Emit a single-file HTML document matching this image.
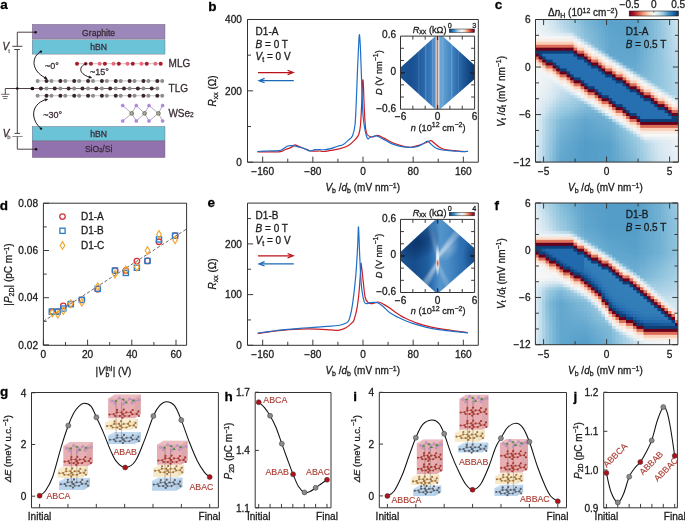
<!DOCTYPE html>
<html><head><meta charset="utf-8"><style>
html,body{margin:0;padding:0;background:#fff;width:685px;height:521px;overflow:hidden}
svg{display:block;will-change:transform}
text{font-family:"Liberation Sans",sans-serif;stroke-width:0.28px}
</style></head><body>
<svg width="685" height="521" viewBox="0 0 685 521">
<rect width="685" height="521" fill="#fff"/>
<rect x="32.2" y="24.3" width="132.8" height="14.599999999999998" fill="#9b87b9" stroke="#6d5f73" stroke-width="0.4"/>
<rect x="32.2" y="39.8" width="132.8" height="14.300000000000004" fill="#6bc3d8" stroke="#6d5f73" stroke-width="0.4"/>
<rect x="32.2" y="126.4" width="132.8" height="14.5" fill="#6bc3d8" stroke="#6d5f73" stroke-width="0.4"/>
<rect x="32.2" y="141.0" width="132.8" height="16.599999999999994" fill="#9272ae" stroke="#6d5f73" stroke-width="0.4"/>
<text x="98.6" y="35.7" font-size="8.6" fill="#3a2c36" stroke="#3a2c36" text-anchor="middle">Graphite</text>
<text x="98.6" y="50.2" font-size="8.6" fill="#3a2c36" stroke="#3a2c36" text-anchor="middle">hBN</text>
<text x="98.6" y="136.8" font-size="8.6" fill="#3a2c36" stroke="#3a2c36" text-anchor="middle">hBN</text>
<text x="98.6" y="152.1" font-size="8.6" fill="#3a2c36" stroke="#3a2c36" text-anchor="middle">SiO<tspan font-size="5.5">2</tspan>/Si</text>
<polyline points="35.6,32.2 17.3,32.2 17.3,46.3" fill="none" stroke="#3d2d2d" stroke-width="0.9"/>
<line x1="12.3" y1="46.3" x2="22.4" y2="46.3" stroke="#3d2d2d" stroke-width="0.9"/>
<line x1="14.2" y1="49.5" x2="19.9" y2="49.5" stroke="#3d2d2d" stroke-width="0.9"/>
<line x1="17.3" y1="49.5" x2="17.3" y2="133.4" stroke="#3d2d2d" stroke-width="0.9"/>
<line x1="14.6" y1="133.4" x2="20.1" y2="133.4" stroke="#3d2d2d" stroke-width="0.9"/>
<line x1="12.3" y1="136.5" x2="22.7" y2="136.5" stroke="#8a8080" stroke-width="0.9"/>
<polyline points="17.3,136.5 17.3,149.2 36.1,149.2" fill="none" stroke="#3d2d2d" stroke-width="0.9"/>
<circle cx="35.6" cy="32.2" r="1.25" fill="#1a1010"/>
<circle cx="36.1" cy="149.2" r="1.25" fill="#1a1010"/>
<polyline points="32.4,88.5 5.3,88.5 5.3,94.3" fill="none" stroke="#3d2d2d" stroke-width="0.9"/>
<line x1="1.1" y1="94.3" x2="9.6" y2="94.3" stroke="#3d2d2d" stroke-width="0.7"/>
<line x1="2.3" y1="96.5" x2="7.9" y2="96.5" stroke="#3d2d2d" stroke-width="0.7"/>
<line x1="3.2" y1="98.6" x2="7.3" y2="98.6" stroke="#3d2d2d" stroke-width="0.7"/>
<circle cx="17.3" cy="88.5" r="1.3" fill="#1a1010"/>
<text x="2.6" y="50.3" font-size="10" font-style="italic" fill="#3a2c36" stroke="#3a2c36">V</text>
<text x="8.2" y="52.6" font-size="6" fill="#7a7070" stroke="#7a7070">t</text>
<text x="2.8" y="136.7" font-size="10" font-style="italic" fill="#3a2c36" stroke="#3a2c36">V</text>
<text x="7.2" y="139.3" font-size="6" fill="#7a7070" stroke="#7a7070">b</text>
<line x1="77" y1="63.7" x2="160.7" y2="63.7" stroke="#b8a8a8" stroke-width="0.7"/>
<circle cx="77.00" cy="63.7" r="2.0" fill="#a81c2e"/>
<circle cx="90.95" cy="63.7" r="2.0" fill="#a81c2e"/>
<circle cx="104.90" cy="63.7" r="2.0" fill="#a81c2e"/>
<circle cx="118.85" cy="63.7" r="2.0" fill="#a81c2e"/>
<circle cx="132.80" cy="63.7" r="2.0" fill="#a81c2e"/>
<circle cx="146.75" cy="63.7" r="2.0" fill="#a81c2e"/>
<circle cx="160.70" cy="63.7" r="2.0" fill="#a81c2e"/>
<circle cx="85.70" cy="63.7" r="2.0" fill="#e86c7c"/>
<circle cx="99.64" cy="63.7" r="2.0" fill="#e86c7c"/>
<circle cx="113.58" cy="63.7" r="2.0" fill="#e86c7c"/>
<circle cx="127.52" cy="63.7" r="2.0" fill="#e86c7c"/>
<circle cx="141.46" cy="63.7" r="2.0" fill="#e86c7c"/>
<circle cx="155.40" cy="63.7" r="2.0" fill="#e86c7c"/>
<line x1="37.6" y1="80.9" x2="162.3" y2="80.9" stroke="#b0b0b0" stroke-width="0.7"/>
<circle cx="37.60" cy="80.9" r="2.0" fill="#8e8e8e"/>
<circle cx="51.45" cy="80.9" r="2.0" fill="#8e8e8e"/>
<circle cx="65.30" cy="80.9" r="2.0" fill="#8e8e8e"/>
<circle cx="79.15" cy="80.9" r="2.0" fill="#8e8e8e"/>
<circle cx="93.00" cy="80.9" r="2.0" fill="#8e8e8e"/>
<circle cx="106.85" cy="80.9" r="2.0" fill="#8e8e8e"/>
<circle cx="120.70" cy="80.9" r="2.0" fill="#8e8e8e"/>
<circle cx="134.55" cy="80.9" r="2.0" fill="#8e8e8e"/>
<circle cx="148.40" cy="80.9" r="2.0" fill="#8e8e8e"/>
<circle cx="162.25" cy="80.9" r="2.0" fill="#8e8e8e"/>
<circle cx="46.50" cy="80.9" r="2.0" fill="#3c2630"/>
<circle cx="60.35" cy="80.9" r="2.0" fill="#3c2630"/>
<circle cx="74.20" cy="80.9" r="2.0" fill="#3c2630"/>
<circle cx="88.05" cy="80.9" r="2.0" fill="#3c2630"/>
<circle cx="101.90" cy="80.9" r="2.0" fill="#3c2630"/>
<circle cx="115.75" cy="80.9" r="2.0" fill="#3c2630"/>
<circle cx="129.60" cy="80.9" r="2.0" fill="#3c2630"/>
<circle cx="143.45" cy="80.9" r="2.0" fill="#3c2630"/>
<circle cx="157.30" cy="80.9" r="2.0" fill="#3c2630"/>
<line x1="37.6" y1="95.7" x2="162.3" y2="95.7" stroke="#b0b0b0" stroke-width="0.7"/>
<circle cx="37.60" cy="95.7" r="2.0" fill="#8e8e8e"/>
<circle cx="51.45" cy="95.7" r="2.0" fill="#8e8e8e"/>
<circle cx="65.30" cy="95.7" r="2.0" fill="#8e8e8e"/>
<circle cx="79.15" cy="95.7" r="2.0" fill="#8e8e8e"/>
<circle cx="93.00" cy="95.7" r="2.0" fill="#8e8e8e"/>
<circle cx="106.85" cy="95.7" r="2.0" fill="#8e8e8e"/>
<circle cx="120.70" cy="95.7" r="2.0" fill="#8e8e8e"/>
<circle cx="134.55" cy="95.7" r="2.0" fill="#8e8e8e"/>
<circle cx="148.40" cy="95.7" r="2.0" fill="#8e8e8e"/>
<circle cx="162.25" cy="95.7" r="2.0" fill="#8e8e8e"/>
<circle cx="46.50" cy="95.7" r="2.0" fill="#3c2630"/>
<circle cx="60.35" cy="95.7" r="2.0" fill="#3c2630"/>
<circle cx="74.20" cy="95.7" r="2.0" fill="#3c2630"/>
<circle cx="88.05" cy="95.7" r="2.0" fill="#3c2630"/>
<circle cx="101.90" cy="95.7" r="2.0" fill="#3c2630"/>
<circle cx="115.75" cy="95.7" r="2.0" fill="#3c2630"/>
<circle cx="129.60" cy="95.7" r="2.0" fill="#3c2630"/>
<circle cx="143.45" cy="95.7" r="2.0" fill="#3c2630"/>
<circle cx="157.30" cy="95.7" r="2.0" fill="#3c2630"/>
<line x1="32.4" y1="88.5" x2="157.3" y2="88.5" stroke="#4a3a40" stroke-width="0.75"/>
<circle cx="32.4" cy="88.5" r="1.85" fill="#1a1010"/>
<circle cx="46.50" cy="88.5" r="2.0" fill="#8e8e8e"/>
<circle cx="40.90" cy="88.5" r="2.0" fill="#3c2630"/>
<circle cx="60.35" cy="88.5" r="2.0" fill="#8e8e8e"/>
<circle cx="54.75" cy="88.5" r="2.0" fill="#3c2630"/>
<circle cx="74.20" cy="88.5" r="2.0" fill="#8e8e8e"/>
<circle cx="68.60" cy="88.5" r="2.0" fill="#3c2630"/>
<circle cx="88.05" cy="88.5" r="2.0" fill="#8e8e8e"/>
<circle cx="82.45" cy="88.5" r="2.0" fill="#3c2630"/>
<circle cx="101.90" cy="88.5" r="2.0" fill="#8e8e8e"/>
<circle cx="96.30" cy="88.5" r="2.0" fill="#3c2630"/>
<circle cx="115.75" cy="88.5" r="2.0" fill="#8e8e8e"/>
<circle cx="110.15" cy="88.5" r="2.0" fill="#3c2630"/>
<circle cx="129.60" cy="88.5" r="2.0" fill="#8e8e8e"/>
<circle cx="124.00" cy="88.5" r="2.0" fill="#3c2630"/>
<circle cx="143.45" cy="88.5" r="2.0" fill="#8e8e8e"/>
<circle cx="137.85" cy="88.5" r="2.0" fill="#3c2630"/>
<circle cx="157.30" cy="88.5" r="2.0" fill="#8e8e8e"/>
<circle cx="151.70" cy="88.5" r="2.0" fill="#3c2630"/>
<text x="168.6" y="67.3" font-size="10" fill="#3a2c36" stroke="#3a2c36">MLG</text>
<text x="168.6" y="92.0" font-size="10" fill="#3a2c36" stroke="#3a2c36">TLG</text>
<text x="168.4" y="117.0" font-size="10" fill="#3a2c36" stroke="#3a2c36">WSe<tspan font-size="6.5">2</tspan></text>
<line x1="122.7" y1="105.5" x2="127.19999999999999" y2="109.45" stroke="#9b6fd0" stroke-width="0.7"/>
<line x1="127.19999999999999" y1="109.45" x2="131.7" y2="113.4" stroke="#8a8a80" stroke-width="0.7"/>
<line x1="122.7" y1="121.0" x2="127.19999999999999" y2="117.2" stroke="#9b6fd0" stroke-width="0.7"/>
<line x1="127.19999999999999" y1="117.2" x2="131.7" y2="113.4" stroke="#8a8a80" stroke-width="0.7"/>
<line x1="136.3" y1="105.5" x2="134.0" y2="109.45" stroke="#9b6fd0" stroke-width="0.7"/>
<line x1="134.0" y1="109.45" x2="131.7" y2="113.4" stroke="#8a8a80" stroke-width="0.7"/>
<line x1="136.3" y1="121.0" x2="134.0" y2="117.2" stroke="#9b6fd0" stroke-width="0.7"/>
<line x1="134.0" y1="117.2" x2="131.7" y2="113.4" stroke="#8a8a80" stroke-width="0.7"/>
<line x1="136.3" y1="105.5" x2="140.45" y2="109.45" stroke="#9b6fd0" stroke-width="0.7"/>
<line x1="140.45" y1="109.45" x2="144.6" y2="113.4" stroke="#8a8a80" stroke-width="0.7"/>
<line x1="136.3" y1="121.0" x2="140.45" y2="117.2" stroke="#9b6fd0" stroke-width="0.7"/>
<line x1="140.45" y1="117.2" x2="144.6" y2="113.4" stroke="#8a8a80" stroke-width="0.7"/>
<line x1="149.0" y1="105.5" x2="146.8" y2="109.45" stroke="#9b6fd0" stroke-width="0.7"/>
<line x1="146.8" y1="109.45" x2="144.6" y2="113.4" stroke="#8a8a80" stroke-width="0.7"/>
<line x1="149.0" y1="121.0" x2="146.8" y2="117.2" stroke="#9b6fd0" stroke-width="0.7"/>
<line x1="146.8" y1="117.2" x2="144.6" y2="113.4" stroke="#8a8a80" stroke-width="0.7"/>
<line x1="149.0" y1="105.5" x2="153.7" y2="109.45" stroke="#9b6fd0" stroke-width="0.7"/>
<line x1="153.7" y1="109.45" x2="158.4" y2="113.4" stroke="#8a8a80" stroke-width="0.7"/>
<line x1="149.0" y1="121.0" x2="153.7" y2="117.2" stroke="#9b6fd0" stroke-width="0.7"/>
<line x1="153.7" y1="117.2" x2="158.4" y2="113.4" stroke="#8a8a80" stroke-width="0.7"/>
<line x1="162.6" y1="105.5" x2="160.5" y2="109.45" stroke="#9b6fd0" stroke-width="0.7"/>
<line x1="160.5" y1="109.45" x2="158.4" y2="113.4" stroke="#8a8a80" stroke-width="0.7"/>
<line x1="162.6" y1="121.0" x2="160.5" y2="117.2" stroke="#9b6fd0" stroke-width="0.7"/>
<line x1="160.5" y1="117.2" x2="158.4" y2="113.4" stroke="#8a8a80" stroke-width="0.7"/>
<circle cx="122.7" cy="105.5" r="1.5" fill="#b389e6" stroke="#8a5cc0" stroke-width="0.4"/>
<circle cx="122.7" cy="121.0" r="1.5" fill="#b389e6" stroke="#8a5cc0" stroke-width="0.4"/>
<circle cx="136.3" cy="105.5" r="1.5" fill="#b389e6" stroke="#8a5cc0" stroke-width="0.4"/>
<circle cx="136.3" cy="121.0" r="1.5" fill="#b389e6" stroke="#8a5cc0" stroke-width="0.4"/>
<circle cx="149.0" cy="105.5" r="1.5" fill="#b389e6" stroke="#8a5cc0" stroke-width="0.4"/>
<circle cx="149.0" cy="121.0" r="1.5" fill="#b389e6" stroke="#8a5cc0" stroke-width="0.4"/>
<circle cx="162.6" cy="105.5" r="1.5" fill="#b389e6" stroke="#8a5cc0" stroke-width="0.4"/>
<circle cx="162.6" cy="121.0" r="1.5" fill="#b389e6" stroke="#8a5cc0" stroke-width="0.4"/>
<circle cx="131.7" cy="113.4" r="1.9" fill="#a8a89a" stroke="#4a4a40" stroke-width="0.6"/>
<circle cx="144.6" cy="113.4" r="1.9" fill="#a8a89a" stroke="#4a4a40" stroke-width="0.6"/>
<circle cx="158.4" cy="113.4" r="1.9" fill="#a8a89a" stroke="#4a4a40" stroke-width="0.6"/>
<circle cx="40.9" cy="51.6" r="1.2" fill="#1a1010"/>
<path d="M40.9,51.6 C32,56 30,70 45.5,78" fill="none" stroke="#1e1418" stroke-width="1.0"/><polygon points="47.6,79.2 43.87,78.76 45.56,76.04" fill="#1e1418"/>
<circle cx="85.7" cy="63.7" r="1.2" fill="#1a1010"/>
<path d="M85.7,63.7 C80,66 77,73 89.5,77.2" fill="none" stroke="#1e1418" stroke-width="1.0"/><polygon points="92.2,78.0 88.47,78.47 89.46,75.43" fill="#1e1418"/>
<circle cx="41.0" cy="128.6" r="1.2" fill="#1a1010"/>
<path d="M41,128.6 C31,120 30,105 45.5,99.6" fill="none" stroke="#1e1418" stroke-width="1.0"/><polygon points="48.2,98.9 45.55,101.57 44.46,98.56" fill="#1e1418"/>
<text x="45" y="68.9" font-size="9" fill="#3a2c36" stroke="#3a2c36">~0°</text>
<text x="90" y="75.1" font-size="9" fill="#3a2c36" stroke="#3a2c36">~15°</text>
<text x="43.2" y="118.3" font-size="9" fill="#3a2c36" stroke="#3a2c36">~30°</text>
<line x1="262.68" y1="162.2" x2="262.68" y2="156.6" stroke="#333333" stroke-width="0.95" />
<text x="262.68" y="175.2" font-size="10.1" text-anchor="middle" fill="#1a1a1a" stroke="#1a1a1a" >−160</text>
<line x1="312.84" y1="162.2" x2="312.84" y2="156.6" stroke="#333333" stroke-width="0.95" />
<text x="312.84" y="175.2" font-size="10.1" text-anchor="middle" fill="#1a1a1a" stroke="#1a1a1a" >−80</text>
<line x1="363" y1="162.2" x2="363" y2="156.6" stroke="#333333" stroke-width="0.95" />
<text x="363" y="175.2" font-size="10.1" text-anchor="middle" fill="#1a1a1a" stroke="#1a1a1a" >0</text>
<line x1="413.16" y1="162.2" x2="413.16" y2="156.6" stroke="#333333" stroke-width="0.95" />
<text x="413.16" y="175.2" font-size="10.1" text-anchor="middle" fill="#1a1a1a" stroke="#1a1a1a" >80</text>
<line x1="463.32" y1="162.2" x2="463.32" y2="156.6" stroke="#333333" stroke-width="0.95" />
<text x="463.32" y="175.2" font-size="10.1" text-anchor="middle" fill="#1a1a1a" stroke="#1a1a1a" >160</text>
<line x1="287.76" y1="162.2" x2="287.76" y2="158.7" stroke="#333333" stroke-width="0.95" />
<line x1="337.92" y1="162.2" x2="337.92" y2="158.7" stroke="#333333" stroke-width="0.95" />
<line x1="388.08" y1="162.2" x2="388.08" y2="158.7" stroke="#333333" stroke-width="0.95" />
<line x1="438.24" y1="162.2" x2="438.24" y2="158.7" stroke="#333333" stroke-width="0.95" />
<line x1="247.5" y1="162.2" x2="253.1" y2="162.2" stroke="#333333" stroke-width="0.95" />
<text x="241.9" y="165.9" font-size="10.1" text-anchor="end" fill="#1a1a1a" stroke="#1a1a1a" >0</text>
<line x1="247.5" y1="90.84" x2="253.1" y2="90.84" stroke="#333333" stroke-width="0.95" />
<text x="241.9" y="94.54" font-size="10.1" text-anchor="end" fill="#1a1a1a" stroke="#1a1a1a" >200</text>
<line x1="247.5" y1="19.48" x2="253.1" y2="19.48" stroke="#333333" stroke-width="0.95" />
<text x="241.9" y="23.18" font-size="10.1" text-anchor="end" fill="#1a1a1a" stroke="#1a1a1a" >400</text>
<line x1="247.5" y1="126.52" x2="251" y2="126.52" stroke="#333333" stroke-width="0.95" />
<line x1="247.5" y1="55.16" x2="251" y2="55.16" stroke="#333333" stroke-width="0.95" />
<line x1="247.5" y1="19.5" x2="247.5" y2="162.2" stroke="#333333" stroke-width="1.0" /><line x1="247.5" y1="162.2" x2="478.3" y2="162.2" stroke="#333333" stroke-width="1.0" /><line x1="478.3" y1="19.5" x2="478.3" y2="162.2" stroke="#333333" stroke-width="1.0" /><line x1="247.5" y1="19.5" x2="478.3" y2="19.5" stroke="#333333" stroke-width="1.0" />
<path d="M257.4,151.8 C260.98,151.8 274.3,152.15 278.9,151.8 C283.5,151.45 282.95,150.43 285,149.7 C287.05,148.97 289.58,148.22 291.2,147.4 C292.82,146.58 293.4,144.93 294.7,144.8 C296,144.67 297.12,145.87 299,146.6 C300.88,147.33 304.1,148.47 306,149.2 C307.9,149.93 308.07,150.7 310.4,151 C312.73,151.3 317.8,150.92 320,151 C322.2,151.08 321.83,151.6 323.6,151.5 C325.37,151.4 327.98,150.83 330.6,150.4 C333.22,149.97 336.38,149.68 339.3,148.9 C342.22,148.12 345.47,147.25 348.1,145.7 C350.73,144.15 353.33,141.47 355.1,139.6 C356.88,137.73 357.85,136.93 358.75,134.5 C359.65,132.07 360,130.33 360.5,125 C361,119.67 361.42,109.57 361.75,102.5 C362.08,95.43 362.25,85.92 362.5,82.6 C362.75,79.28 362.96,78.45 363.25,82.6 C363.54,86.75 363.88,100.02 364.25,107.5 C364.62,114.98 364.96,122.92 365.5,127.5 C366.04,132.08 366.33,133.42 367.5,135 C368.67,136.58 370.83,136.93 372.5,137 C374.17,137.07 375.5,135.17 377.5,135.4 C379.5,135.63 381.87,137.13 384.5,138.4 C387.13,139.67 390.08,141.67 393.3,143 C396.52,144.33 400.88,145.68 403.8,146.4 C406.72,147.12 408.17,147.53 410.8,147.3 C413.43,147.07 416.97,145.82 419.6,145 C422.23,144.18 424.7,143.12 426.6,142.4 C428.5,141.68 429.68,140.55 431,140.7 C432.32,140.85 433.2,142.28 434.5,143.3 C435.8,144.32 437.2,145.78 438.8,146.8 C440.4,147.82 441.47,148.77 444.1,149.4 C446.73,150.03 451.1,150.22 454.6,150.6 C458.1,150.98 463.35,151.52 465.1,151.7" fill="none" stroke="#cc1d24" stroke-width="1.2"/>
<path d="M257.4,151.5 C259.08,151.42 263.92,151.15 267.5,151 C271.08,150.85 276.27,150.95 278.9,150.6 C281.53,150.25 281.83,149.67 283.3,148.9 C284.77,148.13 286.25,146.53 287.7,146 C289.15,145.47 290.7,145.67 292,145.7 C293.3,145.73 293.73,145.82 295.5,146.2 C297.27,146.58 300.12,147.2 302.6,148 C305.08,148.8 308.37,150.73 310.4,151 C312.43,151.27 313.18,149.82 314.8,149.6 C316.42,149.38 318.35,149.68 320.1,149.7 C321.85,149.72 323.55,149.87 325.3,149.7 C327.05,149.53 328.55,149.28 330.6,148.7 C332.65,148.12 335.55,146.85 337.6,146.2 C339.65,145.55 341.15,145.77 342.9,144.8 C344.65,143.83 346.5,141.92 348.1,140.4 C349.7,138.88 351.35,138.27 352.5,135.7 C353.65,133.13 354.38,130.53 355,125 C355.62,119.47 355.83,111.67 356.25,102.5 C356.67,93.33 357.08,80 357.5,70 C357.92,60 358.42,48.33 358.75,42.5 C359.08,36.67 359.21,33.75 359.5,35 C359.79,36.25 360.12,41.67 360.5,50 C360.88,58.33 361.33,74.17 361.75,85 C362.17,95.83 362.46,107.5 363,115 C363.54,122.5 364.25,126.08 365,130 C365.75,133.92 366.67,137.25 367.5,138.5 C368.33,139.75 368.48,137.93 370,137.5 C371.52,137.07 374.47,135.67 376.6,135.9 C378.73,136.13 380.32,137.62 382.8,138.9 C385.28,140.18 388.58,142.37 391.5,143.6 C394.42,144.83 397.08,145.68 400.3,146.3 C403.52,146.92 407.88,147.3 410.8,147.3 C413.72,147.3 415.75,146.88 417.8,146.3 C419.85,145.72 421.5,144.65 423.1,143.8 C424.7,142.95 426.23,141.28 427.4,141.2 C428.57,141.12 428.78,142.22 430.1,143.3 C431.42,144.38 433.27,146.58 435.3,147.7 C437.33,148.82 439.37,149.48 442.3,150 C445.23,150.52 449.68,150.52 452.9,150.8 C456.12,151.08 459.07,151.62 461.6,151.7 C464.13,151.78 467.02,151.37 468.1,151.3" fill="none" stroke="#1f6fc8" stroke-width="1.2"/>
<text x="325.4" y="191.2" font-size="10" fill="#1a1a1a" stroke="#1a1a1a"><tspan font-style="italic">V</tspan><tspan font-size="7" dy="1.6">b</tspan><tspan dy="-1.6"> /</tspan><tspan font-style="italic">d</tspan><tspan font-size="7" dy="1.6">b</tspan><tspan dy="-1.6"> (mV nm</tspan><tspan font-size="7" dy="-3.5">−1</tspan><tspan dy="3.5">)</tspan></text>
<text transform="translate(216.2,90.9) rotate(-90)" font-size="10" text-anchor="middle" fill="#1a1a1a" stroke="#1a1a1a"><tspan font-style="italic">R</tspan><tspan font-size="7" dy="1.6">xx</tspan><tspan dy="-1.6"> (Ω)</tspan></text>
<text x="255.6" y="35" font-size="10" text-anchor="start" fill="#1a1a1a" stroke="#1a1a1a" >D1-A</text>
<text x="255.6" y="47.6" font-size="10" fill="#1a1a1a" stroke="#1a1a1a"><tspan font-style="italic">B</tspan> = 0 T</text>
<text x="255.6" y="60.2" font-size="10" fill="#1a1a1a" stroke="#1a1a1a"><tspan font-style="italic">V</tspan><tspan font-size="7" dy="1.6">t</tspan><tspan dy="-1.6"> = 0 V</tspan></text>
<line x1="258" y1="72.55" x2="291.5" y2="72.55" stroke="#bb1118" stroke-width="1.3" />
<polyline points="287.6,70.25 293.1,72.55 287.6,74.65" fill="none" stroke="#bb1118" stroke-width="1.3"/>
<line x1="260.5" y1="80.65" x2="293.8" y2="80.65" stroke="#1a68b8" stroke-width="1.3" />
<polyline points="264.6,78.35 259.1,80.65 264.6,82.75" fill="none" stroke="#1a68b8" stroke-width="1.3"/>
<defs><clipPath id="dmb"><polygon points="400.5,67.6 435.6,36.1 442.5,36.1 474.6,65.3 474.6,79 440,109.2 435.4,109.2 400.5,77.5"/></clipPath>
<linearGradient id="gb1" gradientUnits="userSpaceOnUse" x1="400.5" x2="474.6" y1="0" y2="0">
<stop offset="0.0000" stop-color="#1b5494"/>
<stop offset="0.1282" stop-color="#184f90"/>
<stop offset="0.2362" stop-color="#1f5a9c"/>
<stop offset="0.3441" stop-color="#2c6cb0"/>
<stop offset="0.4116" stop-color="#3a7bbd"/>
<stop offset="0.4656" stop-color="#5292ca"/>
<stop offset="0.4818" stop-color="#d8e6f0"/>
<stop offset="0.4926" stop-color="#e86a48"/>
<stop offset="0.5047" stop-color="#e86a48"/>
<stop offset="0.5142" stop-color="#d8e6f0"/>
<stop offset="0.5331" stop-color="#68a6d4"/>
<stop offset="0.6140" stop-color="#5596cc"/>
<stop offset="0.6950" stop-color="#3f82c0"/>
<stop offset="0.8030" stop-color="#2765a8"/>
<stop offset="0.8974" stop-color="#174d8c"/>
<stop offset="1.0000" stop-color="#0a3468"/>
</linearGradient></defs>
<g clip-path="url(#dmb)">
<rect x="400.5" y="36.1" width="74.1" height="73.1" fill="url(#gb1)"/>
<rect x="418.2" y="36.1" width="1.2" height="73.1" fill="#ffffff" opacity="0.12"/>
<rect x="425" y="36.1" width="1.4" height="73.1" fill="#ffffff" opacity="0.18"/>
<rect x="432" y="36.1" width="1.3" height="73.1" fill="#ffffff" opacity="0.16"/>
<rect x="442.3" y="36.1" width="1.2" height="73.1" fill="#ffffff" opacity="0.15"/>
<rect x="451" y="36.1" width="1.5" height="73.1" fill="#ffffff" opacity="0.18"/>
<rect x="458" y="36.1" width="1.0" height="73.1" fill="#ffffff" opacity="0.1"/>
</g>
<line x1="400.5" y1="72.65" x2="404.5" y2="72.65" stroke="#000" stroke-width="1.3" />
<line x1="474.6" y1="72.65" x2="470.6" y2="72.65" stroke="#000" stroke-width="1.3" />
<line x1="437.55" y1="36.1" x2="437.55" y2="40.1" stroke="#000" stroke-width="1.1" />
<line x1="437.55" y1="109.2" x2="437.55" y2="105.2" stroke="#000" stroke-width="1.1" />
<line x1="412.85" y1="109.2" x2="412.85" y2="105.7" stroke="#333333" stroke-width="0.95" /><line x1="412.85" y1="36.1" x2="412.85" y2="39.6" stroke="#333333" stroke-width="0.95" /><line x1="425.2" y1="109.2" x2="425.2" y2="105.7" stroke="#333333" stroke-width="0.95" /><line x1="425.2" y1="36.1" x2="425.2" y2="39.6" stroke="#333333" stroke-width="0.95" /><line x1="437.55" y1="109.2" x2="437.55" y2="105.7" stroke="#333333" stroke-width="0.95" /><line x1="437.55" y1="36.1" x2="437.55" y2="39.6" stroke="#333333" stroke-width="0.95" /><line x1="449.9" y1="109.2" x2="449.9" y2="105.7" stroke="#333333" stroke-width="0.95" /><line x1="449.9" y1="36.1" x2="449.9" y2="39.6" stroke="#333333" stroke-width="0.95" /><line x1="462.25" y1="109.2" x2="462.25" y2="105.7" stroke="#333333" stroke-width="0.95" /><line x1="462.25" y1="36.1" x2="462.25" y2="39.6" stroke="#333333" stroke-width="0.95" /><line x1="400.5" y1="48.28" x2="404" y2="48.28" stroke="#333333" stroke-width="0.95" /><line x1="474.6" y1="48.28" x2="471.1" y2="48.28" stroke="#333333" stroke-width="0.95" /><line x1="400.5" y1="60.47" x2="404" y2="60.47" stroke="#333333" stroke-width="0.95" /><line x1="474.6" y1="60.47" x2="471.1" y2="60.47" stroke="#333333" stroke-width="0.95" /><line x1="400.5" y1="72.65" x2="404" y2="72.65" stroke="#333333" stroke-width="0.95" /><line x1="474.6" y1="72.65" x2="471.1" y2="72.65" stroke="#333333" stroke-width="0.95" /><line x1="400.5" y1="84.83" x2="404" y2="84.83" stroke="#333333" stroke-width="0.95" /><line x1="474.6" y1="84.83" x2="471.1" y2="84.83" stroke="#333333" stroke-width="0.95" /><line x1="400.5" y1="97.02" x2="404" y2="97.02" stroke="#333333" stroke-width="0.95" /><line x1="474.6" y1="97.02" x2="471.1" y2="97.02" stroke="#333333" stroke-width="0.95" /><line x1="400.5" y1="36.1" x2="400.5" y2="109.2" stroke="#333333" stroke-width="1.0" /><line x1="400.5" y1="109.2" x2="474.6" y2="109.2" stroke="#333333" stroke-width="1.0" /><line x1="474.6" y1="36.1" x2="474.6" y2="109.2" stroke="#333333" stroke-width="1.0" /><line x1="400.5" y1="36.1" x2="474.6" y2="36.1" stroke="#333333" stroke-width="1.0" /><text x="400.5" y="120.4" font-size="10.1" text-anchor="middle" fill="#1a1a1a" stroke="#1a1a1a" >−6</text><text x="437.55" y="120.4" font-size="10.1" text-anchor="middle" fill="#1a1a1a" stroke="#1a1a1a" >0</text><text x="474.6" y="120.4" font-size="10.1" text-anchor="middle" fill="#1a1a1a" stroke="#1a1a1a" >6</text><text x="396.1" y="38.4" font-size="10.1" text-anchor="end" fill="#1a1a1a" stroke="#1a1a1a" >0.6</text><text x="396.1" y="74.95" font-size="10.1" text-anchor="end" fill="#1a1a1a" stroke="#1a1a1a" >0</text><text x="396.1" y="111.5" font-size="10.1" text-anchor="end" fill="#1a1a1a" stroke="#1a1a1a" >−0.6</text><text x="410.85" y="130.7" font-size="9.2" fill="#1a1a1a" stroke="#1a1a1a"><tspan font-style="italic">n</tspan> (10<tspan font-size="7" dy="-3.5">12</tspan><tspan dy="3.5"> cm</tspan><tspan font-size="7" dy="-3.5">−2</tspan><tspan dy="3.5">)</tspan></text><text transform="translate(381.5,72.65) rotate(-90)" font-size="9.2" text-anchor="middle" fill="#1a1a1a" stroke="#1a1a1a"><tspan font-style="italic">D</tspan> (V nm<tspan font-size="7" dy="-3.5">−1</tspan><tspan dy="3.5">)</tspan></text><defs><linearGradient id="icb36" x1="0" x2="1" y1="0" y2="0"><stop offset="0.0" stop-color="#053061"/><stop offset="0.1" stop-color="#2166ac"/><stop offset="0.2" stop-color="#4393c3"/><stop offset="0.3" stop-color="#92c5de"/><stop offset="0.4" stop-color="#d1e5f0"/><stop offset="0.5" stop-color="#f7f7f7"/><stop offset="0.6" stop-color="#fddbc7"/><stop offset="0.7" stop-color="#f4a582"/><stop offset="0.8" stop-color="#d6604d"/><stop offset="0.9" stop-color="#b2182b"/><stop offset="1.0" stop-color="#67001f"/></linearGradient></defs><rect x="449.3" y="29" width="25.2" height="3.5" fill="url(#icb36)" stroke="#222" stroke-width="0.5"/><text x="449.7" y="27.9" font-size="7.2" text-anchor="middle" fill="#1a1a1a" stroke="#1a1a1a" >0</text><text x="474.2" y="27.9" font-size="7.2" text-anchor="middle" fill="#1a1a1a" stroke="#1a1a1a" >3</text><text x="412.7" y="32.5" font-size="9.2" fill="#1a1a1a" stroke="#1a1a1a"><tspan font-style="italic">R</tspan><tspan font-size="7" dy="1.6">xx</tspan><tspan dy="-1.6"> (kΩ)</tspan></text>
<line x1="262.68" y1="345.3" x2="262.68" y2="339.7" stroke="#333333" stroke-width="0.95" />
<text x="262.68" y="358.3" font-size="10.1" text-anchor="middle" fill="#1a1a1a" stroke="#1a1a1a" >−160</text>
<line x1="312.84" y1="345.3" x2="312.84" y2="339.7" stroke="#333333" stroke-width="0.95" />
<text x="312.84" y="358.3" font-size="10.1" text-anchor="middle" fill="#1a1a1a" stroke="#1a1a1a" >−80</text>
<line x1="363" y1="345.3" x2="363" y2="339.7" stroke="#333333" stroke-width="0.95" />
<text x="363" y="358.3" font-size="10.1" text-anchor="middle" fill="#1a1a1a" stroke="#1a1a1a" >0</text>
<line x1="413.16" y1="345.3" x2="413.16" y2="339.7" stroke="#333333" stroke-width="0.95" />
<text x="413.16" y="358.3" font-size="10.1" text-anchor="middle" fill="#1a1a1a" stroke="#1a1a1a" >80</text>
<line x1="463.32" y1="345.3" x2="463.32" y2="339.7" stroke="#333333" stroke-width="0.95" />
<text x="463.32" y="358.3" font-size="10.1" text-anchor="middle" fill="#1a1a1a" stroke="#1a1a1a" >160</text>
<line x1="287.76" y1="345.3" x2="287.76" y2="341.8" stroke="#333333" stroke-width="0.95" />
<line x1="337.92" y1="345.3" x2="337.92" y2="341.8" stroke="#333333" stroke-width="0.95" />
<line x1="388.08" y1="345.3" x2="388.08" y2="341.8" stroke="#333333" stroke-width="0.95" />
<line x1="438.24" y1="345.3" x2="438.24" y2="341.8" stroke="#333333" stroke-width="0.95" />
<line x1="247.5" y1="345.3" x2="253.1" y2="345.3" stroke="#333333" stroke-width="0.95" />
<text x="241.9" y="349" font-size="10.1" text-anchor="end" fill="#1a1a1a" stroke="#1a1a1a" >0</text>
<line x1="247.5" y1="294.6" x2="253.1" y2="294.6" stroke="#333333" stroke-width="0.95" />
<text x="241.9" y="298.3" font-size="10.1" text-anchor="end" fill="#1a1a1a" stroke="#1a1a1a" >100</text>
<line x1="247.5" y1="243.9" x2="253.1" y2="243.9" stroke="#333333" stroke-width="0.95" />
<text x="241.9" y="247.6" font-size="10.1" text-anchor="end" fill="#1a1a1a" stroke="#1a1a1a" >200</text>
<line x1="247.5" y1="319.95" x2="251" y2="319.95" stroke="#333333" stroke-width="0.95" />
<line x1="247.5" y1="269.25" x2="251" y2="269.25" stroke="#333333" stroke-width="0.95" />
<line x1="247.5" y1="218.55" x2="251" y2="218.55" stroke="#333333" stroke-width="0.95" />
<line x1="247.5" y1="203.1" x2="247.5" y2="345.3" stroke="#333333" stroke-width="1.0" /><line x1="247.5" y1="345.3" x2="478.3" y2="345.3" stroke="#333333" stroke-width="1.0" /><line x1="478.3" y1="203.1" x2="478.3" y2="345.3" stroke="#333333" stroke-width="1.0" /><line x1="247.5" y1="203.1" x2="478.3" y2="203.1" stroke="#333333" stroke-width="1.0" />
<path d="M257.7,333.5 C261.22,333.02 271.77,331.33 278.8,330.6 C285.83,329.87 293.5,329.35 299.9,329.1 C306.3,328.85 312.08,328.97 317.2,329.1 C322.32,329.23 327.08,329.7 330.6,329.9 C334.12,330.1 335.73,330.65 338.3,330.3 C340.87,329.95 343.75,329.02 346,327.8 C348.25,326.58 350.45,324.35 351.8,323 C353.15,321.65 353.22,322.27 354.1,319.7 C354.98,317.13 356.27,312.3 357.1,307.6 C357.93,302.9 358.53,297.43 359.1,291.5 C359.67,285.57 360.17,276.7 360.5,272 C360.83,267.3 360.65,261.73 361.1,263.3 C361.55,264.87 362.52,275.7 363.2,281.4 C363.88,287.1 364.37,293.97 365.2,297.5 C366.03,301.03 367.03,301.58 368.2,302.6 C369.37,303.62 370.52,303.7 372.2,303.6 C373.88,303.5 376.28,301.83 378.3,302 C380.32,302.17 382.35,303.57 384.3,304.6 C386.25,305.63 388.22,306.97 390,308.2 C391.78,309.43 393.33,310.82 395,312 C396.67,313.18 398.25,314.25 400,315.3 C401.75,316.35 402.53,316.95 405.5,318.3 C408.47,319.65 413.7,321.98 417.8,323.4 C421.9,324.82 425.72,325.8 430.1,326.8 C434.48,327.8 439.43,328.65 444.1,329.4 C448.77,330.15 454.17,330.77 458.1,331.3 C462.03,331.83 466.1,332.38 467.7,332.6" fill="none" stroke="#cc1d24" stroke-width="1.2"/>
<path d="M257.7,333 C259.62,332.77 264.72,332.15 269.2,331.6 C273.68,331.05 279.48,330.25 284.6,329.7 C289.72,329.15 295.1,328.68 299.9,328.3 C304.7,327.92 308.92,327.72 313.4,327.4 C317.88,327.08 322.65,326.72 326.8,326.4 C330.95,326.08 335.1,326.07 338.3,325.5 C341.5,324.93 344.2,323.97 346,323 C347.8,322.03 348.05,322.6 349.1,319.7 C350.15,316.8 351.18,312.98 352.3,305.6 C353.42,298.22 354.9,285.5 355.8,275.4 C356.7,265.3 357.25,253.05 357.7,245 C358.15,236.95 358.17,225.38 358.5,227.1 C358.83,228.82 359.22,245.57 359.7,255.3 C360.18,265.03 360.65,277.78 361.4,285.5 C362.15,293.22 363.23,298.58 364.2,301.6 C365.17,304.62 366.2,303.43 367.2,303.6 C368.2,303.77 368.53,302.77 370.2,302.6 C371.87,302.43 375.15,302.03 377.2,302.6 C379.25,303.17 380.37,304.3 382.5,306 C384.63,307.7 387.42,310.92 390,312.8 C392.58,314.68 395.5,316.02 398,317.3 C400.5,318.58 402.57,319.48 405,320.5 C407.43,321.52 409,322.27 412.6,323.4 C416.2,324.53 422.23,326.27 426.6,327.3 C430.97,328.33 434.42,328.93 438.8,329.6 C443.18,330.27 448.08,330.75 452.9,331.3 C457.72,331.85 465.23,332.63 467.7,332.9" fill="none" stroke="#1f6fc8" stroke-width="1.2"/>
<text x="325.4" y="374.3" font-size="10" fill="#1a1a1a" stroke="#1a1a1a"><tspan font-style="italic">V</tspan><tspan font-size="7" dy="1.6">b</tspan><tspan dy="-1.6"> /</tspan><tspan font-style="italic">d</tspan><tspan font-size="7" dy="1.6">b</tspan><tspan dy="-1.6"> (mV nm</tspan><tspan font-size="7" dy="-3.5">−1</tspan><tspan dy="3.5">)</tspan></text>
<text transform="translate(216.2,274) rotate(-90)" font-size="10" text-anchor="middle" fill="#1a1a1a" stroke="#1a1a1a"><tspan font-style="italic">R</tspan><tspan font-size="7" dy="1.6">xx</tspan><tspan dy="-1.6"> (Ω)</tspan></text>
<text x="255.6" y="219" font-size="10" text-anchor="start" fill="#1a1a1a" stroke="#1a1a1a" >D1-B</text>
<text x="255.6" y="231.6" font-size="10" fill="#1a1a1a" stroke="#1a1a1a"><tspan font-style="italic">B</tspan> = 0 T</text>
<text x="255.6" y="244.2" font-size="10" fill="#1a1a1a" stroke="#1a1a1a"><tspan font-style="italic">V</tspan><tspan font-size="7" dy="1.6">t</tspan><tspan dy="-1.6"> = 0 V</tspan></text>
<line x1="258" y1="255.8" x2="291.5" y2="255.8" stroke="#bb1118" stroke-width="1.3" />
<polyline points="287.6,253.5 293.1,255.8 287.6,257.9" fill="none" stroke="#bb1118" stroke-width="1.3"/>
<line x1="260.5" y1="263.9" x2="293.8" y2="263.9" stroke="#1a68b8" stroke-width="1.3" />
<polyline points="264.6,261.6 259.1,263.9 264.6,266" fill="none" stroke="#1a68b8" stroke-width="1.3"/>
<defs><clipPath id="dme"><polygon points="400.5,252.1 435.6,219.4 441.8,219.4 474.6,248.3 474.6,261.3 439.2,292.5 435.6,292.5 400.5,260.5"/></clipPath>
<linearGradient id="ge1" gradientUnits="userSpaceOnUse" x1="400.5" x2="474.6" y1="0" y2="0">
<stop offset="0.0000" stop-color="#1a5392"/>
<stop offset="0.1957" stop-color="#174d8c"/>
<stop offset="0.3711" stop-color="#1f5e9f"/>
<stop offset="0.4656" stop-color="#3b7dbd"/>
<stop offset="0.5331" stop-color="#5495cb"/>
<stop offset="0.6410" stop-color="#4a8cc6"/>
<stop offset="0.8030" stop-color="#3174b6"/>
<stop offset="1.0000" stop-color="#1b5898"/>
</linearGradient>
<radialGradient id="gedk"><stop offset="0" stop-color="#082c60" stop-opacity="0.75"/><stop offset="1" stop-color="#082c60" stop-opacity="0"/></radialGradient>
<radialGradient id="gelt"><stop offset="0" stop-color="#ffffff" stop-opacity="0.55"/><stop offset="1" stop-color="#ffffff" stop-opacity="0"/></radialGradient>
<radialGradient id="ge2"><stop offset="0" stop-color="#ffffff" stop-opacity="1"/><stop offset="0.45" stop-color="#f0f4f8" stop-opacity="0.85"/><stop offset="1" stop-color="#ffffff" stop-opacity="0"/></radialGradient>
<radialGradient id="ge3"><stop offset="0" stop-color="#d8402e"/><stop offset="0.55" stop-color="#ee8a6a" stop-opacity="0.9"/><stop offset="1" stop-color="#fbd0c0" stop-opacity="0"/></radialGradient></defs>
<g clip-path="url(#dme)">
<rect x="400.5" y="219.4" width="74.1" height="73.1" fill="url(#ge1)"/>
<ellipse cx="418" cy="243" rx="24" ry="17" transform="rotate(-30 418 243)" fill="url(#gedk)"/>
<ellipse cx="472" cy="256" rx="9" ry="16" fill="url(#gedk)" opacity="0.55"/>
<filter id="fblur" x="-20%" y="-20%" width="140%" height="140%"><feGaussianBlur stdDeviation="1.3"/></filter><g filter="url(#fblur)">
<linearGradient id="w1" gradientUnits="userSpaceOnUse" x1="437.6" y1="257" x2="463" y2="226"><stop offset="0" stop-color="#ffffff" stop-opacity="0.6"/><stop offset="1" stop-color="#ffffff" stop-opacity="0.15"/></linearGradient><polygon points="438.76,257.95 466.09,228.54 459.91,223.46 436.44,256.05" fill="url(#w1)"/>
<linearGradient id="w2" gradientUnits="userSpaceOnUse" x1="437.6" y1="263" x2="419" y2="294"><stop offset="0" stop-color="#ffffff" stop-opacity="0.55"/><stop offset="1" stop-color="#ffffff" stop-opacity="0.18"/></linearGradient><polygon points="436.31,262.23 415.14,291.68 422.86,296.32 438.89,263.77" fill="url(#w2)"/>
<linearGradient id="w3" gradientUnits="userSpaceOnUse" x1="437.6" y1="256" x2="429" y2="220"><stop offset="0" stop-color="#ffffff" stop-opacity="0.3"/><stop offset="1" stop-color="#ffffff" stop-opacity="0.05"/></linearGradient><polygon points="438.82,255.71 431.92,219.3 426.08,220.7 436.38,256.29" fill="url(#w3)"/>
<linearGradient id="w4" gradientUnits="userSpaceOnUse" x1="437.6" y1="264" x2="452" y2="294"><stop offset="0" stop-color="#ffffff" stop-opacity="0.3"/><stop offset="1" stop-color="#ffffff" stop-opacity="0.08"/></linearGradient><polygon points="436.47,264.54 448.84,295.51 455.16,292.49 438.73,263.46" fill="url(#w4)"/>
</g>
<ellipse cx="449" cy="250" rx="8" ry="14" transform="rotate(40 449 250)" fill="url(#gelt)" opacity="0.5"/>
<ellipse cx="437.6" cy="260.5" rx="2.3" ry="17" fill="url(#ge2)"/>
<ellipse cx="437.6" cy="263.3" rx="1.5" ry="5" fill="url(#ge3)"/>
</g>
<line x1="400.5" y1="255.95" x2="404.5" y2="255.95" stroke="#000" stroke-width="1.3" />
<line x1="474.6" y1="255.95" x2="470.6" y2="255.95" stroke="#000" stroke-width="1.3" />
<line x1="437.55" y1="219.4" x2="437.55" y2="223.4" stroke="#000" stroke-width="1.2" />
<line x1="437.55" y1="292.5" x2="437.55" y2="288.5" stroke="#000" stroke-width="1.2" />
<line x1="412.85" y1="292.5" x2="412.85" y2="289" stroke="#333333" stroke-width="0.95" /><line x1="412.85" y1="219.4" x2="412.85" y2="222.9" stroke="#333333" stroke-width="0.95" /><line x1="425.2" y1="292.5" x2="425.2" y2="289" stroke="#333333" stroke-width="0.95" /><line x1="425.2" y1="219.4" x2="425.2" y2="222.9" stroke="#333333" stroke-width="0.95" /><line x1="437.55" y1="292.5" x2="437.55" y2="289" stroke="#333333" stroke-width="0.95" /><line x1="437.55" y1="219.4" x2="437.55" y2="222.9" stroke="#333333" stroke-width="0.95" /><line x1="449.9" y1="292.5" x2="449.9" y2="289" stroke="#333333" stroke-width="0.95" /><line x1="449.9" y1="219.4" x2="449.9" y2="222.9" stroke="#333333" stroke-width="0.95" /><line x1="462.25" y1="292.5" x2="462.25" y2="289" stroke="#333333" stroke-width="0.95" /><line x1="462.25" y1="219.4" x2="462.25" y2="222.9" stroke="#333333" stroke-width="0.95" /><line x1="400.5" y1="231.58" x2="404" y2="231.58" stroke="#333333" stroke-width="0.95" /><line x1="474.6" y1="231.58" x2="471.1" y2="231.58" stroke="#333333" stroke-width="0.95" /><line x1="400.5" y1="243.77" x2="404" y2="243.77" stroke="#333333" stroke-width="0.95" /><line x1="474.6" y1="243.77" x2="471.1" y2="243.77" stroke="#333333" stroke-width="0.95" /><line x1="400.5" y1="255.95" x2="404" y2="255.95" stroke="#333333" stroke-width="0.95" /><line x1="474.6" y1="255.95" x2="471.1" y2="255.95" stroke="#333333" stroke-width="0.95" /><line x1="400.5" y1="268.13" x2="404" y2="268.13" stroke="#333333" stroke-width="0.95" /><line x1="474.6" y1="268.13" x2="471.1" y2="268.13" stroke="#333333" stroke-width="0.95" /><line x1="400.5" y1="280.32" x2="404" y2="280.32" stroke="#333333" stroke-width="0.95" /><line x1="474.6" y1="280.32" x2="471.1" y2="280.32" stroke="#333333" stroke-width="0.95" /><line x1="400.5" y1="219.4" x2="400.5" y2="292.5" stroke="#333333" stroke-width="1.0" /><line x1="400.5" y1="292.5" x2="474.6" y2="292.5" stroke="#333333" stroke-width="1.0" /><line x1="474.6" y1="219.4" x2="474.6" y2="292.5" stroke="#333333" stroke-width="1.0" /><line x1="400.5" y1="219.4" x2="474.6" y2="219.4" stroke="#333333" stroke-width="1.0" /><text x="400.5" y="303.7" font-size="10.1" text-anchor="middle" fill="#1a1a1a" stroke="#1a1a1a" >−6</text><text x="437.55" y="303.7" font-size="10.1" text-anchor="middle" fill="#1a1a1a" stroke="#1a1a1a" >0</text><text x="474.6" y="303.7" font-size="10.1" text-anchor="middle" fill="#1a1a1a" stroke="#1a1a1a" >6</text><text x="396.1" y="221.7" font-size="10.1" text-anchor="end" fill="#1a1a1a" stroke="#1a1a1a" >0.6</text><text x="396.1" y="258.25" font-size="10.1" text-anchor="end" fill="#1a1a1a" stroke="#1a1a1a" >0</text><text x="396.1" y="294.8" font-size="10.1" text-anchor="end" fill="#1a1a1a" stroke="#1a1a1a" >−0.6</text><text x="410.85" y="314" font-size="9.2" fill="#1a1a1a" stroke="#1a1a1a"><tspan font-style="italic">n</tspan> (10<tspan font-size="7" dy="-3.5">12</tspan><tspan dy="3.5"> cm</tspan><tspan font-size="7" dy="-3.5">−2</tspan><tspan dy="3.5">)</tspan></text><text transform="translate(381.5,255.95) rotate(-90)" font-size="9.2" text-anchor="middle" fill="#1a1a1a" stroke="#1a1a1a"><tspan font-style="italic">D</tspan> (V nm<tspan font-size="7" dy="-3.5">−1</tspan><tspan dy="3.5">)</tspan></text><defs><linearGradient id="icb219" x1="0" x2="1" y1="0" y2="0"><stop offset="0.0" stop-color="#053061"/><stop offset="0.1" stop-color="#2166ac"/><stop offset="0.2" stop-color="#4393c3"/><stop offset="0.3" stop-color="#92c5de"/><stop offset="0.4" stop-color="#d1e5f0"/><stop offset="0.5" stop-color="#f7f7f7"/><stop offset="0.6" stop-color="#fddbc7"/><stop offset="0.7" stop-color="#f4a582"/><stop offset="0.8" stop-color="#d6604d"/><stop offset="0.9" stop-color="#b2182b"/><stop offset="1.0" stop-color="#67001f"/></linearGradient></defs><rect x="449.3" y="212.3" width="25.2" height="3.5" fill="url(#icb219)" stroke="#222" stroke-width="0.5"/><text x="449.7" y="211.2" font-size="7.2" text-anchor="middle" fill="#1a1a1a" stroke="#1a1a1a" >0</text><text x="474.2" y="211.2" font-size="7.2" text-anchor="middle" fill="#1a1a1a" stroke="#1a1a1a" >4</text><text x="412.7" y="215.8" font-size="9.2" fill="#1a1a1a" stroke="#1a1a1a"><tspan font-style="italic">R</tspan><tspan font-size="7" dy="1.6">xx</tspan><tspan dy="-1.6"> (kΩ)</tspan></text>
<defs><clipPath id="hc19"><rect x="535.5" y="19.5" width="142.9" height="142.6"/></clipPath><filter id="hb19" x="-5%" y="-5%" width="110%" height="110%"><feGaussianBlur stdDeviation="0.45"/></filter></defs>
<g clip-path="url(#hc19)"><g filter="url(#hb19)">
<rect x="535.1" y="18" width="4.5" height="3.97" fill="#ecf2f5"/><rect x="538.6" y="18" width="4.5" height="3.97" fill="#e6eff4"/><rect x="542.1" y="18" width="4.5" height="3.97" fill="#e0ecf3"/><rect x="545.6" y="18" width="4.5" height="3.97" fill="#dae9f2"/><rect x="549.1" y="18" width="4.5" height="3.97" fill="#d3e6f0"/><rect x="552.6" y="18" width="4.5" height="3.97" fill="#cae1ee"/><rect x="556.1" y="18" width="4.5" height="3.97" fill="#bfdceb"/><rect x="559.6" y="18" width="4.5" height="3.97" fill="#b5d7e8"/><rect x="563.1" y="18" width="4.5" height="3.97" fill="#add3e6"/><rect x="566.6" y="18" width="4.5" height="3.97" fill="#a5cfe3"/><rect x="570.1" y="18" width="4.5" height="3.97" fill="#9dcbe1"/><rect x="573.6" y="18" width="4.5" height="3.97" fill="#95c7df"/><rect x="577.1" y="18" width="4.5" height="3.97" fill="#8cc1dc"/><rect x="580.6" y="18" width="4.5" height="3.97" fill="#82bbd8"/><rect x="584.1" y="18" width="4.5" height="3.97" fill="#79b5d6"/><rect x="587.6" y="18" width="4.5" height="3.97" fill="#75b3d4"/><rect x="591.1" y="18" width="4.5" height="3.97" fill="#70b0d3"/><rect x="594.6" y="18" width="4.5" height="3.97" fill="#6cadd1"/><rect x="598.1" y="18" width="4.5" height="3.97" fill="#68aacf"/><rect x="601.6" y="18" width="4.5" height="3.97" fill="#63a7ce"/><rect x="605.1" y="18" width="4.5" height="3.97" fill="#5fa5cc"/><rect x="608.6" y="18" width="29" height="3.97" fill="#5ba2cb"/><rect x="636.6" y="18" width="4.5" height="3.97" fill="#62a7ce"/><rect x="640.1" y="18" width="4.5" height="3.97" fill="#6aacd0"/><rect x="643.6" y="18" width="4.5" height="3.97" fill="#72b0d3"/><rect x="647.1" y="18" width="4.5" height="3.97" fill="#79b5d6"/><rect x="650.6" y="18" width="4.5" height="3.97" fill="#81bad8"/><rect x="654.1" y="18" width="4.5" height="3.97" fill="#89bfdb"/><rect x="657.6" y="18" width="4.5" height="3.97" fill="#91c4de"/><rect x="661.1" y="18" width="4.5" height="3.97" fill="#9ccae1"/><rect x="664.6" y="18" width="4.5" height="3.97" fill="#a8d0e4"/><rect x="668.1" y="18" width="4.5" height="3.97" fill="#b4d7e8"/><rect x="671.6" y="18" width="4.5" height="3.97" fill="#c1ddeb"/><rect x="675.1" y="18" width="3.5" height="3.97" fill="#cde3ef"/><rect x="535.1" y="20.97" width="4.5" height="3.97" fill="#edf2f5"/><rect x="538.6" y="20.97" width="4.5" height="3.97" fill="#e7f0f4"/><rect x="542.1" y="20.97" width="4.5" height="3.97" fill="#e1edf3"/><rect x="545.6" y="20.97" width="4.5" height="3.97" fill="#dceaf2"/><rect x="549.1" y="20.97" width="4.5" height="3.97" fill="#d5e7f1"/><rect x="552.6" y="20.97" width="4.5" height="3.97" fill="#cde3ef"/><rect x="556.1" y="20.97" width="4.5" height="3.97" fill="#c2ddec"/><rect x="559.6" y="20.97" width="4.5" height="3.97" fill="#b8d8e9"/><rect x="563.1" y="20.97" width="4.5" height="3.97" fill="#b0d4e7"/><rect x="566.6" y="20.97" width="4.5" height="3.97" fill="#a8d0e4"/><rect x="570.1" y="20.97" width="4.5" height="3.97" fill="#a0cce2"/><rect x="573.6" y="20.97" width="4.5" height="3.97" fill="#98c8e0"/><rect x="577.1" y="20.97" width="4.5" height="3.97" fill="#8fc3dd"/><rect x="580.6" y="20.97" width="4.5" height="3.97" fill="#84bcd9"/><rect x="584.1" y="20.97" width="4.5" height="3.97" fill="#7cb7d6"/><rect x="587.6" y="20.97" width="4.5" height="3.97" fill="#77b4d5"/><rect x="591.1" y="20.97" width="4.5" height="3.97" fill="#72b1d3"/><rect x="594.6" y="20.97" width="4.5" height="3.97" fill="#6eaed2"/><rect x="598.1" y="20.97" width="4.5" height="3.97" fill="#69abd0"/><rect x="601.6" y="20.97" width="4.5" height="3.97" fill="#64a8ce"/><rect x="605.1" y="20.97" width="4.5" height="3.97" fill="#60a5cd"/><rect x="608.6" y="20.97" width="29" height="3.97" fill="#5ba2cb"/><rect x="636.6" y="20.97" width="4.5" height="3.97" fill="#62a7ce"/><rect x="640.1" y="20.97" width="4.5" height="3.97" fill="#6aacd0"/><rect x="643.6" y="20.97" width="4.5" height="3.97" fill="#72b0d3"/><rect x="647.1" y="20.97" width="4.5" height="3.97" fill="#79b5d6"/><rect x="650.6" y="20.97" width="4.5" height="3.97" fill="#81bad8"/><rect x="654.1" y="20.97" width="4.5" height="3.97" fill="#89bfdb"/><rect x="657.6" y="20.97" width="4.5" height="3.97" fill="#91c4de"/><rect x="661.1" y="20.97" width="4.5" height="3.97" fill="#9ccae1"/><rect x="664.6" y="20.97" width="4.5" height="3.97" fill="#a8d0e4"/><rect x="668.1" y="20.97" width="4.5" height="3.97" fill="#b4d6e8"/><rect x="671.6" y="20.97" width="4.5" height="3.97" fill="#c0dceb"/><rect x="675.1" y="20.97" width="3.5" height="3.97" fill="#cce2ef"/><rect x="535.1" y="23.94" width="4.5" height="3.97" fill="#eef3f5"/><rect x="538.6" y="23.94" width="4.5" height="3.97" fill="#e9f0f4"/><rect x="542.1" y="23.94" width="4.5" height="3.97" fill="#e3eef3"/><rect x="545.6" y="23.94" width="4.5" height="3.97" fill="#deebf2"/><rect x="549.1" y="23.94" width="4.5" height="3.97" fill="#d8e8f1"/><rect x="552.6" y="23.94" width="4.5" height="3.97" fill="#d1e5f0"/><rect x="556.1" y="23.94" width="4.5" height="3.97" fill="#c7e0ed"/><rect x="559.6" y="23.94" width="4.5" height="3.97" fill="#bddbea"/><rect x="563.1" y="23.94" width="4.5" height="3.97" fill="#b4d6e8"/><rect x="566.6" y="23.94" width="4.5" height="3.97" fill="#acd2e5"/><rect x="570.1" y="23.94" width="4.5" height="3.97" fill="#a3cee3"/><rect x="573.6" y="23.94" width="4.5" height="3.97" fill="#9bc9e0"/><rect x="577.1" y="23.94" width="4.5" height="3.97" fill="#92c5de"/><rect x="580.6" y="23.94" width="4.5" height="3.97" fill="#88beda"/><rect x="584.1" y="23.94" width="4.5" height="3.97" fill="#7eb9d7"/><rect x="587.6" y="23.94" width="4.5" height="3.97" fill="#79b5d6"/><rect x="591.1" y="23.94" width="4.5" height="3.97" fill="#74b2d4"/><rect x="594.6" y="23.94" width="4.5" height="3.97" fill="#70afd2"/><rect x="598.1" y="23.94" width="4.5" height="3.97" fill="#6bacd1"/><rect x="601.6" y="23.94" width="4.5" height="3.97" fill="#66a9cf"/><rect x="605.1" y="23.94" width="4.5" height="3.97" fill="#61a6cd"/><rect x="608.6" y="23.94" width="11.5" height="3.97" fill="#5ca3cc"/><rect x="619.1" y="23.94" width="4.5" height="3.97" fill="#5ca3cb"/><rect x="622.6" y="23.94" width="15" height="3.97" fill="#5ba2cb"/><rect x="636.6" y="23.94" width="4.5" height="3.97" fill="#62a7ce"/><rect x="640.1" y="23.94" width="4.5" height="3.97" fill="#6aacd0"/><rect x="643.6" y="23.94" width="4.5" height="3.97" fill="#72b0d3"/><rect x="647.1" y="23.94" width="4.5" height="3.97" fill="#79b5d6"/><rect x="650.6" y="23.94" width="4.5" height="3.97" fill="#81bad8"/><rect x="654.1" y="23.94" width="4.5" height="3.97" fill="#89bfdb"/><rect x="657.6" y="23.94" width="4.5" height="3.97" fill="#91c4de"/><rect x="661.1" y="23.94" width="4.5" height="3.97" fill="#9ccae1"/><rect x="664.6" y="23.94" width="4.5" height="3.97" fill="#a7d0e4"/><rect x="668.1" y="23.94" width="4.5" height="3.97" fill="#b3d6e7"/><rect x="671.6" y="23.94" width="4.5" height="3.97" fill="#bfdceb"/><rect x="675.1" y="23.94" width="3.5" height="3.97" fill="#cae2ee"/><rect x="535.1" y="26.91" width="4.5" height="3.97" fill="#eff3f6"/><rect x="538.6" y="26.91" width="4.5" height="3.97" fill="#eaf1f5"/><rect x="542.1" y="26.91" width="4.5" height="3.97" fill="#e5eef4"/><rect x="545.6" y="26.91" width="4.5" height="3.97" fill="#e0ecf3"/><rect x="549.1" y="26.91" width="4.5" height="3.97" fill="#dae9f2"/><rect x="552.6" y="26.91" width="4.5" height="3.97" fill="#d4e6f0"/><rect x="556.1" y="26.91" width="4.5" height="3.97" fill="#cbe2ee"/><rect x="559.6" y="26.91" width="4.5" height="3.97" fill="#c1ddeb"/><rect x="563.1" y="26.91" width="4.5" height="3.97" fill="#b8d8e9"/><rect x="566.6" y="26.91" width="4.5" height="3.97" fill="#afd4e6"/><rect x="570.1" y="26.91" width="4.5" height="3.97" fill="#a7cfe4"/><rect x="573.6" y="26.91" width="4.5" height="3.97" fill="#9ecbe1"/><rect x="577.1" y="26.91" width="4.5" height="3.97" fill="#95c7df"/><rect x="580.6" y="26.91" width="4.5" height="3.97" fill="#8bc0db"/><rect x="584.1" y="26.91" width="4.5" height="3.97" fill="#81bad8"/><rect x="587.6" y="26.91" width="4.5" height="3.97" fill="#7cb7d6"/><rect x="591.1" y="26.91" width="4.5" height="3.97" fill="#77b4d5"/><rect x="594.6" y="26.91" width="4.5" height="3.97" fill="#72b0d3"/><rect x="598.1" y="26.91" width="4.5" height="3.97" fill="#6cadd1"/><rect x="601.6" y="26.91" width="4.5" height="3.97" fill="#67aacf"/><rect x="605.1" y="26.91" width="4.5" height="3.97" fill="#62a7ce"/><rect x="608.6" y="26.91" width="4.5" height="3.97" fill="#5da4cc"/><rect x="612.1" y="26.91" width="8" height="3.97" fill="#5da3cc"/><rect x="619.1" y="26.91" width="4.5" height="3.97" fill="#5ca3cc"/><rect x="622.6" y="26.91" width="4.5" height="3.97" fill="#5ca3cb"/><rect x="626.1" y="26.91" width="11.5" height="3.97" fill="#5ba2cb"/><rect x="636.6" y="26.91" width="4.5" height="3.97" fill="#62a7ce"/><rect x="640.1" y="26.91" width="4.5" height="3.97" fill="#6aacd0"/><rect x="643.6" y="26.91" width="4.5" height="3.97" fill="#72b0d3"/><rect x="647.1" y="26.91" width="4.5" height="3.97" fill="#79b5d6"/><rect x="650.6" y="26.91" width="4.5" height="3.97" fill="#81bad8"/><rect x="654.1" y="26.91" width="4.5" height="3.97" fill="#89bfdb"/><rect x="657.6" y="26.91" width="4.5" height="3.97" fill="#91c4de"/><rect x="661.1" y="26.91" width="4.5" height="3.97" fill="#9bcae1"/><rect x="664.6" y="26.91" width="4.5" height="3.97" fill="#a7d0e4"/><rect x="668.1" y="26.91" width="4.5" height="3.97" fill="#b2d5e7"/><rect x="671.6" y="26.91" width="4.5" height="3.97" fill="#bedbea"/><rect x="675.1" y="26.91" width="3.5" height="3.97" fill="#c9e1ee"/><rect x="535.1" y="29.88" width="4.5" height="3.97" fill="#f0f4f6"/><rect x="538.6" y="29.88" width="4.5" height="3.97" fill="#ecf2f5"/><rect x="542.1" y="29.88" width="4.5" height="3.97" fill="#e7f0f4"/><rect x="545.6" y="29.88" width="4.5" height="3.97" fill="#e3eef3"/><rect x="549.1" y="29.88" width="4.5" height="3.97" fill="#deebf2"/><rect x="552.6" y="29.88" width="4.5" height="3.97" fill="#d8e8f1"/><rect x="556.1" y="29.88" width="4.5" height="3.97" fill="#d2e6f0"/><rect x="559.6" y="29.88" width="4.5" height="3.97" fill="#cae1ee"/><rect x="563.1" y="29.88" width="4.5" height="3.97" fill="#c1ddec"/><rect x="566.6" y="29.88" width="4.5" height="3.97" fill="#b9d9e9"/><rect x="570.1" y="29.88" width="4.5" height="3.97" fill="#add3e6"/><rect x="573.6" y="29.88" width="4.5" height="3.97" fill="#a1cde2"/><rect x="577.1" y="29.88" width="4.5" height="3.97" fill="#98c8e0"/><rect x="580.6" y="29.88" width="4.5" height="3.97" fill="#8ec2dd"/><rect x="584.1" y="29.88" width="4.5" height="3.97" fill="#84bcd9"/><rect x="587.6" y="29.88" width="4.5" height="3.97" fill="#7eb9d7"/><rect x="591.1" y="29.88" width="4.5" height="3.97" fill="#79b5d5"/><rect x="594.6" y="29.88" width="4.5" height="3.97" fill="#73b2d4"/><rect x="598.1" y="29.88" width="4.5" height="3.97" fill="#6eaed2"/><rect x="601.6" y="29.88" width="4.5" height="3.97" fill="#69abd0"/><rect x="605.1" y="29.88" width="4.5" height="3.97" fill="#63a7ce"/><rect x="608.6" y="29.88" width="8" height="3.97" fill="#5ea4cc"/><rect x="615.6" y="29.88" width="4.5" height="3.97" fill="#5da4cc"/><rect x="619.1" y="29.88" width="4.5" height="3.97" fill="#5da3cc"/><rect x="622.6" y="29.88" width="4.5" height="3.97" fill="#5ca3cc"/><rect x="626.1" y="29.88" width="4.5" height="3.97" fill="#5ca3cb"/><rect x="629.6" y="29.88" width="8" height="3.97" fill="#5ba2cb"/><rect x="636.6" y="29.88" width="4.5" height="3.97" fill="#62a7ce"/><rect x="640.1" y="29.88" width="4.5" height="3.97" fill="#6aacd0"/><rect x="643.6" y="29.88" width="4.5" height="3.97" fill="#72b0d3"/><rect x="647.1" y="29.88" width="4.5" height="3.97" fill="#79b5d6"/><rect x="650.6" y="29.88" width="4.5" height="3.97" fill="#81bad8"/><rect x="654.1" y="29.88" width="4.5" height="3.97" fill="#89bfdb"/><rect x="657.6" y="29.88" width="4.5" height="3.97" fill="#91c4de"/><rect x="661.1" y="29.88" width="4.5" height="3.97" fill="#9bcae1"/><rect x="664.6" y="29.88" width="4.5" height="3.97" fill="#a6cfe4"/><rect x="668.1" y="29.88" width="4.5" height="3.97" fill="#b1d5e7"/><rect x="671.6" y="29.88" width="4.5" height="3.97" fill="#bcdbea"/><rect x="675.1" y="29.88" width="3.5" height="3.97" fill="#c8e0ed"/><rect x="535.1" y="32.85" width="4.5" height="3.97" fill="#f0f4f6"/><rect x="538.6" y="32.85" width="4.5" height="3.97" fill="#eef3f5"/><rect x="542.1" y="32.85" width="4.5" height="3.97" fill="#ecf2f5"/><rect x="545.6" y="32.85" width="4.5" height="3.97" fill="#eaf1f5"/><rect x="549.1" y="32.85" width="4.5" height="3.97" fill="#e7eff4"/><rect x="552.6" y="32.85" width="4.5" height="3.97" fill="#e4eef3"/><rect x="556.1" y="32.85" width="4.5" height="3.97" fill="#e1edf3"/><rect x="559.6" y="32.85" width="4.5" height="3.97" fill="#deebf2"/><rect x="563.1" y="32.85" width="4.5" height="3.97" fill="#dbeaf2"/><rect x="566.6" y="32.85" width="4.5" height="3.97" fill="#d8e8f1"/><rect x="570.1" y="32.85" width="4.5" height="3.97" fill="#d1e5f0"/><rect x="573.6" y="32.85" width="4.5" height="3.97" fill="#aed3e6"/><rect x="577.1" y="32.85" width="4.5" height="3.97" fill="#9bc9e0"/><rect x="580.6" y="32.85" width="4.5" height="3.97" fill="#91c4de"/><rect x="584.1" y="32.85" width="4.5" height="3.97" fill="#87beda"/><rect x="587.6" y="32.85" width="4.5" height="3.97" fill="#81bad8"/><rect x="591.1" y="32.85" width="4.5" height="3.97" fill="#7bb7d6"/><rect x="594.6" y="32.85" width="4.5" height="3.97" fill="#75b3d4"/><rect x="598.1" y="32.85" width="4.5" height="3.97" fill="#70afd2"/><rect x="601.6" y="32.85" width="4.5" height="3.97" fill="#6aacd0"/><rect x="605.1" y="32.85" width="4.5" height="3.97" fill="#64a8ce"/><rect x="608.6" y="32.85" width="4.5" height="3.97" fill="#5fa5cd"/><rect x="612.1" y="32.85" width="4.5" height="3.97" fill="#5fa4cc"/><rect x="615.6" y="32.85" width="4.5" height="3.97" fill="#5ea4cc"/><rect x="619.1" y="32.85" width="4.5" height="3.97" fill="#5da4cc"/><rect x="622.6" y="32.85" width="4.5" height="3.97" fill="#5da3cc"/><rect x="626.1" y="32.85" width="4.5" height="3.97" fill="#5ca3cc"/><rect x="629.6" y="32.85" width="8" height="3.97" fill="#5ba2cb"/><rect x="636.6" y="32.85" width="4.5" height="3.97" fill="#62a7ce"/><rect x="640.1" y="32.85" width="4.5" height="3.97" fill="#6aacd0"/><rect x="643.6" y="32.85" width="4.5" height="3.97" fill="#72b0d3"/><rect x="647.1" y="32.85" width="4.5" height="3.97" fill="#79b5d6"/><rect x="650.6" y="32.85" width="4.5" height="3.97" fill="#81bad8"/><rect x="654.1" y="32.85" width="4.5" height="3.97" fill="#89bfdb"/><rect x="657.6" y="32.85" width="4.5" height="3.97" fill="#91c4de"/><rect x="661.1" y="32.85" width="4.5" height="3.97" fill="#9bc9e1"/><rect x="664.6" y="32.85" width="4.5" height="3.97" fill="#a6cfe4"/><rect x="668.1" y="32.85" width="4.5" height="3.97" fill="#b1d5e7"/><rect x="671.6" y="32.85" width="4.5" height="3.97" fill="#bbdaea"/><rect x="675.1" y="32.85" width="3.5" height="3.97" fill="#c6e0ed"/><rect x="535.1" y="35.82" width="4.5" height="3.97" fill="#f4f6f7"/><rect x="538.6" y="35.82" width="4.5" height="3.97" fill="#f4f6f6"/><rect x="542.1" y="35.82" width="8" height="3.97" fill="#f4f5f6"/><rect x="549.1" y="35.82" width="8" height="3.97" fill="#f3f5f6"/><rect x="556.1" y="35.82" width="8" height="3.97" fill="#f2f5f6"/><rect x="563.1" y="35.82" width="8" height="3.97" fill="#f1f4f6"/><rect x="570.1" y="35.82" width="4.5" height="3.97" fill="#edf2f5"/><rect x="573.6" y="35.82" width="4.5" height="3.97" fill="#d7e8f1"/><rect x="577.1" y="35.82" width="4.5" height="3.97" fill="#b1d5e7"/><rect x="580.6" y="35.82" width="4.5" height="3.97" fill="#94c6df"/><rect x="584.1" y="35.82" width="4.5" height="3.97" fill="#89bfdb"/><rect x="587.6" y="35.82" width="4.5" height="3.97" fill="#83bcd9"/><rect x="591.1" y="35.82" width="4.5" height="3.97" fill="#7db8d7"/><rect x="594.6" y="35.82" width="4.5" height="3.97" fill="#77b4d5"/><rect x="598.1" y="35.82" width="4.5" height="3.97" fill="#71b0d3"/><rect x="601.6" y="35.82" width="4.5" height="3.97" fill="#6badd1"/><rect x="605.1" y="35.82" width="4.5" height="3.97" fill="#66a9cf"/><rect x="608.6" y="35.82" width="4.5" height="3.97" fill="#60a5cd"/><rect x="612.1" y="35.82" width="4.5" height="3.97" fill="#5fa5cd"/><rect x="615.6" y="35.82" width="4.5" height="3.97" fill="#5fa4cc"/><rect x="619.1" y="35.82" width="4.5" height="3.97" fill="#5ea4cc"/><rect x="622.6" y="35.82" width="4.5" height="3.97" fill="#5da3cc"/><rect x="626.1" y="35.82" width="4.5" height="3.97" fill="#5ca3cc"/><rect x="629.6" y="35.82" width="4.5" height="3.97" fill="#5ba3cb"/><rect x="633.1" y="35.82" width="4.5" height="3.97" fill="#5ba2cb"/><rect x="636.6" y="35.82" width="4.5" height="3.97" fill="#62a7ce"/><rect x="640.1" y="35.82" width="4.5" height="3.97" fill="#6aacd0"/><rect x="643.6" y="35.82" width="4.5" height="3.97" fill="#72b0d3"/><rect x="647.1" y="35.82" width="4.5" height="3.97" fill="#79b5d6"/><rect x="650.6" y="35.82" width="4.5" height="3.97" fill="#81bad8"/><rect x="654.1" y="35.82" width="4.5" height="3.97" fill="#89bfdb"/><rect x="657.6" y="35.82" width="4.5" height="3.97" fill="#91c4de"/><rect x="661.1" y="35.82" width="4.5" height="3.97" fill="#9bc9e0"/><rect x="664.6" y="35.82" width="4.5" height="3.97" fill="#a5cfe3"/><rect x="668.1" y="35.82" width="4.5" height="3.97" fill="#b0d4e6"/><rect x="671.6" y="35.82" width="4.5" height="3.97" fill="#bad9ea"/><rect x="675.1" y="35.82" width="3.5" height="3.97" fill="#c5dfed"/><rect x="535.1" y="38.79" width="39.5" height="3.97" fill="#f9ece4"/><rect x="573.6" y="38.79" width="4.5" height="3.97" fill="#f2f5f6"/><rect x="577.1" y="38.79" width="4.5" height="3.97" fill="#ddebf2"/><rect x="580.6" y="38.79" width="4.5" height="3.97" fill="#b8d8e9"/><rect x="584.1" y="38.79" width="4.5" height="3.97" fill="#92c5de"/><rect x="587.6" y="38.79" width="4.5" height="3.97" fill="#86bdda"/><rect x="591.1" y="38.79" width="4.5" height="3.97" fill="#80b9d8"/><rect x="594.6" y="38.79" width="4.5" height="3.97" fill="#79b5d6"/><rect x="598.1" y="38.79" width="4.5" height="3.97" fill="#73b1d3"/><rect x="601.6" y="38.79" width="4.5" height="3.97" fill="#6daed1"/><rect x="605.1" y="38.79" width="4.5" height="3.97" fill="#67aacf"/><rect x="608.6" y="38.79" width="4.5" height="3.97" fill="#61a6cd"/><rect x="612.1" y="38.79" width="4.5" height="3.97" fill="#60a5cd"/><rect x="615.6" y="38.79" width="4.5" height="3.97" fill="#5fa5cd"/><rect x="619.1" y="38.79" width="4.5" height="3.97" fill="#5ea4cc"/><rect x="622.6" y="38.79" width="4.5" height="3.97" fill="#5da4cc"/><rect x="626.1" y="38.79" width="4.5" height="3.97" fill="#5da3cc"/><rect x="629.6" y="38.79" width="4.5" height="3.97" fill="#5ca3cb"/><rect x="633.1" y="38.79" width="4.5" height="3.97" fill="#5ba2cb"/><rect x="636.6" y="38.79" width="4.5" height="3.97" fill="#62a7ce"/><rect x="640.1" y="38.79" width="4.5" height="3.97" fill="#6aacd0"/><rect x="643.6" y="38.79" width="4.5" height="3.97" fill="#72b0d3"/><rect x="647.1" y="38.79" width="4.5" height="3.97" fill="#79b5d6"/><rect x="650.6" y="38.79" width="4.5" height="3.97" fill="#81bad8"/><rect x="654.1" y="38.79" width="4.5" height="3.97" fill="#89bfdb"/><rect x="657.6" y="38.79" width="4.5" height="3.97" fill="#91c4de"/><rect x="661.1" y="38.79" width="4.5" height="3.97" fill="#9ac9e0"/><rect x="664.6" y="38.79" width="4.5" height="3.97" fill="#a5cee3"/><rect x="668.1" y="38.79" width="4.5" height="3.97" fill="#afd4e6"/><rect x="671.6" y="38.79" width="4.5" height="3.97" fill="#b9d9e9"/><rect x="675.1" y="38.79" width="3.5" height="3.97" fill="#c3deec"/><rect x="535.1" y="41.76" width="39.5" height="3.97" fill="#fbd0b9"/><rect x="573.6" y="41.76" width="4.5" height="3.97" fill="#f9ece4"/><rect x="577.1" y="41.76" width="4.5" height="3.97" fill="#f6f7f7"/><rect x="580.6" y="41.76" width="4.5" height="3.97" fill="#e5eef4"/><rect x="584.1" y="41.76" width="4.5" height="3.97" fill="#c2deec"/><rect x="587.6" y="41.76" width="4.5" height="3.97" fill="#98c8e0"/><rect x="591.1" y="41.76" width="4.5" height="3.97" fill="#82bbd8"/><rect x="594.6" y="41.76" width="4.5" height="3.97" fill="#7bb7d6"/><rect x="598.1" y="41.76" width="4.5" height="3.97" fill="#75b3d4"/><rect x="601.6" y="41.76" width="4.5" height="3.97" fill="#6eaed2"/><rect x="605.1" y="41.76" width="4.5" height="3.97" fill="#68aad0"/><rect x="608.6" y="41.76" width="4.5" height="3.97" fill="#62a7ce"/><rect x="612.1" y="41.76" width="4.5" height="3.97" fill="#61a6cd"/><rect x="615.6" y="41.76" width="4.5" height="3.97" fill="#60a5cd"/><rect x="619.1" y="41.76" width="4.5" height="3.97" fill="#5fa5cd"/><rect x="622.6" y="41.76" width="4.5" height="3.97" fill="#5ea4cc"/><rect x="626.1" y="41.76" width="4.5" height="3.97" fill="#5da3cc"/><rect x="629.6" y="41.76" width="4.5" height="3.97" fill="#5ca3cb"/><rect x="633.1" y="41.76" width="4.5" height="3.97" fill="#5ba2cb"/><rect x="636.6" y="41.76" width="4.5" height="3.97" fill="#62a7ce"/><rect x="640.1" y="41.76" width="4.5" height="3.97" fill="#6aacd0"/><rect x="643.6" y="41.76" width="4.5" height="3.97" fill="#72b0d3"/><rect x="647.1" y="41.76" width="4.5" height="3.97" fill="#79b5d6"/><rect x="650.6" y="41.76" width="4.5" height="3.97" fill="#81bad8"/><rect x="654.1" y="41.76" width="4.5" height="3.97" fill="#89bfdb"/><rect x="657.6" y="41.76" width="4.5" height="3.97" fill="#91c4de"/><rect x="661.1" y="41.76" width="4.5" height="3.97" fill="#9ac9e0"/><rect x="664.6" y="41.76" width="4.5" height="3.97" fill="#a4cee3"/><rect x="668.1" y="41.76" width="4.5" height="3.97" fill="#aed3e6"/><rect x="671.6" y="41.76" width="4.5" height="3.97" fill="#b8d8e9"/><rect x="675.1" y="41.76" width="3.5" height="3.97" fill="#c2ddec"/><rect x="535.1" y="44.73" width="39.5" height="3.97" fill="#dc6e58"/><rect x="573.6" y="44.73" width="4.5" height="3.97" fill="#fbd0b9"/><rect x="577.1" y="44.73" width="8" height="3.97" fill="#f9ece4"/><rect x="584.1" y="44.73" width="4.5" height="3.97" fill="#ecf2f5"/><rect x="587.6" y="44.73" width="4.5" height="3.97" fill="#d1e5f0"/><rect x="591.1" y="44.73" width="4.5" height="3.97" fill="#a1cde2"/><rect x="594.6" y="44.73" width="4.5" height="3.97" fill="#7eb8d7"/><rect x="598.1" y="44.73" width="4.5" height="3.97" fill="#76b3d4"/><rect x="601.6" y="44.73" width="4.5" height="3.97" fill="#6fafd2"/><rect x="605.1" y="44.73" width="4.5" height="3.97" fill="#69abd0"/><rect x="608.6" y="44.73" width="4.5" height="3.97" fill="#63a7ce"/><rect x="612.1" y="44.73" width="4.5" height="3.97" fill="#62a6cd"/><rect x="615.6" y="44.73" width="4.5" height="3.97" fill="#61a6cd"/><rect x="619.1" y="44.73" width="4.5" height="3.97" fill="#60a5cd"/><rect x="622.6" y="44.73" width="4.5" height="3.97" fill="#5fa4cc"/><rect x="626.1" y="44.73" width="4.5" height="3.97" fill="#5ea4cc"/><rect x="629.6" y="44.73" width="4.5" height="3.97" fill="#5da3cc"/><rect x="633.1" y="44.73" width="4.5" height="3.97" fill="#5ca3cb"/><rect x="636.6" y="44.73" width="4.5" height="3.97" fill="#63a7ce"/><rect x="640.1" y="44.73" width="4.5" height="3.97" fill="#6aacd0"/><rect x="643.6" y="44.73" width="4.5" height="3.97" fill="#72b1d3"/><rect x="647.1" y="44.73" width="4.5" height="3.97" fill="#7ab6d6"/><rect x="650.6" y="44.73" width="4.5" height="3.97" fill="#81bad8"/><rect x="654.1" y="44.73" width="4.5" height="3.97" fill="#89bfdb"/><rect x="657.6" y="44.73" width="4.5" height="3.97" fill="#91c4de"/><rect x="661.1" y="44.73" width="4.5" height="3.97" fill="#9ac9e0"/><rect x="664.6" y="44.73" width="4.5" height="3.97" fill="#a4cee3"/><rect x="668.1" y="44.73" width="4.5" height="3.97" fill="#add3e6"/><rect x="671.6" y="44.73" width="4.5" height="3.97" fill="#b7d8e9"/><rect x="675.1" y="44.73" width="3.5" height="3.97" fill="#c1ddeb"/><rect x="535.1" y="47.7" width="39.5" height="3.97" fill="#67001f"/><rect x="573.6" y="47.7" width="4.5" height="3.97" fill="#dc6e58"/><rect x="577.1" y="47.7" width="8" height="3.97" fill="#fbd0b9"/><rect x="584.1" y="47.7" width="4.5" height="3.97" fill="#f9ece4"/><rect x="587.6" y="47.7" width="4.5" height="3.97" fill="#f2f5f6"/><rect x="591.1" y="47.7" width="4.5" height="3.97" fill="#dae9f2"/><rect x="594.6" y="47.7" width="4.5" height="3.97" fill="#add3e6"/><rect x="598.1" y="47.7" width="4.5" height="3.97" fill="#80b9d8"/><rect x="601.6" y="47.7" width="4.5" height="3.97" fill="#70afd2"/><rect x="605.1" y="47.7" width="4.5" height="3.97" fill="#69abd0"/><rect x="608.6" y="47.7" width="4.5" height="3.97" fill="#63a7ce"/><rect x="612.1" y="47.7" width="4.5" height="3.97" fill="#62a6ce"/><rect x="615.6" y="47.7" width="4.5" height="3.97" fill="#61a6cd"/><rect x="619.1" y="47.7" width="4.5" height="3.97" fill="#60a6cd"/><rect x="622.6" y="47.7" width="4.5" height="3.97" fill="#60a5cd"/><rect x="626.1" y="47.7" width="4.5" height="3.97" fill="#5fa5cd"/><rect x="629.6" y="47.7" width="4.5" height="3.97" fill="#5ea4cc"/><rect x="633.1" y="47.7" width="4.5" height="3.97" fill="#5da4cc"/><rect x="636.6" y="47.7" width="4.5" height="3.97" fill="#64a8ce"/><rect x="640.1" y="47.7" width="4.5" height="3.97" fill="#6cadd1"/><rect x="643.6" y="47.7" width="4.5" height="3.97" fill="#73b1d3"/><rect x="647.1" y="47.7" width="4.5" height="3.97" fill="#7bb6d6"/><rect x="650.6" y="47.7" width="4.5" height="3.97" fill="#82bbd8"/><rect x="654.1" y="47.7" width="4.5" height="3.97" fill="#89bfdb"/><rect x="657.6" y="47.7" width="4.5" height="3.97" fill="#91c4de"/><rect x="661.1" y="47.7" width="4.5" height="3.97" fill="#9ac9e0"/><rect x="664.6" y="47.7" width="4.5" height="3.97" fill="#a3cee3"/><rect x="668.1" y="47.7" width="4.5" height="3.97" fill="#acd2e6"/><rect x="671.6" y="47.7" width="4.5" height="3.97" fill="#b6d7e8"/><rect x="675.1" y="47.7" width="3.5" height="3.97" fill="#bfdceb"/><rect x="535.1" y="50.67" width="39.5" height="3.97" fill="#0d4078"/><rect x="573.6" y="50.67" width="4.5" height="3.97" fill="#67001f"/><rect x="577.1" y="50.67" width="8" height="3.97" fill="#dc6e58"/><rect x="584.1" y="50.67" width="4.5" height="3.97" fill="#fbd0b9"/><rect x="587.6" y="50.67" width="4.5" height="3.97" fill="#f9ece4"/><rect x="591.1" y="50.67" width="4.5" height="3.97" fill="#f6f7f7"/><rect x="594.6" y="50.67" width="4.5" height="3.97" fill="#e4eef3"/><rect x="598.1" y="50.67" width="4.5" height="3.97" fill="#bbdaea"/><rect x="601.6" y="50.67" width="4.5" height="3.97" fill="#87beda"/><rect x="605.1" y="50.67" width="4.5" height="3.97" fill="#69abd0"/><rect x="608.6" y="50.67" width="4.5" height="3.97" fill="#63a7ce"/><rect x="612.1" y="50.67" width="4.5" height="3.97" fill="#62a7ce"/><rect x="615.6" y="50.67" width="4.5" height="3.97" fill="#62a6cd"/><rect x="619.1" y="50.67" width="8" height="3.97" fill="#61a6cd"/><rect x="626.1" y="50.67" width="8" height="3.97" fill="#60a5cd"/><rect x="633.1" y="50.67" width="4.5" height="3.97" fill="#5fa5cd"/><rect x="636.6" y="50.67" width="4.5" height="3.97" fill="#66a9cf"/><rect x="640.1" y="50.67" width="4.5" height="3.97" fill="#6daed1"/><rect x="643.6" y="50.67" width="4.5" height="3.97" fill="#74b2d4"/><rect x="647.1" y="50.67" width="4.5" height="3.97" fill="#7bb7d6"/><rect x="650.6" y="50.67" width="4.5" height="3.97" fill="#82bbd9"/><rect x="654.1" y="50.67" width="4.5" height="3.97" fill="#8ac0db"/><rect x="657.6" y="50.67" width="4.5" height="3.97" fill="#91c4de"/><rect x="661.1" y="50.67" width="4.5" height="3.97" fill="#99c9e0"/><rect x="664.6" y="50.67" width="4.5" height="3.97" fill="#a3cde3"/><rect x="668.1" y="50.67" width="4.5" height="3.97" fill="#acd2e5"/><rect x="671.6" y="50.67" width="4.5" height="3.97" fill="#b5d7e8"/><rect x="675.1" y="50.67" width="3.5" height="3.97" fill="#bedbeb"/><rect x="535.1" y="53.64" width="4.5" height="3.97" fill="#67001f"/><rect x="538.6" y="53.64" width="4.5" height="3.97" fill="#0d4078"/><rect x="542.1" y="53.64" width="32.5" height="3.97" fill="#286fb1"/><rect x="573.6" y="53.64" width="4.5" height="3.97" fill="#0d4078"/><rect x="577.1" y="53.64" width="8" height="3.97" fill="#67001f"/><rect x="584.1" y="53.64" width="4.5" height="3.97" fill="#dc6e58"/><rect x="587.6" y="53.64" width="4.5" height="3.97" fill="#fbd0b9"/><rect x="591.1" y="53.64" width="8" height="3.97" fill="#f9ece4"/><rect x="598.1" y="53.64" width="4.5" height="3.97" fill="#ecf2f5"/><rect x="601.6" y="53.64" width="4.5" height="3.97" fill="#cbe2ee"/><rect x="605.1" y="53.64" width="4.5" height="3.97" fill="#94c6de"/><rect x="608.6" y="53.64" width="4.5" height="3.97" fill="#65a8cf"/><rect x="612.1" y="53.64" width="11.5" height="3.97" fill="#62a7ce"/><rect x="622.6" y="53.64" width="4.5" height="3.97" fill="#62a6ce"/><rect x="626.1" y="53.64" width="4.5" height="3.97" fill="#62a6cd"/><rect x="629.6" y="53.64" width="8" height="3.97" fill="#61a6cd"/><rect x="636.6" y="53.64" width="4.5" height="3.97" fill="#68aad0"/><rect x="640.1" y="53.64" width="4.5" height="3.97" fill="#6eafd2"/><rect x="643.6" y="53.64" width="4.5" height="3.97" fill="#75b3d4"/><rect x="647.1" y="53.64" width="4.5" height="3.97" fill="#7cb7d7"/><rect x="650.6" y="53.64" width="4.5" height="3.97" fill="#83bcd9"/><rect x="654.1" y="53.64" width="4.5" height="3.97" fill="#8ac0db"/><rect x="657.6" y="53.64" width="4.5" height="3.97" fill="#91c4de"/><rect x="661.1" y="53.64" width="4.5" height="3.97" fill="#99c9e0"/><rect x="664.6" y="53.64" width="4.5" height="3.97" fill="#a2cde3"/><rect x="668.1" y="53.64" width="4.5" height="3.97" fill="#abd2e5"/><rect x="671.6" y="53.64" width="4.5" height="3.97" fill="#b4d6e8"/><rect x="675.1" y="53.64" width="3.5" height="3.97" fill="#bcdbea"/><rect x="535.1" y="56.61" width="4.5" height="3.97" fill="#dc6e58"/><rect x="538.6" y="56.61" width="4.5" height="3.97" fill="#67001f"/><rect x="542.1" y="56.61" width="4.5" height="3.97" fill="#0d4078"/><rect x="545.6" y="56.61" width="32.5" height="3.97" fill="#286fb1"/><rect x="577.1" y="56.61" width="8" height="3.97" fill="#0d4078"/><rect x="584.1" y="56.61" width="4.5" height="3.97" fill="#67001f"/><rect x="587.6" y="56.61" width="4.5" height="3.97" fill="#dc6e58"/><rect x="591.1" y="56.61" width="8" height="3.97" fill="#fbd0b9"/><rect x="598.1" y="56.61" width="4.5" height="3.97" fill="#f9ece4"/><rect x="601.6" y="56.61" width="4.5" height="3.97" fill="#f3f5f6"/><rect x="605.1" y="56.61" width="4.5" height="3.97" fill="#d8e8f1"/><rect x="608.6" y="56.61" width="4.5" height="3.97" fill="#a2cde2"/><rect x="612.1" y="56.61" width="4.5" height="3.97" fill="#6fafd2"/><rect x="615.6" y="56.61" width="22" height="3.97" fill="#63a7ce"/><rect x="636.6" y="56.61" width="4.5" height="3.97" fill="#69abd0"/><rect x="640.1" y="56.61" width="4.5" height="3.97" fill="#70afd2"/><rect x="643.6" y="56.61" width="4.5" height="3.97" fill="#76b4d5"/><rect x="647.1" y="56.61" width="4.5" height="3.97" fill="#7db8d7"/><rect x="650.6" y="56.61" width="4.5" height="3.97" fill="#84bcd9"/><rect x="654.1" y="56.61" width="4.5" height="3.97" fill="#8ac0db"/><rect x="657.6" y="56.61" width="4.5" height="3.97" fill="#91c4de"/><rect x="661.1" y="56.61" width="4.5" height="3.97" fill="#99c9e0"/><rect x="664.6" y="56.61" width="4.5" height="3.97" fill="#a1cde2"/><rect x="668.1" y="56.61" width="4.5" height="3.97" fill="#aad1e5"/><rect x="671.6" y="56.61" width="4.5" height="3.97" fill="#b2d6e7"/><rect x="675.1" y="56.61" width="3.5" height="3.97" fill="#bbdaea"/><rect x="535.1" y="59.58" width="4.5" height="3.97" fill="#fbd0b9"/><rect x="538.6" y="59.58" width="4.5" height="3.97" fill="#dc6e58"/><rect x="542.1" y="59.58" width="4.5" height="3.97" fill="#67001f"/><rect x="545.6" y="59.58" width="8" height="3.97" fill="#0d4078"/><rect x="552.6" y="59.58" width="32.5" height="3.97" fill="#286fb1"/><rect x="584.1" y="59.58" width="4.5" height="3.97" fill="#0d4078"/><rect x="587.6" y="59.58" width="4.5" height="3.97" fill="#67001f"/><rect x="591.1" y="59.58" width="8" height="3.97" fill="#dc6e58"/><rect x="598.1" y="59.58" width="4.5" height="3.97" fill="#fbd0b9"/><rect x="601.6" y="59.58" width="4.5" height="3.97" fill="#f9ece4"/><rect x="605.1" y="59.58" width="4.5" height="3.97" fill="#f7f7f7"/><rect x="608.6" y="59.58" width="4.5" height="3.97" fill="#e3edf3"/><rect x="612.1" y="59.58" width="4.5" height="3.97" fill="#b5d7e8"/><rect x="615.6" y="59.58" width="4.5" height="3.97" fill="#7fb9d7"/><rect x="619.1" y="59.58" width="11.5" height="3.97" fill="#64a8ce"/><rect x="629.6" y="59.58" width="4.5" height="3.97" fill="#65a8ce"/><rect x="633.1" y="59.58" width="4.5" height="3.97" fill="#65a8cf"/><rect x="636.6" y="59.58" width="4.5" height="3.97" fill="#6bacd1"/><rect x="640.1" y="59.58" width="4.5" height="3.97" fill="#71b0d3"/><rect x="643.6" y="59.58" width="4.5" height="3.97" fill="#78b4d5"/><rect x="647.1" y="59.58" width="4.5" height="3.97" fill="#7eb8d7"/><rect x="650.6" y="59.58" width="4.5" height="3.97" fill="#84bcd9"/><rect x="654.1" y="59.58" width="4.5" height="3.97" fill="#8bc0db"/><rect x="657.6" y="59.58" width="4.5" height="3.97" fill="#91c4de"/><rect x="661.1" y="59.58" width="4.5" height="3.97" fill="#99c8e0"/><rect x="664.6" y="59.58" width="4.5" height="3.97" fill="#a1cde2"/><rect x="668.1" y="59.58" width="4.5" height="3.97" fill="#a9d1e5"/><rect x="671.6" y="59.58" width="4.5" height="3.97" fill="#b1d5e7"/><rect x="675.1" y="59.58" width="3.5" height="3.97" fill="#bad9e9"/><rect x="535.1" y="62.55" width="4.5" height="3.97" fill="#f9ece4"/><rect x="538.6" y="62.55" width="4.5" height="3.97" fill="#fbd0b9"/><rect x="542.1" y="62.55" width="4.5" height="3.97" fill="#dc6e58"/><rect x="545.6" y="62.55" width="8" height="3.97" fill="#67001f"/><rect x="552.6" y="62.55" width="4.5" height="3.97" fill="#0d4078"/><rect x="556.1" y="62.55" width="32.5" height="3.97" fill="#286fb1"/><rect x="587.6" y="62.55" width="4.5" height="3.97" fill="#0d4078"/><rect x="591.1" y="62.55" width="8" height="3.97" fill="#67001f"/><rect x="598.1" y="62.55" width="4.5" height="3.97" fill="#dc6e58"/><rect x="601.6" y="62.55" width="4.5" height="3.97" fill="#fbd0b9"/><rect x="605.1" y="62.55" width="8" height="3.97" fill="#f9ece4"/><rect x="612.1" y="62.55" width="4.5" height="3.97" fill="#edf2f5"/><rect x="615.6" y="62.55" width="4.5" height="3.97" fill="#cbe2ee"/><rect x="619.1" y="62.55" width="4.5" height="3.97" fill="#94c6de"/><rect x="622.6" y="62.55" width="4.5" height="3.97" fill="#68abd0"/><rect x="626.1" y="62.55" width="8" height="3.97" fill="#66a9cf"/><rect x="633.1" y="62.55" width="4.5" height="3.97" fill="#67aacf"/><rect x="636.6" y="62.55" width="4.5" height="3.97" fill="#6dadd1"/><rect x="640.1" y="62.55" width="4.5" height="3.97" fill="#73b1d3"/><rect x="643.6" y="62.55" width="4.5" height="3.97" fill="#79b5d5"/><rect x="647.1" y="62.55" width="4.5" height="3.97" fill="#7fb9d7"/><rect x="650.6" y="62.55" width="4.5" height="3.97" fill="#85bdd9"/><rect x="654.1" y="62.55" width="4.5" height="3.97" fill="#8bc0dc"/><rect x="657.6" y="62.55" width="4.5" height="3.97" fill="#91c4de"/><rect x="661.1" y="62.55" width="4.5" height="3.97" fill="#98c8e0"/><rect x="664.6" y="62.55" width="4.5" height="3.97" fill="#a0cce2"/><rect x="668.1" y="62.55" width="4.5" height="3.97" fill="#a8d0e4"/><rect x="671.6" y="62.55" width="4.5" height="3.97" fill="#b0d4e7"/><rect x="675.1" y="62.55" width="3.5" height="3.97" fill="#b8d8e9"/><rect x="535.1" y="65.52" width="4.5" height="3.97" fill="#f6f7f7"/><rect x="538.6" y="65.52" width="4.5" height="3.97" fill="#f9ece4"/><rect x="542.1" y="65.52" width="4.5" height="3.97" fill="#fbd0b9"/><rect x="545.6" y="65.52" width="8" height="3.97" fill="#dc6e58"/><rect x="552.6" y="65.52" width="4.5" height="3.97" fill="#67001f"/><rect x="556.1" y="65.52" width="4.5" height="3.97" fill="#0d4078"/><rect x="559.6" y="65.52" width="32.5" height="3.97" fill="#286fb1"/><rect x="591.1" y="65.52" width="8" height="3.97" fill="#0d4078"/><rect x="598.1" y="65.52" width="4.5" height="3.97" fill="#67001f"/><rect x="601.6" y="65.52" width="4.5" height="3.97" fill="#dc6e58"/><rect x="605.1" y="65.52" width="8" height="3.97" fill="#fbd0b9"/><rect x="612.1" y="65.52" width="4.5" height="3.97" fill="#f9ece4"/><rect x="615.6" y="65.52" width="4.5" height="3.97" fill="#f4f5f6"/><rect x="619.1" y="65.52" width="4.5" height="3.97" fill="#dae9f2"/><rect x="622.6" y="65.52" width="4.5" height="3.97" fill="#a7cfe4"/><rect x="626.1" y="65.52" width="4.5" height="3.97" fill="#75b3d4"/><rect x="629.6" y="65.52" width="4.5" height="3.97" fill="#68aad0"/><rect x="633.1" y="65.52" width="4.5" height="3.97" fill="#69abd0"/><rect x="636.6" y="65.52" width="4.5" height="3.97" fill="#6eaed2"/><rect x="640.1" y="65.52" width="4.5" height="3.97" fill="#74b2d4"/><rect x="643.6" y="65.52" width="4.5" height="3.97" fill="#7ab6d6"/><rect x="647.1" y="65.52" width="4.5" height="3.97" fill="#80b9d8"/><rect x="650.6" y="65.52" width="4.5" height="3.97" fill="#85bdda"/><rect x="654.1" y="65.52" width="4.5" height="3.97" fill="#8bc1dc"/><rect x="657.6" y="65.52" width="4.5" height="3.97" fill="#91c4de"/><rect x="661.1" y="65.52" width="4.5" height="3.97" fill="#98c8e0"/><rect x="664.6" y="65.52" width="4.5" height="3.97" fill="#a0cce2"/><rect x="668.1" y="65.52" width="4.5" height="3.97" fill="#a8d0e4"/><rect x="671.6" y="65.52" width="4.5" height="3.97" fill="#afd4e6"/><rect x="675.1" y="65.52" width="3.5" height="3.97" fill="#b7d8e9"/><rect x="535.1" y="68.49" width="4.5" height="3.97" fill="#f3f5f6"/><rect x="538.6" y="68.49" width="4.5" height="3.97" fill="#f5f6f7"/><rect x="542.1" y="68.49" width="4.5" height="3.97" fill="#f9ece4"/><rect x="545.6" y="68.49" width="8" height="3.97" fill="#fbd0b9"/><rect x="552.6" y="68.49" width="4.5" height="3.97" fill="#dc6e58"/><rect x="556.1" y="68.49" width="4.5" height="3.97" fill="#67001f"/><rect x="559.6" y="68.49" width="8" height="3.97" fill="#0d4078"/><rect x="566.6" y="68.49" width="32.5" height="3.97" fill="#286fb1"/><rect x="598.1" y="68.49" width="4.5" height="3.97" fill="#0d4078"/><rect x="601.6" y="68.49" width="4.5" height="3.97" fill="#67001f"/><rect x="605.1" y="68.49" width="8" height="3.97" fill="#dc6e58"/><rect x="612.1" y="68.49" width="4.5" height="3.97" fill="#fbd0b9"/><rect x="615.6" y="68.49" width="4.5" height="3.97" fill="#f9ece4"/><rect x="619.1" y="68.49" width="4.5" height="3.97" fill="#f9ece5"/><rect x="622.6" y="68.49" width="4.5" height="3.97" fill="#e5eef4"/><rect x="626.1" y="68.49" width="4.5" height="3.97" fill="#bbdaea"/><rect x="629.6" y="68.49" width="4.5" height="3.97" fill="#87beda"/><rect x="633.1" y="68.49" width="4.5" height="3.97" fill="#6aacd0"/><rect x="636.6" y="68.49" width="4.5" height="3.97" fill="#70afd2"/><rect x="640.1" y="68.49" width="4.5" height="3.97" fill="#75b3d4"/><rect x="643.6" y="68.49" width="4.5" height="3.97" fill="#7bb6d6"/><rect x="647.1" y="68.49" width="4.5" height="3.97" fill="#80bad8"/><rect x="650.6" y="68.49" width="4.5" height="3.97" fill="#86bdda"/><rect x="654.1" y="68.49" width="4.5" height="3.97" fill="#8bc1dc"/><rect x="657.6" y="68.49" width="4.5" height="3.97" fill="#91c4de"/><rect x="661.1" y="68.49" width="4.5" height="3.97" fill="#98c8e0"/><rect x="664.6" y="68.49" width="4.5" height="3.97" fill="#9fcce2"/><rect x="668.1" y="68.49" width="4.5" height="3.97" fill="#a7d0e4"/><rect x="671.6" y="68.49" width="4.5" height="3.97" fill="#aed3e6"/><rect x="675.1" y="68.49" width="3.5" height="3.97" fill="#b5d7e8"/><rect x="535.1" y="71.46" width="4.5" height="3.97" fill="#f4f6f6"/><rect x="538.6" y="71.46" width="4.5" height="3.97" fill="#f1f4f6"/><rect x="542.1" y="71.46" width="4.5" height="3.97" fill="#f3f5f6"/><rect x="545.6" y="71.46" width="8" height="3.97" fill="#f9ece4"/><rect x="552.6" y="71.46" width="4.5" height="3.97" fill="#fbd0b9"/><rect x="556.1" y="71.46" width="4.5" height="3.97" fill="#dc6e58"/><rect x="559.6" y="71.46" width="8" height="3.97" fill="#67001f"/><rect x="566.6" y="71.46" width="4.5" height="3.97" fill="#0d4078"/><rect x="570.1" y="71.46" width="32.5" height="3.97" fill="#286fb1"/><rect x="601.6" y="71.46" width="4.5" height="3.97" fill="#0d4078"/><rect x="605.1" y="71.46" width="8" height="3.97" fill="#67001f"/><rect x="612.1" y="71.46" width="4.5" height="3.97" fill="#dc6e58"/><rect x="615.6" y="71.46" width="8" height="3.97" fill="#fbd0b9"/><rect x="622.6" y="71.46" width="4.5" height="3.97" fill="#f9ece4"/><rect x="626.1" y="71.46" width="4.5" height="3.97" fill="#eef3f5"/><rect x="629.6" y="71.46" width="4.5" height="3.97" fill="#d1e5f0"/><rect x="633.1" y="71.46" width="4.5" height="3.97" fill="#9ccae1"/><rect x="636.6" y="71.46" width="8" height="3.97" fill="#77b4d5"/><rect x="643.6" y="71.46" width="4.5" height="3.97" fill="#7cb7d7"/><rect x="647.1" y="71.46" width="4.5" height="3.97" fill="#82bbd8"/><rect x="650.6" y="71.46" width="4.5" height="3.97" fill="#87beda"/><rect x="654.1" y="71.46" width="4.5" height="3.97" fill="#8cc1dc"/><rect x="657.6" y="71.46" width="4.5" height="3.97" fill="#91c4de"/><rect x="661.1" y="71.46" width="4.5" height="3.97" fill="#98c8e0"/><rect x="664.6" y="71.46" width="4.5" height="3.97" fill="#9fcce2"/><rect x="668.1" y="71.46" width="4.5" height="3.97" fill="#a6cfe4"/><rect x="671.6" y="71.46" width="4.5" height="3.97" fill="#add3e6"/><rect x="675.1" y="71.46" width="3.5" height="3.97" fill="#b5d7e8"/><rect x="535.1" y="74.43" width="4.5" height="3.97" fill="#f4f6f6"/><rect x="538.6" y="74.43" width="4.5" height="3.97" fill="#f1f4f6"/><rect x="542.1" y="74.43" width="4.5" height="3.97" fill="#eff3f6"/><rect x="545.6" y="74.43" width="4.5" height="3.97" fill="#f0f4f6"/><rect x="549.1" y="74.43" width="4.5" height="3.97" fill="#f6f6f7"/><rect x="552.6" y="74.43" width="4.5" height="3.97" fill="#f9ece4"/><rect x="556.1" y="74.43" width="4.5" height="3.97" fill="#fbd0b9"/><rect x="559.6" y="74.43" width="8" height="3.97" fill="#dc6e58"/><rect x="566.6" y="74.43" width="4.5" height="3.97" fill="#67001f"/><rect x="570.1" y="74.43" width="4.5" height="3.97" fill="#0d4078"/><rect x="573.6" y="74.43" width="32.5" height="3.97" fill="#286fb1"/><rect x="605.1" y="74.43" width="8" height="3.97" fill="#0d4078"/><rect x="612.1" y="74.43" width="4.5" height="3.97" fill="#67001f"/><rect x="615.6" y="74.43" width="8" height="3.97" fill="#dc6e58"/><rect x="622.6" y="74.43" width="4.5" height="3.97" fill="#fbd0b9"/><rect x="626.1" y="74.43" width="4.5" height="3.97" fill="#f9ece4"/><rect x="629.6" y="74.43" width="4.5" height="3.97" fill="#f5f6f7"/><rect x="633.1" y="74.43" width="4.5" height="3.97" fill="#ddebf2"/><rect x="636.6" y="74.43" width="4.5" height="3.97" fill="#b1d5e7"/><rect x="640.1" y="74.43" width="4.5" height="3.97" fill="#88bfdb"/><rect x="643.6" y="74.43" width="4.5" height="3.97" fill="#7eb8d7"/><rect x="647.1" y="74.43" width="4.5" height="3.97" fill="#83bbd9"/><rect x="650.6" y="74.43" width="4.5" height="3.97" fill="#88beda"/><rect x="654.1" y="74.43" width="4.5" height="3.97" fill="#8cc1dc"/><rect x="657.6" y="74.43" width="4.5" height="3.97" fill="#91c4de"/><rect x="661.1" y="74.43" width="4.5" height="3.97" fill="#98c8e0"/><rect x="664.6" y="74.43" width="4.5" height="3.97" fill="#9fcce2"/><rect x="668.1" y="74.43" width="4.5" height="3.97" fill="#a6cfe4"/><rect x="671.6" y="74.43" width="4.5" height="3.97" fill="#add3e6"/><rect x="675.1" y="74.43" width="3.5" height="3.97" fill="#b4d6e8"/><rect x="535.1" y="77.4" width="4.5" height="3.97" fill="#f3f5f6"/><rect x="538.6" y="77.4" width="4.5" height="3.97" fill="#f0f4f6"/><rect x="542.1" y="77.4" width="4.5" height="3.97" fill="#edf2f5"/><rect x="545.6" y="77.4" width="4.5" height="3.97" fill="#ecf2f5"/><rect x="549.1" y="77.4" width="4.5" height="3.97" fill="#edf2f5"/><rect x="552.6" y="77.4" width="4.5" height="3.97" fill="#f3f5f6"/><rect x="556.1" y="77.4" width="4.5" height="3.97" fill="#f9ece4"/><rect x="559.6" y="77.4" width="8" height="3.97" fill="#fbd0b9"/><rect x="566.6" y="77.4" width="4.5" height="3.97" fill="#dc6e58"/><rect x="570.1" y="77.4" width="4.5" height="3.97" fill="#67001f"/><rect x="573.6" y="77.4" width="8" height="3.97" fill="#0d4078"/><rect x="580.6" y="77.4" width="32.5" height="3.97" fill="#286fb1"/><rect x="612.1" y="77.4" width="4.5" height="3.97" fill="#0d4078"/><rect x="615.6" y="77.4" width="8" height="3.97" fill="#67001f"/><rect x="622.6" y="77.4" width="4.5" height="3.97" fill="#dc6e58"/><rect x="626.1" y="77.4" width="4.5" height="3.97" fill="#fbd0b9"/><rect x="629.6" y="77.4" width="8" height="3.97" fill="#f9ece4"/><rect x="636.6" y="77.4" width="4.5" height="3.97" fill="#e8f0f4"/><rect x="640.1" y="77.4" width="4.5" height="3.97" fill="#c6dfed"/><rect x="643.6" y="77.4" width="4.5" height="3.97" fill="#9ac9e0"/><rect x="647.1" y="77.4" width="4.5" height="3.97" fill="#84bcd9"/><rect x="650.6" y="77.4" width="4.5" height="3.97" fill="#88bfdb"/><rect x="654.1" y="77.4" width="4.5" height="3.97" fill="#8dc2dc"/><rect x="657.6" y="77.4" width="4.5" height="3.97" fill="#91c4de"/><rect x="661.1" y="77.4" width="4.5" height="3.97" fill="#98c8e0"/><rect x="664.6" y="77.4" width="4.5" height="3.97" fill="#9fcbe2"/><rect x="668.1" y="77.4" width="4.5" height="3.97" fill="#a5cfe4"/><rect x="671.6" y="77.4" width="4.5" height="3.97" fill="#acd2e6"/><rect x="675.1" y="77.4" width="3.5" height="3.97" fill="#b3d6e8"/><rect x="535.1" y="80.37" width="4.5" height="3.97" fill="#f2f5f6"/><rect x="538.6" y="80.37" width="4.5" height="3.97" fill="#eff3f5"/><rect x="542.1" y="80.37" width="4.5" height="3.97" fill="#ecf2f5"/><rect x="545.6" y="80.37" width="4.5" height="3.97" fill="#e9f0f4"/><rect x="549.1" y="80.37" width="4.5" height="3.97" fill="#e5eff4"/><rect x="552.6" y="80.37" width="4.5" height="3.97" fill="#e7eff4"/><rect x="556.1" y="80.37" width="4.5" height="3.97" fill="#eff3f6"/><rect x="559.6" y="80.37" width="8" height="3.97" fill="#f9ece4"/><rect x="566.6" y="80.37" width="4.5" height="3.97" fill="#fbd0b9"/><rect x="570.1" y="80.37" width="4.5" height="3.97" fill="#dc6e58"/><rect x="573.6" y="80.37" width="8" height="3.97" fill="#67001f"/><rect x="580.6" y="80.37" width="4.5" height="3.97" fill="#0d4078"/><rect x="584.1" y="80.37" width="32.5" height="3.97" fill="#286fb1"/><rect x="615.6" y="80.37" width="8" height="3.97" fill="#0d4078"/><rect x="622.6" y="80.37" width="4.5" height="3.97" fill="#67001f"/><rect x="626.1" y="80.37" width="4.5" height="3.97" fill="#dc6e58"/><rect x="629.6" y="80.37" width="8" height="3.97" fill="#fbd0b9"/><rect x="636.6" y="80.37" width="4.5" height="3.97" fill="#f9ece4"/><rect x="640.1" y="80.37" width="4.5" height="3.97" fill="#f0f4f6"/><rect x="643.6" y="80.37" width="4.5" height="3.97" fill="#d6e7f1"/><rect x="647.1" y="80.37" width="4.5" height="3.97" fill="#acd2e5"/><rect x="650.6" y="80.37" width="4.5" height="3.97" fill="#8ec3dd"/><rect x="654.1" y="80.37" width="4.5" height="3.97" fill="#8dc2dc"/><rect x="657.6" y="80.37" width="4.5" height="3.97" fill="#91c5de"/><rect x="661.1" y="80.37" width="4.5" height="3.97" fill="#98c8e0"/><rect x="664.6" y="80.37" width="4.5" height="3.97" fill="#9ecbe2"/><rect x="668.1" y="80.37" width="4.5" height="3.97" fill="#a5cfe3"/><rect x="671.6" y="80.37" width="4.5" height="3.97" fill="#acd2e5"/><rect x="675.1" y="80.37" width="3.5" height="3.97" fill="#b3d6e7"/><rect x="535.1" y="83.34" width="4.5" height="3.97" fill="#f1f4f6"/><rect x="538.6" y="83.34" width="4.5" height="3.97" fill="#eef3f5"/><rect x="542.1" y="83.34" width="4.5" height="3.97" fill="#eaf1f5"/><rect x="545.6" y="83.34" width="4.5" height="3.97" fill="#e7eff4"/><rect x="549.1" y="83.34" width="4.5" height="3.97" fill="#e2edf3"/><rect x="552.6" y="83.34" width="4.5" height="3.97" fill="#ddebf2"/><rect x="556.1" y="83.34" width="4.5" height="3.97" fill="#e0ecf3"/><rect x="559.6" y="83.34" width="4.5" height="3.97" fill="#e9f1f4"/><rect x="563.1" y="83.34" width="4.5" height="3.97" fill="#f5f6f7"/><rect x="566.6" y="83.34" width="4.5" height="3.97" fill="#f9ece4"/><rect x="570.1" y="83.34" width="4.5" height="3.97" fill="#fbd0b9"/><rect x="573.6" y="83.34" width="8" height="3.97" fill="#dc6e58"/><rect x="580.6" y="83.34" width="4.5" height="3.97" fill="#67001f"/><rect x="584.1" y="83.34" width="4.5" height="3.97" fill="#0d4078"/><rect x="587.6" y="83.34" width="36" height="3.97" fill="#286fb1"/><rect x="622.6" y="83.34" width="4.5" height="3.97" fill="#0d4078"/><rect x="626.1" y="83.34" width="4.5" height="3.97" fill="#67001f"/><rect x="629.6" y="83.34" width="8" height="3.97" fill="#dc6e58"/><rect x="636.6" y="83.34" width="4.5" height="3.97" fill="#fbd0b9"/><rect x="640.1" y="83.34" width="4.5" height="3.97" fill="#f9ece4"/><rect x="643.6" y="83.34" width="4.5" height="3.97" fill="#f5f6f7"/><rect x="647.1" y="83.34" width="4.5" height="3.97" fill="#e1edf3"/><rect x="650.6" y="83.34" width="4.5" height="3.97" fill="#bedbeb"/><rect x="654.1" y="83.34" width="4.5" height="3.97" fill="#9ac9e0"/><rect x="657.6" y="83.34" width="4.5" height="3.97" fill="#91c5de"/><rect x="661.1" y="83.34" width="4.5" height="3.97" fill="#97c8e0"/><rect x="664.6" y="83.34" width="4.5" height="3.97" fill="#9ecbe1"/><rect x="668.1" y="83.34" width="4.5" height="3.97" fill="#a5cee3"/><rect x="671.6" y="83.34" width="4.5" height="3.97" fill="#abd2e5"/><rect x="675.1" y="83.34" width="3.5" height="3.97" fill="#b2d5e7"/><rect x="535.1" y="86.31" width="4.5" height="3.97" fill="#f0f4f6"/><rect x="538.6" y="86.31" width="4.5" height="3.97" fill="#ecf2f5"/><rect x="542.1" y="86.31" width="4.5" height="3.97" fill="#e9f0f4"/><rect x="545.6" y="86.31" width="4.5" height="3.97" fill="#e5eff4"/><rect x="549.1" y="86.31" width="4.5" height="3.97" fill="#e0ecf3"/><rect x="552.6" y="86.31" width="4.5" height="3.97" fill="#dae9f2"/><rect x="556.1" y="86.31" width="4.5" height="3.97" fill="#d4e6f1"/><rect x="559.6" y="86.31" width="4.5" height="3.97" fill="#d7e8f1"/><rect x="563.1" y="86.31" width="4.5" height="3.97" fill="#e2edf3"/><rect x="566.6" y="86.31" width="4.5" height="3.97" fill="#f1f4f6"/><rect x="570.1" y="86.31" width="4.5" height="3.97" fill="#f9ece4"/><rect x="573.6" y="86.31" width="8" height="3.97" fill="#fbd0b9"/><rect x="580.6" y="86.31" width="4.5" height="3.97" fill="#dc6e58"/><rect x="584.1" y="86.31" width="4.5" height="3.97" fill="#67001f"/><rect x="587.6" y="86.31" width="8" height="3.97" fill="#0d4078"/><rect x="594.6" y="86.31" width="32.5" height="3.97" fill="#286fb1"/><rect x="626.1" y="86.31" width="4.5" height="3.97" fill="#0d4078"/><rect x="629.6" y="86.31" width="8" height="3.97" fill="#67001f"/><rect x="636.6" y="86.31" width="4.5" height="3.97" fill="#dc6e58"/><rect x="640.1" y="86.31" width="4.5" height="3.97" fill="#fbd0b9"/><rect x="643.6" y="86.31" width="8" height="3.97" fill="#f9ece4"/><rect x="650.6" y="86.31" width="4.5" height="3.97" fill="#eaf1f5"/><rect x="654.1" y="86.31" width="4.5" height="3.97" fill="#cfe4f0"/><rect x="657.6" y="86.31" width="4.5" height="3.97" fill="#a8d0e4"/><rect x="661.1" y="86.31" width="4.5" height="3.97" fill="#98c8e0"/><rect x="664.6" y="86.31" width="4.5" height="3.97" fill="#9ecbe1"/><rect x="668.1" y="86.31" width="4.5" height="3.97" fill="#a4cee3"/><rect x="671.6" y="86.31" width="4.5" height="3.97" fill="#abd2e5"/><rect x="675.1" y="86.31" width="3.5" height="3.97" fill="#b1d5e7"/><rect x="535.1" y="89.28" width="4.5" height="3.97" fill="#eff3f5"/><rect x="538.6" y="89.28" width="4.5" height="3.97" fill="#ebf1f5"/><rect x="542.1" y="89.28" width="4.5" height="3.97" fill="#e7f0f4"/><rect x="545.6" y="89.28" width="4.5" height="3.97" fill="#e3eef3"/><rect x="549.1" y="89.28" width="4.5" height="3.97" fill="#deebf2"/><rect x="552.6" y="89.28" width="4.5" height="3.97" fill="#d7e8f1"/><rect x="556.1" y="89.28" width="4.5" height="3.97" fill="#d1e5f0"/><rect x="559.6" y="89.28" width="4.5" height="3.97" fill="#c8e1ee"/><rect x="563.1" y="89.28" width="4.5" height="3.97" fill="#cce3ef"/><rect x="566.6" y="89.28" width="4.5" height="3.97" fill="#dae9f2"/><rect x="570.1" y="89.28" width="4.5" height="3.97" fill="#ebf1f5"/><rect x="573.6" y="89.28" width="8" height="3.97" fill="#f9ece4"/><rect x="580.6" y="89.28" width="4.5" height="3.97" fill="#fbd0b9"/><rect x="584.1" y="89.28" width="4.5" height="3.97" fill="#dc6e58"/><rect x="587.6" y="89.28" width="8" height="3.97" fill="#67001f"/><rect x="594.6" y="89.28" width="4.5" height="3.97" fill="#0d4078"/><rect x="598.1" y="89.28" width="32.5" height="3.97" fill="#286fb1"/><rect x="629.6" y="89.28" width="8" height="3.97" fill="#0d4078"/><rect x="636.6" y="89.28" width="4.5" height="3.97" fill="#67001f"/><rect x="640.1" y="89.28" width="4.5" height="3.97" fill="#dc6e58"/><rect x="643.6" y="89.28" width="8" height="3.97" fill="#fbd0b9"/><rect x="650.6" y="89.28" width="4.5" height="3.97" fill="#f9ece4"/><rect x="654.1" y="89.28" width="4.5" height="3.97" fill="#f1f4f6"/><rect x="657.6" y="89.28" width="4.5" height="3.97" fill="#dae9f2"/><rect x="661.1" y="89.28" width="4.5" height="3.97" fill="#b9d9e9"/><rect x="664.6" y="89.28" width="4.5" height="3.97" fill="#a2cde3"/><rect x="668.1" y="89.28" width="4.5" height="3.97" fill="#a4cee3"/><rect x="671.6" y="89.28" width="4.5" height="3.97" fill="#aad1e5"/><rect x="675.1" y="89.28" width="3.5" height="3.97" fill="#b0d4e7"/><rect x="535.1" y="92.25" width="4.5" height="3.97" fill="#eef3f5"/><rect x="538.6" y="92.25" width="4.5" height="3.97" fill="#eaf1f5"/><rect x="542.1" y="92.25" width="4.5" height="3.97" fill="#e6eff4"/><rect x="545.6" y="92.25" width="4.5" height="3.97" fill="#e2edf3"/><rect x="549.1" y="92.25" width="4.5" height="3.97" fill="#dceaf2"/><rect x="552.6" y="92.25" width="4.5" height="3.97" fill="#d5e7f1"/><rect x="556.1" y="92.25" width="4.5" height="3.97" fill="#cde3ef"/><rect x="559.6" y="92.25" width="4.5" height="3.97" fill="#c4deec"/><rect x="563.1" y="92.25" width="4.5" height="3.97" fill="#bfdceb"/><rect x="566.6" y="92.25" width="4.5" height="3.97" fill="#bedbeb"/><rect x="570.1" y="92.25" width="4.5" height="3.97" fill="#d1e5f0"/><rect x="573.6" y="92.25" width="4.5" height="3.97" fill="#e4eef3"/><rect x="577.1" y="92.25" width="4.5" height="3.97" fill="#f5f6f7"/><rect x="580.6" y="92.25" width="4.5" height="3.97" fill="#f9ece4"/><rect x="584.1" y="92.25" width="4.5" height="3.97" fill="#fbd0b9"/><rect x="587.6" y="92.25" width="8" height="3.97" fill="#dc6e58"/><rect x="594.6" y="92.25" width="4.5" height="3.97" fill="#67001f"/><rect x="598.1" y="92.25" width="4.5" height="3.97" fill="#0d4078"/><rect x="601.6" y="92.25" width="36" height="3.97" fill="#286fb1"/><rect x="636.6" y="92.25" width="4.5" height="3.97" fill="#0d4078"/><rect x="640.1" y="92.25" width="4.5" height="3.97" fill="#67001f"/><rect x="643.6" y="92.25" width="8" height="3.97" fill="#dc6e58"/><rect x="650.6" y="92.25" width="4.5" height="3.97" fill="#fbd0b9"/><rect x="654.1" y="92.25" width="4.5" height="3.97" fill="#f9ece4"/><rect x="657.6" y="92.25" width="4.5" height="3.97" fill="#f6f7f7"/><rect x="661.1" y="92.25" width="4.5" height="3.97" fill="#e4eef4"/><rect x="664.6" y="92.25" width="4.5" height="3.97" fill="#cae2ee"/><rect x="668.1" y="92.25" width="4.5" height="3.97" fill="#afd3e6"/><rect x="671.6" y="92.25" width="4.5" height="3.97" fill="#aad1e5"/><rect x="675.1" y="92.25" width="3.5" height="3.97" fill="#b0d4e7"/><rect x="535.1" y="95.22" width="4.5" height="3.97" fill="#ecf2f5"/><rect x="538.6" y="95.22" width="4.5" height="3.97" fill="#e8f0f4"/><rect x="542.1" y="95.22" width="4.5" height="3.97" fill="#e3eef3"/><rect x="545.6" y="95.22" width="4.5" height="3.97" fill="#deebf2"/><rect x="549.1" y="95.22" width="4.5" height="3.97" fill="#d8e8f1"/><rect x="552.6" y="95.22" width="4.5" height="3.97" fill="#d2e5f0"/><rect x="556.1" y="95.22" width="4.5" height="3.97" fill="#c7e0ed"/><rect x="559.6" y="95.22" width="4.5" height="3.97" fill="#bedbeb"/><rect x="563.1" y="95.22" width="4.5" height="3.97" fill="#b9d9e9"/><rect x="566.6" y="95.22" width="4.5" height="3.97" fill="#b4d6e8"/><rect x="570.1" y="95.22" width="4.5" height="3.97" fill="#b0d4e7"/><rect x="573.6" y="95.22" width="4.5" height="3.97" fill="#c0ddeb"/><rect x="577.1" y="95.22" width="4.5" height="3.97" fill="#dae9f2"/><rect x="580.6" y="95.22" width="4.5" height="3.97" fill="#f0f4f6"/><rect x="584.1" y="95.22" width="4.5" height="3.97" fill="#f9ece4"/><rect x="587.6" y="95.22" width="8" height="3.97" fill="#fbd0b9"/><rect x="594.6" y="95.22" width="4.5" height="3.97" fill="#dc6e58"/><rect x="598.1" y="95.22" width="4.5" height="3.97" fill="#67001f"/><rect x="601.6" y="95.22" width="8" height="3.97" fill="#0d4078"/><rect x="608.6" y="95.22" width="32.5" height="3.97" fill="#286fb1"/><rect x="640.1" y="95.22" width="4.5" height="3.97" fill="#0d4078"/><rect x="643.6" y="95.22" width="8" height="3.97" fill="#67001f"/><rect x="650.6" y="95.22" width="4.5" height="3.97" fill="#dc6e58"/><rect x="654.1" y="95.22" width="4.5" height="3.97" fill="#fbd0b9"/><rect x="657.6" y="95.22" width="8" height="3.97" fill="#f9ece4"/><rect x="664.6" y="95.22" width="4.5" height="3.97" fill="#edf2f5"/><rect x="668.1" y="95.22" width="4.5" height="3.97" fill="#d8e8f1"/><rect x="671.6" y="95.22" width="4.5" height="3.97" fill="#c0ddeb"/><rect x="675.1" y="95.22" width="3.5" height="3.97" fill="#b4d6e8"/><rect x="535.1" y="98.19" width="4.5" height="3.97" fill="#eaf1f5"/><rect x="538.6" y="98.19" width="4.5" height="3.97" fill="#e5eef4"/><rect x="542.1" y="98.19" width="4.5" height="3.97" fill="#e0ecf3"/><rect x="545.6" y="98.19" width="4.5" height="3.97" fill="#dae9f2"/><rect x="549.1" y="98.19" width="4.5" height="3.97" fill="#d4e6f0"/><rect x="552.6" y="98.19" width="4.5" height="3.97" fill="#cae2ee"/><rect x="556.1" y="98.19" width="4.5" height="3.97" fill="#bfdceb"/><rect x="559.6" y="98.19" width="4.5" height="3.97" fill="#b7d8e8"/><rect x="563.1" y="98.19" width="4.5" height="3.97" fill="#b2d5e7"/><rect x="566.6" y="98.19" width="4.5" height="3.97" fill="#add3e6"/><rect x="570.1" y="98.19" width="4.5" height="3.97" fill="#a8d0e4"/><rect x="573.6" y="98.19" width="4.5" height="3.97" fill="#a3cee3"/><rect x="577.1" y="98.19" width="4.5" height="3.97" fill="#add3e6"/><rect x="580.6" y="98.19" width="4.5" height="3.97" fill="#cee3ef"/><rect x="584.1" y="98.19" width="4.5" height="3.97" fill="#e8f0f4"/><rect x="587.6" y="98.19" width="8" height="3.97" fill="#f9ece4"/><rect x="594.6" y="98.19" width="4.5" height="3.97" fill="#fbd0b9"/><rect x="598.1" y="98.19" width="4.5" height="3.97" fill="#dc6e58"/><rect x="601.6" y="98.19" width="8" height="3.97" fill="#67001f"/><rect x="608.6" y="98.19" width="4.5" height="3.97" fill="#0d4078"/><rect x="612.1" y="98.19" width="32.5" height="3.97" fill="#286fb1"/><rect x="643.6" y="98.19" width="8" height="3.97" fill="#0d4078"/><rect x="650.6" y="98.19" width="4.5" height="3.97" fill="#67001f"/><rect x="654.1" y="98.19" width="4.5" height="3.97" fill="#dc6e58"/><rect x="657.6" y="98.19" width="8" height="3.97" fill="#fbd0b9"/><rect x="664.6" y="98.19" width="4.5" height="3.97" fill="#f9ece4"/><rect x="668.1" y="98.19" width="4.5" height="3.97" fill="#f3f5f6"/><rect x="671.6" y="98.19" width="4.5" height="3.97" fill="#e3edf3"/><rect x="675.1" y="98.19" width="3.5" height="3.97" fill="#d2e6f0"/><rect x="535.1" y="101.16" width="4.5" height="3.97" fill="#e9f0f4"/><rect x="538.6" y="101.16" width="4.5" height="3.97" fill="#e2edf3"/><rect x="542.1" y="101.16" width="4.5" height="3.97" fill="#dceaf2"/><rect x="545.6" y="101.16" width="4.5" height="3.97" fill="#d6e7f1"/><rect x="549.1" y="101.16" width="4.5" height="3.97" fill="#cee3ef"/><rect x="552.6" y="101.16" width="4.5" height="3.97" fill="#c3deec"/><rect x="556.1" y="101.16" width="4.5" height="3.97" fill="#b8d8e9"/><rect x="559.6" y="101.16" width="4.5" height="3.97" fill="#afd4e6"/><rect x="563.1" y="101.16" width="4.5" height="3.97" fill="#abd1e5"/><rect x="566.6" y="101.16" width="4.5" height="3.97" fill="#a6cfe4"/><rect x="570.1" y="101.16" width="4.5" height="3.97" fill="#a1cde2"/><rect x="573.6" y="101.16" width="4.5" height="3.97" fill="#9ccae1"/><rect x="577.1" y="101.16" width="4.5" height="3.97" fill="#98c8e0"/><rect x="580.6" y="101.16" width="4.5" height="3.97" fill="#9bc9e0"/><rect x="584.1" y="101.16" width="4.5" height="3.97" fill="#bad9e9"/><rect x="587.6" y="101.16" width="4.5" height="3.97" fill="#dfebf3"/><rect x="591.1" y="101.16" width="4.5" height="3.97" fill="#f4f6f6"/><rect x="594.6" y="101.16" width="4.5" height="3.97" fill="#f9ece4"/><rect x="598.1" y="101.16" width="4.5" height="3.97" fill="#fbd0b9"/><rect x="601.6" y="101.16" width="8" height="3.97" fill="#dc6e58"/><rect x="608.6" y="101.16" width="4.5" height="3.97" fill="#67001f"/><rect x="612.1" y="101.16" width="4.5" height="3.97" fill="#0d4078"/><rect x="615.6" y="101.16" width="36" height="3.97" fill="#286fb1"/><rect x="650.6" y="101.16" width="4.5" height="3.97" fill="#0d4078"/><rect x="654.1" y="101.16" width="4.5" height="3.97" fill="#67001f"/><rect x="657.6" y="101.16" width="8" height="3.97" fill="#dc6e58"/><rect x="664.6" y="101.16" width="4.5" height="3.97" fill="#fbd0b9"/><rect x="668.1" y="101.16" width="4.5" height="3.97" fill="#f9ece4"/><rect x="671.6" y="101.16" width="4.5" height="3.97" fill="#f7f7f7"/><rect x="675.1" y="101.16" width="3.5" height="3.97" fill="#ebf1f5"/><rect x="535.1" y="104.13" width="4.5" height="3.97" fill="#e7eff4"/><rect x="538.6" y="104.13" width="4.5" height="3.97" fill="#e0ecf3"/><rect x="542.1" y="104.13" width="4.5" height="3.97" fill="#d9e9f1"/><rect x="545.6" y="104.13" width="4.5" height="3.97" fill="#d1e5f0"/><rect x="549.1" y="104.13" width="4.5" height="3.97" fill="#c6e0ed"/><rect x="552.6" y="104.13" width="4.5" height="3.97" fill="#bbdaea"/><rect x="556.1" y="104.13" width="4.5" height="3.97" fill="#b0d4e7"/><rect x="559.6" y="104.13" width="4.5" height="3.97" fill="#a8d0e4"/><rect x="563.1" y="104.13" width="4.5" height="3.97" fill="#a3cee3"/><rect x="566.6" y="104.13" width="4.5" height="3.97" fill="#9fcce2"/><rect x="570.1" y="104.13" width="4.5" height="3.97" fill="#9ac9e0"/><rect x="573.6" y="104.13" width="4.5" height="3.97" fill="#96c7df"/><rect x="577.1" y="104.13" width="4.5" height="3.97" fill="#91c4de"/><rect x="580.6" y="104.13" width="4.5" height="3.97" fill="#8bc1dc"/><rect x="584.1" y="104.13" width="4.5" height="3.97" fill="#89bfdb"/><rect x="587.6" y="104.13" width="4.5" height="3.97" fill="#a7d0e4"/><rect x="591.1" y="104.13" width="4.5" height="3.97" fill="#d4e6f0"/><rect x="594.6" y="104.13" width="4.5" height="3.97" fill="#eff3f5"/><rect x="598.1" y="104.13" width="4.5" height="3.97" fill="#f9ece4"/><rect x="601.6" y="104.13" width="8" height="3.97" fill="#fbd0b9"/><rect x="608.6" y="104.13" width="4.5" height="3.97" fill="#dc6e58"/><rect x="612.1" y="104.13" width="4.5" height="3.97" fill="#67001f"/><rect x="615.6" y="104.13" width="8" height="3.97" fill="#0d4078"/><rect x="622.6" y="104.13" width="32.5" height="3.97" fill="#286fb1"/><rect x="654.1" y="104.13" width="4.5" height="3.97" fill="#0d4078"/><rect x="657.6" y="104.13" width="8" height="3.97" fill="#67001f"/><rect x="664.6" y="104.13" width="4.5" height="3.97" fill="#dc6e58"/><rect x="668.1" y="104.13" width="4.5" height="3.97" fill="#fbd0b9"/><rect x="671.6" y="104.13" width="7" height="3.97" fill="#f9ece4"/><rect x="535.1" y="107.1" width="4.5" height="3.97" fill="#e5eef4"/><rect x="538.6" y="107.1" width="4.5" height="3.97" fill="#ddebf2"/><rect x="542.1" y="107.1" width="4.5" height="3.97" fill="#d5e7f1"/><rect x="545.6" y="107.1" width="4.5" height="3.97" fill="#cae2ee"/><rect x="549.1" y="107.1" width="4.5" height="3.97" fill="#bfdceb"/><rect x="552.6" y="107.1" width="4.5" height="3.97" fill="#b4d6e8"/><rect x="556.1" y="107.1" width="4.5" height="3.97" fill="#a9d1e5"/><rect x="559.6" y="107.1" width="4.5" height="3.97" fill="#a0cce2"/><rect x="563.1" y="107.1" width="4.5" height="3.97" fill="#9ccae1"/><rect x="566.6" y="107.1" width="4.5" height="3.97" fill="#98c8e0"/><rect x="570.1" y="107.1" width="4.5" height="3.97" fill="#93c6de"/><rect x="573.6" y="107.1" width="4.5" height="3.97" fill="#8ec3dd"/><rect x="577.1" y="107.1" width="4.5" height="3.97" fill="#89bfdb"/><rect x="580.6" y="107.1" width="4.5" height="3.97" fill="#84bcd9"/><rect x="584.1" y="107.1" width="4.5" height="3.97" fill="#7fb9d8"/><rect x="587.6" y="107.1" width="4.5" height="3.97" fill="#7eb9d7"/><rect x="591.1" y="107.1" width="4.5" height="3.97" fill="#95c7df"/><rect x="594.6" y="107.1" width="4.5" height="3.97" fill="#c2ddec"/><rect x="598.1" y="107.1" width="4.5" height="3.97" fill="#e6eff4"/><rect x="601.6" y="107.1" width="8" height="3.97" fill="#f9ece4"/><rect x="608.6" y="107.1" width="4.5" height="3.97" fill="#fbd0b9"/><rect x="612.1" y="107.1" width="4.5" height="3.97" fill="#dc6e58"/><rect x="615.6" y="107.1" width="8" height="3.97" fill="#67001f"/><rect x="622.6" y="107.1" width="4.5" height="3.97" fill="#0d4078"/><rect x="626.1" y="107.1" width="32.5" height="3.97" fill="#286fb1"/><rect x="657.6" y="107.1" width="8" height="3.97" fill="#0d4078"/><rect x="664.6" y="107.1" width="4.5" height="3.97" fill="#67001f"/><rect x="668.1" y="107.1" width="4.5" height="3.97" fill="#dc6e58"/><rect x="671.6" y="107.1" width="7" height="3.97" fill="#fbd0b9"/><rect x="535.1" y="110.07" width="4.5" height="3.97" fill="#e3eef3"/><rect x="538.6" y="110.07" width="4.5" height="3.97" fill="#dae9f2"/><rect x="542.1" y="110.07" width="4.5" height="3.97" fill="#d2e5f0"/><rect x="545.6" y="110.07" width="4.5" height="3.97" fill="#c3deec"/><rect x="549.1" y="110.07" width="4.5" height="3.97" fill="#b8d8e9"/><rect x="552.6" y="110.07" width="4.5" height="3.97" fill="#acd2e6"/><rect x="556.1" y="110.07" width="4.5" height="3.97" fill="#a1cde2"/><rect x="559.6" y="110.07" width="4.5" height="3.97" fill="#99c9e0"/><rect x="563.1" y="110.07" width="4.5" height="3.97" fill="#95c7df"/><rect x="566.6" y="110.07" width="4.5" height="3.97" fill="#91c4de"/><rect x="570.1" y="110.07" width="4.5" height="3.97" fill="#8bc1dc"/><rect x="573.6" y="110.07" width="4.5" height="3.97" fill="#86beda"/><rect x="577.1" y="110.07" width="4.5" height="3.97" fill="#81bad8"/><rect x="580.6" y="110.07" width="4.5" height="3.97" fill="#7cb7d6"/><rect x="584.1" y="110.07" width="4.5" height="3.97" fill="#78b5d5"/><rect x="587.6" y="110.07" width="8" height="3.97" fill="#78b4d5"/><rect x="594.6" y="110.07" width="4.5" height="3.97" fill="#84bcd9"/><rect x="598.1" y="110.07" width="4.5" height="3.97" fill="#afd4e6"/><rect x="601.6" y="110.07" width="4.5" height="3.97" fill="#dceaf2"/><rect x="605.1" y="110.07" width="4.5" height="3.97" fill="#f4f6f6"/><rect x="608.6" y="110.07" width="4.5" height="3.97" fill="#f9ece4"/><rect x="612.1" y="110.07" width="4.5" height="3.97" fill="#fbd0b9"/><rect x="615.6" y="110.07" width="8" height="3.97" fill="#dc6e58"/><rect x="622.6" y="110.07" width="4.5" height="3.97" fill="#67001f"/><rect x="626.1" y="110.07" width="4.5" height="3.97" fill="#0d4078"/><rect x="629.6" y="110.07" width="36" height="3.97" fill="#286fb1"/><rect x="664.6" y="110.07" width="4.5" height="3.97" fill="#0d4078"/><rect x="668.1" y="110.07" width="4.5" height="3.97" fill="#67001f"/><rect x="671.6" y="110.07" width="7" height="3.97" fill="#dc6e58"/><rect x="535.1" y="113.04" width="4.5" height="3.97" fill="#e1edf3"/><rect x="538.6" y="113.04" width="4.5" height="3.97" fill="#d8e8f1"/><rect x="542.1" y="113.04" width="4.5" height="3.97" fill="#cce2ef"/><rect x="545.6" y="113.04" width="4.5" height="3.97" fill="#bcdaea"/><rect x="549.1" y="113.04" width="4.5" height="3.97" fill="#b0d4e7"/><rect x="552.6" y="113.04" width="4.5" height="3.97" fill="#a5cfe3"/><rect x="556.1" y="113.04" width="4.5" height="3.97" fill="#9ac9e0"/><rect x="559.6" y="113.04" width="4.5" height="3.97" fill="#92c5de"/><rect x="563.1" y="113.04" width="4.5" height="3.97" fill="#8dc2dc"/><rect x="566.6" y="113.04" width="4.5" height="3.97" fill="#88bfdb"/><rect x="570.1" y="113.04" width="4.5" height="3.97" fill="#83bbd9"/><rect x="573.6" y="113.04" width="4.5" height="3.97" fill="#7eb8d7"/><rect x="577.1" y="113.04" width="4.5" height="3.97" fill="#79b5d5"/><rect x="580.6" y="113.04" width="4.5" height="3.97" fill="#74b2d4"/><rect x="584.1" y="113.04" width="8" height="3.97" fill="#71b0d3"/><rect x="591.1" y="113.04" width="4.5" height="3.97" fill="#72b1d3"/><rect x="594.6" y="113.04" width="4.5" height="3.97" fill="#73b1d3"/><rect x="598.1" y="113.04" width="4.5" height="3.97" fill="#77b4d5"/><rect x="601.6" y="113.04" width="4.5" height="3.97" fill="#9dcbe1"/><rect x="605.1" y="113.04" width="4.5" height="3.97" fill="#d1e5f0"/><rect x="608.6" y="113.04" width="4.5" height="3.97" fill="#eef3f5"/><rect x="612.1" y="113.04" width="4.5" height="3.97" fill="#f9ece4"/><rect x="615.6" y="113.04" width="8" height="3.97" fill="#fbd0b9"/><rect x="622.6" y="113.04" width="4.5" height="3.97" fill="#dc6e58"/><rect x="626.1" y="113.04" width="4.5" height="3.97" fill="#67001f"/><rect x="629.6" y="113.04" width="8" height="3.97" fill="#0d4078"/><rect x="636.6" y="113.04" width="32.5" height="3.97" fill="#286fb1"/><rect x="668.1" y="113.04" width="4.5" height="3.97" fill="#0d4078"/><rect x="671.6" y="113.04" width="7" height="3.97" fill="#67001f"/><rect x="535.1" y="116.01" width="4.5" height="3.97" fill="#e0ecf3"/><rect x="538.6" y="116.01" width="4.5" height="3.97" fill="#d5e7f1"/><rect x="542.1" y="116.01" width="4.5" height="3.97" fill="#c6e0ed"/><rect x="545.6" y="116.01" width="4.5" height="3.97" fill="#b5d7e8"/><rect x="549.1" y="116.01" width="4.5" height="3.97" fill="#a9d0e4"/><rect x="552.6" y="116.01" width="4.5" height="3.97" fill="#9ecbe1"/><rect x="556.1" y="116.01" width="4.5" height="3.97" fill="#92c5de"/><rect x="559.6" y="116.01" width="4.5" height="3.97" fill="#88bfdb"/><rect x="563.1" y="116.01" width="4.5" height="3.97" fill="#84bcd9"/><rect x="566.6" y="116.01" width="4.5" height="3.97" fill="#7fb9d8"/><rect x="570.1" y="116.01" width="4.5" height="3.97" fill="#7ab6d6"/><rect x="573.6" y="116.01" width="4.5" height="3.97" fill="#76b3d4"/><rect x="577.1" y="116.01" width="4.5" height="3.97" fill="#71b0d3"/><rect x="580.6" y="116.01" width="4.5" height="3.97" fill="#6cadd1"/><rect x="584.1" y="116.01" width="4.5" height="3.97" fill="#69abd0"/><rect x="587.6" y="116.01" width="4.5" height="3.97" fill="#6bacd1"/><rect x="591.1" y="116.01" width="4.5" height="3.97" fill="#6cadd1"/><rect x="594.6" y="116.01" width="4.5" height="3.97" fill="#6eaed2"/><rect x="598.1" y="116.01" width="4.5" height="3.97" fill="#6fafd2"/><rect x="601.6" y="116.01" width="4.5" height="3.97" fill="#71b0d3"/><rect x="605.1" y="116.01" width="4.5" height="3.97" fill="#8dc2dc"/><rect x="608.6" y="116.01" width="4.5" height="3.97" fill="#bfdceb"/><rect x="612.1" y="116.01" width="4.5" height="3.97" fill="#e6eff4"/><rect x="615.6" y="116.01" width="8" height="3.97" fill="#f9ece4"/><rect x="622.6" y="116.01" width="4.5" height="3.97" fill="#fbd0b9"/><rect x="626.1" y="116.01" width="4.5" height="3.97" fill="#dc6e58"/><rect x="629.6" y="116.01" width="8" height="3.97" fill="#67001f"/><rect x="636.6" y="116.01" width="4.5" height="3.97" fill="#0d4078"/><rect x="640.1" y="116.01" width="32.5" height="3.97" fill="#286fb1"/><rect x="671.6" y="116.01" width="7" height="3.97" fill="#0d4078"/><rect x="535.1" y="118.98" width="4.5" height="3.97" fill="#deebf2"/><rect x="538.6" y="118.98" width="4.5" height="3.97" fill="#d3e6f0"/><rect x="542.1" y="118.98" width="4.5" height="3.97" fill="#c1ddeb"/><rect x="545.6" y="118.98" width="4.5" height="3.97" fill="#aed3e6"/><rect x="549.1" y="118.98" width="4.5" height="3.97" fill="#a2cde3"/><rect x="552.6" y="118.98" width="4.5" height="3.97" fill="#97c7df"/><rect x="556.1" y="118.98" width="4.5" height="3.97" fill="#8ac0db"/><rect x="559.6" y="118.98" width="4.5" height="3.97" fill="#80bad8"/><rect x="563.1" y="118.98" width="4.5" height="3.97" fill="#7cb7d6"/><rect x="566.6" y="118.98" width="4.5" height="3.97" fill="#77b4d5"/><rect x="570.1" y="118.98" width="4.5" height="3.97" fill="#73b1d3"/><rect x="573.6" y="118.98" width="4.5" height="3.97" fill="#6eaed2"/><rect x="577.1" y="118.98" width="4.5" height="3.97" fill="#6aacd0"/><rect x="580.6" y="118.98" width="4.5" height="3.97" fill="#66a9cf"/><rect x="584.1" y="118.98" width="4.5" height="3.97" fill="#63a7ce"/><rect x="587.6" y="118.98" width="4.5" height="3.97" fill="#65a9cf"/><rect x="591.1" y="118.98" width="4.5" height="3.97" fill="#67aacf"/><rect x="594.6" y="118.98" width="4.5" height="3.97" fill="#69abd0"/><rect x="598.1" y="118.98" width="4.5" height="3.97" fill="#6cadd1"/><rect x="601.6" y="118.98" width="4.5" height="3.97" fill="#6eaed2"/><rect x="605.1" y="118.98" width="4.5" height="3.97" fill="#70afd2"/><rect x="608.6" y="118.98" width="4.5" height="3.97" fill="#7fb9d8"/><rect x="612.1" y="118.98" width="4.5" height="3.97" fill="#b1d5e7"/><rect x="615.6" y="118.98" width="4.5" height="3.97" fill="#deebf2"/><rect x="619.1" y="118.98" width="4.5" height="3.97" fill="#f4f6f7"/><rect x="622.6" y="118.98" width="4.5" height="3.97" fill="#f9ece4"/><rect x="626.1" y="118.98" width="4.5" height="3.97" fill="#fbd0b9"/><rect x="629.6" y="118.98" width="8" height="3.97" fill="#dc6e58"/><rect x="636.6" y="118.98" width="4.5" height="3.97" fill="#67001f"/><rect x="640.1" y="118.98" width="38.5" height="3.97" fill="#0d4078"/><rect x="535.1" y="121.95" width="4.5" height="3.97" fill="#ddebf2"/><rect x="538.6" y="121.95" width="4.5" height="3.97" fill="#d2e6f0"/><rect x="542.1" y="121.95" width="4.5" height="3.97" fill="#c0dceb"/><rect x="545.6" y="121.95" width="4.5" height="3.97" fill="#add3e6"/><rect x="549.1" y="121.95" width="4.5" height="3.97" fill="#a0cce2"/><rect x="552.6" y="121.95" width="4.5" height="3.97" fill="#95c7df"/><rect x="556.1" y="121.95" width="4.5" height="3.97" fill="#88beda"/><rect x="559.6" y="121.95" width="4.5" height="3.97" fill="#7db8d7"/><rect x="563.1" y="121.95" width="4.5" height="3.97" fill="#79b5d5"/><rect x="566.6" y="121.95" width="4.5" height="3.97" fill="#75b2d4"/><rect x="570.1" y="121.95" width="4.5" height="3.97" fill="#70b0d3"/><rect x="573.6" y="121.95" width="4.5" height="3.97" fill="#6cadd1"/><rect x="577.1" y="121.95" width="4.5" height="3.97" fill="#68aad0"/><rect x="580.6" y="121.95" width="4.5" height="3.97" fill="#64a8ce"/><rect x="584.1" y="121.95" width="4.5" height="3.97" fill="#61a6cd"/><rect x="587.6" y="121.95" width="4.5" height="3.97" fill="#63a7ce"/><rect x="591.1" y="121.95" width="4.5" height="3.97" fill="#65a9cf"/><rect x="594.6" y="121.95" width="4.5" height="3.97" fill="#67aacf"/><rect x="598.1" y="121.95" width="4.5" height="3.97" fill="#69abd0"/><rect x="601.6" y="121.95" width="4.5" height="3.97" fill="#6bacd1"/><rect x="605.1" y="121.95" width="4.5" height="3.97" fill="#6daed1"/><rect x="608.6" y="121.95" width="4.5" height="3.97" fill="#70afd2"/><rect x="612.1" y="121.95" width="4.5" height="3.97" fill="#7cb7d6"/><rect x="615.6" y="121.95" width="4.5" height="3.97" fill="#a5cfe3"/><rect x="619.1" y="121.95" width="4.5" height="3.97" fill="#d5e7f1"/><rect x="622.6" y="121.95" width="4.5" height="3.97" fill="#eff3f6"/><rect x="626.1" y="121.95" width="4.5" height="3.97" fill="#f9ece4"/><rect x="629.6" y="121.95" width="8" height="3.97" fill="#fbd0b9"/><rect x="636.6" y="121.95" width="4.5" height="3.97" fill="#dc6e58"/><rect x="640.1" y="121.95" width="38.5" height="3.97" fill="#67001f"/><rect x="535.1" y="124.92" width="4.5" height="3.97" fill="#ddebf2"/><rect x="538.6" y="124.92" width="4.5" height="3.97" fill="#d1e5f0"/><rect x="542.1" y="124.92" width="4.5" height="3.97" fill="#bfdceb"/><rect x="545.6" y="124.92" width="4.5" height="3.97" fill="#acd2e5"/><rect x="549.1" y="124.92" width="4.5" height="3.97" fill="#9fcbe2"/><rect x="552.6" y="124.92" width="4.5" height="3.97" fill="#93c6de"/><rect x="556.1" y="124.92" width="4.5" height="3.97" fill="#85bdda"/><rect x="559.6" y="124.92" width="4.5" height="3.97" fill="#7bb6d6"/><rect x="563.1" y="124.92" width="4.5" height="3.97" fill="#76b4d5"/><rect x="566.6" y="124.92" width="4.5" height="3.97" fill="#72b1d3"/><rect x="570.1" y="124.92" width="4.5" height="3.97" fill="#6eaed2"/><rect x="573.6" y="124.92" width="4.5" height="3.97" fill="#6aacd0"/><rect x="577.1" y="124.92" width="4.5" height="3.97" fill="#66a9cf"/><rect x="580.6" y="124.92" width="4.5" height="3.97" fill="#62a6cd"/><rect x="584.1" y="124.92" width="4.5" height="3.97" fill="#5fa5cd"/><rect x="587.6" y="124.92" width="4.5" height="3.97" fill="#61a6cd"/><rect x="591.1" y="124.92" width="4.5" height="3.97" fill="#63a7ce"/><rect x="594.6" y="124.92" width="4.5" height="3.97" fill="#65a8cf"/><rect x="598.1" y="124.92" width="4.5" height="3.97" fill="#67aacf"/><rect x="601.6" y="124.92" width="4.5" height="3.97" fill="#69abd0"/><rect x="605.1" y="124.92" width="4.5" height="3.97" fill="#6bacd1"/><rect x="608.6" y="124.92" width="4.5" height="3.97" fill="#6daed1"/><rect x="612.1" y="124.92" width="4.5" height="3.97" fill="#76b3d4"/><rect x="615.6" y="124.92" width="4.5" height="3.97" fill="#7eb9d7"/><rect x="619.1" y="124.92" width="4.5" height="3.97" fill="#9ccae1"/><rect x="622.6" y="124.92" width="4.5" height="3.97" fill="#c9e1ee"/><rect x="626.1" y="124.92" width="4.5" height="3.97" fill="#e8f0f4"/><rect x="629.6" y="124.92" width="8" height="3.97" fill="#f9ece4"/><rect x="636.6" y="124.92" width="4.5" height="3.97" fill="#fbd0b9"/><rect x="640.1" y="124.92" width="38.5" height="3.97" fill="#dc6e58"/><rect x="535.1" y="127.89" width="4.5" height="3.97" fill="#dceaf2"/><rect x="538.6" y="127.89" width="4.5" height="3.97" fill="#d1e5f0"/><rect x="542.1" y="127.89" width="4.5" height="3.97" fill="#bddbea"/><rect x="545.6" y="127.89" width="4.5" height="3.97" fill="#aad1e5"/><rect x="549.1" y="127.89" width="4.5" height="3.97" fill="#9dcbe1"/><rect x="552.6" y="127.89" width="4.5" height="3.97" fill="#91c4de"/><rect x="556.1" y="127.89" width="4.5" height="3.97" fill="#82bbd9"/><rect x="559.6" y="127.89" width="4.5" height="3.97" fill="#78b4d5"/><rect x="563.1" y="127.89" width="4.5" height="3.97" fill="#74b2d4"/><rect x="566.6" y="127.89" width="4.5" height="3.97" fill="#70afd2"/><rect x="570.1" y="127.89" width="4.5" height="3.97" fill="#6cadd1"/><rect x="573.6" y="127.89" width="4.5" height="3.97" fill="#68aad0"/><rect x="577.1" y="127.89" width="4.5" height="3.97" fill="#64a8ce"/><rect x="580.6" y="127.89" width="4.5" height="3.97" fill="#60a5cd"/><rect x="584.1" y="127.89" width="4.5" height="3.97" fill="#5da4cc"/><rect x="587.6" y="127.89" width="4.5" height="3.97" fill="#5fa5cd"/><rect x="591.1" y="127.89" width="4.5" height="3.97" fill="#61a6cd"/><rect x="594.6" y="127.89" width="4.5" height="3.97" fill="#63a7ce"/><rect x="598.1" y="127.89" width="4.5" height="3.97" fill="#64a8ce"/><rect x="601.6" y="127.89" width="4.5" height="3.97" fill="#66a9cf"/><rect x="605.1" y="127.89" width="4.5" height="3.97" fill="#68aad0"/><rect x="608.6" y="127.89" width="4.5" height="3.97" fill="#6aacd0"/><rect x="612.1" y="127.89" width="4.5" height="3.97" fill="#73b1d3"/><rect x="615.6" y="127.89" width="4.5" height="3.97" fill="#7bb7d6"/><rect x="619.1" y="127.89" width="4.5" height="3.97" fill="#84bcd9"/><rect x="622.6" y="127.89" width="4.5" height="3.97" fill="#96c7df"/><rect x="626.1" y="127.89" width="4.5" height="3.97" fill="#bedbea"/><rect x="629.6" y="127.89" width="4.5" height="3.97" fill="#e1edf3"/><rect x="633.1" y="127.89" width="4.5" height="3.97" fill="#f5f6f7"/><rect x="636.6" y="127.89" width="4.5" height="3.97" fill="#f9ece4"/><rect x="640.1" y="127.89" width="38.5" height="3.97" fill="#fbd0b9"/><rect x="535.1" y="130.86" width="4.5" height="3.97" fill="#dceaf2"/><rect x="538.6" y="130.86" width="4.5" height="3.97" fill="#d0e4f0"/><rect x="542.1" y="130.86" width="4.5" height="3.97" fill="#bcdaea"/><rect x="545.6" y="130.86" width="4.5" height="3.97" fill="#a9d0e4"/><rect x="549.1" y="130.86" width="4.5" height="3.97" fill="#9bcae1"/><rect x="552.6" y="130.86" width="4.5" height="3.97" fill="#8fc3dd"/><rect x="556.1" y="130.86" width="4.5" height="3.97" fill="#80b9d8"/><rect x="559.6" y="130.86" width="4.5" height="3.97" fill="#75b3d4"/><rect x="563.1" y="130.86" width="4.5" height="3.97" fill="#71b0d3"/><rect x="566.6" y="130.86" width="4.5" height="3.97" fill="#6daed1"/><rect x="570.1" y="130.86" width="4.5" height="3.97" fill="#69abd0"/><rect x="573.6" y="130.86" width="4.5" height="3.97" fill="#65a9cf"/><rect x="577.1" y="130.86" width="4.5" height="3.97" fill="#62a6cd"/><rect x="580.6" y="130.86" width="4.5" height="3.97" fill="#5ea4cc"/><rect x="584.1" y="130.86" width="4.5" height="3.97" fill="#5ba2cb"/><rect x="587.6" y="130.86" width="4.5" height="3.97" fill="#5da3cc"/><rect x="591.1" y="130.86" width="4.5" height="3.97" fill="#5fa4cc"/><rect x="594.6" y="130.86" width="4.5" height="3.97" fill="#60a5cd"/><rect x="598.1" y="130.86" width="4.5" height="3.97" fill="#62a7ce"/><rect x="601.6" y="130.86" width="4.5" height="3.97" fill="#64a8ce"/><rect x="605.1" y="130.86" width="4.5" height="3.97" fill="#65a9cf"/><rect x="608.6" y="130.86" width="4.5" height="3.97" fill="#68aacf"/><rect x="612.1" y="130.86" width="4.5" height="3.97" fill="#70afd2"/><rect x="615.6" y="130.86" width="4.5" height="3.97" fill="#78b5d5"/><rect x="619.1" y="130.86" width="4.5" height="3.97" fill="#80bad8"/><rect x="622.6" y="130.86" width="4.5" height="3.97" fill="#89bfdb"/><rect x="626.1" y="130.86" width="4.5" height="3.97" fill="#93c6de"/><rect x="629.6" y="130.86" width="4.5" height="3.97" fill="#b3d6e8"/><rect x="633.1" y="130.86" width="4.5" height="3.97" fill="#d9e9f2"/><rect x="636.6" y="130.86" width="4.5" height="3.97" fill="#f0f4f6"/><rect x="640.1" y="130.86" width="38.5" height="3.97" fill="#f9ece4"/><rect x="535.1" y="133.83" width="4.5" height="3.97" fill="#dbeaf2"/><rect x="538.6" y="133.83" width="4.5" height="3.97" fill="#cfe4ef"/><rect x="542.1" y="133.83" width="4.5" height="3.97" fill="#bbdaea"/><rect x="545.6" y="133.83" width="4.5" height="3.97" fill="#a7d0e4"/><rect x="549.1" y="133.83" width="4.5" height="3.97" fill="#9ac9e0"/><rect x="552.6" y="133.83" width="4.5" height="3.97" fill="#8cc1dc"/><rect x="556.1" y="133.83" width="4.5" height="3.97" fill="#7db8d7"/><rect x="559.6" y="133.83" width="4.5" height="3.97" fill="#72b1d3"/><rect x="563.1" y="133.83" width="4.5" height="3.97" fill="#6eafd2"/><rect x="566.6" y="133.83" width="4.5" height="3.97" fill="#6bacd1"/><rect x="570.1" y="133.83" width="4.5" height="3.97" fill="#67aacf"/><rect x="573.6" y="133.83" width="4.5" height="3.97" fill="#63a7ce"/><rect x="577.1" y="133.83" width="4.5" height="3.97" fill="#60a5cd"/><rect x="580.6" y="133.83" width="4.5" height="3.97" fill="#5ca3cb"/><rect x="584.1" y="133.83" width="4.5" height="3.97" fill="#59a1cb"/><rect x="587.6" y="133.83" width="4.5" height="3.97" fill="#5ba2cb"/><rect x="591.1" y="133.83" width="4.5" height="3.97" fill="#5ca3cc"/><rect x="594.6" y="133.83" width="4.5" height="3.97" fill="#5ea4cc"/><rect x="598.1" y="133.83" width="4.5" height="3.97" fill="#5fa5cd"/><rect x="601.6" y="133.83" width="4.5" height="3.97" fill="#61a6cd"/><rect x="605.1" y="133.83" width="4.5" height="3.97" fill="#63a7ce"/><rect x="608.6" y="133.83" width="4.5" height="3.97" fill="#65a8cf"/><rect x="612.1" y="133.83" width="4.5" height="3.97" fill="#6dadd1"/><rect x="615.6" y="133.83" width="4.5" height="3.97" fill="#75b3d4"/><rect x="619.1" y="133.83" width="4.5" height="3.97" fill="#7db8d7"/><rect x="622.6" y="133.83" width="4.5" height="3.97" fill="#85bdda"/><rect x="626.1" y="133.83" width="4.5" height="3.97" fill="#8ec2dc"/><rect x="629.6" y="133.83" width="4.5" height="3.97" fill="#95c7df"/><rect x="633.1" y="133.83" width="4.5" height="3.97" fill="#abd2e5"/><rect x="636.6" y="133.83" width="4.5" height="3.97" fill="#d3e6f0"/><rect x="640.1" y="133.83" width="4.5" height="3.97" fill="#ebf1f5"/><rect x="643.6" y="133.83" width="35" height="3.97" fill="#f6f7f7"/><rect x="535.1" y="136.8" width="4.5" height="3.97" fill="#dbeaf2"/><rect x="538.6" y="136.8" width="4.5" height="3.97" fill="#cde3ef"/><rect x="542.1" y="136.8" width="4.5" height="3.97" fill="#bad9e9"/><rect x="545.6" y="136.8" width="4.5" height="3.97" fill="#a6cfe4"/><rect x="549.1" y="136.8" width="4.5" height="3.97" fill="#98c8e0"/><rect x="552.6" y="136.8" width="4.5" height="3.97" fill="#8ac0db"/><rect x="556.1" y="136.8" width="4.5" height="3.97" fill="#7ab6d6"/><rect x="559.6" y="136.8" width="4.5" height="3.97" fill="#6fafd2"/><rect x="563.1" y="136.8" width="4.5" height="3.97" fill="#6cadd1"/><rect x="566.6" y="136.8" width="4.5" height="3.97" fill="#68abd0"/><rect x="570.1" y="136.8" width="4.5" height="3.97" fill="#65a8ce"/><rect x="573.6" y="136.8" width="4.5" height="3.97" fill="#61a6cd"/><rect x="577.1" y="136.8" width="4.5" height="3.97" fill="#5da4cc"/><rect x="580.6" y="136.8" width="4.5" height="3.97" fill="#5aa1cb"/><rect x="584.1" y="136.8" width="4.5" height="3.97" fill="#57a0ca"/><rect x="587.6" y="136.8" width="4.5" height="3.97" fill="#59a1ca"/><rect x="591.1" y="136.8" width="4.5" height="3.97" fill="#5aa2cb"/><rect x="594.6" y="136.8" width="4.5" height="3.97" fill="#5ca3cb"/><rect x="598.1" y="136.8" width="4.5" height="3.97" fill="#5da3cc"/><rect x="601.6" y="136.8" width="4.5" height="3.97" fill="#5ea4cc"/><rect x="605.1" y="136.8" width="4.5" height="3.97" fill="#60a5cd"/><rect x="608.6" y="136.8" width="4.5" height="3.97" fill="#62a7ce"/><rect x="612.1" y="136.8" width="4.5" height="3.97" fill="#6aacd0"/><rect x="615.6" y="136.8" width="4.5" height="3.97" fill="#72b1d3"/><rect x="619.1" y="136.8" width="4.5" height="3.97" fill="#7ab6d6"/><rect x="622.6" y="136.8" width="4.5" height="3.97" fill="#82bbd9"/><rect x="626.1" y="136.8" width="4.5" height="3.97" fill="#8ac0db"/><rect x="629.6" y="136.8" width="4.5" height="3.97" fill="#92c5de"/><rect x="633.1" y="136.8" width="4.5" height="3.97" fill="#98c8e0"/><rect x="636.6" y="136.8" width="4.5" height="3.97" fill="#a9d1e5"/><rect x="640.1" y="136.8" width="4.5" height="3.97" fill="#cce3ef"/><rect x="643.6" y="136.8" width="4.5" height="3.97" fill="#e1edf3"/><rect x="647.1" y="136.8" width="4.5" height="3.97" fill="#e3eef3"/><rect x="650.6" y="136.8" width="4.5" height="3.97" fill="#e5eff4"/><rect x="654.1" y="136.8" width="4.5" height="3.97" fill="#e7eff4"/><rect x="657.6" y="136.8" width="4.5" height="3.97" fill="#e9f0f4"/><rect x="661.1" y="136.8" width="4.5" height="3.97" fill="#eaf1f5"/><rect x="664.6" y="136.8" width="4.5" height="3.97" fill="#ebf1f5"/><rect x="668.1" y="136.8" width="4.5" height="3.97" fill="#ecf2f5"/><rect x="671.6" y="136.8" width="4.5" height="3.97" fill="#edf2f5"/><rect x="675.1" y="136.8" width="3.5" height="3.97" fill="#eef3f5"/><rect x="535.1" y="139.77" width="4.5" height="3.97" fill="#dae9f2"/><rect x="538.6" y="139.77" width="4.5" height="3.97" fill="#cce3ef"/><rect x="542.1" y="139.77" width="4.5" height="3.97" fill="#b8d8e9"/><rect x="545.6" y="139.77" width="4.5" height="3.97" fill="#a4cee3"/><rect x="549.1" y="139.77" width="4.5" height="3.97" fill="#96c7df"/><rect x="552.6" y="139.77" width="4.5" height="3.97" fill="#88beda"/><rect x="556.1" y="139.77" width="4.5" height="3.97" fill="#78b4d5"/><rect x="559.6" y="139.77" width="4.5" height="3.97" fill="#6dadd1"/><rect x="563.1" y="139.77" width="4.5" height="3.97" fill="#69abd0"/><rect x="566.6" y="139.77" width="4.5" height="3.97" fill="#66a9cf"/><rect x="570.1" y="139.77" width="4.5" height="3.97" fill="#62a7ce"/><rect x="573.6" y="139.77" width="4.5" height="3.97" fill="#5fa5cc"/><rect x="577.1" y="139.77" width="4.5" height="3.97" fill="#5ba2cb"/><rect x="580.6" y="139.77" width="4.5" height="3.97" fill="#58a0ca"/><rect x="584.1" y="139.77" width="4.5" height="3.97" fill="#559fc9"/><rect x="587.6" y="139.77" width="4.5" height="3.97" fill="#579fca"/><rect x="591.1" y="139.77" width="4.5" height="3.97" fill="#58a0ca"/><rect x="594.6" y="139.77" width="4.5" height="3.97" fill="#59a1cb"/><rect x="598.1" y="139.77" width="4.5" height="3.97" fill="#5ba2cb"/><rect x="601.6" y="139.77" width="4.5" height="3.97" fill="#5ca3cb"/><rect x="605.1" y="139.77" width="4.5" height="3.97" fill="#5da4cc"/><rect x="608.6" y="139.77" width="4.5" height="3.97" fill="#5fa5cd"/><rect x="612.1" y="139.77" width="4.5" height="3.97" fill="#67aacf"/><rect x="615.6" y="139.77" width="4.5" height="3.97" fill="#6fafd2"/><rect x="619.1" y="139.77" width="4.5" height="3.97" fill="#77b4d5"/><rect x="622.6" y="139.77" width="4.5" height="3.97" fill="#7fb9d7"/><rect x="626.1" y="139.77" width="4.5" height="3.97" fill="#87beda"/><rect x="629.6" y="139.77" width="4.5" height="3.97" fill="#8ec3dd"/><rect x="633.1" y="139.77" width="4.5" height="3.97" fill="#96c7df"/><rect x="636.6" y="139.77" width="4.5" height="3.97" fill="#9fcce2"/><rect x="640.1" y="139.77" width="4.5" height="3.97" fill="#abd2e5"/><rect x="643.6" y="139.77" width="4.5" height="3.97" fill="#c3deec"/><rect x="647.1" y="139.77" width="4.5" height="3.97" fill="#cbe2ee"/><rect x="650.6" y="139.77" width="4.5" height="3.97" fill="#d2e6f0"/><rect x="654.1" y="139.77" width="4.5" height="3.97" fill="#d7e8f1"/><rect x="657.6" y="139.77" width="4.5" height="3.97" fill="#dceaf2"/><rect x="661.1" y="139.77" width="4.5" height="3.97" fill="#dfecf3"/><rect x="664.6" y="139.77" width="4.5" height="3.97" fill="#e2edf3"/><rect x="668.1" y="139.77" width="4.5" height="3.97" fill="#e5eef4"/><rect x="671.6" y="139.77" width="4.5" height="3.97" fill="#e8f0f4"/><rect x="675.1" y="139.77" width="3.5" height="3.97" fill="#ebf1f5"/><rect x="535.1" y="142.74" width="4.5" height="3.97" fill="#dae9f2"/><rect x="538.6" y="142.74" width="4.5" height="3.97" fill="#cbe2ee"/><rect x="542.1" y="142.74" width="4.5" height="3.97" fill="#b7d8e9"/><rect x="545.6" y="142.74" width="4.5" height="3.97" fill="#a3cee3"/><rect x="549.1" y="142.74" width="4.5" height="3.97" fill="#95c6df"/><rect x="552.6" y="142.74" width="4.5" height="3.97" fill="#85bdda"/><rect x="556.1" y="142.74" width="4.5" height="3.97" fill="#75b3d4"/><rect x="559.6" y="142.74" width="4.5" height="3.97" fill="#6aacd0"/><rect x="563.1" y="142.74" width="4.5" height="3.97" fill="#67aacf"/><rect x="566.6" y="142.74" width="4.5" height="3.97" fill="#63a7ce"/><rect x="570.1" y="142.74" width="4.5" height="3.97" fill="#60a5cd"/><rect x="573.6" y="142.74" width="4.5" height="3.97" fill="#5da3cc"/><rect x="577.1" y="142.74" width="4.5" height="3.97" fill="#59a1cb"/><rect x="580.6" y="142.74" width="4.5" height="3.97" fill="#569fc9"/><rect x="584.1" y="142.74" width="4.5" height="3.97" fill="#549dc9"/><rect x="587.6" y="142.74" width="4.5" height="3.97" fill="#559ec9"/><rect x="591.1" y="142.74" width="4.5" height="3.97" fill="#569fc9"/><rect x="594.6" y="142.74" width="4.5" height="3.97" fill="#57a0ca"/><rect x="598.1" y="142.74" width="4.5" height="3.97" fill="#58a0ca"/><rect x="601.6" y="142.74" width="4.5" height="3.97" fill="#59a1cb"/><rect x="605.1" y="142.74" width="4.5" height="3.97" fill="#5aa2cb"/><rect x="608.6" y="142.74" width="4.5" height="3.97" fill="#5ca3cc"/><rect x="612.1" y="142.74" width="4.5" height="3.97" fill="#64a8ce"/><rect x="615.6" y="142.74" width="4.5" height="3.97" fill="#6cadd1"/><rect x="619.1" y="142.74" width="4.5" height="3.97" fill="#74b2d4"/><rect x="622.6" y="142.74" width="4.5" height="3.97" fill="#7bb7d6"/><rect x="626.1" y="142.74" width="4.5" height="3.97" fill="#83bcd9"/><rect x="629.6" y="142.74" width="4.5" height="3.97" fill="#8bc0dc"/><rect x="633.1" y="142.74" width="4.5" height="3.97" fill="#93c5de"/><rect x="636.6" y="142.74" width="4.5" height="3.97" fill="#9dcae1"/><rect x="640.1" y="142.74" width="4.5" height="3.97" fill="#a7d0e4"/><rect x="643.6" y="142.74" width="4.5" height="3.97" fill="#b2d5e7"/><rect x="647.1" y="142.74" width="4.5" height="3.97" fill="#bcdaea"/><rect x="650.6" y="142.74" width="4.5" height="3.97" fill="#c7e0ed"/><rect x="654.1" y="142.74" width="4.5" height="3.97" fill="#d1e5f0"/><rect x="657.6" y="142.74" width="4.5" height="3.97" fill="#d7e8f1"/><rect x="661.1" y="142.74" width="4.5" height="3.97" fill="#dceaf2"/><rect x="664.6" y="142.74" width="4.5" height="3.97" fill="#dfecf3"/><rect x="668.1" y="142.74" width="4.5" height="3.97" fill="#e3edf3"/><rect x="671.6" y="142.74" width="4.5" height="3.97" fill="#e7eff4"/><rect x="675.1" y="142.74" width="3.5" height="3.97" fill="#eaf1f5"/><rect x="535.1" y="145.71" width="4.5" height="3.97" fill="#d9e9f2"/><rect x="538.6" y="145.71" width="4.5" height="3.97" fill="#cae2ee"/><rect x="542.1" y="145.71" width="4.5" height="3.97" fill="#b6d7e8"/><rect x="545.6" y="145.71" width="4.5" height="3.97" fill="#a2cde2"/><rect x="549.1" y="145.71" width="4.5" height="3.97" fill="#93c6de"/><rect x="552.6" y="145.71" width="4.5" height="3.97" fill="#84bcd9"/><rect x="556.1" y="145.71" width="4.5" height="3.97" fill="#73b2d4"/><rect x="559.6" y="145.71" width="4.5" height="3.97" fill="#68abd0"/><rect x="563.1" y="145.71" width="4.5" height="3.97" fill="#65a9cf"/><rect x="566.6" y="145.71" width="4.5" height="3.97" fill="#62a7ce"/><rect x="570.1" y="145.71" width="4.5" height="3.97" fill="#5fa5cc"/><rect x="573.6" y="145.71" width="4.5" height="3.97" fill="#5ca3cb"/><rect x="577.1" y="145.71" width="4.5" height="3.97" fill="#58a1ca"/><rect x="580.6" y="145.71" width="4.5" height="3.97" fill="#559fc9"/><rect x="584.1" y="145.71" width="4.5" height="3.97" fill="#539dc8"/><rect x="587.6" y="145.71" width="4.5" height="3.97" fill="#549ec9"/><rect x="591.1" y="145.71" width="4.5" height="3.97" fill="#559fc9"/><rect x="594.6" y="145.71" width="4.5" height="3.97" fill="#569fca"/><rect x="598.1" y="145.71" width="4.5" height="3.97" fill="#57a0ca"/><rect x="601.6" y="145.71" width="4.5" height="3.97" fill="#59a1ca"/><rect x="605.1" y="145.71" width="4.5" height="3.97" fill="#5aa1cb"/><rect x="608.6" y="145.71" width="4.5" height="3.97" fill="#5ba2cb"/><rect x="612.1" y="145.71" width="4.5" height="3.97" fill="#63a7ce"/><rect x="615.6" y="145.71" width="4.5" height="3.97" fill="#6aacd0"/><rect x="619.1" y="145.71" width="4.5" height="3.97" fill="#72b1d3"/><rect x="622.6" y="145.71" width="4.5" height="3.97" fill="#79b5d6"/><rect x="626.1" y="145.71" width="4.5" height="3.97" fill="#81bad8"/><rect x="629.6" y="145.71" width="4.5" height="3.97" fill="#88bfdb"/><rect x="633.1" y="145.71" width="4.5" height="3.97" fill="#90c4dd"/><rect x="636.6" y="145.71" width="4.5" height="3.97" fill="#9bc9e0"/><rect x="640.1" y="145.71" width="4.5" height="3.97" fill="#a5cfe3"/><rect x="643.6" y="145.71" width="4.5" height="3.97" fill="#b0d4e6"/><rect x="647.1" y="145.71" width="4.5" height="3.97" fill="#bad9ea"/><rect x="650.6" y="145.71" width="4.5" height="3.97" fill="#c5dfed"/><rect x="654.1" y="145.71" width="4.5" height="3.97" fill="#cfe4f0"/><rect x="657.6" y="145.71" width="4.5" height="3.97" fill="#d6e8f1"/><rect x="661.1" y="145.71" width="4.5" height="3.97" fill="#dbeaf2"/><rect x="664.6" y="145.71" width="4.5" height="3.97" fill="#deebf2"/><rect x="668.1" y="145.71" width="4.5" height="3.97" fill="#e2edf3"/><rect x="671.6" y="145.71" width="4.5" height="3.97" fill="#e6eff4"/><rect x="675.1" y="145.71" width="3.5" height="3.97" fill="#eaf1f5"/><rect x="535.1" y="148.68" width="4.5" height="3.97" fill="#d9e9f1"/><rect x="538.6" y="148.68" width="4.5" height="3.97" fill="#c9e1ee"/><rect x="542.1" y="148.68" width="4.5" height="3.97" fill="#b5d7e8"/><rect x="545.6" y="148.68" width="4.5" height="3.97" fill="#a0cce2"/><rect x="549.1" y="148.68" width="4.5" height="3.97" fill="#92c5de"/><rect x="552.6" y="148.68" width="4.5" height="3.97" fill="#82bbd9"/><rect x="556.1" y="148.68" width="4.5" height="3.97" fill="#72b1d3"/><rect x="559.6" y="148.68" width="4.5" height="3.97" fill="#67aacf"/><rect x="563.1" y="148.68" width="4.5" height="3.97" fill="#64a8ce"/><rect x="566.6" y="148.68" width="4.5" height="3.97" fill="#61a6cd"/><rect x="570.1" y="148.68" width="4.5" height="3.97" fill="#5ea4cc"/><rect x="573.6" y="148.68" width="4.5" height="3.97" fill="#5ba2cb"/><rect x="577.1" y="148.68" width="4.5" height="3.97" fill="#58a0ca"/><rect x="580.6" y="148.68" width="4.5" height="3.97" fill="#559ec9"/><rect x="584.1" y="148.68" width="4.5" height="3.97" fill="#539dc8"/><rect x="587.6" y="148.68" width="4.5" height="3.97" fill="#549ec9"/><rect x="591.1" y="148.68" width="4.5" height="3.97" fill="#559fc9"/><rect x="594.6" y="148.68" width="4.5" height="3.97" fill="#569fca"/><rect x="598.1" y="148.68" width="4.5" height="3.97" fill="#57a0ca"/><rect x="601.6" y="148.68" width="4.5" height="3.97" fill="#59a1ca"/><rect x="605.1" y="148.68" width="4.5" height="3.97" fill="#5aa1cb"/><rect x="608.6" y="148.68" width="4.5" height="3.97" fill="#5ba2cb"/><rect x="612.1" y="148.68" width="4.5" height="3.97" fill="#62a7ce"/><rect x="615.6" y="148.68" width="4.5" height="3.97" fill="#6aabd0"/><rect x="619.1" y="148.68" width="4.5" height="3.97" fill="#71b0d3"/><rect x="622.6" y="148.68" width="4.5" height="3.97" fill="#78b4d5"/><rect x="626.1" y="148.68" width="4.5" height="3.97" fill="#7fb9d7"/><rect x="629.6" y="148.68" width="4.5" height="3.97" fill="#86bdda"/><rect x="633.1" y="148.68" width="4.5" height="3.97" fill="#8dc2dc"/><rect x="636.6" y="148.68" width="4.5" height="3.97" fill="#98c8e0"/><rect x="640.1" y="148.68" width="4.5" height="3.97" fill="#a3cee3"/><rect x="643.6" y="148.68" width="4.5" height="3.97" fill="#add3e6"/><rect x="647.1" y="148.68" width="4.5" height="3.97" fill="#b8d8e9"/><rect x="650.6" y="148.68" width="4.5" height="3.97" fill="#c3deec"/><rect x="654.1" y="148.68" width="4.5" height="3.97" fill="#cde3ef"/><rect x="657.6" y="148.68" width="4.5" height="3.97" fill="#d5e7f1"/><rect x="661.1" y="148.68" width="4.5" height="3.97" fill="#d9e9f2"/><rect x="664.6" y="148.68" width="4.5" height="3.97" fill="#ddebf2"/><rect x="668.1" y="148.68" width="4.5" height="3.97" fill="#e1edf3"/><rect x="671.6" y="148.68" width="4.5" height="3.97" fill="#e5eff4"/><rect x="675.1" y="148.68" width="3.5" height="3.97" fill="#e9f0f4"/><rect x="535.1" y="151.65" width="4.5" height="3.97" fill="#d8e8f1"/><rect x="538.6" y="151.65" width="4.5" height="3.97" fill="#c8e0ed"/><rect x="542.1" y="151.65" width="4.5" height="3.97" fill="#b4d6e8"/><rect x="545.6" y="151.65" width="4.5" height="3.97" fill="#9fcce2"/><rect x="549.1" y="151.65" width="4.5" height="3.97" fill="#91c4de"/><rect x="552.6" y="151.65" width="4.5" height="3.97" fill="#81bad8"/><rect x="556.1" y="151.65" width="4.5" height="3.97" fill="#71b0d3"/><rect x="559.6" y="151.65" width="4.5" height="3.97" fill="#66a9cf"/><rect x="563.1" y="151.65" width="4.5" height="3.97" fill="#63a7ce"/><rect x="566.6" y="151.65" width="4.5" height="3.97" fill="#60a5cd"/><rect x="570.1" y="151.65" width="4.5" height="3.97" fill="#5da4cc"/><rect x="573.6" y="151.65" width="4.5" height="3.97" fill="#5aa2cb"/><rect x="577.1" y="151.65" width="4.5" height="3.97" fill="#58a0ca"/><rect x="580.6" y="151.65" width="4.5" height="3.97" fill="#559ec9"/><rect x="584.1" y="151.65" width="4.5" height="3.97" fill="#539dc8"/><rect x="587.6" y="151.65" width="4.5" height="3.97" fill="#549ec9"/><rect x="591.1" y="151.65" width="4.5" height="3.97" fill="#559fc9"/><rect x="594.6" y="151.65" width="4.5" height="3.97" fill="#569fca"/><rect x="598.1" y="151.65" width="4.5" height="3.97" fill="#57a0ca"/><rect x="601.6" y="151.65" width="4.5" height="3.97" fill="#59a1ca"/><rect x="605.1" y="151.65" width="4.5" height="3.97" fill="#5aa1cb"/><rect x="608.6" y="151.65" width="4.5" height="3.97" fill="#5ba2cb"/><rect x="612.1" y="151.65" width="4.5" height="3.97" fill="#62a7ce"/><rect x="615.6" y="151.65" width="4.5" height="3.97" fill="#69abd0"/><rect x="619.1" y="151.65" width="4.5" height="3.97" fill="#6fafd2"/><rect x="622.6" y="151.65" width="4.5" height="3.97" fill="#76b3d4"/><rect x="626.1" y="151.65" width="4.5" height="3.97" fill="#7db8d7"/><rect x="629.6" y="151.65" width="4.5" height="3.97" fill="#83bcd9"/><rect x="633.1" y="151.65" width="4.5" height="3.97" fill="#8ac0db"/><rect x="636.6" y="151.65" width="4.5" height="3.97" fill="#96c7df"/><rect x="640.1" y="151.65" width="4.5" height="3.97" fill="#a1cce2"/><rect x="643.6" y="151.65" width="4.5" height="3.97" fill="#abd2e5"/><rect x="647.1" y="151.65" width="4.5" height="3.97" fill="#b6d7e8"/><rect x="650.6" y="151.65" width="4.5" height="3.97" fill="#c0ddeb"/><rect x="654.1" y="151.65" width="4.5" height="3.97" fill="#cbe2ee"/><rect x="657.6" y="151.65" width="4.5" height="3.97" fill="#d4e6f1"/><rect x="661.1" y="151.65" width="4.5" height="3.97" fill="#d8e8f1"/><rect x="664.6" y="151.65" width="4.5" height="3.97" fill="#dceaf2"/><rect x="668.1" y="151.65" width="4.5" height="3.97" fill="#e0ecf3"/><rect x="671.6" y="151.65" width="4.5" height="3.97" fill="#e4eef4"/><rect x="675.1" y="151.65" width="3.5" height="3.97" fill="#e8f0f4"/><rect x="535.1" y="154.62" width="4.5" height="3.97" fill="#d7e8f1"/><rect x="538.6" y="154.62" width="4.5" height="3.97" fill="#c7e0ed"/><rect x="542.1" y="154.62" width="4.5" height="3.97" fill="#b3d6e7"/><rect x="545.6" y="154.62" width="4.5" height="3.97" fill="#9ecbe2"/><rect x="549.1" y="154.62" width="4.5" height="3.97" fill="#90c3dd"/><rect x="552.6" y="154.62" width="4.5" height="3.97" fill="#7fb9d8"/><rect x="556.1" y="154.62" width="4.5" height="3.97" fill="#6fafd2"/><rect x="559.6" y="154.62" width="4.5" height="3.97" fill="#64a8ce"/><rect x="563.1" y="154.62" width="4.5" height="3.97" fill="#62a6ce"/><rect x="566.6" y="154.62" width="4.5" height="3.97" fill="#5fa5cd"/><rect x="570.1" y="154.62" width="4.5" height="3.97" fill="#5da3cc"/><rect x="573.6" y="154.62" width="4.5" height="3.97" fill="#5aa2cb"/><rect x="577.1" y="154.62" width="4.5" height="3.97" fill="#57a0ca"/><rect x="580.6" y="154.62" width="4.5" height="3.97" fill="#559ec9"/><rect x="584.1" y="154.62" width="4.5" height="3.97" fill="#539dc8"/><rect x="587.6" y="154.62" width="4.5" height="3.97" fill="#549ec9"/><rect x="591.1" y="154.62" width="4.5" height="3.97" fill="#559fc9"/><rect x="594.6" y="154.62" width="4.5" height="3.97" fill="#569fca"/><rect x="598.1" y="154.62" width="4.5" height="3.97" fill="#57a0ca"/><rect x="601.6" y="154.62" width="4.5" height="3.97" fill="#59a1ca"/><rect x="605.1" y="154.62" width="4.5" height="3.97" fill="#5aa1cb"/><rect x="608.6" y="154.62" width="4.5" height="3.97" fill="#5ba2cb"/><rect x="612.1" y="154.62" width="4.5" height="3.97" fill="#62a6cd"/><rect x="615.6" y="154.62" width="4.5" height="3.97" fill="#68aad0"/><rect x="619.1" y="154.62" width="4.5" height="3.97" fill="#6eaed2"/><rect x="622.6" y="154.62" width="4.5" height="3.97" fill="#75b2d4"/><rect x="626.1" y="154.62" width="4.5" height="3.97" fill="#7bb6d6"/><rect x="629.6" y="154.62" width="4.5" height="3.97" fill="#81bad8"/><rect x="633.1" y="154.62" width="4.5" height="3.97" fill="#87beda"/><rect x="636.6" y="154.62" width="4.5" height="3.97" fill="#94c6df"/><rect x="640.1" y="154.62" width="4.5" height="3.97" fill="#9ecbe2"/><rect x="643.6" y="154.62" width="4.5" height="3.97" fill="#a9d1e5"/><rect x="647.1" y="154.62" width="4.5" height="3.97" fill="#b4d6e8"/><rect x="650.6" y="154.62" width="4.5" height="3.97" fill="#bedbeb"/><rect x="654.1" y="154.62" width="4.5" height="3.97" fill="#c9e1ee"/><rect x="657.6" y="154.62" width="4.5" height="3.97" fill="#d2e6f0"/><rect x="661.1" y="154.62" width="4.5" height="3.97" fill="#d7e8f1"/><rect x="664.6" y="154.62" width="4.5" height="3.97" fill="#dbeaf2"/><rect x="668.1" y="154.62" width="4.5" height="3.97" fill="#dfecf3"/><rect x="671.6" y="154.62" width="4.5" height="3.97" fill="#e4eef3"/><rect x="675.1" y="154.62" width="3.5" height="3.97" fill="#e8f0f4"/><rect x="535.1" y="157.59" width="4.5" height="3.97" fill="#d7e8f1"/><rect x="538.6" y="157.59" width="4.5" height="3.97" fill="#c6dfed"/><rect x="542.1" y="157.59" width="4.5" height="3.97" fill="#b2d5e7"/><rect x="545.6" y="157.59" width="4.5" height="3.97" fill="#9dcbe1"/><rect x="549.1" y="157.59" width="4.5" height="3.97" fill="#8ec3dd"/><rect x="552.6" y="157.59" width="4.5" height="3.97" fill="#7eb8d7"/><rect x="556.1" y="157.59" width="4.5" height="3.97" fill="#6eaed2"/><rect x="559.6" y="157.59" width="4.5" height="3.97" fill="#63a7ce"/><rect x="563.1" y="157.59" width="4.5" height="3.97" fill="#61a6cd"/><rect x="566.6" y="157.59" width="4.5" height="3.97" fill="#5ea4cc"/><rect x="570.1" y="157.59" width="4.5" height="3.97" fill="#5ca3cb"/><rect x="573.6" y="157.59" width="4.5" height="3.97" fill="#59a1cb"/><rect x="577.1" y="157.59" width="4.5" height="3.97" fill="#57a0ca"/><rect x="580.6" y="157.59" width="4.5" height="3.97" fill="#559ec9"/><rect x="584.1" y="157.59" width="4.5" height="3.97" fill="#539dc8"/><rect x="587.6" y="157.59" width="4.5" height="3.97" fill="#549ec9"/><rect x="591.1" y="157.59" width="4.5" height="3.97" fill="#559fc9"/><rect x="594.6" y="157.59" width="4.5" height="3.97" fill="#569fca"/><rect x="598.1" y="157.59" width="4.5" height="3.97" fill="#57a0ca"/><rect x="601.6" y="157.59" width="4.5" height="3.97" fill="#59a1ca"/><rect x="605.1" y="157.59" width="4.5" height="3.97" fill="#5aa1cb"/><rect x="608.6" y="157.59" width="4.5" height="3.97" fill="#5ba2cb"/><rect x="612.1" y="157.59" width="4.5" height="3.97" fill="#61a6cd"/><rect x="615.6" y="157.59" width="4.5" height="3.97" fill="#67aacf"/><rect x="619.1" y="157.59" width="4.5" height="3.97" fill="#6daed1"/><rect x="622.6" y="157.59" width="4.5" height="3.97" fill="#73b1d3"/><rect x="626.1" y="157.59" width="4.5" height="3.97" fill="#79b5d5"/><rect x="629.6" y="157.59" width="4.5" height="3.97" fill="#7fb9d7"/><rect x="633.1" y="157.59" width="4.5" height="3.97" fill="#85bdd9"/><rect x="636.6" y="157.59" width="4.5" height="3.97" fill="#92c5de"/><rect x="640.1" y="157.59" width="4.5" height="3.97" fill="#9ccae1"/><rect x="643.6" y="157.59" width="4.5" height="3.97" fill="#a7d0e4"/><rect x="647.1" y="157.59" width="4.5" height="3.97" fill="#b1d5e7"/><rect x="650.6" y="157.59" width="4.5" height="3.97" fill="#bcdaea"/><rect x="654.1" y="157.59" width="4.5" height="3.97" fill="#c7e0ed"/><rect x="657.6" y="157.59" width="4.5" height="3.97" fill="#d1e5f0"/><rect x="661.1" y="157.59" width="4.5" height="3.97" fill="#d6e7f1"/><rect x="664.6" y="157.59" width="4.5" height="3.97" fill="#dae9f2"/><rect x="668.1" y="157.59" width="4.5" height="3.97" fill="#deebf2"/><rect x="671.6" y="157.59" width="4.5" height="3.97" fill="#e3edf3"/><rect x="675.1" y="157.59" width="3.5" height="3.97" fill="#e7eff4"/><rect x="535.1" y="160.56" width="4.5" height="2.97" fill="#d6e7f1"/><rect x="538.6" y="160.56" width="4.5" height="2.97" fill="#c5dfed"/><rect x="542.1" y="160.56" width="4.5" height="2.97" fill="#b0d4e7"/><rect x="545.6" y="160.56" width="4.5" height="2.97" fill="#9ccae1"/><rect x="549.1" y="160.56" width="4.5" height="2.97" fill="#8dc2dc"/><rect x="552.6" y="160.56" width="4.5" height="2.97" fill="#7db7d7"/><rect x="556.1" y="160.56" width="4.5" height="2.97" fill="#6dadd1"/><rect x="559.6" y="160.56" width="4.5" height="2.97" fill="#62a6ce"/><rect x="563.1" y="160.56" width="4.5" height="2.97" fill="#60a5cd"/><rect x="566.6" y="160.56" width="4.5" height="2.97" fill="#5da4cc"/><rect x="570.1" y="160.56" width="4.5" height="2.97" fill="#5ba2cb"/><rect x="573.6" y="160.56" width="4.5" height="2.97" fill="#59a1ca"/><rect x="577.1" y="160.56" width="4.5" height="2.97" fill="#579fca"/><rect x="580.6" y="160.56" width="4.5" height="2.97" fill="#549ec9"/><rect x="584.1" y="160.56" width="4.5" height="2.97" fill="#539dc8"/><rect x="587.6" y="160.56" width="4.5" height="2.97" fill="#549ec9"/><rect x="591.1" y="160.56" width="4.5" height="2.97" fill="#559fc9"/><rect x="594.6" y="160.56" width="4.5" height="2.97" fill="#569fca"/><rect x="598.1" y="160.56" width="4.5" height="2.97" fill="#57a0ca"/><rect x="601.6" y="160.56" width="4.5" height="2.97" fill="#59a1ca"/><rect x="605.1" y="160.56" width="4.5" height="2.97" fill="#5aa1cb"/><rect x="608.6" y="160.56" width="4.5" height="2.97" fill="#5ba2cb"/><rect x="612.1" y="160.56" width="4.5" height="2.97" fill="#61a6cd"/><rect x="615.6" y="160.56" width="4.5" height="2.97" fill="#66a9cf"/><rect x="619.1" y="160.56" width="4.5" height="2.97" fill="#6cadd1"/><rect x="622.6" y="160.56" width="4.5" height="2.97" fill="#71b0d3"/><rect x="626.1" y="160.56" width="4.5" height="2.97" fill="#77b4d5"/><rect x="629.6" y="160.56" width="4.5" height="2.97" fill="#7cb7d7"/><rect x="633.1" y="160.56" width="4.5" height="2.97" fill="#82bbd9"/><rect x="636.6" y="160.56" width="4.5" height="2.97" fill="#8fc3dd"/><rect x="640.1" y="160.56" width="4.5" height="2.97" fill="#9ac9e0"/><rect x="643.6" y="160.56" width="4.5" height="2.97" fill="#a5cee3"/><rect x="647.1" y="160.56" width="4.5" height="2.97" fill="#afd4e6"/><rect x="650.6" y="160.56" width="4.5" height="2.97" fill="#bad9e9"/><rect x="654.1" y="160.56" width="4.5" height="2.97" fill="#c4dfec"/><rect x="657.6" y="160.56" width="4.5" height="2.97" fill="#cfe4ef"/><rect x="661.1" y="160.56" width="4.5" height="2.97" fill="#d5e7f1"/><rect x="664.6" y="160.56" width="4.5" height="2.97" fill="#d9e9f1"/><rect x="668.1" y="160.56" width="4.5" height="2.97" fill="#ddebf2"/><rect x="671.6" y="160.56" width="4.5" height="2.97" fill="#e2edf3"/><rect x="675.1" y="160.56" width="3.5" height="2.97" fill="#e6eff4"/>
</g></g>
<line x1="543.6" y1="162.1" x2="543.6" y2="156.5" stroke="#333333" stroke-width="0.95" />
<line x1="543.6" y1="19.5" x2="543.6" y2="25.1" stroke="#333333" stroke-width="0.95" />
<text x="543.6" y="175.1" font-size="10.1" text-anchor="middle" fill="#1a1a1a" stroke="#1a1a1a" >−5</text>
<line x1="606.6" y1="162.1" x2="606.6" y2="156.5" stroke="#333333" stroke-width="0.95" />
<line x1="606.6" y1="19.5" x2="606.6" y2="25.1" stroke="#333333" stroke-width="0.95" />
<text x="606.6" y="175.1" font-size="10.1" text-anchor="middle" fill="#1a1a1a" stroke="#1a1a1a" >0</text>
<line x1="669.6" y1="162.1" x2="669.6" y2="156.5" stroke="#333333" stroke-width="0.95" />
<line x1="669.6" y1="19.5" x2="669.6" y2="25.1" stroke="#333333" stroke-width="0.95" />
<text x="669.6" y="175.1" font-size="10.1" text-anchor="middle" fill="#1a1a1a" stroke="#1a1a1a" >5</text>
<line x1="575.1" y1="162.1" x2="575.1" y2="158.6" stroke="#333333" stroke-width="0.95" />
<line x1="575.1" y1="19.5" x2="575.1" y2="23" stroke="#333333" stroke-width="0.95" />
<line x1="638.1" y1="162.1" x2="638.1" y2="158.6" stroke="#333333" stroke-width="0.95" />
<line x1="638.1" y1="19.5" x2="638.1" y2="23" stroke="#333333" stroke-width="0.95" />
<line x1="535.5" y1="162.1" x2="541.1" y2="162.1" stroke="#333333" stroke-width="0.95" />
<line x1="678.4" y1="162.1" x2="672.8" y2="162.1" stroke="#333333" stroke-width="0.95" />
<text x="530.7" y="165.8" font-size="10.1" text-anchor="end" fill="#1a1a1a" stroke="#1a1a1a" >−12</text>
<line x1="535.5" y1="146.26" x2="539" y2="146.26" stroke="#333333" stroke-width="0.95" />
<line x1="678.4" y1="146.26" x2="674.9" y2="146.26" stroke="#333333" stroke-width="0.95" />
<line x1="535.5" y1="130.41" x2="539" y2="130.41" stroke="#333333" stroke-width="0.95" />
<line x1="678.4" y1="130.41" x2="674.9" y2="130.41" stroke="#333333" stroke-width="0.95" />
<line x1="535.5" y1="114.57" x2="541.1" y2="114.57" stroke="#333333" stroke-width="0.95" />
<line x1="678.4" y1="114.57" x2="672.8" y2="114.57" stroke="#333333" stroke-width="0.95" />
<text x="530.7" y="118.27" font-size="10.1" text-anchor="end" fill="#1a1a1a" stroke="#1a1a1a" >−6</text>
<line x1="535.5" y1="98.72" x2="539" y2="98.72" stroke="#333333" stroke-width="0.95" />
<line x1="678.4" y1="98.72" x2="674.9" y2="98.72" stroke="#333333" stroke-width="0.95" />
<line x1="535.5" y1="82.88" x2="539" y2="82.88" stroke="#333333" stroke-width="0.95" />
<line x1="678.4" y1="82.88" x2="674.9" y2="82.88" stroke="#333333" stroke-width="0.95" />
<line x1="535.5" y1="67.03" x2="541.1" y2="67.03" stroke="#333333" stroke-width="0.95" />
<line x1="678.4" y1="67.03" x2="672.8" y2="67.03" stroke="#333333" stroke-width="0.95" />
<text x="530.7" y="70.73" font-size="10.1" text-anchor="end" fill="#1a1a1a" stroke="#1a1a1a" >0</text>
<line x1="535.5" y1="51.19" x2="539" y2="51.19" stroke="#333333" stroke-width="0.95" />
<line x1="678.4" y1="51.19" x2="674.9" y2="51.19" stroke="#333333" stroke-width="0.95" />
<line x1="535.5" y1="35.34" x2="539" y2="35.34" stroke="#333333" stroke-width="0.95" />
<line x1="678.4" y1="35.34" x2="674.9" y2="35.34" stroke="#333333" stroke-width="0.95" />
<line x1="535.5" y1="19.5" x2="541.1" y2="19.5" stroke="#333333" stroke-width="0.95" />
<line x1="678.4" y1="19.5" x2="672.8" y2="19.5" stroke="#333333" stroke-width="0.95" />
<text x="530.7" y="23.2" font-size="10.1" text-anchor="end" fill="#1a1a1a" stroke="#1a1a1a" >6</text>
<line x1="535.5" y1="19.5" x2="535.5" y2="162.1" stroke="#333333" stroke-width="1.0" /><line x1="535.5" y1="162.1" x2="678.4" y2="162.1" stroke="#333333" stroke-width="1.0" /><line x1="678.4" y1="19.5" x2="678.4" y2="162.1" stroke="#333333" stroke-width="1.0" /><line x1="535.5" y1="19.5" x2="678.4" y2="19.5" stroke="#333333" stroke-width="1.0" />
<text x="625.7" y="34.7" font-size="10" text-anchor="start" fill="#1a1a1a" stroke="#1a1a1a" >D1-A</text>
<text x="625.7" y="47.7" font-size="10" fill="#1a1a1a" stroke="#1a1a1a"><tspan font-style="italic">B</tspan> = 0.5 T</text>
<text x="568" y="191.4" font-size="10" fill="#1a1a1a" stroke="#1a1a1a"><tspan font-style="italic">V</tspan><tspan font-size="7" dy="1.6">b</tspan><tspan dy="-1.6"> /</tspan><tspan font-style="italic">d</tspan><tspan font-size="7" dy="1.6">b</tspan><tspan dy="-1.6"> (mV nm</tspan><tspan font-size="7" dy="-3.5">−1</tspan><tspan dy="3.5">)</tspan></text>
<text transform="translate(504.5,91.3) rotate(-90)" font-size="10" text-anchor="middle" fill="#1a1a1a" stroke="#1a1a1a"><tspan font-style="italic">V</tspan><tspan font-size="7" dy="1.6">t</tspan><tspan dy="-1.6"> /</tspan><tspan font-style="italic">d</tspan><tspan font-size="7" dy="1.6">t</tspan><tspan dy="-1.6"> (mV nm</tspan><tspan font-size="7" dy="-3.5">−1</tspan><tspan dy="3.5">)</tspan></text><defs><linearGradient id="cb62911" x1="0" x2="1" y1="0" y2="0"><stop offset="0.0" stop-color="#67001f"/><stop offset="0.1" stop-color="#b2182b"/><stop offset="0.2" stop-color="#d6604d"/><stop offset="0.3" stop-color="#f4a582"/><stop offset="0.4" stop-color="#fddbc7"/><stop offset="0.5" stop-color="#f7f7f7"/><stop offset="0.6" stop-color="#d1e5f0"/><stop offset="0.7" stop-color="#92c5de"/><stop offset="0.8" stop-color="#4393c3"/><stop offset="0.9" stop-color="#2166ac"/><stop offset="1.0" stop-color="#053061"/></linearGradient></defs><rect x="629.2" y="11" width="49.19999999999993" height="5" fill="url(#cb62911)" stroke="#222" stroke-width="0.6"/><line x1="653.8" y1="11" x2="653.8" y2="12.8" stroke="#222" stroke-width="0.6" /><text x="629.5" y="7.9" font-size="10.1" text-anchor="middle" fill="#1a1a1a" stroke="#1a1a1a" >−0.5</text><text x="653.8" y="7.9" font-size="10.1" text-anchor="middle" fill="#1a1a1a" stroke="#1a1a1a" >0</text><text x="678.2" y="7.9" font-size="10.1" text-anchor="middle" fill="#1a1a1a" stroke="#1a1a1a" >0.5</text><text x="548" y="16" font-size="10" fill="#1a1a1a" stroke="#1a1a1a">Δ<tspan font-style="italic">n</tspan><tspan font-size="7" dy="1.6">H</tspan><tspan dy="-1.6"> (10</tspan><tspan font-size="7" dy="-3.5">12</tspan><tspan dy="3.5"> cm</tspan><tspan font-size="7" dy="-3.5">−2</tspan><tspan dy="3.5">)</tspan></text>
<defs><clipPath id="hc203"><rect x="535.4" y="203.0" width="142.5" height="141.7"/></clipPath><filter id="hb203" x="-5%" y="-5%" width="110%" height="110%"><feGaussianBlur stdDeviation="0.45"/></filter></defs>
<g clip-path="url(#hc203)"><g filter="url(#hb203)">
<rect x="535" y="201.2" width="4.5" height="3.97" fill="#d5e7f1"/><rect x="538.5" y="201.2" width="4.5" height="3.97" fill="#c9e1ee"/><rect x="542" y="201.2" width="4.5" height="3.97" fill="#bcdaea"/><rect x="545.5" y="201.2" width="4.5" height="3.97" fill="#aed3e6"/><rect x="549" y="201.2" width="4.5" height="3.97" fill="#a3cde3"/><rect x="552.5" y="201.2" width="4.5" height="3.97" fill="#98c8e0"/><rect x="556" y="201.2" width="4.5" height="3.97" fill="#8bc1dc"/><rect x="559.5" y="201.2" width="4.5" height="3.97" fill="#80bad8"/><rect x="563" y="201.2" width="4.5" height="3.97" fill="#7bb6d6"/><rect x="566.5" y="201.2" width="4.5" height="3.97" fill="#75b3d4"/><rect x="570" y="201.2" width="4.5" height="3.97" fill="#70afd2"/><rect x="573.5" y="201.2" width="4.5" height="3.97" fill="#6aacd0"/><rect x="577" y="201.2" width="4.5" height="3.97" fill="#65a8ce"/><rect x="580.5" y="201.2" width="4.5" height="3.97" fill="#5fa5cd"/><rect x="584" y="201.2" width="4.5" height="3.97" fill="#5aa2cb"/><rect x="587.5" y="201.2" width="4.5" height="3.97" fill="#59a1cb"/><rect x="591" y="201.2" width="4.5" height="3.97" fill="#58a0ca"/><rect x="594.5" y="201.2" width="4.5" height="3.97" fill="#57a0ca"/><rect x="598" y="201.2" width="4.5" height="3.97" fill="#569fca"/><rect x="601.5" y="201.2" width="4.5" height="3.97" fill="#559ec9"/><rect x="605" y="201.2" width="4.5" height="3.97" fill="#549ec9"/><rect x="608.5" y="201.2" width="29" height="3.97" fill="#539dc8"/><rect x="636.5" y="201.2" width="4.5" height="3.97" fill="#57a0ca"/><rect x="640" y="201.2" width="4.5" height="3.97" fill="#5ba2cb"/><rect x="643.5" y="201.2" width="4.5" height="3.97" fill="#60a5cd"/><rect x="647" y="201.2" width="4.5" height="3.97" fill="#64a8ce"/><rect x="650.5" y="201.2" width="4.5" height="3.97" fill="#69abd0"/><rect x="654" y="201.2" width="4.5" height="3.97" fill="#6daed1"/><rect x="657.5" y="201.2" width="4.5" height="3.97" fill="#71b0d3"/><rect x="661" y="201.2" width="4.5" height="3.97" fill="#7ab6d6"/><rect x="664.5" y="201.2" width="4.5" height="3.97" fill="#83bbd9"/><rect x="668" y="201.2" width="4.5" height="3.97" fill="#8cc1dc"/><rect x="671.5" y="201.2" width="4.5" height="3.97" fill="#95c6df"/><rect x="675" y="201.2" width="3.5" height="3.97" fill="#9ccae1"/><rect x="535" y="204.17" width="4.5" height="3.97" fill="#d7e8f1"/><rect x="538.5" y="204.17" width="4.5" height="3.97" fill="#cde3ef"/><rect x="542" y="204.17" width="4.5" height="3.97" fill="#bfdceb"/><rect x="545.5" y="204.17" width="4.5" height="3.97" fill="#b1d5e7"/><rect x="549" y="204.17" width="4.5" height="3.97" fill="#a6cfe4"/><rect x="552.5" y="204.17" width="4.5" height="3.97" fill="#9bc9e0"/><rect x="556" y="204.17" width="4.5" height="3.97" fill="#8fc3dd"/><rect x="559.5" y="204.17" width="4.5" height="3.97" fill="#83bcd9"/><rect x="563" y="204.17" width="4.5" height="3.97" fill="#7eb8d7"/><rect x="566.5" y="204.17" width="4.5" height="3.97" fill="#78b4d5"/><rect x="570" y="204.17" width="4.5" height="3.97" fill="#72b1d3"/><rect x="573.5" y="204.17" width="4.5" height="3.97" fill="#6cadd1"/><rect x="577" y="204.17" width="4.5" height="3.97" fill="#66a9cf"/><rect x="580.5" y="204.17" width="4.5" height="3.97" fill="#60a5cd"/><rect x="584" y="204.17" width="4.5" height="3.97" fill="#5ba2cb"/><rect x="587.5" y="204.17" width="4.5" height="3.97" fill="#5aa2cb"/><rect x="591" y="204.17" width="4.5" height="3.97" fill="#59a1ca"/><rect x="594.5" y="204.17" width="4.5" height="3.97" fill="#58a0ca"/><rect x="598" y="204.17" width="4.5" height="3.97" fill="#569fca"/><rect x="601.5" y="204.17" width="4.5" height="3.97" fill="#559ec9"/><rect x="605" y="204.17" width="4.5" height="3.97" fill="#549ec9"/><rect x="608.5" y="204.17" width="29" height="3.97" fill="#539dc8"/><rect x="636.5" y="204.17" width="4.5" height="3.97" fill="#57a0ca"/><rect x="640" y="204.17" width="4.5" height="3.97" fill="#5ba2cb"/><rect x="643.5" y="204.17" width="4.5" height="3.97" fill="#60a5cd"/><rect x="647" y="204.17" width="4.5" height="3.97" fill="#64a8ce"/><rect x="650.5" y="204.17" width="4.5" height="3.97" fill="#69abd0"/><rect x="654" y="204.17" width="4.5" height="3.97" fill="#6daed1"/><rect x="657.5" y="204.17" width="4.5" height="3.97" fill="#71b0d3"/><rect x="661" y="204.17" width="4.5" height="3.97" fill="#79b5d6"/><rect x="664.5" y="204.17" width="4.5" height="3.97" fill="#82bbd9"/><rect x="668" y="204.17" width="4.5" height="3.97" fill="#8bc1dc"/><rect x="671.5" y="204.17" width="4.5" height="3.97" fill="#94c6de"/><rect x="675" y="204.17" width="3.5" height="3.97" fill="#9bc9e0"/><rect x="535" y="207.14" width="4.5" height="3.97" fill="#d9e9f1"/><rect x="538.5" y="207.14" width="4.5" height="3.97" fill="#d0e5f0"/><rect x="542" y="207.14" width="4.5" height="3.97" fill="#c3deec"/><rect x="545.5" y="207.14" width="4.5" height="3.97" fill="#b5d7e8"/><rect x="549" y="207.14" width="4.5" height="3.97" fill="#a9d1e5"/><rect x="552.5" y="207.14" width="4.5" height="3.97" fill="#9ecbe1"/><rect x="556" y="207.14" width="4.5" height="3.97" fill="#92c5de"/><rect x="559.5" y="207.14" width="4.5" height="3.97" fill="#87beda"/><rect x="563" y="207.14" width="4.5" height="3.97" fill="#81bad8"/><rect x="566.5" y="207.14" width="4.5" height="3.97" fill="#7bb6d6"/><rect x="570" y="207.14" width="4.5" height="3.97" fill="#74b2d4"/><rect x="573.5" y="207.14" width="4.5" height="3.97" fill="#6eaed2"/><rect x="577" y="207.14" width="4.5" height="3.97" fill="#68aad0"/><rect x="580.5" y="207.14" width="4.5" height="3.97" fill="#61a6cd"/><rect x="584" y="207.14" width="4.5" height="3.97" fill="#5ca3cc"/><rect x="587.5" y="207.14" width="4.5" height="3.97" fill="#5ba2cb"/><rect x="591" y="207.14" width="4.5" height="3.97" fill="#59a1cb"/><rect x="594.5" y="207.14" width="4.5" height="3.97" fill="#58a0ca"/><rect x="598" y="207.14" width="4.5" height="3.97" fill="#57a0ca"/><rect x="601.5" y="207.14" width="4.5" height="3.97" fill="#559fc9"/><rect x="605" y="207.14" width="4.5" height="3.97" fill="#549ec9"/><rect x="608.5" y="207.14" width="29" height="3.97" fill="#539dc8"/><rect x="636.5" y="207.14" width="4.5" height="3.97" fill="#57a0ca"/><rect x="640" y="207.14" width="4.5" height="3.97" fill="#5ba2cb"/><rect x="643.5" y="207.14" width="4.5" height="3.97" fill="#60a5cd"/><rect x="647" y="207.14" width="4.5" height="3.97" fill="#64a8ce"/><rect x="650.5" y="207.14" width="4.5" height="3.97" fill="#69abd0"/><rect x="654" y="207.14" width="4.5" height="3.97" fill="#6daed1"/><rect x="657.5" y="207.14" width="4.5" height="3.97" fill="#71b0d3"/><rect x="661" y="207.14" width="4.5" height="3.97" fill="#79b5d5"/><rect x="664.5" y="207.14" width="4.5" height="3.97" fill="#82bbd8"/><rect x="668" y="207.14" width="4.5" height="3.97" fill="#8ac0db"/><rect x="671.5" y="207.14" width="4.5" height="3.97" fill="#93c5de"/><rect x="675" y="207.14" width="3.5" height="3.97" fill="#99c9e0"/><rect x="535" y="210.11" width="4.5" height="3.97" fill="#dbeaf2"/><rect x="538.5" y="210.11" width="4.5" height="3.97" fill="#d3e6f0"/><rect x="542" y="210.11" width="4.5" height="3.97" fill="#c7e0ed"/><rect x="545.5" y="210.11" width="4.5" height="3.97" fill="#b9d9e9"/><rect x="549" y="210.11" width="4.5" height="3.97" fill="#add3e6"/><rect x="552.5" y="210.11" width="4.5" height="3.97" fill="#a1cde2"/><rect x="556" y="210.11" width="4.5" height="3.97" fill="#96c7df"/><rect x="559.5" y="210.11" width="4.5" height="3.97" fill="#8bc0db"/><rect x="563" y="210.11" width="4.5" height="3.97" fill="#84bcd9"/><rect x="566.5" y="210.11" width="4.5" height="3.97" fill="#7db8d7"/><rect x="570" y="210.11" width="4.5" height="3.97" fill="#77b4d5"/><rect x="573.5" y="210.11" width="4.5" height="3.97" fill="#70afd2"/><rect x="577" y="210.11" width="4.5" height="3.97" fill="#69abd0"/><rect x="580.5" y="210.11" width="4.5" height="3.97" fill="#63a7ce"/><rect x="584" y="210.11" width="4.5" height="3.97" fill="#5da4cc"/><rect x="587.5" y="210.11" width="4.5" height="3.97" fill="#5ca3cb"/><rect x="591" y="210.11" width="4.5" height="3.97" fill="#5aa2cb"/><rect x="594.5" y="210.11" width="4.5" height="3.97" fill="#59a1ca"/><rect x="598" y="210.11" width="4.5" height="3.97" fill="#57a0ca"/><rect x="601.5" y="210.11" width="4.5" height="3.97" fill="#569fc9"/><rect x="605" y="210.11" width="4.5" height="3.97" fill="#549ec9"/><rect x="608.5" y="210.11" width="29" height="3.97" fill="#539dc8"/><rect x="636.5" y="210.11" width="4.5" height="3.97" fill="#57a0ca"/><rect x="640" y="210.11" width="4.5" height="3.97" fill="#5ba2cb"/><rect x="643.5" y="210.11" width="4.5" height="3.97" fill="#60a5cd"/><rect x="647" y="210.11" width="4.5" height="3.97" fill="#64a8ce"/><rect x="650.5" y="210.11" width="4.5" height="3.97" fill="#69abd0"/><rect x="654" y="210.11" width="4.5" height="3.97" fill="#6daed1"/><rect x="657.5" y="210.11" width="4.5" height="3.97" fill="#71b0d3"/><rect x="661" y="210.11" width="4.5" height="3.97" fill="#79b5d5"/><rect x="664.5" y="210.11" width="4.5" height="3.97" fill="#81bad8"/><rect x="668" y="210.11" width="4.5" height="3.97" fill="#89bfdb"/><rect x="671.5" y="210.11" width="4.5" height="3.97" fill="#91c5de"/><rect x="675" y="210.11" width="3.5" height="3.97" fill="#98c8e0"/><rect x="535" y="213.08" width="4.5" height="3.97" fill="#ddebf2"/><rect x="538.5" y="213.08" width="4.5" height="3.97" fill="#d5e7f1"/><rect x="542" y="213.08" width="4.5" height="3.97" fill="#cae2ee"/><rect x="545.5" y="213.08" width="4.5" height="3.97" fill="#bddbea"/><rect x="549" y="213.08" width="4.5" height="3.97" fill="#b0d4e7"/><rect x="552.5" y="213.08" width="4.5" height="3.97" fill="#a5cee3"/><rect x="556" y="213.08" width="4.5" height="3.97" fill="#99c8e0"/><rect x="559.5" y="213.08" width="4.5" height="3.97" fill="#8ec3dd"/><rect x="563" y="213.08" width="4.5" height="3.97" fill="#87beda"/><rect x="566.5" y="213.08" width="4.5" height="3.97" fill="#80bad8"/><rect x="570" y="213.08" width="4.5" height="3.97" fill="#79b5d5"/><rect x="573.5" y="213.08" width="4.5" height="3.97" fill="#72b1d3"/><rect x="577" y="213.08" width="4.5" height="3.97" fill="#6bacd1"/><rect x="580.5" y="213.08" width="4.5" height="3.97" fill="#64a8ce"/><rect x="584" y="213.08" width="4.5" height="3.97" fill="#5ea4cc"/><rect x="587.5" y="213.08" width="4.5" height="3.97" fill="#5ca3cc"/><rect x="591" y="213.08" width="4.5" height="3.97" fill="#5ba2cb"/><rect x="594.5" y="213.08" width="4.5" height="3.97" fill="#59a1cb"/><rect x="598" y="213.08" width="4.5" height="3.97" fill="#58a0ca"/><rect x="601.5" y="213.08" width="4.5" height="3.97" fill="#569fc9"/><rect x="605" y="213.08" width="4.5" height="3.97" fill="#549ec9"/><rect x="608.5" y="213.08" width="29" height="3.97" fill="#539dc8"/><rect x="636.5" y="213.08" width="4.5" height="3.97" fill="#57a0ca"/><rect x="640" y="213.08" width="4.5" height="3.97" fill="#5ba2cb"/><rect x="643.5" y="213.08" width="4.5" height="3.97" fill="#60a5cd"/><rect x="647" y="213.08" width="4.5" height="3.97" fill="#64a8ce"/><rect x="650.5" y="213.08" width="4.5" height="3.97" fill="#69abd0"/><rect x="654" y="213.08" width="4.5" height="3.97" fill="#6daed1"/><rect x="657.5" y="213.08" width="4.5" height="3.97" fill="#71b0d3"/><rect x="661" y="213.08" width="4.5" height="3.97" fill="#79b5d5"/><rect x="664.5" y="213.08" width="4.5" height="3.97" fill="#80bad8"/><rect x="668" y="213.08" width="4.5" height="3.97" fill="#88bfdb"/><rect x="671.5" y="213.08" width="4.5" height="3.97" fill="#90c4dd"/><rect x="675" y="213.08" width="3.5" height="3.97" fill="#97c7df"/><rect x="535" y="216.05" width="4.5" height="3.97" fill="#e0ecf3"/><rect x="538.5" y="216.05" width="4.5" height="3.97" fill="#d7e8f1"/><rect x="542" y="216.05" width="4.5" height="3.97" fill="#cee3ef"/><rect x="545.5" y="216.05" width="4.5" height="3.97" fill="#c0ddeb"/><rect x="549" y="216.05" width="4.5" height="3.97" fill="#b4d6e8"/><rect x="552.5" y="216.05" width="4.5" height="3.97" fill="#a8d0e4"/><rect x="556" y="216.05" width="4.5" height="3.97" fill="#9ccae1"/><rect x="559.5" y="216.05" width="4.5" height="3.97" fill="#92c5de"/><rect x="563" y="216.05" width="4.5" height="3.97" fill="#8ac0db"/><rect x="566.5" y="216.05" width="4.5" height="3.97" fill="#83bcd9"/><rect x="570" y="216.05" width="4.5" height="3.97" fill="#7cb7d6"/><rect x="573.5" y="216.05" width="4.5" height="3.97" fill="#74b2d4"/><rect x="577" y="216.05" width="4.5" height="3.97" fill="#6dadd1"/><rect x="580.5" y="216.05" width="4.5" height="3.97" fill="#65a9cf"/><rect x="584" y="216.05" width="4.5" height="3.97" fill="#5fa5cd"/><rect x="587.5" y="216.05" width="4.5" height="3.97" fill="#5da4cc"/><rect x="591" y="216.05" width="4.5" height="3.97" fill="#5ba2cb"/><rect x="594.5" y="216.05" width="4.5" height="3.97" fill="#5aa1cb"/><rect x="598" y="216.05" width="4.5" height="3.97" fill="#58a0ca"/><rect x="601.5" y="216.05" width="4.5" height="3.97" fill="#569fca"/><rect x="605" y="216.05" width="4.5" height="3.97" fill="#549ec9"/><rect x="608.5" y="216.05" width="29" height="3.97" fill="#539dc8"/><rect x="636.5" y="216.05" width="4.5" height="3.97" fill="#57a0ca"/><rect x="640" y="216.05" width="4.5" height="3.97" fill="#5ba2cb"/><rect x="643.5" y="216.05" width="4.5" height="3.97" fill="#60a5cd"/><rect x="647" y="216.05" width="4.5" height="3.97" fill="#64a8ce"/><rect x="650.5" y="216.05" width="4.5" height="3.97" fill="#69abd0"/><rect x="654" y="216.05" width="4.5" height="3.97" fill="#6daed1"/><rect x="657.5" y="216.05" width="4.5" height="3.97" fill="#71b0d3"/><rect x="661" y="216.05" width="4.5" height="3.97" fill="#78b5d5"/><rect x="664.5" y="216.05" width="4.5" height="3.97" fill="#80b9d8"/><rect x="668" y="216.05" width="4.5" height="3.97" fill="#87beda"/><rect x="671.5" y="216.05" width="4.5" height="3.97" fill="#8fc3dd"/><rect x="675" y="216.05" width="3.5" height="3.97" fill="#95c7df"/><rect x="535" y="219.02" width="4.5" height="3.97" fill="#e2edf3"/><rect x="538.5" y="219.02" width="4.5" height="3.97" fill="#dae9f2"/><rect x="542" y="219.02" width="4.5" height="3.97" fill="#d1e5f0"/><rect x="545.5" y="219.02" width="4.5" height="3.97" fill="#c4deec"/><rect x="549" y="219.02" width="4.5" height="3.97" fill="#b8d8e9"/><rect x="552.5" y="219.02" width="4.5" height="3.97" fill="#abd2e5"/><rect x="556" y="219.02" width="4.5" height="3.97" fill="#9fcce2"/><rect x="559.5" y="219.02" width="4.5" height="3.97" fill="#95c6df"/><rect x="563" y="219.02" width="4.5" height="3.97" fill="#8ec2dd"/><rect x="566.5" y="219.02" width="4.5" height="3.97" fill="#86bdda"/><rect x="570" y="219.02" width="4.5" height="3.97" fill="#7eb8d7"/><rect x="573.5" y="219.02" width="4.5" height="3.97" fill="#76b3d4"/><rect x="577" y="219.02" width="4.5" height="3.97" fill="#6eaed2"/><rect x="580.5" y="219.02" width="4.5" height="3.97" fill="#66a9cf"/><rect x="584" y="219.02" width="4.5" height="3.97" fill="#60a5cd"/><rect x="587.5" y="219.02" width="4.5" height="3.97" fill="#5ea4cc"/><rect x="591" y="219.02" width="4.5" height="3.97" fill="#5ca3cc"/><rect x="594.5" y="219.02" width="4.5" height="3.97" fill="#5aa2cb"/><rect x="598" y="219.02" width="4.5" height="3.97" fill="#58a0ca"/><rect x="601.5" y="219.02" width="4.5" height="3.97" fill="#569fca"/><rect x="605" y="219.02" width="4.5" height="3.97" fill="#559ec9"/><rect x="608.5" y="219.02" width="29" height="3.97" fill="#539dc8"/><rect x="636.5" y="219.02" width="4.5" height="3.97" fill="#57a0ca"/><rect x="640" y="219.02" width="4.5" height="3.97" fill="#5ba2cb"/><rect x="643.5" y="219.02" width="4.5" height="3.97" fill="#60a5cd"/><rect x="647" y="219.02" width="4.5" height="3.97" fill="#64a8ce"/><rect x="650.5" y="219.02" width="4.5" height="3.97" fill="#69abd0"/><rect x="654" y="219.02" width="4.5" height="3.97" fill="#6daed1"/><rect x="657.5" y="219.02" width="4.5" height="3.97" fill="#71b0d3"/><rect x="661" y="219.02" width="4.5" height="3.97" fill="#78b5d5"/><rect x="664.5" y="219.02" width="4.5" height="3.97" fill="#7fb9d8"/><rect x="668" y="219.02" width="4.5" height="3.97" fill="#86bdda"/><rect x="671.5" y="219.02" width="4.5" height="3.97" fill="#8dc2dc"/><rect x="675" y="219.02" width="3.5" height="3.97" fill="#94c6df"/><rect x="535" y="221.99" width="4.5" height="3.97" fill="#e4eef4"/><rect x="538.5" y="221.99" width="4.5" height="3.97" fill="#dceaf2"/><rect x="542" y="221.99" width="4.5" height="3.97" fill="#d4e6f0"/><rect x="545.5" y="221.99" width="4.5" height="3.97" fill="#c8e0ed"/><rect x="549" y="221.99" width="4.5" height="3.97" fill="#bbdaea"/><rect x="552.5" y="221.99" width="4.5" height="3.97" fill="#afd4e6"/><rect x="556" y="221.99" width="4.5" height="3.97" fill="#a2cde3"/><rect x="559.5" y="221.99" width="4.5" height="3.97" fill="#98c8e0"/><rect x="563" y="221.99" width="4.5" height="3.97" fill="#91c4de"/><rect x="566.5" y="221.99" width="4.5" height="3.97" fill="#89bfdb"/><rect x="570" y="221.99" width="4.5" height="3.97" fill="#80bad8"/><rect x="573.5" y="221.99" width="4.5" height="3.97" fill="#78b5d5"/><rect x="577" y="221.99" width="4.5" height="3.97" fill="#70afd2"/><rect x="580.5" y="221.99" width="4.5" height="3.97" fill="#68aad0"/><rect x="584" y="221.99" width="4.5" height="3.97" fill="#61a6cd"/><rect x="587.5" y="221.99" width="4.5" height="3.97" fill="#5fa5cc"/><rect x="591" y="221.99" width="4.5" height="3.97" fill="#5da3cc"/><rect x="594.5" y="221.99" width="4.5" height="3.97" fill="#5ba2cb"/><rect x="598" y="221.99" width="4.5" height="3.97" fill="#59a1ca"/><rect x="601.5" y="221.99" width="4.5" height="3.97" fill="#579fca"/><rect x="605" y="221.99" width="4.5" height="3.97" fill="#559ec9"/><rect x="608.5" y="221.99" width="29" height="3.97" fill="#539dc8"/><rect x="636.5" y="221.99" width="4.5" height="3.97" fill="#57a0ca"/><rect x="640" y="221.99" width="4.5" height="3.97" fill="#5ba2cb"/><rect x="643.5" y="221.99" width="4.5" height="3.97" fill="#60a5cd"/><rect x="647" y="221.99" width="4.5" height="3.97" fill="#64a8ce"/><rect x="650.5" y="221.99" width="4.5" height="3.97" fill="#69abd0"/><rect x="654" y="221.99" width="4.5" height="3.97" fill="#6daed1"/><rect x="657.5" y="221.99" width="4.5" height="3.97" fill="#71b0d3"/><rect x="661" y="221.99" width="4.5" height="3.97" fill="#78b4d5"/><rect x="664.5" y="221.99" width="4.5" height="3.97" fill="#7eb9d7"/><rect x="668" y="221.99" width="4.5" height="3.97" fill="#85bdda"/><rect x="671.5" y="221.99" width="4.5" height="3.97" fill="#8cc1dc"/><rect x="675" y="221.99" width="3.5" height="3.97" fill="#92c5de"/><rect x="535" y="224.96" width="4.5" height="3.97" fill="#e6eff4"/><rect x="538.5" y="224.96" width="4.5" height="3.97" fill="#deebf2"/><rect x="542" y="224.96" width="4.5" height="3.97" fill="#d6e7f1"/><rect x="545.5" y="224.96" width="4.5" height="3.97" fill="#cce2ee"/><rect x="549" y="224.96" width="4.5" height="3.97" fill="#bfdceb"/><rect x="552.5" y="224.96" width="4.5" height="3.97" fill="#b2d5e7"/><rect x="556" y="224.96" width="4.5" height="3.97" fill="#a5cfe3"/><rect x="559.5" y="224.96" width="4.5" height="3.97" fill="#9bc9e0"/><rect x="563" y="224.96" width="4.5" height="3.97" fill="#94c6de"/><rect x="566.5" y="224.96" width="4.5" height="3.97" fill="#8bc1dc"/><rect x="570" y="224.96" width="4.5" height="3.97" fill="#83bbd9"/><rect x="573.5" y="224.96" width="4.5" height="3.97" fill="#7ab6d6"/><rect x="577" y="224.96" width="4.5" height="3.97" fill="#72b0d3"/><rect x="580.5" y="224.96" width="4.5" height="3.97" fill="#69abd0"/><rect x="584" y="224.96" width="4.5" height="3.97" fill="#62a6cd"/><rect x="587.5" y="224.96" width="4.5" height="3.97" fill="#60a5cd"/><rect x="591" y="224.96" width="4.5" height="3.97" fill="#5da4cc"/><rect x="594.5" y="224.96" width="4.5" height="3.97" fill="#5ba2cb"/><rect x="598" y="224.96" width="4.5" height="3.97" fill="#59a1cb"/><rect x="601.5" y="224.96" width="4.5" height="3.97" fill="#57a0ca"/><rect x="605" y="224.96" width="4.5" height="3.97" fill="#559ec9"/><rect x="608.5" y="224.96" width="29" height="3.97" fill="#539dc8"/><rect x="636.5" y="224.96" width="4.5" height="3.97" fill="#57a0ca"/><rect x="640" y="224.96" width="4.5" height="3.97" fill="#5ba2cb"/><rect x="643.5" y="224.96" width="4.5" height="3.97" fill="#60a5cd"/><rect x="647" y="224.96" width="4.5" height="3.97" fill="#64a8ce"/><rect x="650.5" y="224.96" width="4.5" height="3.97" fill="#69abd0"/><rect x="654" y="224.96" width="4.5" height="3.97" fill="#6daed1"/><rect x="657.5" y="224.96" width="4.5" height="3.97" fill="#71b0d3"/><rect x="661" y="224.96" width="4.5" height="3.97" fill="#77b4d5"/><rect x="664.5" y="224.96" width="4.5" height="3.97" fill="#7eb8d7"/><rect x="668" y="224.96" width="4.5" height="3.97" fill="#84bcd9"/><rect x="671.5" y="224.96" width="4.5" height="3.97" fill="#8ac0db"/><rect x="675" y="224.96" width="3.5" height="3.97" fill="#91c4de"/><rect x="535" y="227.93" width="4.5" height="3.97" fill="#e8f0f4"/><rect x="538.5" y="227.93" width="4.5" height="3.97" fill="#e0ecf3"/><rect x="542" y="227.93" width="4.5" height="3.97" fill="#d8e8f1"/><rect x="545.5" y="227.93" width="4.5" height="3.97" fill="#d0e5f0"/><rect x="549" y="227.93" width="4.5" height="3.97" fill="#c3deec"/><rect x="552.5" y="227.93" width="4.5" height="3.97" fill="#b6d7e8"/><rect x="556" y="227.93" width="4.5" height="3.97" fill="#a9d1e5"/><rect x="559.5" y="227.93" width="4.5" height="3.97" fill="#9ecbe1"/><rect x="563" y="227.93" width="4.5" height="3.97" fill="#97c8df"/><rect x="566.5" y="227.93" width="4.5" height="3.97" fill="#8fc3dd"/><rect x="570" y="227.93" width="4.5" height="3.97" fill="#86beda"/><rect x="573.5" y="227.93" width="4.5" height="3.97" fill="#7db8d7"/><rect x="577" y="227.93" width="4.5" height="3.97" fill="#74b2d4"/><rect x="580.5" y="227.93" width="4.5" height="3.97" fill="#6badd1"/><rect x="584" y="227.93" width="4.5" height="3.97" fill="#64a8ce"/><rect x="587.5" y="227.93" width="4.5" height="3.97" fill="#62a6cd"/><rect x="591" y="227.93" width="4.5" height="3.97" fill="#5fa5cd"/><rect x="594.5" y="227.93" width="4.5" height="3.97" fill="#5da3cc"/><rect x="598" y="227.93" width="4.5" height="3.97" fill="#5ba2cb"/><rect x="601.5" y="227.93" width="4.5" height="3.97" fill="#58a0ca"/><rect x="605" y="227.93" width="4.5" height="3.97" fill="#569fc9"/><rect x="608.5" y="227.93" width="8" height="3.97" fill="#549ec9"/><rect x="615.5" y="227.93" width="8" height="3.97" fill="#549dc9"/><rect x="622.5" y="227.93" width="15" height="3.97" fill="#539dc9"/><rect x="636.5" y="227.93" width="4.5" height="3.97" fill="#57a0ca"/><rect x="640" y="227.93" width="4.5" height="3.97" fill="#5ca3cb"/><rect x="643.5" y="227.93" width="4.5" height="3.97" fill="#60a5cd"/><rect x="647" y="227.93" width="4.5" height="3.97" fill="#64a8ce"/><rect x="650.5" y="227.93" width="4.5" height="3.97" fill="#69abd0"/><rect x="654" y="227.93" width="4.5" height="3.97" fill="#6daed1"/><rect x="657.5" y="227.93" width="4.5" height="3.97" fill="#71b0d3"/><rect x="661" y="227.93" width="4.5" height="3.97" fill="#77b4d5"/><rect x="664.5" y="227.93" width="4.5" height="3.97" fill="#7db8d7"/><rect x="668" y="227.93" width="4.5" height="3.97" fill="#84bcd9"/><rect x="671.5" y="227.93" width="4.5" height="3.97" fill="#8ac0db"/><rect x="675" y="227.93" width="3.5" height="3.97" fill="#90c4dd"/><rect x="535" y="230.9" width="4.5" height="3.97" fill="#e9f0f4"/><rect x="538.5" y="230.9" width="4.5" height="3.97" fill="#e4eef4"/><rect x="542" y="230.9" width="4.5" height="3.97" fill="#dfecf3"/><rect x="545.5" y="230.9" width="4.5" height="3.97" fill="#dbeaf2"/><rect x="549" y="230.9" width="4.5" height="3.97" fill="#d5e7f1"/><rect x="552.5" y="230.9" width="4.5" height="3.97" fill="#d0e4f0"/><rect x="556" y="230.9" width="4.5" height="3.97" fill="#c7e0ed"/><rect x="559.5" y="230.9" width="4.5" height="3.97" fill="#c0dceb"/><rect x="563" y="230.9" width="4.5" height="3.97" fill="#bbdaea"/><rect x="566.5" y="230.9" width="4.5" height="3.97" fill="#b6d7e8"/><rect x="570" y="230.9" width="4.5" height="3.97" fill="#9ccae1"/><rect x="573.5" y="230.9" width="4.5" height="3.97" fill="#82bbd8"/><rect x="577" y="230.9" width="4.5" height="3.97" fill="#79b5d5"/><rect x="580.5" y="230.9" width="4.5" height="3.97" fill="#6fafd2"/><rect x="584" y="230.9" width="4.5" height="3.97" fill="#68aad0"/><rect x="587.5" y="230.9" width="4.5" height="3.97" fill="#65a9cf"/><rect x="591" y="230.9" width="4.5" height="3.97" fill="#62a7ce"/><rect x="594.5" y="230.9" width="4.5" height="3.97" fill="#60a5cd"/><rect x="598" y="230.9" width="4.5" height="3.97" fill="#5da4cc"/><rect x="601.5" y="230.9" width="4.5" height="3.97" fill="#5ba2cb"/><rect x="605" y="230.9" width="4.5" height="3.97" fill="#58a0ca"/><rect x="608.5" y="230.9" width="4.5" height="3.97" fill="#569fc9"/><rect x="612" y="230.9" width="4.5" height="3.97" fill="#559fc9"/><rect x="615.5" y="230.9" width="15" height="3.97" fill="#559ec9"/><rect x="629.5" y="230.9" width="8" height="3.97" fill="#549ec9"/><rect x="636.5" y="230.9" width="4.5" height="3.97" fill="#58a0ca"/><rect x="640" y="230.9" width="4.5" height="3.97" fill="#5ca3cc"/><rect x="643.5" y="230.9" width="4.5" height="3.97" fill="#61a6cd"/><rect x="647" y="230.9" width="4.5" height="3.97" fill="#65a8cf"/><rect x="650.5" y="230.9" width="4.5" height="3.97" fill="#69abd0"/><rect x="654" y="230.9" width="4.5" height="3.97" fill="#6daed1"/><rect x="657.5" y="230.9" width="4.5" height="3.97" fill="#71b0d3"/><rect x="661" y="230.9" width="4.5" height="3.97" fill="#77b4d5"/><rect x="664.5" y="230.9" width="4.5" height="3.97" fill="#7db8d7"/><rect x="668" y="230.9" width="4.5" height="3.97" fill="#84bcd9"/><rect x="671.5" y="230.9" width="4.5" height="3.97" fill="#8ac0db"/><rect x="675" y="230.9" width="3.5" height="3.97" fill="#90c4dd"/><rect x="535" y="233.87" width="4.5" height="3.97" fill="#edf2f5"/><rect x="538.5" y="233.87" width="4.5" height="3.97" fill="#ecf2f5"/><rect x="542" y="233.87" width="8" height="3.97" fill="#ebf1f5"/><rect x="549" y="233.87" width="4.5" height="3.97" fill="#eaf1f5"/><rect x="552.5" y="233.87" width="4.5" height="3.97" fill="#e9f0f4"/><rect x="556" y="233.87" width="4.5" height="3.97" fill="#e8f0f4"/><rect x="559.5" y="233.87" width="4.5" height="3.97" fill="#e7f0f4"/><rect x="563" y="233.87" width="4.5" height="3.97" fill="#e7eff4"/><rect x="566.5" y="233.87" width="4.5" height="3.97" fill="#e6eff4"/><rect x="570" y="233.87" width="4.5" height="3.97" fill="#d8e8f1"/><rect x="573.5" y="233.87" width="4.5" height="3.97" fill="#afd4e6"/><rect x="577" y="233.87" width="4.5" height="3.97" fill="#82bbd8"/><rect x="580.5" y="233.87" width="4.5" height="3.97" fill="#73b2d4"/><rect x="584" y="233.87" width="4.5" height="3.97" fill="#6bacd1"/><rect x="587.5" y="233.87" width="4.5" height="3.97" fill="#68abd0"/><rect x="591" y="233.87" width="4.5" height="3.97" fill="#66a9cf"/><rect x="594.5" y="233.87" width="4.5" height="3.97" fill="#63a7ce"/><rect x="598" y="233.87" width="4.5" height="3.97" fill="#60a5cd"/><rect x="601.5" y="233.87" width="4.5" height="3.97" fill="#5da3cc"/><rect x="605" y="233.87" width="4.5" height="3.97" fill="#5aa2cb"/><rect x="608.5" y="233.87" width="11.5" height="3.97" fill="#57a0ca"/><rect x="619" y="233.87" width="8" height="3.97" fill="#569fca"/><rect x="626" y="233.87" width="4.5" height="3.97" fill="#569fc9"/><rect x="629.5" y="233.87" width="4.5" height="3.97" fill="#559fc9"/><rect x="633" y="233.87" width="4.5" height="3.97" fill="#559ec9"/><rect x="636.5" y="233.87" width="4.5" height="3.97" fill="#59a1ca"/><rect x="640" y="233.87" width="4.5" height="3.97" fill="#5da3cc"/><rect x="643.5" y="233.87" width="4.5" height="3.97" fill="#61a6cd"/><rect x="647" y="233.87" width="4.5" height="3.97" fill="#65a9cf"/><rect x="650.5" y="233.87" width="4.5" height="3.97" fill="#69abd0"/><rect x="654" y="233.87" width="4.5" height="3.97" fill="#6daed1"/><rect x="657.5" y="233.87" width="4.5" height="3.97" fill="#72b0d3"/><rect x="661" y="233.87" width="4.5" height="3.97" fill="#77b4d5"/><rect x="664.5" y="233.87" width="4.5" height="3.97" fill="#7db8d7"/><rect x="668" y="233.87" width="4.5" height="3.97" fill="#84bcd9"/><rect x="671.5" y="233.87" width="4.5" height="3.97" fill="#8ac0db"/><rect x="675" y="233.87" width="3.5" height="3.97" fill="#90c4dd"/><rect x="535" y="236.84" width="39.5" height="3.97" fill="#fce1d1"/><rect x="573.5" y="236.84" width="4.5" height="3.97" fill="#e6eff4"/><rect x="577" y="236.84" width="4.5" height="3.97" fill="#c1ddeb"/><rect x="580.5" y="236.84" width="4.5" height="3.97" fill="#8bc1dc"/><rect x="584" y="236.84" width="4.5" height="3.97" fill="#6fafd2"/><rect x="587.5" y="236.84" width="4.5" height="3.97" fill="#6cadd1"/><rect x="591" y="236.84" width="4.5" height="3.97" fill="#69abd0"/><rect x="594.5" y="236.84" width="4.5" height="3.97" fill="#66a9cf"/><rect x="598" y="236.84" width="4.5" height="3.97" fill="#62a7ce"/><rect x="601.5" y="236.84" width="4.5" height="3.97" fill="#5fa5cd"/><rect x="605" y="236.84" width="4.5" height="3.97" fill="#5ca3cc"/><rect x="608.5" y="236.84" width="4.5" height="3.97" fill="#59a1cb"/><rect x="612" y="236.84" width="4.5" height="3.97" fill="#59a1ca"/><rect x="615.5" y="236.84" width="4.5" height="3.97" fill="#58a1ca"/><rect x="619" y="236.84" width="4.5" height="3.97" fill="#58a0ca"/><rect x="622.5" y="236.84" width="8" height="3.97" fill="#57a0ca"/><rect x="629.5" y="236.84" width="4.5" height="3.97" fill="#579fca"/><rect x="633" y="236.84" width="4.5" height="3.97" fill="#569fca"/><rect x="636.5" y="236.84" width="4.5" height="3.97" fill="#5aa1cb"/><rect x="640" y="236.84" width="4.5" height="3.97" fill="#5ea4cc"/><rect x="643.5" y="236.84" width="4.5" height="3.97" fill="#62a6cd"/><rect x="647" y="236.84" width="4.5" height="3.97" fill="#66a9cf"/><rect x="650.5" y="236.84" width="4.5" height="3.97" fill="#6aabd0"/><rect x="654" y="236.84" width="4.5" height="3.97" fill="#6eaed2"/><rect x="657.5" y="236.84" width="4.5" height="3.97" fill="#72b0d3"/><rect x="661" y="236.84" width="4.5" height="3.97" fill="#77b4d5"/><rect x="664.5" y="236.84" width="4.5" height="3.97" fill="#7db8d7"/><rect x="668" y="236.84" width="4.5" height="3.97" fill="#84bcd9"/><rect x="671.5" y="236.84" width="4.5" height="3.97" fill="#8ac0db"/><rect x="675" y="236.84" width="3.5" height="3.97" fill="#90c4dd"/><rect x="535" y="239.81" width="39.5" height="3.97" fill="#df755d"/><rect x="573.5" y="239.81" width="4.5" height="3.97" fill="#fce1d1"/><rect x="577" y="239.81" width="4.5" height="3.97" fill="#edf2f5"/><rect x="580.5" y="239.81" width="4.5" height="3.97" fill="#d3e6f0"/><rect x="584" y="239.81" width="4.5" height="3.97" fill="#9bc9e0"/><rect x="587.5" y="239.81" width="4.5" height="3.97" fill="#71b0d3"/><rect x="591" y="239.81" width="4.5" height="3.97" fill="#6cadd1"/><rect x="594.5" y="239.81" width="4.5" height="3.97" fill="#69abd0"/><rect x="598" y="239.81" width="4.5" height="3.97" fill="#65a9cf"/><rect x="601.5" y="239.81" width="4.5" height="3.97" fill="#62a6ce"/><rect x="605" y="239.81" width="4.5" height="3.97" fill="#5ea4cc"/><rect x="608.5" y="239.81" width="8" height="3.97" fill="#5ba2cb"/><rect x="615.5" y="239.81" width="4.5" height="3.97" fill="#5aa2cb"/><rect x="619" y="239.81" width="4.5" height="3.97" fill="#59a1cb"/><rect x="622.5" y="239.81" width="4.5" height="3.97" fill="#59a1ca"/><rect x="626" y="239.81" width="8" height="3.97" fill="#58a0ca"/><rect x="633" y="239.81" width="4.5" height="3.97" fill="#57a0ca"/><rect x="636.5" y="239.81" width="4.5" height="3.97" fill="#5ba2cb"/><rect x="640" y="239.81" width="4.5" height="3.97" fill="#5ea4cc"/><rect x="643.5" y="239.81" width="4.5" height="3.97" fill="#62a7ce"/><rect x="647" y="239.81" width="4.5" height="3.97" fill="#66a9cf"/><rect x="650.5" y="239.81" width="4.5" height="3.97" fill="#6aacd0"/><rect x="654" y="239.81" width="4.5" height="3.97" fill="#6eaed2"/><rect x="657.5" y="239.81" width="4.5" height="3.97" fill="#72b0d3"/><rect x="661" y="239.81" width="4.5" height="3.97" fill="#77b4d5"/><rect x="664.5" y="239.81" width="4.5" height="3.97" fill="#7db8d7"/><rect x="668" y="239.81" width="4.5" height="3.97" fill="#84bcd9"/><rect x="671.5" y="239.81" width="4.5" height="3.97" fill="#8ac0db"/><rect x="675" y="239.81" width="3.5" height="3.97" fill="#90c4dd"/><rect x="535" y="242.78" width="39.5" height="3.97" fill="#67001f"/><rect x="573.5" y="242.78" width="4.5" height="3.97" fill="#df755d"/><rect x="577" y="242.78" width="8" height="3.97" fill="#fce1d1"/><rect x="584" y="242.78" width="4.5" height="3.97" fill="#dfecf3"/><rect x="587.5" y="242.78" width="4.5" height="3.97" fill="#b0d4e7"/><rect x="591" y="242.78" width="4.5" height="3.97" fill="#7bb6d6"/><rect x="594.5" y="242.78" width="4.5" height="3.97" fill="#6badd1"/><rect x="598" y="242.78" width="4.5" height="3.97" fill="#68aad0"/><rect x="601.5" y="242.78" width="4.5" height="3.97" fill="#64a8ce"/><rect x="605" y="242.78" width="4.5" height="3.97" fill="#60a6cd"/><rect x="608.5" y="242.78" width="4.5" height="3.97" fill="#5da3cc"/><rect x="612" y="242.78" width="4.5" height="3.97" fill="#5ca3cc"/><rect x="615.5" y="242.78" width="4.5" height="3.97" fill="#5ca3cb"/><rect x="619" y="242.78" width="4.5" height="3.97" fill="#5ba2cb"/><rect x="622.5" y="242.78" width="4.5" height="3.97" fill="#5aa2cb"/><rect x="626" y="242.78" width="4.5" height="3.97" fill="#59a1cb"/><rect x="629.5" y="242.78" width="4.5" height="3.97" fill="#59a1ca"/><rect x="633" y="242.78" width="4.5" height="3.97" fill="#58a0ca"/><rect x="636.5" y="242.78" width="4.5" height="3.97" fill="#5ba2cb"/><rect x="640" y="242.78" width="4.5" height="3.97" fill="#5fa5cd"/><rect x="643.5" y="242.78" width="4.5" height="3.97" fill="#63a7ce"/><rect x="647" y="242.78" width="4.5" height="3.97" fill="#66a9cf"/><rect x="650.5" y="242.78" width="4.5" height="3.97" fill="#6aacd0"/><rect x="654" y="242.78" width="4.5" height="3.97" fill="#6eaed2"/><rect x="657.5" y="242.78" width="4.5" height="3.97" fill="#72b0d3"/><rect x="661" y="242.78" width="4.5" height="3.97" fill="#77b4d5"/><rect x="664.5" y="242.78" width="4.5" height="3.97" fill="#7db8d7"/><rect x="668" y="242.78" width="4.5" height="3.97" fill="#84bcd9"/><rect x="671.5" y="242.78" width="4.5" height="3.97" fill="#8ac0db"/><rect x="675" y="242.78" width="3.5" height="3.97" fill="#90c4dd"/><rect x="535" y="245.75" width="39.5" height="3.97" fill="#0d4078"/><rect x="573.5" y="245.75" width="4.5" height="3.97" fill="#67001f"/><rect x="577" y="245.75" width="8" height="3.97" fill="#df755d"/><rect x="584" y="245.75" width="4.5" height="3.97" fill="#fce1d1"/><rect x="587.5" y="245.75" width="4.5" height="3.97" fill="#e9f0f4"/><rect x="591" y="245.75" width="4.5" height="3.97" fill="#c7e0ed"/><rect x="594.5" y="245.75" width="4.5" height="3.97" fill="#8ec2dd"/><rect x="598" y="245.75" width="4.5" height="3.97" fill="#6aacd0"/><rect x="601.5" y="245.75" width="4.5" height="3.97" fill="#67a9cf"/><rect x="605" y="245.75" width="4.5" height="3.97" fill="#63a7ce"/><rect x="608.5" y="245.75" width="4.5" height="3.97" fill="#5fa5cd"/><rect x="612" y="245.75" width="4.5" height="3.97" fill="#5ea4cc"/><rect x="615.5" y="245.75" width="4.5" height="3.97" fill="#5da4cc"/><rect x="619" y="245.75" width="4.5" height="3.97" fill="#5ca3cc"/><rect x="622.5" y="245.75" width="4.5" height="3.97" fill="#5ba3cb"/><rect x="626" y="245.75" width="4.5" height="3.97" fill="#5ba2cb"/><rect x="629.5" y="245.75" width="4.5" height="3.97" fill="#5aa1cb"/><rect x="633" y="245.75" width="4.5" height="3.97" fill="#59a1ca"/><rect x="636.5" y="245.75" width="4.5" height="3.97" fill="#5ca3cc"/><rect x="640" y="245.75" width="4.5" height="3.97" fill="#60a5cd"/><rect x="643.5" y="245.75" width="4.5" height="3.97" fill="#63a7ce"/><rect x="647" y="245.75" width="4.5" height="3.97" fill="#67aacf"/><rect x="650.5" y="245.75" width="4.5" height="3.97" fill="#6aacd0"/><rect x="654" y="245.75" width="4.5" height="3.97" fill="#6eaed2"/><rect x="657.5" y="245.75" width="4.5" height="3.97" fill="#72b1d3"/><rect x="661" y="245.75" width="4.5" height="3.97" fill="#77b4d5"/><rect x="664.5" y="245.75" width="4.5" height="3.97" fill="#7db8d7"/><rect x="668" y="245.75" width="4.5" height="3.97" fill="#84bcd9"/><rect x="671.5" y="245.75" width="4.5" height="3.97" fill="#8ac0db"/><rect x="675" y="245.75" width="3.5" height="3.97" fill="#90c4dd"/><rect x="535" y="248.72" width="4.5" height="3.97" fill="#0d4078"/><rect x="538.5" y="248.72" width="4.5" height="3.97" fill="#154e8b"/><rect x="542" y="248.72" width="4.5" height="3.97" fill="#1e60a4"/><rect x="545.5" y="248.72" width="29" height="3.97" fill="#246aae"/><rect x="573.5" y="248.72" width="4.5" height="3.97" fill="#0d4078"/><rect x="577" y="248.72" width="8" height="3.97" fill="#67001f"/><rect x="584" y="248.72" width="4.5" height="3.97" fill="#df755d"/><rect x="587.5" y="248.72" width="4.5" height="3.97" fill="#fce1d1"/><rect x="591" y="248.72" width="4.5" height="3.97" fill="#eff3f6"/><rect x="594.5" y="248.72" width="4.5" height="3.97" fill="#d9e9f1"/><rect x="598" y="248.72" width="4.5" height="3.97" fill="#a2cde3"/><rect x="601.5" y="248.72" width="4.5" height="3.97" fill="#6eaed2"/><rect x="605" y="248.72" width="4.5" height="3.97" fill="#65a8cf"/><rect x="608.5" y="248.72" width="4.5" height="3.97" fill="#61a6cd"/><rect x="612" y="248.72" width="4.5" height="3.97" fill="#60a5cd"/><rect x="615.5" y="248.72" width="4.5" height="3.97" fill="#5fa5cd"/><rect x="619" y="248.72" width="4.5" height="3.97" fill="#5ea4cc"/><rect x="622.5" y="248.72" width="4.5" height="3.97" fill="#5da3cc"/><rect x="626" y="248.72" width="4.5" height="3.97" fill="#5ca3cb"/><rect x="629.5" y="248.72" width="4.5" height="3.97" fill="#5ba2cb"/><rect x="633" y="248.72" width="4.5" height="3.97" fill="#5aa1cb"/><rect x="636.5" y="248.72" width="4.5" height="3.97" fill="#5da3cc"/><rect x="640" y="248.72" width="4.5" height="3.97" fill="#60a6cd"/><rect x="643.5" y="248.72" width="4.5" height="3.97" fill="#64a8ce"/><rect x="647" y="248.72" width="4.5" height="3.97" fill="#67aacf"/><rect x="650.5" y="248.72" width="4.5" height="3.97" fill="#6bacd1"/><rect x="654" y="248.72" width="4.5" height="3.97" fill="#6eaed2"/><rect x="657.5" y="248.72" width="4.5" height="3.97" fill="#72b1d3"/><rect x="661" y="248.72" width="4.5" height="3.97" fill="#77b4d5"/><rect x="664.5" y="248.72" width="4.5" height="3.97" fill="#7db8d7"/><rect x="668" y="248.72" width="4.5" height="3.97" fill="#84bcd9"/><rect x="671.5" y="248.72" width="4.5" height="3.97" fill="#8ac0db"/><rect x="675" y="248.72" width="3.5" height="3.97" fill="#90c4dd"/><rect x="535" y="251.69" width="4.5" height="3.97" fill="#67001f"/><rect x="538.5" y="251.69" width="8" height="3.97" fill="#0d4078"/><rect x="545.5" y="251.69" width="4.5" height="3.97" fill="#1a5898"/><rect x="549" y="251.69" width="4.5" height="3.97" fill="#2368ad"/><rect x="552.5" y="251.69" width="25.5" height="3.97" fill="#246aae"/><rect x="577" y="251.69" width="8" height="3.97" fill="#0d4078"/><rect x="584" y="251.69" width="4.5" height="3.97" fill="#67001f"/><rect x="587.5" y="251.69" width="4.5" height="3.97" fill="#df755d"/><rect x="591" y="251.69" width="8" height="3.97" fill="#fce1d1"/><rect x="598" y="251.69" width="4.5" height="3.97" fill="#e4eef4"/><rect x="601.5" y="251.69" width="4.5" height="3.97" fill="#b9d9e9"/><rect x="605" y="251.69" width="4.5" height="3.97" fill="#7db7d7"/><rect x="608.5" y="251.69" width="4.5" height="3.97" fill="#63a7ce"/><rect x="612" y="251.69" width="4.5" height="3.97" fill="#62a6cd"/><rect x="615.5" y="251.69" width="4.5" height="3.97" fill="#61a6cd"/><rect x="619" y="251.69" width="4.5" height="3.97" fill="#5fa5cd"/><rect x="622.5" y="251.69" width="4.5" height="3.97" fill="#5ea4cc"/><rect x="626" y="251.69" width="4.5" height="3.97" fill="#5da4cc"/><rect x="629.5" y="251.69" width="4.5" height="3.97" fill="#5ca3cc"/><rect x="633" y="251.69" width="4.5" height="3.97" fill="#5ba2cb"/><rect x="636.5" y="251.69" width="4.5" height="3.97" fill="#5ea4cc"/><rect x="640" y="251.69" width="4.5" height="3.97" fill="#61a6cd"/><rect x="643.5" y="251.69" width="4.5" height="3.97" fill="#65a8ce"/><rect x="647" y="251.69" width="4.5" height="3.97" fill="#68aad0"/><rect x="650.5" y="251.69" width="4.5" height="3.97" fill="#6bacd1"/><rect x="654" y="251.69" width="4.5" height="3.97" fill="#6fafd2"/><rect x="657.5" y="251.69" width="4.5" height="3.97" fill="#72b1d3"/><rect x="661" y="251.69" width="4.5" height="3.97" fill="#77b4d5"/><rect x="664.5" y="251.69" width="4.5" height="3.97" fill="#7eb8d7"/><rect x="668" y="251.69" width="4.5" height="3.97" fill="#84bcd9"/><rect x="671.5" y="251.69" width="4.5" height="3.97" fill="#8ac0db"/><rect x="675" y="251.69" width="3.5" height="3.97" fill="#90c4dd"/><rect x="535" y="254.66" width="4.5" height="3.97" fill="#dc6e58"/><rect x="538.5" y="254.66" width="8" height="3.97" fill="#67001f"/><rect x="545.5" y="254.66" width="4.5" height="3.97" fill="#0d4078"/><rect x="549" y="254.66" width="4.5" height="3.97" fill="#16518f"/><rect x="552.5" y="254.66" width="4.5" height="3.97" fill="#2065aa"/><rect x="556" y="254.66" width="29" height="3.97" fill="#246aae"/><rect x="584" y="254.66" width="4.5" height="3.97" fill="#0d4078"/><rect x="587.5" y="254.66" width="4.5" height="3.97" fill="#67001f"/><rect x="591" y="254.66" width="8" height="3.97" fill="#df755d"/><rect x="598" y="254.66" width="4.5" height="3.97" fill="#fce1d1"/><rect x="601.5" y="254.66" width="4.5" height="3.97" fill="#edf2f5"/><rect x="605" y="254.66" width="4.5" height="3.97" fill="#d1e5f0"/><rect x="608.5" y="254.66" width="4.5" height="3.97" fill="#8fc3dd"/><rect x="612" y="254.66" width="4.5" height="3.97" fill="#65a9cf"/><rect x="615.5" y="254.66" width="4.5" height="3.97" fill="#64a8ce"/><rect x="619" y="254.66" width="4.5" height="3.97" fill="#63a7ce"/><rect x="622.5" y="254.66" width="4.5" height="3.97" fill="#62a6cd"/><rect x="626" y="254.66" width="4.5" height="3.97" fill="#60a6cd"/><rect x="629.5" y="254.66" width="4.5" height="3.97" fill="#5fa5cd"/><rect x="633" y="254.66" width="4.5" height="3.97" fill="#5ea4cc"/><rect x="636.5" y="254.66" width="4.5" height="3.97" fill="#61a6cd"/><rect x="640" y="254.66" width="4.5" height="3.97" fill="#64a8ce"/><rect x="643.5" y="254.66" width="4.5" height="3.97" fill="#68aad0"/><rect x="647" y="254.66" width="4.5" height="3.97" fill="#6bacd1"/><rect x="650.5" y="254.66" width="4.5" height="3.97" fill="#6fafd2"/><rect x="654" y="254.66" width="4.5" height="3.97" fill="#72b1d3"/><rect x="657.5" y="254.66" width="4.5" height="3.97" fill="#76b3d4"/><rect x="661" y="254.66" width="4.5" height="3.97" fill="#7bb7d6"/><rect x="664.5" y="254.66" width="4.5" height="3.97" fill="#81bad8"/><rect x="668" y="254.66" width="4.5" height="3.97" fill="#87beda"/><rect x="671.5" y="254.66" width="4.5" height="3.97" fill="#8ec2dd"/><rect x="675" y="254.66" width="3.5" height="3.97" fill="#93c6de"/><rect x="535" y="257.63" width="4.5" height="3.97" fill="#fbd0b9"/><rect x="538.5" y="257.63" width="8" height="3.97" fill="#dc6e58"/><rect x="545.5" y="257.63" width="4.5" height="3.97" fill="#67001f"/><rect x="549" y="257.63" width="8" height="3.97" fill="#0d4078"/><rect x="556" y="257.63" width="4.5" height="3.97" fill="#1e61a5"/><rect x="559.5" y="257.63" width="25.5" height="3.97" fill="#246aae"/><rect x="584" y="257.63" width="4.5" height="3.97" fill="#337eb8"/><rect x="587.5" y="257.63" width="4.5" height="3.97" fill="#0d4078"/><rect x="591" y="257.63" width="8" height="3.97" fill="#67001f"/><rect x="598" y="257.63" width="4.5" height="3.97" fill="#df755d"/><rect x="601.5" y="257.63" width="8" height="3.97" fill="#fce1d1"/><rect x="608.5" y="257.63" width="4.5" height="3.97" fill="#dceaf2"/><rect x="612" y="257.63" width="4.5" height="3.97" fill="#99c9e0"/><rect x="615.5" y="257.63" width="4.5" height="3.97" fill="#67aacf"/><rect x="619" y="257.63" width="4.5" height="3.97" fill="#66a9cf"/><rect x="622.5" y="257.63" width="4.5" height="3.97" fill="#65a8cf"/><rect x="626" y="257.63" width="4.5" height="3.97" fill="#63a7ce"/><rect x="629.5" y="257.63" width="4.5" height="3.97" fill="#62a7ce"/><rect x="633" y="257.63" width="4.5" height="3.97" fill="#61a6cd"/><rect x="636.5" y="257.63" width="4.5" height="3.97" fill="#64a8ce"/><rect x="640" y="257.63" width="4.5" height="3.97" fill="#67aacf"/><rect x="643.5" y="257.63" width="4.5" height="3.97" fill="#6bacd1"/><rect x="647" y="257.63" width="4.5" height="3.97" fill="#6fafd2"/><rect x="650.5" y="257.63" width="4.5" height="3.97" fill="#72b1d3"/><rect x="654" y="257.63" width="4.5" height="3.97" fill="#76b3d4"/><rect x="657.5" y="257.63" width="4.5" height="3.97" fill="#79b5d6"/><rect x="661" y="257.63" width="4.5" height="3.97" fill="#7fb9d7"/><rect x="664.5" y="257.63" width="4.5" height="3.97" fill="#85bdda"/><rect x="668" y="257.63" width="4.5" height="3.97" fill="#8bc1dc"/><rect x="671.5" y="257.63" width="4.5" height="3.97" fill="#91c5de"/><rect x="675" y="257.63" width="3.5" height="3.97" fill="#96c7df"/><rect x="535" y="260.6" width="4.5" height="3.97" fill="#f9ece4"/><rect x="538.5" y="260.6" width="4.5" height="3.97" fill="#fddbc8"/><rect x="542" y="260.6" width="4.5" height="3.97" fill="#fbd0b9"/><rect x="545.5" y="260.6" width="4.5" height="3.97" fill="#dc6e58"/><rect x="549" y="260.6" width="8" height="3.97" fill="#67001f"/><rect x="556" y="260.6" width="4.5" height="3.97" fill="#0d4078"/><rect x="559.5" y="260.6" width="4.5" height="3.97" fill="#1c5c9e"/><rect x="563" y="260.6" width="22" height="3.97" fill="#246aae"/><rect x="584" y="260.6" width="4.5" height="3.97" fill="#327db8"/><rect x="587.5" y="260.6" width="4.5" height="3.97" fill="#337eb8"/><rect x="591" y="260.6" width="8" height="3.97" fill="#0d4078"/><rect x="598" y="260.6" width="4.5" height="3.97" fill="#67001f"/><rect x="601.5" y="260.6" width="8" height="3.97" fill="#df755d"/><rect x="608.5" y="260.6" width="4.5" height="3.97" fill="#fce1d1"/><rect x="612" y="260.6" width="4.5" height="3.97" fill="#e1ecf3"/><rect x="615.5" y="260.6" width="4.5" height="3.97" fill="#a3cee3"/><rect x="619" y="260.6" width="4.5" height="3.97" fill="#6bacd1"/><rect x="622.5" y="260.6" width="4.5" height="3.97" fill="#68aad0"/><rect x="626" y="260.6" width="4.5" height="3.97" fill="#66a9cf"/><rect x="629.5" y="260.6" width="4.5" height="3.97" fill="#65a8cf"/><rect x="633" y="260.6" width="4.5" height="3.97" fill="#63a8ce"/><rect x="636.5" y="260.6" width="4.5" height="3.97" fill="#67aacf"/><rect x="640" y="260.6" width="4.5" height="3.97" fill="#6aacd0"/><rect x="643.5" y="260.6" width="4.5" height="3.97" fill="#6eaed2"/><rect x="647" y="260.6" width="4.5" height="3.97" fill="#72b1d3"/><rect x="650.5" y="260.6" width="4.5" height="3.97" fill="#76b3d4"/><rect x="654" y="260.6" width="4.5" height="3.97" fill="#79b5d6"/><rect x="657.5" y="260.6" width="4.5" height="3.97" fill="#7db8d7"/><rect x="661" y="260.6" width="4.5" height="3.97" fill="#83bbd9"/><rect x="664.5" y="260.6" width="4.5" height="3.97" fill="#89bfdb"/><rect x="668" y="260.6" width="4.5" height="3.97" fill="#8fc3dd"/><rect x="671.5" y="260.6" width="4.5" height="3.97" fill="#95c6df"/><rect x="675" y="260.6" width="3.5" height="3.97" fill="#99c9e0"/><rect x="535" y="263.57" width="4.5" height="3.97" fill="#f4f6f6"/><rect x="538.5" y="263.57" width="4.5" height="3.97" fill="#f8f3ef"/><rect x="542" y="263.57" width="4.5" height="3.97" fill="#f9ece4"/><rect x="545.5" y="263.57" width="4.5" height="3.97" fill="#fbd0b9"/><rect x="549" y="263.57" width="8" height="3.97" fill="#dc6e58"/><rect x="556" y="263.57" width="4.5" height="3.97" fill="#67001f"/><rect x="559.5" y="263.57" width="4.5" height="3.97" fill="#0d4078"/><rect x="563" y="263.57" width="4.5" height="3.97" fill="#195696"/><rect x="566.5" y="263.57" width="4.5" height="3.97" fill="#2166ac"/><rect x="570" y="263.57" width="15" height="3.97" fill="#246aae"/><rect x="584" y="263.57" width="4.5" height="3.97" fill="#317bb7"/><rect x="587.5" y="263.57" width="4.5" height="3.97" fill="#327db8"/><rect x="591" y="263.57" width="8" height="3.97" fill="#337eb8"/><rect x="598" y="263.57" width="4.5" height="3.97" fill="#0d4078"/><rect x="601.5" y="263.57" width="8" height="3.97" fill="#67001f"/><rect x="608.5" y="263.57" width="4.5" height="3.97" fill="#df755d"/><rect x="612" y="263.57" width="4.5" height="3.97" fill="#fce1d1"/><rect x="615.5" y="263.57" width="4.5" height="3.97" fill="#e5eff4"/><rect x="619" y="263.57" width="4.5" height="3.97" fill="#add3e6"/><rect x="622.5" y="263.57" width="4.5" height="3.97" fill="#74b2d4"/><rect x="626" y="263.57" width="4.5" height="3.97" fill="#6aabd0"/><rect x="629.5" y="263.57" width="4.5" height="3.97" fill="#68aad0"/><rect x="633" y="263.57" width="4.5" height="3.97" fill="#66a9cf"/><rect x="636.5" y="263.57" width="4.5" height="3.97" fill="#6aabd0"/><rect x="640" y="263.57" width="4.5" height="3.97" fill="#6eaed2"/><rect x="643.5" y="263.57" width="4.5" height="3.97" fill="#71b0d3"/><rect x="647" y="263.57" width="4.5" height="3.97" fill="#75b3d4"/><rect x="650.5" y="263.57" width="4.5" height="3.97" fill="#79b5d5"/><rect x="654" y="263.57" width="4.5" height="3.97" fill="#7db8d7"/><rect x="657.5" y="263.57" width="4.5" height="3.97" fill="#81bad8"/><rect x="661" y="263.57" width="4.5" height="3.97" fill="#86beda"/><rect x="664.5" y="263.57" width="4.5" height="3.97" fill="#8dc2dc"/><rect x="668" y="263.57" width="4.5" height="3.97" fill="#93c5de"/><rect x="671.5" y="263.57" width="4.5" height="3.97" fill="#98c8e0"/><rect x="675" y="263.57" width="3.5" height="3.97" fill="#9ccae1"/><rect x="535" y="266.54" width="8" height="3.97" fill="#f3f5f6"/><rect x="542" y="266.54" width="4.5" height="3.97" fill="#f5f6f7"/><rect x="545.5" y="266.54" width="4.5" height="3.97" fill="#f9ece4"/><rect x="549" y="266.54" width="8" height="3.97" fill="#fbd0b9"/><rect x="556" y="266.54" width="4.5" height="3.97" fill="#dc6e58"/><rect x="559.5" y="266.54" width="4.5" height="3.97" fill="#67001f"/><rect x="563" y="266.54" width="8" height="3.97" fill="#0d4078"/><rect x="570" y="266.54" width="4.5" height="3.97" fill="#1d5ea1"/><rect x="573.5" y="266.54" width="11.5" height="3.97" fill="#246aae"/><rect x="584" y="266.54" width="4.5" height="3.97" fill="#2f79b5"/><rect x="587.5" y="266.54" width="4.5" height="3.97" fill="#317cb7"/><rect x="591" y="266.54" width="4.5" height="3.97" fill="#327db8"/><rect x="594.5" y="266.54" width="8" height="3.97" fill="#337eb8"/><rect x="601.5" y="266.54" width="8" height="3.97" fill="#0d4078"/><rect x="608.5" y="266.54" width="4.5" height="3.97" fill="#67001f"/><rect x="612" y="266.54" width="4.5" height="3.97" fill="#df755d"/><rect x="615.5" y="266.54" width="4.5" height="3.97" fill="#fce1d1"/><rect x="619" y="266.54" width="4.5" height="3.97" fill="#e9f0f4"/><rect x="622.5" y="266.54" width="4.5" height="3.97" fill="#c0dceb"/><rect x="626" y="266.54" width="4.5" height="3.97" fill="#82bbd8"/><rect x="629.5" y="266.54" width="4.5" height="3.97" fill="#6bacd1"/><rect x="633" y="266.54" width="4.5" height="3.97" fill="#69abd0"/><rect x="636.5" y="266.54" width="4.5" height="3.97" fill="#6dadd1"/><rect x="640" y="266.54" width="4.5" height="3.97" fill="#71b0d3"/><rect x="643.5" y="266.54" width="4.5" height="3.97" fill="#75b2d4"/><rect x="647" y="266.54" width="4.5" height="3.97" fill="#79b5d5"/><rect x="650.5" y="266.54" width="4.5" height="3.97" fill="#7db7d7"/><rect x="654" y="266.54" width="4.5" height="3.97" fill="#81bad8"/><rect x="657.5" y="266.54" width="4.5" height="3.97" fill="#85bcd9"/><rect x="661" y="266.54" width="4.5" height="3.97" fill="#8ac0db"/><rect x="664.5" y="266.54" width="4.5" height="3.97" fill="#90c4dd"/><rect x="668" y="266.54" width="4.5" height="3.97" fill="#96c7df"/><rect x="671.5" y="266.54" width="4.5" height="3.97" fill="#9ac9e0"/><rect x="675" y="266.54" width="3.5" height="3.97" fill="#9fcce2"/><rect x="535" y="269.51" width="4.5" height="3.97" fill="#f6f7f7"/><rect x="538.5" y="269.51" width="4.5" height="3.97" fill="#f4f5f6"/><rect x="542" y="269.51" width="4.5" height="3.97" fill="#f2f5f6"/><rect x="545.5" y="269.51" width="4.5" height="3.97" fill="#f3f5f6"/><rect x="549" y="269.51" width="8" height="3.97" fill="#f9ece4"/><rect x="556" y="269.51" width="4.5" height="3.97" fill="#fbd0b9"/><rect x="559.5" y="269.51" width="4.5" height="3.97" fill="#dc6e58"/><rect x="563" y="269.51" width="8" height="3.97" fill="#67001f"/><rect x="570" y="269.51" width="4.5" height="3.97" fill="#0d4078"/><rect x="573.5" y="269.51" width="4.5" height="3.97" fill="#185493"/><rect x="577" y="269.51" width="4.5" height="3.97" fill="#2064a9"/><rect x="580.5" y="269.51" width="4.5" height="3.97" fill="#246aae"/><rect x="584" y="269.51" width="4.5" height="3.97" fill="#2b73b3"/><rect x="587.5" y="269.51" width="4.5" height="3.97" fill="#2f79b6"/><rect x="591" y="269.51" width="4.5" height="3.97" fill="#317cb7"/><rect x="594.5" y="269.51" width="4.5" height="3.97" fill="#327db8"/><rect x="598" y="269.51" width="4.5" height="3.97" fill="#337eb8"/><rect x="601.5" y="269.51" width="4.5" height="3.97" fill="#347eb9"/><rect x="605" y="269.51" width="4.5" height="3.97" fill="#347fb9"/><rect x="608.5" y="269.51" width="4.5" height="3.97" fill="#0d4078"/><rect x="612" y="269.51" width="4.5" height="3.97" fill="#67001f"/><rect x="615.5" y="269.51" width="4.5" height="3.97" fill="#df755d"/><rect x="619" y="269.51" width="4.5" height="3.97" fill="#fce1d1"/><rect x="622.5" y="269.51" width="4.5" height="3.97" fill="#eef3f5"/><rect x="626" y="269.51" width="4.5" height="3.97" fill="#d2e5f0"/><rect x="629.5" y="269.51" width="4.5" height="3.97" fill="#93c6de"/><rect x="633" y="269.51" width="4.5" height="3.97" fill="#6cadd1"/><rect x="636.5" y="269.51" width="4.5" height="3.97" fill="#70afd2"/><rect x="640" y="269.51" width="4.5" height="3.97" fill="#74b2d4"/><rect x="643.5" y="269.51" width="4.5" height="3.97" fill="#78b4d5"/><rect x="647" y="269.51" width="4.5" height="3.97" fill="#7cb7d6"/><rect x="650.5" y="269.51" width="4.5" height="3.97" fill="#80bad8"/><rect x="654" y="269.51" width="4.5" height="3.97" fill="#84bcd9"/><rect x="657.5" y="269.51" width="4.5" height="3.97" fill="#88bfdb"/><rect x="661" y="269.51" width="4.5" height="3.97" fill="#8ec2dd"/><rect x="664.5" y="269.51" width="4.5" height="3.97" fill="#94c6de"/><rect x="668" y="269.51" width="4.5" height="3.97" fill="#99c8e0"/><rect x="671.5" y="269.51" width="4.5" height="3.97" fill="#9dcbe1"/><rect x="675" y="269.51" width="3.5" height="3.97" fill="#a2cde3"/><rect x="535" y="272.48" width="4.5" height="3.97" fill="#f7f7f7"/><rect x="538.5" y="272.48" width="4.5" height="3.97" fill="#f6f7f7"/><rect x="542" y="272.48" width="4.5" height="3.97" fill="#f5f6f7"/><rect x="545.5" y="272.48" width="4.5" height="3.97" fill="#f3f5f6"/><rect x="549" y="272.48" width="4.5" height="3.97" fill="#f2f5f6"/><rect x="552.5" y="272.48" width="4.5" height="3.97" fill="#f6f7f7"/><rect x="556" y="272.48" width="4.5" height="3.97" fill="#f9ece4"/><rect x="559.5" y="272.48" width="4.5" height="3.97" fill="#fbd0b9"/><rect x="563" y="272.48" width="8" height="3.97" fill="#dc6e58"/><rect x="570" y="272.48" width="4.5" height="3.97" fill="#67001f"/><rect x="573.5" y="272.48" width="8" height="3.97" fill="#0d4078"/><rect x="580.5" y="272.48" width="4.5" height="3.97" fill="#1c5c9e"/><rect x="584" y="272.48" width="4.5" height="3.97" fill="#2369ae"/><rect x="587.5" y="272.48" width="4.5" height="3.97" fill="#2b73b3"/><rect x="591" y="272.48" width="4.5" height="3.97" fill="#2f79b6"/><rect x="594.5" y="272.48" width="4.5" height="3.97" fill="#317cb7"/><rect x="598" y="272.48" width="4.5" height="3.97" fill="#337db8"/><rect x="601.5" y="272.48" width="4.5" height="3.97" fill="#337eb8"/><rect x="605" y="272.48" width="8" height="3.97" fill="#347fb9"/><rect x="612" y="272.48" width="4.5" height="3.97" fill="#0d4078"/><rect x="615.5" y="272.48" width="4.5" height="3.97" fill="#67001f"/><rect x="619" y="272.48" width="4.5" height="3.97" fill="#df755d"/><rect x="622.5" y="272.48" width="8" height="3.97" fill="#fce1d1"/><rect x="629.5" y="272.48" width="4.5" height="3.97" fill="#dceaf2"/><rect x="633" y="272.48" width="4.5" height="3.97" fill="#a3cee3"/><rect x="636.5" y="272.48" width="4.5" height="3.97" fill="#75b3d4"/><rect x="640" y="272.48" width="4.5" height="3.97" fill="#77b4d5"/><rect x="643.5" y="272.48" width="4.5" height="3.97" fill="#7bb6d6"/><rect x="647" y="272.48" width="4.5" height="3.97" fill="#7fb9d8"/><rect x="650.5" y="272.48" width="4.5" height="3.97" fill="#83bcd9"/><rect x="654" y="272.48" width="4.5" height="3.97" fill="#88bfda"/><rect x="657.5" y="272.48" width="4.5" height="3.97" fill="#8cc1dc"/><rect x="661" y="272.48" width="4.5" height="3.97" fill="#92c5de"/><rect x="664.5" y="272.48" width="4.5" height="3.97" fill="#97c7df"/><rect x="668" y="272.48" width="4.5" height="3.97" fill="#9ccae1"/><rect x="671.5" y="272.48" width="4.5" height="3.97" fill="#a0cce2"/><rect x="675" y="272.48" width="3.5" height="3.97" fill="#a5cfe4"/><rect x="535" y="275.45" width="11.5" height="3.97" fill="#f7f7f7"/><rect x="545.5" y="275.45" width="4.5" height="3.97" fill="#f6f7f7"/><rect x="549" y="275.45" width="4.5" height="3.97" fill="#f3f5f6"/><rect x="552.5" y="275.45" width="4.5" height="3.97" fill="#f1f4f6"/><rect x="556" y="275.45" width="4.5" height="3.97" fill="#f5f6f7"/><rect x="559.5" y="275.45" width="4.5" height="3.97" fill="#f9ece4"/><rect x="563" y="275.45" width="8" height="3.97" fill="#fbd0b9"/><rect x="570" y="275.45" width="4.5" height="3.97" fill="#dc6e58"/><rect x="573.5" y="275.45" width="8" height="3.97" fill="#67001f"/><rect x="580.5" y="275.45" width="4.5" height="3.97" fill="#0d4078"/><rect x="584" y="275.45" width="4.5" height="3.97" fill="#175391"/><rect x="587.5" y="275.45" width="4.5" height="3.97" fill="#246aae"/><rect x="591" y="275.45" width="4.5" height="3.97" fill="#2b74b3"/><rect x="594.5" y="275.45" width="4.5" height="3.97" fill="#2f79b6"/><rect x="598" y="275.45" width="4.5" height="3.97" fill="#327cb7"/><rect x="601.5" y="275.45" width="8" height="3.97" fill="#337eb8"/><rect x="608.5" y="275.45" width="8" height="3.97" fill="#347fb9"/><rect x="615.5" y="275.45" width="4.5" height="3.97" fill="#0d4078"/><rect x="619" y="275.45" width="4.5" height="3.97" fill="#67001f"/><rect x="622.5" y="275.45" width="8" height="3.97" fill="#df755d"/><rect x="629.5" y="275.45" width="4.5" height="3.97" fill="#fce1d1"/><rect x="633" y="275.45" width="4.5" height="3.97" fill="#e5eef4"/><rect x="636.5" y="275.45" width="4.5" height="3.97" fill="#b6d7e8"/><rect x="640" y="275.45" width="4.5" height="3.97" fill="#7bb7d6"/><rect x="643.5" y="275.45" width="4.5" height="3.97" fill="#7eb8d7"/><rect x="647" y="275.45" width="4.5" height="3.97" fill="#83bbd9"/><rect x="650.5" y="275.45" width="4.5" height="3.97" fill="#87beda"/><rect x="654" y="275.45" width="4.5" height="3.97" fill="#8bc1dc"/><rect x="657.5" y="275.45" width="4.5" height="3.97" fill="#90c4dd"/><rect x="661" y="275.45" width="4.5" height="3.97" fill="#95c6df"/><rect x="664.5" y="275.45" width="4.5" height="3.97" fill="#9ac9e0"/><rect x="668" y="275.45" width="4.5" height="3.97" fill="#9fcbe2"/><rect x="671.5" y="275.45" width="4.5" height="3.97" fill="#a3cee3"/><rect x="675" y="275.45" width="3.5" height="3.97" fill="#a8d0e4"/><rect x="535" y="278.42" width="4.5" height="3.97" fill="#f2f5f6"/><rect x="538.5" y="278.42" width="4.5" height="3.97" fill="#f0f4f6"/><rect x="542" y="278.42" width="4.5" height="3.97" fill="#eff3f5"/><rect x="545.5" y="278.42" width="4.5" height="3.97" fill="#edf2f5"/><rect x="549" y="278.42" width="4.5" height="3.97" fill="#eaf1f5"/><rect x="552.5" y="278.42" width="4.5" height="3.97" fill="#e9f0f4"/><rect x="556" y="278.42" width="4.5" height="3.97" fill="#ebf1f5"/><rect x="559.5" y="278.42" width="4.5" height="3.97" fill="#f3f5f6"/><rect x="563" y="278.42" width="8" height="3.97" fill="#f9ece4"/><rect x="570" y="278.42" width="4.5" height="3.97" fill="#fbd0b9"/><rect x="573.5" y="278.42" width="8" height="3.97" fill="#dc6e58"/><rect x="580.5" y="278.42" width="4.5" height="3.97" fill="#67001f"/><rect x="584" y="278.42" width="4.5" height="3.97" fill="#0d4078"/><rect x="587.5" y="278.42" width="4.5" height="3.97" fill="#185493"/><rect x="591" y="278.42" width="4.5" height="3.97" fill="#246aae"/><rect x="594.5" y="278.42" width="4.5" height="3.97" fill="#2c74b3"/><rect x="598" y="278.42" width="4.5" height="3.97" fill="#307ab6"/><rect x="601.5" y="278.42" width="4.5" height="3.97" fill="#327db8"/><rect x="605" y="278.42" width="4.5" height="3.97" fill="#337eb8"/><rect x="608.5" y="278.42" width="4.5" height="3.97" fill="#337eb9"/><rect x="612" y="278.42" width="8" height="3.97" fill="#347fb9"/><rect x="619" y="278.42" width="4.5" height="3.97" fill="#0d4078"/><rect x="622.5" y="278.42" width="8" height="3.97" fill="#67001f"/><rect x="629.5" y="278.42" width="4.5" height="3.97" fill="#df755d"/><rect x="633" y="278.42" width="4.5" height="3.97" fill="#fce1d1"/><rect x="636.5" y="278.42" width="4.5" height="3.97" fill="#ebf1f5"/><rect x="640" y="278.42" width="4.5" height="3.97" fill="#b9d9e9"/><rect x="643.5" y="278.42" width="4.5" height="3.97" fill="#89bfdb"/><rect x="647" y="278.42" width="4.5" height="3.97" fill="#8cc1dc"/><rect x="650.5" y="278.42" width="4.5" height="3.97" fill="#8fc3dd"/><rect x="654" y="278.42" width="4.5" height="3.97" fill="#93c5de"/><rect x="657.5" y="278.42" width="4.5" height="3.97" fill="#95c7df"/><rect x="661" y="278.42" width="4.5" height="3.97" fill="#9ac9e0"/><rect x="664.5" y="278.42" width="4.5" height="3.97" fill="#9ecbe1"/><rect x="668" y="278.42" width="4.5" height="3.97" fill="#a3cde3"/><rect x="671.5" y="278.42" width="4.5" height="3.97" fill="#a7d0e4"/><rect x="675" y="278.42" width="3.5" height="3.97" fill="#acd2e5"/><rect x="535" y="281.39" width="4.5" height="3.97" fill="#ebf1f5"/><rect x="538.5" y="281.39" width="4.5" height="3.97" fill="#e6eff4"/><rect x="542" y="281.39" width="4.5" height="3.97" fill="#e1edf3"/><rect x="545.5" y="281.39" width="4.5" height="3.97" fill="#dceaf2"/><rect x="549" y="281.39" width="4.5" height="3.97" fill="#d9e9f1"/><rect x="552.5" y="281.39" width="8" height="3.97" fill="#d6e7f1"/><rect x="559.5" y="281.39" width="4.5" height="3.97" fill="#dfecf3"/><rect x="563" y="281.39" width="4.5" height="3.97" fill="#edf2f5"/><rect x="566.5" y="281.39" width="4.5" height="3.97" fill="#f6f7f7"/><rect x="570" y="281.39" width="4.5" height="3.97" fill="#f9ece4"/><rect x="573.5" y="281.39" width="8" height="3.97" fill="#fbd0b9"/><rect x="580.5" y="281.39" width="4.5" height="3.97" fill="#dc6e58"/><rect x="584" y="281.39" width="4.5" height="3.97" fill="#67001f"/><rect x="587.5" y="281.39" width="4.5" height="3.97" fill="#0d4078"/><rect x="591" y="281.39" width="4.5" height="3.97" fill="#195695"/><rect x="594.5" y="281.39" width="4.5" height="3.97" fill="#256baf"/><rect x="598" y="281.39" width="4.5" height="3.97" fill="#2d76b4"/><rect x="601.5" y="281.39" width="4.5" height="3.97" fill="#317bb7"/><rect x="605" y="281.39" width="8" height="3.97" fill="#337eb8"/><rect x="612" y="281.39" width="11.5" height="3.97" fill="#347fb9"/><rect x="622.5" y="281.39" width="8" height="3.97" fill="#0d4078"/><rect x="629.5" y="281.39" width="4.5" height="3.97" fill="#67001f"/><rect x="633" y="281.39" width="4.5" height="3.97" fill="#df755d"/><rect x="636.5" y="281.39" width="4.5" height="3.97" fill="#fce1d1"/><rect x="640" y="281.39" width="4.5" height="3.97" fill="#eaf1f5"/><rect x="643.5" y="281.39" width="4.5" height="3.97" fill="#bedbea"/><rect x="647" y="281.39" width="4.5" height="3.97" fill="#97c7df"/><rect x="650.5" y="281.39" width="4.5" height="3.97" fill="#98c8e0"/><rect x="654" y="281.39" width="4.5" height="3.97" fill="#9ac9e0"/><rect x="657.5" y="281.39" width="4.5" height="3.97" fill="#9ccae1"/><rect x="661" y="281.39" width="4.5" height="3.97" fill="#9fcce2"/><rect x="664.5" y="281.39" width="4.5" height="3.97" fill="#a3cee3"/><rect x="668" y="281.39" width="4.5" height="3.97" fill="#a7d0e4"/><rect x="671.5" y="281.39" width="4.5" height="3.97" fill="#abd2e5"/><rect x="675" y="281.39" width="3.5" height="3.97" fill="#afd4e6"/><rect x="535" y="284.36" width="4.5" height="3.97" fill="#e4eef4"/><rect x="538.5" y="284.36" width="4.5" height="3.97" fill="#dceaf2"/><rect x="542" y="284.36" width="4.5" height="3.97" fill="#d4e6f1"/><rect x="545.5" y="284.36" width="4.5" height="3.97" fill="#c9e1ee"/><rect x="549" y="284.36" width="4.5" height="3.97" fill="#c1ddeb"/><rect x="552.5" y="284.36" width="4.5" height="3.97" fill="#bbdaea"/><rect x="556" y="284.36" width="4.5" height="3.97" fill="#b5d7e8"/><rect x="559.5" y="284.36" width="4.5" height="3.97" fill="#b6d7e8"/><rect x="563" y="284.36" width="4.5" height="3.97" fill="#d1e5f0"/><rect x="566.5" y="284.36" width="4.5" height="3.97" fill="#e2edf3"/><rect x="570" y="284.36" width="4.5" height="3.97" fill="#f1f4f6"/><rect x="573.5" y="284.36" width="8" height="3.97" fill="#f9ece4"/><rect x="580.5" y="284.36" width="4.5" height="3.97" fill="#fbd0b9"/><rect x="584" y="284.36" width="4.5" height="3.97" fill="#dc6e58"/><rect x="587.5" y="284.36" width="4.5" height="3.97" fill="#67001f"/><rect x="591" y="284.36" width="4.5" height="3.97" fill="#0d4078"/><rect x="594.5" y="284.36" width="4.5" height="3.97" fill="#195797"/><rect x="598" y="284.36" width="4.5" height="3.97" fill="#276eb0"/><rect x="601.5" y="284.36" width="4.5" height="3.97" fill="#2f79b6"/><rect x="605" y="284.36" width="4.5" height="3.97" fill="#327cb7"/><rect x="608.5" y="284.36" width="8" height="3.97" fill="#337eb8"/><rect x="615.5" y="284.36" width="15" height="3.97" fill="#347fb9"/><rect x="629.5" y="284.36" width="4.5" height="3.97" fill="#0d4078"/><rect x="633" y="284.36" width="4.5" height="3.97" fill="#67001f"/><rect x="636.5" y="284.36" width="4.5" height="3.97" fill="#df755d"/><rect x="640" y="284.36" width="4.5" height="3.97" fill="#fce1d1"/><rect x="643.5" y="284.36" width="4.5" height="3.97" fill="#eaf1f5"/><rect x="647" y="284.36" width="4.5" height="3.97" fill="#c2ddec"/><rect x="650.5" y="284.36" width="4.5" height="3.97" fill="#a1cde2"/><rect x="654" y="284.36" width="4.5" height="3.97" fill="#a2cde2"/><rect x="657.5" y="284.36" width="4.5" height="3.97" fill="#a2cde3"/><rect x="661" y="284.36" width="4.5" height="3.97" fill="#a5cfe3"/><rect x="664.5" y="284.36" width="4.5" height="3.97" fill="#a8d0e4"/><rect x="668" y="284.36" width="4.5" height="3.97" fill="#acd2e5"/><rect x="671.5" y="284.36" width="4.5" height="3.97" fill="#afd4e6"/><rect x="675" y="284.36" width="3.5" height="3.97" fill="#b2d5e7"/><rect x="535" y="287.33" width="4.5" height="3.97" fill="#ddebf2"/><rect x="538.5" y="287.33" width="4.5" height="3.97" fill="#d2e5f0"/><rect x="542" y="287.33" width="4.5" height="3.97" fill="#c0dceb"/><rect x="545.5" y="287.33" width="4.5" height="3.97" fill="#aed3e6"/><rect x="549" y="287.33" width="4.5" height="3.97" fill="#a4cee3"/><rect x="552.5" y="287.33" width="4.5" height="3.97" fill="#9dcbe1"/><rect x="556" y="287.33" width="4.5" height="3.97" fill="#96c7df"/><rect x="559.5" y="287.33" width="4.5" height="3.97" fill="#94c6df"/><rect x="563" y="287.33" width="4.5" height="3.97" fill="#9bcae1"/><rect x="566.5" y="287.33" width="4.5" height="3.97" fill="#b4d6e8"/><rect x="570" y="287.33" width="4.5" height="3.97" fill="#d4e6f0"/><rect x="573.5" y="287.33" width="4.5" height="3.97" fill="#e8f0f4"/><rect x="577" y="287.33" width="4.5" height="3.97" fill="#f5f6f7"/><rect x="580.5" y="287.33" width="4.5" height="3.97" fill="#f9ece4"/><rect x="584" y="287.33" width="4.5" height="3.97" fill="#fbd0b9"/><rect x="587.5" y="287.33" width="4.5" height="3.97" fill="#dc6e58"/><rect x="591" y="287.33" width="4.5" height="3.97" fill="#67001f"/><rect x="594.5" y="287.33" width="4.5" height="3.97" fill="#0d4078"/><rect x="598" y="287.33" width="4.5" height="3.97" fill="#1d5ea1"/><rect x="601.5" y="287.33" width="4.5" height="3.97" fill="#2b73b3"/><rect x="605" y="287.33" width="4.5" height="3.97" fill="#307ab6"/><rect x="608.5" y="287.33" width="4.5" height="3.97" fill="#327db8"/><rect x="612" y="287.33" width="8" height="3.97" fill="#337eb8"/><rect x="619" y="287.33" width="4.5" height="3.97" fill="#337eb9"/><rect x="622.5" y="287.33" width="11.5" height="3.97" fill="#347fb9"/><rect x="633" y="287.33" width="4.5" height="3.97" fill="#0d4078"/><rect x="636.5" y="287.33" width="4.5" height="3.97" fill="#67001f"/><rect x="640" y="287.33" width="4.5" height="3.97" fill="#df755d"/><rect x="643.5" y="287.33" width="4.5" height="3.97" fill="#fce1d1"/><rect x="647" y="287.33" width="4.5" height="3.97" fill="#e9f0f4"/><rect x="650.5" y="287.33" width="4.5" height="3.97" fill="#c5dfed"/><rect x="654" y="287.33" width="8" height="3.97" fill="#a9d1e5"/><rect x="661" y="287.33" width="4.5" height="3.97" fill="#abd2e5"/><rect x="664.5" y="287.33" width="4.5" height="3.97" fill="#aed3e6"/><rect x="668" y="287.33" width="4.5" height="3.97" fill="#b0d4e7"/><rect x="671.5" y="287.33" width="4.5" height="3.97" fill="#b3d6e7"/><rect x="675" y="287.33" width="3.5" height="3.97" fill="#b6d7e8"/><rect x="535" y="290.3" width="4.5" height="3.97" fill="#dae9f2"/><rect x="538.5" y="290.3" width="4.5" height="3.97" fill="#cae2ee"/><rect x="542" y="290.3" width="4.5" height="3.97" fill="#b5d7e8"/><rect x="545.5" y="290.3" width="4.5" height="3.97" fill="#a0cce2"/><rect x="549" y="290.3" width="4.5" height="3.97" fill="#95c7df"/><rect x="552.5" y="290.3" width="4.5" height="3.97" fill="#8dc2dc"/><rect x="556" y="290.3" width="4.5" height="3.97" fill="#84bcd9"/><rect x="559.5" y="290.3" width="4.5" height="3.97" fill="#81bad8"/><rect x="563" y="290.3" width="4.5" height="3.97" fill="#89bfdb"/><rect x="566.5" y="290.3" width="4.5" height="3.97" fill="#91c5de"/><rect x="570" y="290.3" width="4.5" height="3.97" fill="#a0cce2"/><rect x="573.5" y="290.3" width="4.5" height="3.97" fill="#c0dceb"/><rect x="577" y="290.3" width="4.5" height="3.97" fill="#dceaf2"/><rect x="580.5" y="290.3" width="4.5" height="3.97" fill="#eff3f6"/><rect x="584" y="290.3" width="4.5" height="3.97" fill="#f9ece4"/><rect x="587.5" y="290.3" width="4.5" height="3.97" fill="#fbd0b9"/><rect x="591" y="290.3" width="4.5" height="3.97" fill="#dc6e58"/><rect x="594.5" y="290.3" width="4.5" height="3.97" fill="#67001f"/><rect x="598" y="290.3" width="4.5" height="3.97" fill="#0d4078"/><rect x="601.5" y="290.3" width="4.5" height="3.97" fill="#2369ae"/><rect x="605" y="290.3" width="4.5" height="3.97" fill="#2e77b5"/><rect x="608.5" y="290.3" width="4.5" height="3.97" fill="#317bb7"/><rect x="612" y="290.3" width="4.5" height="3.97" fill="#337db8"/><rect x="615.5" y="290.3" width="11.5" height="3.97" fill="#337eb8"/><rect x="626" y="290.3" width="11.5" height="3.97" fill="#347fb9"/><rect x="636.5" y="290.3" width="4.5" height="3.97" fill="#0d4078"/><rect x="640" y="290.3" width="4.5" height="3.97" fill="#67001f"/><rect x="643.5" y="290.3" width="4.5" height="3.97" fill="#df755d"/><rect x="647" y="290.3" width="4.5" height="3.97" fill="#fce1d1"/><rect x="650.5" y="290.3" width="4.5" height="3.97" fill="#e8f0f4"/><rect x="654" y="290.3" width="4.5" height="3.97" fill="#c8e0ed"/><rect x="657.5" y="290.3" width="4.5" height="3.97" fill="#b1d5e7"/><rect x="661" y="290.3" width="4.5" height="3.97" fill="#b2d5e7"/><rect x="664.5" y="290.3" width="4.5" height="3.97" fill="#b4d6e8"/><rect x="668" y="290.3" width="4.5" height="3.97" fill="#b6d7e8"/><rect x="671.5" y="290.3" width="4.5" height="3.97" fill="#b8d9e9"/><rect x="675" y="290.3" width="3.5" height="3.97" fill="#bbdaea"/><rect x="535" y="293.27" width="4.5" height="3.97" fill="#d9e9f2"/><rect x="538.5" y="293.27" width="4.5" height="3.97" fill="#c8e0ed"/><rect x="542" y="293.27" width="4.5" height="3.97" fill="#b1d5e7"/><rect x="545.5" y="293.27" width="4.5" height="3.97" fill="#9ac9e0"/><rect x="549" y="293.27" width="4.5" height="3.97" fill="#8fc3dd"/><rect x="552.5" y="293.27" width="4.5" height="3.97" fill="#86bdda"/><rect x="556" y="293.27" width="4.5" height="3.97" fill="#7db7d7"/><rect x="559.5" y="293.27" width="4.5" height="3.97" fill="#79b5d6"/><rect x="563" y="293.27" width="4.5" height="3.97" fill="#80bad8"/><rect x="566.5" y="293.27" width="4.5" height="3.97" fill="#88beda"/><rect x="570" y="293.27" width="4.5" height="3.97" fill="#8fc3dd"/><rect x="573.5" y="293.27" width="4.5" height="3.97" fill="#96c7df"/><rect x="577" y="293.27" width="4.5" height="3.97" fill="#add3e6"/><rect x="580.5" y="293.27" width="4.5" height="3.97" fill="#cfe4ef"/><rect x="584" y="293.27" width="4.5" height="3.97" fill="#e6eff4"/><rect x="587.5" y="293.27" width="4.5" height="3.97" fill="#f9ece4"/><rect x="591" y="293.27" width="4.5" height="3.97" fill="#fbd0b9"/><rect x="594.5" y="293.27" width="4.5" height="3.97" fill="#dc6e58"/><rect x="598" y="293.27" width="4.5" height="3.97" fill="#67001f"/><rect x="601.5" y="293.27" width="4.5" height="3.97" fill="#175392"/><rect x="605" y="293.27" width="4.5" height="3.97" fill="#2870b1"/><rect x="608.5" y="293.27" width="4.5" height="3.97" fill="#2f78b5"/><rect x="612" y="293.27" width="4.5" height="3.97" fill="#327cb7"/><rect x="615.5" y="293.27" width="4.5" height="3.97" fill="#337db8"/><rect x="619" y="293.27" width="15" height="3.97" fill="#337eb8"/><rect x="633" y="293.27" width="8" height="3.97" fill="#347fb9"/><rect x="640" y="293.27" width="4.5" height="3.97" fill="#0d4078"/><rect x="643.5" y="293.27" width="4.5" height="3.97" fill="#67001f"/><rect x="647" y="293.27" width="4.5" height="3.97" fill="#df755d"/><rect x="650.5" y="293.27" width="4.5" height="3.97" fill="#fce1d1"/><rect x="654" y="293.27" width="4.5" height="3.97" fill="#e8f0f4"/><rect x="657.5" y="293.27" width="4.5" height="3.97" fill="#cbe2ee"/><rect x="661" y="293.27" width="4.5" height="3.97" fill="#bad9e9"/><rect x="664.5" y="293.27" width="4.5" height="3.97" fill="#bcdaea"/><rect x="668" y="293.27" width="4.5" height="3.97" fill="#bddbea"/><rect x="671.5" y="293.27" width="4.5" height="3.97" fill="#bfdceb"/><rect x="675" y="293.27" width="3.5" height="3.97" fill="#c0ddeb"/><rect x="535" y="296.24" width="4.5" height="3.97" fill="#d9e9f1"/><rect x="538.5" y="296.24" width="4.5" height="3.97" fill="#c6dfed"/><rect x="542" y="296.24" width="4.5" height="3.97" fill="#add3e6"/><rect x="545.5" y="296.24" width="4.5" height="3.97" fill="#95c6df"/><rect x="549" y="296.24" width="4.5" height="3.97" fill="#88bfdb"/><rect x="552.5" y="296.24" width="4.5" height="3.97" fill="#7fb9d7"/><rect x="556" y="296.24" width="4.5" height="3.97" fill="#75b3d4"/><rect x="559.5" y="296.24" width="4.5" height="3.97" fill="#72b1d3"/><rect x="563" y="296.24" width="4.5" height="3.97" fill="#78b4d5"/><rect x="566.5" y="296.24" width="4.5" height="3.97" fill="#7eb8d7"/><rect x="570" y="296.24" width="4.5" height="3.97" fill="#84bcd9"/><rect x="573.5" y="296.24" width="4.5" height="3.97" fill="#8bc0db"/><rect x="577" y="296.24" width="4.5" height="3.97" fill="#91c4de"/><rect x="580.5" y="296.24" width="4.5" height="3.97" fill="#9ccae1"/><rect x="584" y="296.24" width="4.5" height="3.97" fill="#bbdaea"/><rect x="587.5" y="296.24" width="4.5" height="3.97" fill="#e7eff4"/><rect x="591" y="296.24" width="4.5" height="3.97" fill="#f9ece4"/><rect x="594.5" y="296.24" width="4.5" height="3.97" fill="#fbd0b9"/><rect x="598" y="296.24" width="4.5" height="3.97" fill="#dc6e58"/><rect x="601.5" y="296.24" width="4.5" height="3.97" fill="#0d4078"/><rect x="605" y="296.24" width="4.5" height="3.97" fill="#1f62a6"/><rect x="608.5" y="296.24" width="4.5" height="3.97" fill="#2b73b2"/><rect x="612" y="296.24" width="4.5" height="3.97" fill="#307ab6"/><rect x="615.5" y="296.24" width="4.5" height="3.97" fill="#327cb7"/><rect x="619" y="296.24" width="4.5" height="3.97" fill="#327db8"/><rect x="622.5" y="296.24" width="15" height="3.97" fill="#337eb8"/><rect x="636.5" y="296.24" width="4.5" height="3.97" fill="#337eb9"/><rect x="640" y="296.24" width="4.5" height="3.97" fill="#347fb9"/><rect x="643.5" y="296.24" width="4.5" height="3.97" fill="#0d4078"/><rect x="647" y="296.24" width="4.5" height="3.97" fill="#67001f"/><rect x="650.5" y="296.24" width="4.5" height="3.97" fill="#df755d"/><rect x="654" y="296.24" width="4.5" height="3.97" fill="#fce1d1"/><rect x="657.5" y="296.24" width="4.5" height="3.97" fill="#e7eff4"/><rect x="661" y="296.24" width="4.5" height="3.97" fill="#cfe4ef"/><rect x="664.5" y="296.24" width="4.5" height="3.97" fill="#c3deec"/><rect x="668" y="296.24" width="4.5" height="3.97" fill="#c4dfec"/><rect x="671.5" y="296.24" width="4.5" height="3.97" fill="#c5dfed"/><rect x="675" y="296.24" width="3.5" height="3.97" fill="#c6e0ed"/><rect x="535" y="299.21" width="4.5" height="3.97" fill="#d8e8f1"/><rect x="538.5" y="299.21" width="4.5" height="3.97" fill="#c3deec"/><rect x="542" y="299.21" width="4.5" height="3.97" fill="#a9d1e5"/><rect x="545.5" y="299.21" width="4.5" height="3.97" fill="#8fc3dd"/><rect x="549" y="299.21" width="4.5" height="3.97" fill="#81bad8"/><rect x="552.5" y="299.21" width="4.5" height="3.97" fill="#77b4d5"/><rect x="556" y="299.21" width="4.5" height="3.97" fill="#6eaed2"/><rect x="559.5" y="299.21" width="4.5" height="3.97" fill="#6aacd0"/><rect x="563" y="299.21" width="4.5" height="3.97" fill="#6fafd2"/><rect x="566.5" y="299.21" width="4.5" height="3.97" fill="#74b2d4"/><rect x="570" y="299.21" width="4.5" height="3.97" fill="#7ab6d6"/><rect x="573.5" y="299.21" width="4.5" height="3.97" fill="#7fb9d7"/><rect x="577" y="299.21" width="4.5" height="3.97" fill="#84bcd9"/><rect x="580.5" y="299.21" width="4.5" height="3.97" fill="#89c0db"/><rect x="584" y="299.21" width="4.5" height="3.97" fill="#90c3dd"/><rect x="587.5" y="299.21" width="4.5" height="3.97" fill="#bad9ea"/><rect x="591" y="299.21" width="4.5" height="3.97" fill="#e8f0f4"/><rect x="594.5" y="299.21" width="4.5" height="3.97" fill="#f9ece4"/><rect x="598" y="299.21" width="4.5" height="3.97" fill="#fbd0b9"/><rect x="601.5" y="299.21" width="4.5" height="3.97" fill="#67001f"/><rect x="605" y="299.21" width="4.5" height="3.97" fill="#0d4078"/><rect x="608.5" y="299.21" width="4.5" height="3.97" fill="#2268ad"/><rect x="612" y="299.21" width="4.5" height="3.97" fill="#2c75b4"/><rect x="615.5" y="299.21" width="4.5" height="3.97" fill="#3079b6"/><rect x="619" y="299.21" width="4.5" height="3.97" fill="#317bb7"/><rect x="622.5" y="299.21" width="4.5" height="3.97" fill="#327cb7"/><rect x="626" y="299.21" width="4.5" height="3.97" fill="#337db8"/><rect x="629.5" y="299.21" width="15" height="3.97" fill="#337eb8"/><rect x="643.5" y="299.21" width="4.5" height="3.97" fill="#337eb9"/><rect x="647" y="299.21" width="4.5" height="3.97" fill="#0d4078"/><rect x="650.5" y="299.21" width="4.5" height="3.97" fill="#67001f"/><rect x="654" y="299.21" width="4.5" height="3.97" fill="#df755d"/><rect x="657.5" y="299.21" width="4.5" height="3.97" fill="#fce1d1"/><rect x="661" y="299.21" width="4.5" height="3.97" fill="#e6eff4"/><rect x="664.5" y="299.21" width="4.5" height="3.97" fill="#d3e6f0"/><rect x="668" y="299.21" width="4.5" height="3.97" fill="#cce2ee"/><rect x="671.5" y="299.21" width="4.5" height="3.97" fill="#cce2ef"/><rect x="675" y="299.21" width="3.5" height="3.97" fill="#cce3ef"/><rect x="535" y="302.18" width="4.5" height="3.97" fill="#d8e8f1"/><rect x="538.5" y="302.18" width="4.5" height="3.97" fill="#c2ddec"/><rect x="542" y="302.18" width="4.5" height="3.97" fill="#a7cfe4"/><rect x="545.5" y="302.18" width="4.5" height="3.97" fill="#8ac0db"/><rect x="549" y="302.18" width="4.5" height="3.97" fill="#7bb7d6"/><rect x="552.5" y="302.18" width="4.5" height="3.97" fill="#72b1d3"/><rect x="556" y="302.18" width="4.5" height="3.97" fill="#69abd0"/><rect x="559.5" y="302.18" width="4.5" height="3.97" fill="#64a8ce"/><rect x="563" y="302.18" width="4.5" height="3.97" fill="#68abd0"/><rect x="566.5" y="302.18" width="4.5" height="3.97" fill="#6dadd1"/><rect x="570" y="302.18" width="4.5" height="3.97" fill="#71b0d3"/><rect x="573.5" y="302.18" width="4.5" height="3.97" fill="#75b3d4"/><rect x="577" y="302.18" width="4.5" height="3.97" fill="#7ab6d6"/><rect x="580.5" y="302.18" width="4.5" height="3.97" fill="#7eb8d7"/><rect x="584" y="302.18" width="4.5" height="3.97" fill="#83bcd9"/><rect x="587.5" y="302.18" width="4.5" height="3.97" fill="#8dc2dc"/><rect x="591" y="302.18" width="4.5" height="3.97" fill="#bcdaea"/><rect x="594.5" y="302.18" width="4.5" height="3.97" fill="#e9f0f4"/><rect x="598" y="302.18" width="4.5" height="3.97" fill="#f9ece4"/><rect x="601.5" y="302.18" width="4.5" height="3.97" fill="#dc6e58"/><rect x="605" y="302.18" width="4.5" height="3.97" fill="#67001f"/><rect x="608.5" y="302.18" width="4.5" height="3.97" fill="#16508e"/><rect x="612" y="302.18" width="4.5" height="3.97" fill="#266daf"/><rect x="615.5" y="302.18" width="4.5" height="3.97" fill="#2c75b3"/><rect x="619" y="302.18" width="4.5" height="3.97" fill="#2f78b5"/><rect x="622.5" y="302.18" width="4.5" height="3.97" fill="#307ab6"/><rect x="626" y="302.18" width="4.5" height="3.97" fill="#317cb7"/><rect x="629.5" y="302.18" width="4.5" height="3.97" fill="#327db8"/><rect x="633" y="302.18" width="4.5" height="3.97" fill="#337db8"/><rect x="636.5" y="302.18" width="15" height="3.97" fill="#337eb8"/><rect x="650.5" y="302.18" width="4.5" height="3.97" fill="#0d4078"/><rect x="654" y="302.18" width="4.5" height="3.97" fill="#67001f"/><rect x="657.5" y="302.18" width="4.5" height="3.97" fill="#df755d"/><rect x="661" y="302.18" width="4.5" height="3.97" fill="#fce1d1"/><rect x="664.5" y="302.18" width="4.5" height="3.97" fill="#e5eff4"/><rect x="668" y="302.18" width="4.5" height="3.97" fill="#d5e7f1"/><rect x="671.5" y="302.18" width="7" height="3.97" fill="#d2e5f0"/><rect x="535" y="305.15" width="4.5" height="3.97" fill="#d8e8f1"/><rect x="538.5" y="305.15" width="4.5" height="3.97" fill="#c2ddec"/><rect x="542" y="305.15" width="4.5" height="3.97" fill="#a8d0e4"/><rect x="545.5" y="305.15" width="4.5" height="3.97" fill="#8cc1dc"/><rect x="549" y="305.15" width="4.5" height="3.97" fill="#7db8d7"/><rect x="552.5" y="305.15" width="4.5" height="3.97" fill="#73b1d3"/><rect x="556" y="305.15" width="4.5" height="3.97" fill="#69abd0"/><rect x="559.5" y="305.15" width="4.5" height="3.97" fill="#64a8ce"/><rect x="563" y="305.15" width="4.5" height="3.97" fill="#68aad0"/><rect x="566.5" y="305.15" width="4.5" height="3.97" fill="#6cadd1"/><rect x="570" y="305.15" width="4.5" height="3.97" fill="#6fafd2"/><rect x="573.5" y="305.15" width="4.5" height="3.97" fill="#73b1d3"/><rect x="577" y="305.15" width="4.5" height="3.97" fill="#77b4d5"/><rect x="580.5" y="305.15" width="4.5" height="3.97" fill="#7bb6d6"/><rect x="584" y="305.15" width="4.5" height="3.97" fill="#7fb9d8"/><rect x="587.5" y="305.15" width="4.5" height="3.97" fill="#88beda"/><rect x="591" y="305.15" width="4.5" height="3.97" fill="#92c5de"/><rect x="594.5" y="305.15" width="4.5" height="3.97" fill="#c0dceb"/><rect x="598" y="305.15" width="4.5" height="3.97" fill="#f1f4f6"/><rect x="601.5" y="305.15" width="4.5" height="3.97" fill="#fbd0b9"/><rect x="605" y="305.15" width="4.5" height="3.97" fill="#dc6e58"/><rect x="608.5" y="305.15" width="4.5" height="3.97" fill="#0d4078"/><rect x="612" y="305.15" width="4.5" height="3.97" fill="#1b5b9c"/><rect x="615.5" y="305.15" width="4.5" height="3.97" fill="#256caf"/><rect x="619" y="305.15" width="4.5" height="3.97" fill="#2a72b2"/><rect x="622.5" y="305.15" width="4.5" height="3.97" fill="#2d77b4"/><rect x="626" y="305.15" width="4.5" height="3.97" fill="#3079b6"/><rect x="629.5" y="305.15" width="4.5" height="3.97" fill="#317bb7"/><rect x="633" y="305.15" width="4.5" height="3.97" fill="#327cb7"/><rect x="636.5" y="305.15" width="4.5" height="3.97" fill="#327db8"/><rect x="640" y="305.15" width="4.5" height="3.97" fill="#337db8"/><rect x="643.5" y="305.15" width="11.5" height="3.97" fill="#337eb8"/><rect x="654" y="305.15" width="4.5" height="3.97" fill="#0d4078"/><rect x="657.5" y="305.15" width="4.5" height="3.97" fill="#67001f"/><rect x="661" y="305.15" width="4.5" height="3.97" fill="#df755d"/><rect x="664.5" y="305.15" width="4.5" height="3.97" fill="#fce1d1"/><rect x="668" y="305.15" width="4.5" height="3.97" fill="#e5eef4"/><rect x="671.5" y="305.15" width="4.5" height="3.97" fill="#d6e8f1"/><rect x="675" y="305.15" width="3.5" height="3.97" fill="#d4e7f1"/><rect x="535" y="308.12" width="4.5" height="3.97" fill="#d8e8f1"/><rect x="538.5" y="308.12" width="4.5" height="3.97" fill="#c3deec"/><rect x="542" y="308.12" width="4.5" height="3.97" fill="#a9d0e4"/><rect x="545.5" y="308.12" width="4.5" height="3.97" fill="#8dc2dc"/><rect x="549" y="308.12" width="4.5" height="3.97" fill="#7eb8d7"/><rect x="552.5" y="308.12" width="4.5" height="3.97" fill="#74b2d4"/><rect x="556" y="308.12" width="4.5" height="3.97" fill="#69abd0"/><rect x="559.5" y="308.12" width="4.5" height="3.97" fill="#64a8ce"/><rect x="563" y="308.12" width="4.5" height="3.97" fill="#67aacf"/><rect x="566.5" y="308.12" width="4.5" height="3.97" fill="#6aacd0"/><rect x="570" y="308.12" width="4.5" height="3.97" fill="#6eaed2"/><rect x="573.5" y="308.12" width="4.5" height="3.97" fill="#71b0d3"/><rect x="577" y="308.12" width="4.5" height="3.97" fill="#74b2d4"/><rect x="580.5" y="308.12" width="4.5" height="3.97" fill="#77b4d5"/><rect x="584" y="308.12" width="4.5" height="3.97" fill="#7bb7d6"/><rect x="587.5" y="308.12" width="4.5" height="3.97" fill="#83bcd9"/><rect x="591" y="308.12" width="4.5" height="3.97" fill="#8bc0dc"/><rect x="594.5" y="308.12" width="4.5" height="3.97" fill="#95c6df"/><rect x="598" y="308.12" width="4.5" height="3.97" fill="#d0e4f0"/><rect x="601.5" y="308.12" width="4.5" height="3.97" fill="#f9ece4"/><rect x="605" y="308.12" width="4.5" height="3.97" fill="#fbd0b9"/><rect x="608.5" y="308.12" width="4.5" height="3.97" fill="#67001f"/><rect x="612" y="308.12" width="4.5" height="3.97" fill="#0d4078"/><rect x="615.5" y="308.12" width="4.5" height="3.97" fill="#1a599a"/><rect x="619" y="308.12" width="4.5" height="3.97" fill="#2267ad"/><rect x="622.5" y="308.12" width="4.5" height="3.97" fill="#286fb1"/><rect x="626" y="308.12" width="4.5" height="3.97" fill="#2c74b3"/><rect x="629.5" y="308.12" width="4.5" height="3.97" fill="#2e78b5"/><rect x="633" y="308.12" width="4.5" height="3.97" fill="#307ab6"/><rect x="636.5" y="308.12" width="4.5" height="3.97" fill="#317bb7"/><rect x="640" y="308.12" width="4.5" height="3.97" fill="#327cb7"/><rect x="643.5" y="308.12" width="15" height="3.97" fill="#327db8"/><rect x="657.5" y="308.12" width="4.5" height="3.97" fill="#0d4078"/><rect x="661" y="308.12" width="4.5" height="3.97" fill="#67001f"/><rect x="664.5" y="308.12" width="4.5" height="3.97" fill="#df755d"/><rect x="668" y="308.12" width="4.5" height="3.97" fill="#fce1d1"/><rect x="671.5" y="308.12" width="4.5" height="3.97" fill="#e4eef3"/><rect x="675" y="308.12" width="3.5" height="3.97" fill="#d8e8f1"/><rect x="535" y="311.09" width="4.5" height="3.97" fill="#d8e9f1"/><rect x="538.5" y="311.09" width="4.5" height="3.97" fill="#c3deec"/><rect x="542" y="311.09" width="4.5" height="3.97" fill="#aad1e5"/><rect x="545.5" y="311.09" width="4.5" height="3.97" fill="#8fc3dd"/><rect x="549" y="311.09" width="4.5" height="3.97" fill="#80b9d8"/><rect x="552.5" y="311.09" width="4.5" height="3.97" fill="#75b2d4"/><rect x="556" y="311.09" width="4.5" height="3.97" fill="#6aabd0"/><rect x="559.5" y="311.09" width="4.5" height="3.97" fill="#64a8ce"/><rect x="563" y="311.09" width="4.5" height="3.97" fill="#66a9cf"/><rect x="566.5" y="311.09" width="4.5" height="3.97" fill="#69abd0"/><rect x="570" y="311.09" width="4.5" height="3.97" fill="#6cadd1"/><rect x="573.5" y="311.09" width="4.5" height="3.97" fill="#6eafd2"/><rect x="577" y="311.09" width="4.5" height="3.97" fill="#71b0d3"/><rect x="580.5" y="311.09" width="4.5" height="3.97" fill="#74b2d4"/><rect x="584" y="311.09" width="4.5" height="3.97" fill="#78b4d5"/><rect x="587.5" y="311.09" width="4.5" height="3.97" fill="#7fb9d7"/><rect x="591" y="311.09" width="4.5" height="3.97" fill="#86bdda"/><rect x="594.5" y="311.09" width="4.5" height="3.97" fill="#8dc2dc"/><rect x="598" y="311.09" width="4.5" height="3.97" fill="#9dcbe1"/><rect x="601.5" y="311.09" width="4.5" height="3.97" fill="#e5eef4"/><rect x="605" y="311.09" width="4.5" height="3.97" fill="#f9ece4"/><rect x="608.5" y="311.09" width="4.5" height="3.97" fill="#dc6e58"/><rect x="612" y="311.09" width="4.5" height="3.97" fill="#67001f"/><rect x="615.5" y="311.09" width="4.5" height="3.97" fill="#0d4078"/><rect x="619" y="311.09" width="4.5" height="3.97" fill="#154f8c"/><rect x="622.5" y="311.09" width="4.5" height="3.97" fill="#1e61a5"/><rect x="626" y="311.09" width="4.5" height="3.97" fill="#256baf"/><rect x="629.5" y="311.09" width="4.5" height="3.97" fill="#2a71b2"/><rect x="633" y="311.09" width="4.5" height="3.97" fill="#2d76b4"/><rect x="636.5" y="311.09" width="4.5" height="3.97" fill="#2f78b5"/><rect x="640" y="311.09" width="4.5" height="3.97" fill="#307ab6"/><rect x="643.5" y="311.09" width="8" height="3.97" fill="#317bb7"/><rect x="650.5" y="311.09" width="8" height="3.97" fill="#317cb7"/><rect x="657.5" y="311.09" width="4.5" height="3.97" fill="#327cb7"/><rect x="661" y="311.09" width="4.5" height="3.97" fill="#0d4078"/><rect x="664.5" y="311.09" width="4.5" height="3.97" fill="#67001f"/><rect x="668" y="311.09" width="4.5" height="3.97" fill="#df755d"/><rect x="671.5" y="311.09" width="4.5" height="3.97" fill="#fce1d1"/><rect x="675" y="311.09" width="3.5" height="3.97" fill="#e4eef3"/><rect x="535" y="314.06" width="4.5" height="3.97" fill="#d9e9f1"/><rect x="538.5" y="314.06" width="4.5" height="3.97" fill="#c4deec"/><rect x="542" y="314.06" width="4.5" height="3.97" fill="#abd2e5"/><rect x="545.5" y="314.06" width="4.5" height="3.97" fill="#91c4de"/><rect x="549" y="314.06" width="4.5" height="3.97" fill="#81bad8"/><rect x="552.5" y="314.06" width="4.5" height="3.97" fill="#76b3d4"/><rect x="556" y="314.06" width="4.5" height="3.97" fill="#6aacd0"/><rect x="559.5" y="314.06" width="4.5" height="3.97" fill="#63a7ce"/><rect x="563" y="314.06" width="4.5" height="3.97" fill="#66a9cf"/><rect x="566.5" y="314.06" width="4.5" height="3.97" fill="#68aad0"/><rect x="570" y="314.06" width="4.5" height="3.97" fill="#6aacd0"/><rect x="573.5" y="314.06" width="4.5" height="3.97" fill="#6cadd1"/><rect x="577" y="314.06" width="4.5" height="3.97" fill="#6eaed2"/><rect x="580.5" y="314.06" width="4.5" height="3.97" fill="#71b0d3"/><rect x="584" y="314.06" width="4.5" height="3.97" fill="#74b2d4"/><rect x="587.5" y="314.06" width="4.5" height="3.97" fill="#7ab6d6"/><rect x="591" y="314.06" width="4.5" height="3.97" fill="#81bad8"/><rect x="594.5" y="314.06" width="4.5" height="3.97" fill="#88beda"/><rect x="598" y="314.06" width="4.5" height="3.97" fill="#8ec3dd"/><rect x="601.5" y="314.06" width="4.5" height="3.97" fill="#b7d8e9"/><rect x="605" y="314.06" width="4.5" height="3.97" fill="#f3f5f6"/><rect x="608.5" y="314.06" width="4.5" height="3.97" fill="#fbd0b9"/><rect x="612" y="314.06" width="4.5" height="3.97" fill="#dc6e58"/><rect x="615.5" y="314.06" width="4.5" height="3.97" fill="#67001f"/><rect x="619" y="314.06" width="8" height="3.97" fill="#0d4078"/><rect x="626" y="314.06" width="4.5" height="3.97" fill="#1a5899"/><rect x="629.5" y="314.06" width="4.5" height="3.97" fill="#2166ac"/><rect x="633" y="314.06" width="4.5" height="3.97" fill="#276eb0"/><rect x="636.5" y="314.06" width="4.5" height="3.97" fill="#2b73b3"/><rect x="640" y="314.06" width="4.5" height="3.97" fill="#2d76b4"/><rect x="643.5" y="314.06" width="4.5" height="3.97" fill="#2f78b5"/><rect x="647" y="314.06" width="11.5" height="3.97" fill="#2f79b6"/><rect x="657.5" y="314.06" width="8" height="3.97" fill="#3079b6"/><rect x="664.5" y="314.06" width="4.5" height="3.97" fill="#0d4078"/><rect x="668" y="314.06" width="4.5" height="3.97" fill="#67001f"/><rect x="671.5" y="314.06" width="4.5" height="3.97" fill="#df755d"/><rect x="675" y="314.06" width="3.5" height="3.97" fill="#eff3f6"/><rect x="535" y="317.03" width="4.5" height="3.97" fill="#d9e9f1"/><rect x="538.5" y="317.03" width="4.5" height="3.97" fill="#c5dfec"/><rect x="542" y="317.03" width="4.5" height="3.97" fill="#acd2e5"/><rect x="545.5" y="317.03" width="4.5" height="3.97" fill="#93c5de"/><rect x="549" y="317.03" width="4.5" height="3.97" fill="#83bbd9"/><rect x="552.5" y="317.03" width="4.5" height="3.97" fill="#76b4d5"/><rect x="556" y="317.03" width="4.5" height="3.97" fill="#6aacd0"/><rect x="559.5" y="317.03" width="4.5" height="3.97" fill="#63a7ce"/><rect x="563" y="317.03" width="4.5" height="3.97" fill="#65a8cf"/><rect x="566.5" y="317.03" width="4.5" height="3.97" fill="#67aacf"/><rect x="570" y="317.03" width="4.5" height="3.97" fill="#68abd0"/><rect x="573.5" y="317.03" width="4.5" height="3.97" fill="#6aacd0"/><rect x="577" y="317.03" width="4.5" height="3.97" fill="#6cadd1"/><rect x="580.5" y="317.03" width="4.5" height="3.97" fill="#6daed1"/><rect x="584" y="317.03" width="4.5" height="3.97" fill="#70afd2"/><rect x="587.5" y="317.03" width="4.5" height="3.97" fill="#76b3d4"/><rect x="591" y="317.03" width="4.5" height="3.97" fill="#7cb7d7"/><rect x="594.5" y="317.03" width="4.5" height="3.97" fill="#82bbd9"/><rect x="598" y="317.03" width="4.5" height="3.97" fill="#88bfdb"/><rect x="601.5" y="317.03" width="4.5" height="3.97" fill="#8fc3dd"/><rect x="605" y="317.03" width="4.5" height="3.97" fill="#d5e7f1"/><rect x="608.5" y="317.03" width="4.5" height="3.97" fill="#f9ece4"/><rect x="612" y="317.03" width="4.5" height="3.97" fill="#fbd0b9"/><rect x="615.5" y="317.03" width="4.5" height="3.97" fill="#dc6e58"/><rect x="619" y="317.03" width="8" height="3.97" fill="#67001f"/><rect x="626" y="317.03" width="8" height="3.97" fill="#0d4078"/><rect x="633" y="317.03" width="4.5" height="3.97" fill="#1c5d9f"/><rect x="636.5" y="317.03" width="4.5" height="3.97" fill="#2369ad"/><rect x="640" y="317.03" width="4.5" height="3.97" fill="#286fb0"/><rect x="643.5" y="317.03" width="8" height="3.97" fill="#2b73b3"/><rect x="650.5" y="317.03" width="4.5" height="3.97" fill="#2b74b3"/><rect x="654" y="317.03" width="4.5" height="3.97" fill="#2c74b3"/><rect x="657.5" y="317.03" width="4.5" height="3.97" fill="#2c75b3"/><rect x="661" y="317.03" width="4.5" height="3.97" fill="#2c75b4"/><rect x="664.5" y="317.03" width="4.5" height="3.97" fill="#2d75b4"/><rect x="668" y="317.03" width="4.5" height="3.97" fill="#0d4078"/><rect x="671.5" y="317.03" width="4.5" height="3.97" fill="#67001f"/><rect x="675" y="317.03" width="3.5" height="3.97" fill="#fce1d1"/><rect x="535" y="320" width="4.5" height="3.97" fill="#d9e9f1"/><rect x="538.5" y="320" width="4.5" height="3.97" fill="#c5dfed"/><rect x="542" y="320" width="4.5" height="3.97" fill="#add3e6"/><rect x="545.5" y="320" width="4.5" height="3.97" fill="#94c6df"/><rect x="549" y="320" width="4.5" height="3.97" fill="#84bcd9"/><rect x="552.5" y="320" width="4.5" height="3.97" fill="#77b4d5"/><rect x="556" y="320" width="4.5" height="3.97" fill="#6bacd1"/><rect x="559.5" y="320" width="4.5" height="3.97" fill="#63a7ce"/><rect x="563" y="320" width="4.5" height="3.97" fill="#64a8ce"/><rect x="566.5" y="320" width="4.5" height="3.97" fill="#65a9cf"/><rect x="570" y="320" width="4.5" height="3.97" fill="#66a9cf"/><rect x="573.5" y="320" width="4.5" height="3.97" fill="#68aad0"/><rect x="577" y="320" width="4.5" height="3.97" fill="#69abd0"/><rect x="580.5" y="320" width="4.5" height="3.97" fill="#6aacd0"/><rect x="584" y="320" width="4.5" height="3.97" fill="#6cadd1"/><rect x="587.5" y="320" width="4.5" height="3.97" fill="#72b0d3"/><rect x="591" y="320" width="4.5" height="3.97" fill="#77b4d5"/><rect x="594.5" y="320" width="4.5" height="3.97" fill="#7db8d7"/><rect x="598" y="320" width="4.5" height="3.97" fill="#82bbd9"/><rect x="601.5" y="320" width="4.5" height="3.97" fill="#88bfdb"/><rect x="605" y="320" width="4.5" height="3.97" fill="#9ecbe1"/><rect x="608.5" y="320" width="4.5" height="3.97" fill="#e1edf3"/><rect x="612" y="320" width="4.5" height="3.97" fill="#f9ece4"/><rect x="615.5" y="320" width="4.5" height="3.97" fill="#fbd0b9"/><rect x="619" y="320" width="8" height="3.97" fill="#dc6e58"/><rect x="626" y="320" width="8" height="3.97" fill="#67001f"/><rect x="633" y="320" width="4.5" height="3.97" fill="#0d4078"/><rect x="636.5" y="320" width="4.5" height="3.97" fill="#165290"/><rect x="640" y="320" width="4.5" height="3.97" fill="#1e5fa3"/><rect x="643.5" y="320" width="4.5" height="3.97" fill="#2368ad"/><rect x="647" y="320" width="4.5" height="3.97" fill="#2369ae"/><rect x="650.5" y="320" width="4.5" height="3.97" fill="#246aae"/><rect x="654" y="320" width="4.5" height="3.97" fill="#256bae"/><rect x="657.5" y="320" width="4.5" height="3.97" fill="#256caf"/><rect x="661" y="320" width="4.5" height="3.97" fill="#266caf"/><rect x="664.5" y="320" width="4.5" height="3.97" fill="#266db0"/><rect x="668" y="320" width="4.5" height="3.97" fill="#276eb0"/><rect x="671.5" y="320" width="4.5" height="3.97" fill="#0d4078"/><rect x="675" y="320" width="3.5" height="3.97" fill="#df755d"/><rect x="535" y="322.97" width="4.5" height="3.97" fill="#d9e9f1"/><rect x="538.5" y="322.97" width="4.5" height="3.97" fill="#c6dfed"/><rect x="542" y="322.97" width="4.5" height="3.97" fill="#aed3e6"/><rect x="545.5" y="322.97" width="4.5" height="3.97" fill="#95c7df"/><rect x="549" y="322.97" width="4.5" height="3.97" fill="#85bdda"/><rect x="552.5" y="322.97" width="4.5" height="3.97" fill="#78b5d5"/><rect x="556" y="322.97" width="4.5" height="3.97" fill="#6bacd1"/><rect x="559.5" y="322.97" width="4.5" height="3.97" fill="#63a7ce"/><rect x="563" y="322.97" width="4.5" height="3.97" fill="#63a8ce"/><rect x="566.5" y="322.97" width="4.5" height="3.97" fill="#64a8ce"/><rect x="570" y="322.97" width="4.5" height="3.97" fill="#65a8cf"/><rect x="573.5" y="322.97" width="4.5" height="3.97" fill="#65a9cf"/><rect x="577" y="322.97" width="4.5" height="3.97" fill="#66a9cf"/><rect x="580.5" y="322.97" width="4.5" height="3.97" fill="#67aacf"/><rect x="584" y="322.97" width="4.5" height="3.97" fill="#68abd0"/><rect x="587.5" y="322.97" width="4.5" height="3.97" fill="#6daed1"/><rect x="591" y="322.97" width="4.5" height="3.97" fill="#72b1d3"/><rect x="594.5" y="322.97" width="4.5" height="3.97" fill="#77b4d5"/><rect x="598" y="322.97" width="4.5" height="3.97" fill="#7cb7d7"/><rect x="601.5" y="322.97" width="4.5" height="3.97" fill="#81bbd8"/><rect x="605" y="322.97" width="4.5" height="3.97" fill="#86beda"/><rect x="608.5" y="322.97" width="4.5" height="3.97" fill="#aed3e6"/><rect x="612" y="322.97" width="4.5" height="3.97" fill="#edf2f5"/><rect x="615.5" y="322.97" width="4.5" height="3.97" fill="#f9ece4"/><rect x="619" y="322.97" width="8" height="3.97" fill="#fbd0b9"/><rect x="626" y="322.97" width="8" height="3.97" fill="#dc6e58"/><rect x="633" y="322.97" width="4.5" height="3.97" fill="#67001f"/><rect x="636.5" y="322.97" width="8" height="3.97" fill="#0d4078"/><rect x="643.5" y="322.97" width="4.5" height="3.97" fill="#16518f"/><rect x="647" y="322.97" width="4.5" height="3.97" fill="#175392"/><rect x="650.5" y="322.97" width="4.5" height="3.97" fill="#185594"/><rect x="654" y="322.97" width="4.5" height="3.97" fill="#195797"/><rect x="657.5" y="322.97" width="4.5" height="3.97" fill="#1a5899"/><rect x="661" y="322.97" width="4.5" height="3.97" fill="#1b5a9b"/><rect x="664.5" y="322.97" width="4.5" height="3.97" fill="#1c5c9e"/><rect x="668" y="322.97" width="4.5" height="3.97" fill="#1c5da0"/><rect x="671.5" y="322.97" width="4.5" height="3.97" fill="#1d5fa2"/><rect x="675" y="322.97" width="3.5" height="3.97" fill="#67001f"/><rect x="535" y="325.94" width="4.5" height="3.97" fill="#d9e9f1"/><rect x="538.5" y="325.94" width="4.5" height="3.97" fill="#c6e0ed"/><rect x="542" y="325.94" width="4.5" height="3.97" fill="#afd4e6"/><rect x="545.5" y="325.94" width="4.5" height="3.97" fill="#97c7df"/><rect x="549" y="325.94" width="4.5" height="3.97" fill="#87beda"/><rect x="552.5" y="325.94" width="4.5" height="3.97" fill="#79b5d6"/><rect x="556" y="325.94" width="4.5" height="3.97" fill="#6badd1"/><rect x="559.5" y="325.94" width="25.5" height="3.97" fill="#63a7ce"/><rect x="584" y="325.94" width="4.5" height="3.97" fill="#64a8ce"/><rect x="587.5" y="325.94" width="4.5" height="3.97" fill="#69abd0"/><rect x="591" y="325.94" width="4.5" height="3.97" fill="#6daed1"/><rect x="594.5" y="325.94" width="4.5" height="3.97" fill="#72b1d3"/><rect x="598" y="325.94" width="4.5" height="3.97" fill="#76b4d5"/><rect x="601.5" y="325.94" width="4.5" height="3.97" fill="#7bb6d6"/><rect x="605" y="325.94" width="4.5" height="3.97" fill="#7fb9d8"/><rect x="608.5" y="325.94" width="4.5" height="3.97" fill="#84bcd9"/><rect x="612" y="325.94" width="4.5" height="3.97" fill="#c3deec"/><rect x="615.5" y="325.94" width="4.5" height="3.97" fill="#ebf1f5"/><rect x="619" y="325.94" width="4.5" height="3.97" fill="#f9ede6"/><rect x="622.5" y="325.94" width="4.5" height="3.97" fill="#f9ece4"/><rect x="626" y="325.94" width="8" height="3.97" fill="#fbd0b9"/><rect x="633" y="325.94" width="4.5" height="3.97" fill="#dc6e58"/><rect x="636.5" y="325.94" width="8" height="3.97" fill="#67001f"/><rect x="643.5" y="325.94" width="35" height="3.97" fill="#0d4078"/><rect x="535" y="328.91" width="4.5" height="3.97" fill="#d9e9f1"/><rect x="538.5" y="328.91" width="4.5" height="3.97" fill="#c6dfed"/><rect x="542" y="328.91" width="4.5" height="3.97" fill="#afd3e6"/><rect x="545.5" y="328.91" width="4.5" height="3.97" fill="#97c8df"/><rect x="549" y="328.91" width="4.5" height="3.97" fill="#87beda"/><rect x="552.5" y="328.91" width="4.5" height="3.97" fill="#79b5d6"/><rect x="556" y="328.91" width="4.5" height="3.97" fill="#6badd1"/><rect x="559.5" y="328.91" width="11.5" height="3.97" fill="#62a7ce"/><rect x="570" y="328.91" width="4.5" height="3.97" fill="#62a6cd"/><rect x="573.5" y="328.91" width="15" height="3.97" fill="#61a6cd"/><rect x="587.5" y="328.91" width="4.5" height="3.97" fill="#66a9cf"/><rect x="591" y="328.91" width="4.5" height="3.97" fill="#6aacd0"/><rect x="594.5" y="328.91" width="4.5" height="3.97" fill="#6fafd2"/><rect x="598" y="328.91" width="4.5" height="3.97" fill="#73b1d3"/><rect x="601.5" y="328.91" width="4.5" height="3.97" fill="#77b4d5"/><rect x="605" y="328.91" width="4.5" height="3.97" fill="#7cb7d6"/><rect x="608.5" y="328.91" width="4.5" height="3.97" fill="#81bad8"/><rect x="612" y="328.91" width="4.5" height="3.97" fill="#93c5de"/><rect x="615.5" y="328.91" width="4.5" height="3.97" fill="#c3deec"/><rect x="619" y="328.91" width="4.5" height="3.97" fill="#e1edf3"/><rect x="622.5" y="328.91" width="4.5" height="3.97" fill="#f3f5f6"/><rect x="626" y="328.91" width="8" height="3.97" fill="#f9ece4"/><rect x="633" y="328.91" width="4.5" height="3.97" fill="#fbd0b9"/><rect x="636.5" y="328.91" width="8" height="3.97" fill="#dc6e58"/><rect x="643.5" y="328.91" width="35" height="3.97" fill="#67001f"/><rect x="535" y="331.88" width="4.5" height="3.97" fill="#d8e8f1"/><rect x="538.5" y="331.88" width="4.5" height="3.97" fill="#c5dfed"/><rect x="542" y="331.88" width="4.5" height="3.97" fill="#aed3e6"/><rect x="545.5" y="331.88" width="4.5" height="3.97" fill="#97c8df"/><rect x="549" y="331.88" width="4.5" height="3.97" fill="#87beda"/><rect x="552.5" y="331.88" width="4.5" height="3.97" fill="#79b5d6"/><rect x="556" y="331.88" width="4.5" height="3.97" fill="#6badd1"/><rect x="559.5" y="331.88" width="4.5" height="3.97" fill="#62a7ce"/><rect x="563" y="331.88" width="4.5" height="3.97" fill="#62a6cd"/><rect x="566.5" y="331.88" width="4.5" height="3.97" fill="#61a6cd"/><rect x="570" y="331.88" width="4.5" height="3.97" fill="#60a6cd"/><rect x="573.5" y="331.88" width="4.5" height="3.97" fill="#60a5cd"/><rect x="577" y="331.88" width="4.5" height="3.97" fill="#5fa5cd"/><rect x="580.5" y="331.88" width="4.5" height="3.97" fill="#5ea4cc"/><rect x="584" y="331.88" width="4.5" height="3.97" fill="#5fa4cc"/><rect x="587.5" y="331.88" width="4.5" height="3.97" fill="#63a7ce"/><rect x="591" y="331.88" width="4.5" height="3.97" fill="#67aacf"/><rect x="594.5" y="331.88" width="4.5" height="3.97" fill="#6cadd1"/><rect x="598" y="331.88" width="4.5" height="3.97" fill="#70b0d2"/><rect x="601.5" y="331.88" width="4.5" height="3.97" fill="#75b2d4"/><rect x="605" y="331.88" width="4.5" height="3.97" fill="#79b5d5"/><rect x="608.5" y="331.88" width="4.5" height="3.97" fill="#7eb8d7"/><rect x="612" y="331.88" width="4.5" height="3.97" fill="#8ac0db"/><rect x="615.5" y="331.88" width="4.5" height="3.97" fill="#98c8e0"/><rect x="619" y="331.88" width="4.5" height="3.97" fill="#b8d8e9"/><rect x="622.5" y="331.88" width="4.5" height="3.97" fill="#d8e9f1"/><rect x="626" y="331.88" width="4.5" height="3.97" fill="#ecf2f5"/><rect x="629.5" y="331.88" width="4.5" height="3.97" fill="#f6f7f7"/><rect x="633" y="331.88" width="4.5" height="3.97" fill="#f9ece4"/><rect x="636.5" y="331.88" width="8" height="3.97" fill="#fbd0b9"/><rect x="643.5" y="331.88" width="35" height="3.97" fill="#dc6e58"/><rect x="535" y="334.85" width="4.5" height="3.97" fill="#d7e8f1"/><rect x="538.5" y="334.85" width="4.5" height="3.97" fill="#c5dfec"/><rect x="542" y="334.85" width="4.5" height="3.97" fill="#aed3e6"/><rect x="545.5" y="334.85" width="4.5" height="3.97" fill="#97c7df"/><rect x="549" y="334.85" width="4.5" height="3.97" fill="#87beda"/><rect x="552.5" y="334.85" width="4.5" height="3.97" fill="#79b5d6"/><rect x="556" y="334.85" width="4.5" height="3.97" fill="#6badd1"/><rect x="559.5" y="334.85" width="4.5" height="3.97" fill="#62a7ce"/><rect x="563" y="334.85" width="4.5" height="3.97" fill="#61a6cd"/><rect x="566.5" y="334.85" width="4.5" height="3.97" fill="#60a5cd"/><rect x="570" y="334.85" width="4.5" height="3.97" fill="#5fa5cd"/><rect x="573.5" y="334.85" width="4.5" height="3.97" fill="#5ea4cc"/><rect x="577" y="334.85" width="4.5" height="3.97" fill="#5da3cc"/><rect x="580.5" y="334.85" width="8" height="3.97" fill="#5ca3cb"/><rect x="587.5" y="334.85" width="4.5" height="3.97" fill="#60a5cd"/><rect x="591" y="334.85" width="4.5" height="3.97" fill="#65a8cf"/><rect x="594.5" y="334.85" width="4.5" height="3.97" fill="#69abd0"/><rect x="598" y="334.85" width="4.5" height="3.97" fill="#6daed2"/><rect x="601.5" y="334.85" width="4.5" height="3.97" fill="#72b1d3"/><rect x="605" y="334.85" width="4.5" height="3.97" fill="#76b3d5"/><rect x="608.5" y="334.85" width="4.5" height="3.97" fill="#7bb7d6"/><rect x="612" y="334.85" width="4.5" height="3.97" fill="#87beda"/><rect x="615.5" y="334.85" width="4.5" height="3.97" fill="#93c6de"/><rect x="619" y="334.85" width="4.5" height="3.97" fill="#9dcbe1"/><rect x="622.5" y="334.85" width="4.5" height="3.97" fill="#b2d5e7"/><rect x="626" y="334.85" width="4.5" height="3.97" fill="#d1e5f0"/><rect x="629.5" y="334.85" width="4.5" height="3.97" fill="#e3eef3"/><rect x="633" y="334.85" width="4.5" height="3.97" fill="#f1f4f6"/><rect x="636.5" y="334.85" width="8" height="3.97" fill="#f9ece4"/><rect x="643.5" y="334.85" width="35" height="3.97" fill="#fbd0b9"/><rect x="535" y="337.82" width="4.5" height="3.97" fill="#d7e8f1"/><rect x="538.5" y="337.82" width="4.5" height="3.97" fill="#c4deec"/><rect x="542" y="337.82" width="4.5" height="3.97" fill="#add3e6"/><rect x="545.5" y="337.82" width="4.5" height="3.97" fill="#97c7df"/><rect x="549" y="337.82" width="4.5" height="3.97" fill="#87beda"/><rect x="552.5" y="337.82" width="4.5" height="3.97" fill="#79b5d6"/><rect x="556" y="337.82" width="4.5" height="3.97" fill="#6badd1"/><rect x="559.5" y="337.82" width="4.5" height="3.97" fill="#62a7ce"/><rect x="563" y="337.82" width="4.5" height="3.97" fill="#61a6cd"/><rect x="566.5" y="337.82" width="4.5" height="3.97" fill="#5fa5cd"/><rect x="570" y="337.82" width="4.5" height="3.97" fill="#5ea4cc"/><rect x="573.5" y="337.82" width="4.5" height="3.97" fill="#5ca3cc"/><rect x="577" y="337.82" width="4.5" height="3.97" fill="#5ba2cb"/><rect x="580.5" y="337.82" width="8" height="3.97" fill="#59a1cb"/><rect x="587.5" y="337.82" width="4.5" height="3.97" fill="#5da4cc"/><rect x="591" y="337.82" width="4.5" height="3.97" fill="#62a7ce"/><rect x="594.5" y="337.82" width="4.5" height="3.97" fill="#66a9cf"/><rect x="598" y="337.82" width="4.5" height="3.97" fill="#6bacd1"/><rect x="601.5" y="337.82" width="4.5" height="3.97" fill="#6fafd2"/><rect x="605" y="337.82" width="4.5" height="3.97" fill="#74b2d4"/><rect x="608.5" y="337.82" width="4.5" height="3.97" fill="#79b5d5"/><rect x="612" y="337.82" width="4.5" height="3.97" fill="#85bdda"/><rect x="615.5" y="337.82" width="4.5" height="3.97" fill="#92c5de"/><rect x="619" y="337.82" width="4.5" height="3.97" fill="#9ccae1"/><rect x="622.5" y="337.82" width="4.5" height="3.97" fill="#a6cfe4"/><rect x="626" y="337.82" width="4.5" height="3.97" fill="#b2d5e7"/><rect x="629.5" y="337.82" width="4.5" height="3.97" fill="#c9e1ee"/><rect x="633" y="337.82" width="4.5" height="3.97" fill="#dceaf2"/><rect x="636.5" y="337.82" width="4.5" height="3.97" fill="#eaf1f5"/><rect x="640" y="337.82" width="4.5" height="3.97" fill="#f3f5f6"/><rect x="643.5" y="337.82" width="35" height="3.97" fill="#f9ece4"/><rect x="535" y="340.79" width="4.5" height="3.97" fill="#d6e7f1"/><rect x="538.5" y="340.79" width="4.5" height="3.97" fill="#c3deec"/><rect x="542" y="340.79" width="4.5" height="3.97" fill="#add3e6"/><rect x="545.5" y="340.79" width="4.5" height="3.97" fill="#97c7df"/><rect x="549" y="340.79" width="4.5" height="3.97" fill="#87beda"/><rect x="552.5" y="340.79" width="4.5" height="3.97" fill="#79b5d6"/><rect x="556" y="340.79" width="4.5" height="3.97" fill="#6badd1"/><rect x="559.5" y="340.79" width="4.5" height="3.97" fill="#62a7ce"/><rect x="563" y="340.79" width="4.5" height="3.97" fill="#60a5cd"/><rect x="566.5" y="340.79" width="4.5" height="3.97" fill="#5ea4cc"/><rect x="570" y="340.79" width="4.5" height="3.97" fill="#5ca3cc"/><rect x="573.5" y="340.79" width="4.5" height="3.97" fill="#5ba2cb"/><rect x="577" y="340.79" width="4.5" height="3.97" fill="#59a1ca"/><rect x="580.5" y="340.79" width="4.5" height="3.97" fill="#57a0ca"/><rect x="584" y="340.79" width="4.5" height="3.97" fill="#569fca"/><rect x="587.5" y="340.79" width="4.5" height="3.97" fill="#5ba2cb"/><rect x="591" y="340.79" width="4.5" height="3.97" fill="#5fa5cd"/><rect x="594.5" y="340.79" width="4.5" height="3.97" fill="#64a8ce"/><rect x="598" y="340.79" width="4.5" height="3.97" fill="#68aad0"/><rect x="601.5" y="340.79" width="4.5" height="3.97" fill="#6cadd1"/><rect x="605" y="340.79" width="4.5" height="3.97" fill="#71b0d3"/><rect x="608.5" y="340.79" width="4.5" height="3.97" fill="#76b3d4"/><rect x="612" y="340.79" width="4.5" height="3.97" fill="#83bbd9"/><rect x="615.5" y="340.79" width="4.5" height="3.97" fill="#90c4dd"/><rect x="619" y="340.79" width="4.5" height="3.97" fill="#9ac9e0"/><rect x="622.5" y="340.79" width="4.5" height="3.97" fill="#a5cfe3"/><rect x="626" y="340.79" width="4.5" height="3.97" fill="#afd4e6"/><rect x="629.5" y="340.79" width="4.5" height="3.97" fill="#b9d9e9"/><rect x="633" y="340.79" width="4.5" height="3.97" fill="#c8e0ed"/><rect x="636.5" y="340.79" width="4.5" height="3.97" fill="#d7e8f1"/><rect x="640" y="340.79" width="4.5" height="3.97" fill="#e2edf3"/><rect x="643.5" y="340.79" width="4.5" height="3.97" fill="#ebf1f5"/><rect x="647" y="340.79" width="4.5" height="3.97" fill="#edf2f5"/><rect x="650.5" y="340.79" width="4.5" height="3.97" fill="#eff3f5"/><rect x="654" y="340.79" width="4.5" height="3.97" fill="#f0f4f6"/><rect x="657.5" y="340.79" width="4.5" height="3.97" fill="#f1f4f6"/><rect x="661" y="340.79" width="4.5" height="3.97" fill="#f2f5f6"/><rect x="664.5" y="340.79" width="8" height="3.97" fill="#f3f5f6"/><rect x="671.5" y="340.79" width="4.5" height="3.97" fill="#f4f6f6"/><rect x="675" y="340.79" width="3.5" height="3.97" fill="#f5f6f7"/><rect x="535" y="343.76" width="4.5" height="2.97" fill="#d6e7f1"/><rect x="538.5" y="343.76" width="4.5" height="2.97" fill="#c3deec"/><rect x="542" y="343.76" width="4.5" height="2.97" fill="#add3e6"/><rect x="545.5" y="343.76" width="4.5" height="2.97" fill="#97c7df"/><rect x="549" y="343.76" width="4.5" height="2.97" fill="#87beda"/><rect x="552.5" y="343.76" width="4.5" height="2.97" fill="#79b5d6"/><rect x="556" y="343.76" width="4.5" height="2.97" fill="#6badd1"/><rect x="559.5" y="343.76" width="4.5" height="2.97" fill="#62a6ce"/><rect x="563" y="343.76" width="4.5" height="2.97" fill="#60a5cd"/><rect x="566.5" y="343.76" width="4.5" height="2.97" fill="#5da4cc"/><rect x="570" y="343.76" width="4.5" height="2.97" fill="#5ba2cb"/><rect x="573.5" y="343.76" width="4.5" height="2.97" fill="#59a1cb"/><rect x="577" y="343.76" width="4.5" height="2.97" fill="#57a0ca"/><rect x="580.5" y="343.76" width="4.5" height="2.97" fill="#559ec9"/><rect x="584" y="343.76" width="4.5" height="2.97" fill="#549ec9"/><rect x="587.5" y="343.76" width="4.5" height="2.97" fill="#58a0ca"/><rect x="591" y="343.76" width="4.5" height="2.97" fill="#5da3cc"/><rect x="594.5" y="343.76" width="4.5" height="2.97" fill="#61a6cd"/><rect x="598" y="343.76" width="4.5" height="2.97" fill="#65a9cf"/><rect x="601.5" y="343.76" width="4.5" height="2.97" fill="#6aacd0"/><rect x="605" y="343.76" width="4.5" height="2.97" fill="#6eaed2"/><rect x="608.5" y="343.76" width="4.5" height="2.97" fill="#73b2d4"/><rect x="612" y="343.76" width="4.5" height="2.97" fill="#81bad8"/><rect x="615.5" y="343.76" width="4.5" height="2.97" fill="#8ec2dd"/><rect x="619" y="343.76" width="4.5" height="2.97" fill="#99c9e0"/><rect x="622.5" y="343.76" width="4.5" height="2.97" fill="#a4cee3"/><rect x="626" y="343.76" width="4.5" height="2.97" fill="#aed3e6"/><rect x="629.5" y="343.76" width="4.5" height="2.97" fill="#b9d9e9"/><rect x="633" y="343.76" width="4.5" height="2.97" fill="#c4deec"/><rect x="636.5" y="343.76" width="4.5" height="2.97" fill="#cae2ee"/><rect x="640" y="343.76" width="4.5" height="2.97" fill="#d4e6f0"/><rect x="643.5" y="343.76" width="4.5" height="2.97" fill="#dceaf2"/><rect x="647" y="343.76" width="4.5" height="2.97" fill="#dfecf3"/><rect x="650.5" y="343.76" width="4.5" height="2.97" fill="#e3edf3"/><rect x="654" y="343.76" width="4.5" height="2.97" fill="#e5eff4"/><rect x="657.5" y="343.76" width="4.5" height="2.97" fill="#e8f0f4"/><rect x="661" y="343.76" width="4.5" height="2.97" fill="#e9f0f4"/><rect x="664.5" y="343.76" width="4.5" height="2.97" fill="#eaf1f5"/><rect x="668" y="343.76" width="4.5" height="2.97" fill="#ebf1f5"/><rect x="671.5" y="343.76" width="4.5" height="2.97" fill="#ebf2f5"/><rect x="675" y="343.76" width="3.5" height="2.97" fill="#ecf2f5"/>
</g></g>
<line x1="543.6" y1="344.7" x2="543.6" y2="339.1" stroke="#333333" stroke-width="0.95" />
<line x1="543.6" y1="203" x2="543.6" y2="208.6" stroke="#333333" stroke-width="0.95" />
<text x="543.6" y="357.7" font-size="10.1" text-anchor="middle" fill="#1a1a1a" stroke="#1a1a1a" >−5</text>
<line x1="606.6" y1="344.7" x2="606.6" y2="339.1" stroke="#333333" stroke-width="0.95" />
<line x1="606.6" y1="203" x2="606.6" y2="208.6" stroke="#333333" stroke-width="0.95" />
<text x="606.6" y="357.7" font-size="10.1" text-anchor="middle" fill="#1a1a1a" stroke="#1a1a1a" >0</text>
<line x1="669.6" y1="344.7" x2="669.6" y2="339.1" stroke="#333333" stroke-width="0.95" />
<line x1="669.6" y1="203" x2="669.6" y2="208.6" stroke="#333333" stroke-width="0.95" />
<text x="669.6" y="357.7" font-size="10.1" text-anchor="middle" fill="#1a1a1a" stroke="#1a1a1a" >5</text>
<line x1="575.1" y1="344.7" x2="575.1" y2="341.2" stroke="#333333" stroke-width="0.95" />
<line x1="575.1" y1="203" x2="575.1" y2="206.5" stroke="#333333" stroke-width="0.95" />
<line x1="638.1" y1="344.7" x2="638.1" y2="341.2" stroke="#333333" stroke-width="0.95" />
<line x1="638.1" y1="203" x2="638.1" y2="206.5" stroke="#333333" stroke-width="0.95" />
<line x1="535.4" y1="344.7" x2="541" y2="344.7" stroke="#333333" stroke-width="0.95" />
<line x1="677.9" y1="344.7" x2="672.3" y2="344.7" stroke="#333333" stroke-width="0.95" />
<text x="530.6" y="348.4" font-size="10.1" text-anchor="end" fill="#1a1a1a" stroke="#1a1a1a" >−12</text>
<line x1="535.4" y1="328.96" x2="538.9" y2="328.96" stroke="#333333" stroke-width="0.95" />
<line x1="677.9" y1="328.96" x2="674.4" y2="328.96" stroke="#333333" stroke-width="0.95" />
<line x1="535.4" y1="313.21" x2="538.9" y2="313.21" stroke="#333333" stroke-width="0.95" />
<line x1="677.9" y1="313.21" x2="674.4" y2="313.21" stroke="#333333" stroke-width="0.95" />
<line x1="535.4" y1="297.47" x2="541" y2="297.47" stroke="#333333" stroke-width="0.95" />
<line x1="677.9" y1="297.47" x2="672.3" y2="297.47" stroke="#333333" stroke-width="0.95" />
<text x="530.6" y="301.17" font-size="10.1" text-anchor="end" fill="#1a1a1a" stroke="#1a1a1a" >−6</text>
<line x1="535.4" y1="281.72" x2="538.9" y2="281.72" stroke="#333333" stroke-width="0.95" />
<line x1="677.9" y1="281.72" x2="674.4" y2="281.72" stroke="#333333" stroke-width="0.95" />
<line x1="535.4" y1="265.98" x2="538.9" y2="265.98" stroke="#333333" stroke-width="0.95" />
<line x1="677.9" y1="265.98" x2="674.4" y2="265.98" stroke="#333333" stroke-width="0.95" />
<line x1="535.4" y1="250.23" x2="541" y2="250.23" stroke="#333333" stroke-width="0.95" />
<line x1="677.9" y1="250.23" x2="672.3" y2="250.23" stroke="#333333" stroke-width="0.95" />
<text x="530.6" y="253.93" font-size="10.1" text-anchor="end" fill="#1a1a1a" stroke="#1a1a1a" >0</text>
<line x1="535.4" y1="234.49" x2="538.9" y2="234.49" stroke="#333333" stroke-width="0.95" />
<line x1="677.9" y1="234.49" x2="674.4" y2="234.49" stroke="#333333" stroke-width="0.95" />
<line x1="535.4" y1="218.74" x2="538.9" y2="218.74" stroke="#333333" stroke-width="0.95" />
<line x1="677.9" y1="218.74" x2="674.4" y2="218.74" stroke="#333333" stroke-width="0.95" />
<line x1="535.4" y1="203" x2="541" y2="203" stroke="#333333" stroke-width="0.95" />
<line x1="677.9" y1="203" x2="672.3" y2="203" stroke="#333333" stroke-width="0.95" />
<text x="530.6" y="206.7" font-size="10.1" text-anchor="end" fill="#1a1a1a" stroke="#1a1a1a" >6</text>
<line x1="535.4" y1="203" x2="535.4" y2="344.7" stroke="#333333" stroke-width="1.0" /><line x1="535.4" y1="344.7" x2="677.9" y2="344.7" stroke="#333333" stroke-width="1.0" /><line x1="677.9" y1="203" x2="677.9" y2="344.7" stroke="#333333" stroke-width="1.0" /><line x1="535.4" y1="203" x2="677.9" y2="203" stroke="#333333" stroke-width="1.0" />
<text x="625.7" y="218.2" font-size="10" text-anchor="start" fill="#1a1a1a" stroke="#1a1a1a" >D1-B</text>
<text x="625.7" y="231.2" font-size="10" fill="#1a1a1a" stroke="#1a1a1a"><tspan font-style="italic">B</tspan> = 0.5 T</text>
<text x="568" y="374" font-size="10" fill="#1a1a1a" stroke="#1a1a1a"><tspan font-style="italic">V</tspan><tspan font-size="7" dy="1.6">b</tspan><tspan dy="-1.6"> /</tspan><tspan font-style="italic">d</tspan><tspan font-size="7" dy="1.6">b</tspan><tspan dy="-1.6"> (mV nm</tspan><tspan font-size="7" dy="-3.5">−1</tspan><tspan dy="3.5">)</tspan></text>
<text transform="translate(504.5,273.6) rotate(-90)" font-size="10" text-anchor="middle" fill="#1a1a1a" stroke="#1a1a1a"><tspan font-style="italic">V</tspan><tspan font-size="7" dy="1.6">t</tspan><tspan dy="-1.6"> /</tspan><tspan font-style="italic">d</tspan><tspan font-size="7" dy="1.6">t</tspan><tspan dy="-1.6"> (mV nm</tspan><tspan font-size="7" dy="-3.5">−1</tspan><tspan dy="3.5">)</tspan></text>
<line x1="43.4" y1="345.3" x2="43.4" y2="339.7" stroke="#333333" stroke-width="0.95" />
<text x="43.4" y="357.9" font-size="10.1" text-anchor="middle" fill="#1a1a1a" stroke="#1a1a1a" >0</text>
<line x1="87.6" y1="345.3" x2="87.6" y2="339.7" stroke="#333333" stroke-width="0.95" />
<text x="87.6" y="357.9" font-size="10.1" text-anchor="middle" fill="#1a1a1a" stroke="#1a1a1a" >20</text>
<line x1="131.8" y1="345.3" x2="131.8" y2="339.7" stroke="#333333" stroke-width="0.95" />
<text x="131.8" y="357.9" font-size="10.1" text-anchor="middle" fill="#1a1a1a" stroke="#1a1a1a" >40</text>
<line x1="176" y1="345.3" x2="176" y2="339.7" stroke="#333333" stroke-width="0.95" />
<text x="176" y="357.9" font-size="10.1" text-anchor="middle" fill="#1a1a1a" stroke="#1a1a1a" >60</text>
<line x1="65.5" y1="345.3" x2="65.5" y2="342" stroke="#333333" stroke-width="0.95" />
<line x1="109.7" y1="345.3" x2="109.7" y2="342" stroke="#333333" stroke-width="0.95" />
<line x1="153.9" y1="345.3" x2="153.9" y2="342" stroke="#333333" stroke-width="0.95" />
<line x1="43.4" y1="344.9" x2="49" y2="344.9" stroke="#333333" stroke-width="0.95" />
<text x="38" y="348.6" font-size="10.1" text-anchor="end" fill="#1a1a1a" stroke="#1a1a1a" >0.02</text>
<line x1="43.4" y1="297.7" x2="49" y2="297.7" stroke="#333333" stroke-width="0.95" />
<text x="38" y="301.4" font-size="10.1" text-anchor="end" fill="#1a1a1a" stroke="#1a1a1a" >0.04</text>
<line x1="43.4" y1="250.5" x2="49" y2="250.5" stroke="#333333" stroke-width="0.95" />
<text x="38" y="254.2" font-size="10.1" text-anchor="end" fill="#1a1a1a" stroke="#1a1a1a" >0.06</text>
<line x1="43.4" y1="203.3" x2="49" y2="203.3" stroke="#333333" stroke-width="0.95" />
<text x="38" y="207" font-size="10.1" text-anchor="end" fill="#1a1a1a" stroke="#1a1a1a" >0.08</text>
<line x1="43.4" y1="321.3" x2="46.7" y2="321.3" stroke="#333333" stroke-width="0.95" />
<line x1="43.4" y1="274.1" x2="46.7" y2="274.1" stroke="#333333" stroke-width="0.95" />
<line x1="43.4" y1="226.9" x2="46.7" y2="226.9" stroke="#333333" stroke-width="0.95" />
<line x1="43.4" y1="203.2" x2="43.4" y2="345.3" stroke="#333333" stroke-width="1.0" /><line x1="43.4" y1="345.3" x2="186.6" y2="345.3" stroke="#333333" stroke-width="1.0" /><line x1="186.6" y1="203.2" x2="186.6" y2="345.3" stroke="#333333" stroke-width="1.0" /><line x1="43.4" y1="203.2" x2="186.6" y2="203.2" stroke="#333333" stroke-width="1.0" />
<line x1="43.4" y1="321.3" x2="186.6" y2="229.02" stroke="#6a6a6a" stroke-width="1.0" stroke-dasharray="3.2,2"/>
<circle cx="52.24" cy="311.62" r="2.75" fill="none" stroke="#d0343a" stroke-width="1.3"/>
<circle cx="63.29" cy="305.96" r="2.75" fill="none" stroke="#d0343a" stroke-width="1.3"/>
<circle cx="97.77" cy="289.2" r="2.75" fill="none" stroke="#d0343a" stroke-width="1.3"/>
<circle cx="115" cy="270.56" r="2.75" fill="none" stroke="#d0343a" stroke-width="1.3"/>
<circle cx="125.83" cy="270.56" r="2.75" fill="none" stroke="#d0343a" stroke-width="1.3"/>
<circle cx="136.88" cy="261.12" r="2.75" fill="none" stroke="#d0343a" stroke-width="1.3"/>
<circle cx="147.49" cy="260.88" r="2.75" fill="none" stroke="#d0343a" stroke-width="1.3"/>
<circle cx="158.98" cy="241.77" r="2.75" fill="none" stroke="#d0343a" stroke-width="1.3"/>
<circle cx="175.12" cy="235.63" r="2.75" fill="none" stroke="#d0343a" stroke-width="1.3"/>
<circle cx="57.77" cy="311.62" r="2.75" fill="none" stroke="#d0343a" stroke-width="1.3"/>
<circle cx="70.8" cy="304.07" r="2.75" fill="none" stroke="#d0343a" stroke-width="1.3"/>
<circle cx="81.85" cy="299.82" r="2.75" fill="none" stroke="#d0343a" stroke-width="1.3"/>
<rect x="49.2" y="309.02" width="5.2" height="5.2" fill="none" stroke="#2a7cc7" stroke-width="1.3"/>
<rect x="55.16" y="309.02" width="5.2" height="5.2" fill="none" stroke="#2a7cc7" stroke-width="1.3"/>
<rect x="60.69" y="305.96" width="5.2" height="5.2" fill="none" stroke="#2a7cc7" stroke-width="1.3"/>
<rect x="68.2" y="301.47" width="5.2" height="5.2" fill="none" stroke="#2a7cc7" stroke-width="1.3"/>
<rect x="79.25" y="297.22" width="5.2" height="5.2" fill="none" stroke="#2a7cc7" stroke-width="1.3"/>
<rect x="95.17" y="286.13" width="5.2" height="5.2" fill="none" stroke="#2a7cc7" stroke-width="1.3"/>
<rect x="112.4" y="267.96" width="5.2" height="5.2" fill="none" stroke="#2a7cc7" stroke-width="1.3"/>
<rect x="123.23" y="270.32" width="5.2" height="5.2" fill="none" stroke="#2a7cc7" stroke-width="1.3"/>
<rect x="134.28" y="265.13" width="5.2" height="5.2" fill="none" stroke="#2a7cc7" stroke-width="1.3"/>
<rect x="144.89" y="258.28" width="5.2" height="5.2" fill="none" stroke="#2a7cc7" stroke-width="1.3"/>
<rect x="156.38" y="236.81" width="5.2" height="5.2" fill="none" stroke="#2a7cc7" stroke-width="1.3"/>
<rect x="172.52" y="233.03" width="5.2" height="5.2" fill="none" stroke="#2a7cc7" stroke-width="1.3"/>
<polygon points="52.24,309.24 54.54,313.04 52.24,316.84 49.94,313.04" fill="none" stroke="#f0a830" stroke-width="1.15"/>
<polygon points="57.77,310.42 60.06,314.22 57.77,318.02 55.47,314.22" fill="none" stroke="#f0a830" stroke-width="1.15"/>
<polygon points="63.29,306.88 65.59,310.68 63.29,314.48 60.99,310.68" fill="none" stroke="#f0a830" stroke-width="1.15"/>
<polygon points="70.8,299.8 73.1,303.6 70.8,307.4 68.5,303.6" fill="none" stroke="#f0a830" stroke-width="1.15"/>
<polygon points="81.85,298.62 84.15,302.42 81.85,306.22 79.55,302.42" fill="none" stroke="#f0a830" stroke-width="1.15"/>
<polygon points="97.77,282.81 100.07,286.61 97.77,290.41 95.47,286.61" fill="none" stroke="#f0a830" stroke-width="1.15"/>
<polygon points="115,270.3 117.3,274.1 115,277.9 112.7,274.1" fill="none" stroke="#f0a830" stroke-width="1.15"/>
<polygon points="125.83,266.05 128.13,269.85 125.83,273.65 123.53,269.85" fill="none" stroke="#f0a830" stroke-width="1.15"/>
<polygon points="136.88,263.22 139.18,267.02 136.88,270.82 134.58,267.02" fill="none" stroke="#f0a830" stroke-width="1.15"/>
<polygon points="147.49,246.7 149.79,250.5 147.49,254.3 145.19,250.5" fill="none" stroke="#f0a830" stroke-width="1.15"/>
<polygon points="158.98,230.65 161.28,234.45 158.98,238.25 156.68,234.45" fill="none" stroke="#f0a830" stroke-width="1.15"/>
<polygon points="175.12,236.08 177.42,239.88 175.12,243.68 172.82,239.88" fill="none" stroke="#f0a830" stroke-width="1.15"/>
<circle cx="62.5" cy="216.6" r="2.75" fill="none" stroke="#d0343a" stroke-width="1.3"/>
<rect x="59.9" y="228.2" width="5.2" height="5.2" fill="none" stroke="#2a7cc7" stroke-width="1.3"/>
<polygon points="62.5,241.6 64.8,245.4 62.5,249.2 60.2,245.4" fill="none" stroke="#f0a830" stroke-width="1.15"/>
<text x="81" y="220.2" font-size="10" text-anchor="start" fill="#1a1a1a" stroke="#1a1a1a" >D1-A</text>
<text x="81" y="234.4" font-size="10" text-anchor="start" fill="#1a1a1a" stroke="#1a1a1a" >D1-B</text>
<text x="81" y="249" font-size="10" text-anchor="start" fill="#1a1a1a" stroke="#1a1a1a" >D1-C</text>
<text x="95.4" y="375" font-size="10" fill="#1a1a1a" stroke="#1a1a1a">|<tspan font-style="italic">V</tspan><tspan font-size="7" dx="0.9" dy="2.2">b</tspan><tspan font-size="6.5" dx="-3.9" dy="-6.6">ini</tspan><tspan dx="0.6" dy="4.4">| (V)</tspan></text>
<text transform="translate(12.2,274.6) rotate(-90)" font-size="10" text-anchor="middle" fill="#1a1a1a" stroke="#1a1a1a">|<tspan font-style="italic">P</tspan><tspan font-size="7" dy="1.6">2D</tspan><tspan dy="-1.6">| (pC m</tspan><tspan font-size="7" dy="-3.5">−1</tspan><tspan dy="3.5">)</tspan></text>
<polygon points="63.3,446 69.8,442 92.9,442 92.9,463 86.4,467 63.3,467" fill="#e29ca2" fill-opacity="0.82"/><polygon points="63.3,446 69.8,442 92.9,442 86.4,446" fill="#ffffff" fill-opacity="0.18"/><polygon points="86.4,446 92.9,442 92.9,463 86.4,467" fill="#000000" fill-opacity="0.04"/><polygon points="57.5,469.5 64,466 88,466 88,474.5 81.5,478 57.5,478" fill="#f5e5bd" fill-opacity="0.82"/><polygon points="57.5,469.5 64,466 88,466 81.5,469.5" fill="#ffffff" fill-opacity="0.18"/><polygon points="81.5,469.5 88,466 88,474.5 81.5,478" fill="#000000" fill-opacity="0.04"/><polygon points="59,481.5 65.5,478 90,478 90,486.5 83.5,490 59,490" fill="#a9cbe9" fill-opacity="0.82"/><polygon points="59,481.5 65.5,478 90,478 83.5,481.5" fill="#ffffff" fill-opacity="0.18"/><polygon points="83.5,481.5 90,478 90,486.5 83.5,490" fill="#000000" fill-opacity="0.04"/><line x1="71.3" y1="449.3" x2="71.3" y2="484" stroke="#5a4a4a" stroke-width="0.45" stroke-opacity="0.8"/><line x1="76.8" y1="449.3" x2="76.8" y2="484" stroke="#5a4a4a" stroke-width="0.45" stroke-opacity="0.8"/><path d="M66.8,448.3L70.63,448.3M70.63,448.3L73.63,445.3M70.63,448.3L69.53,450.8M76.82,446.7L73.63,445.3M76.82,446.7L78.19,448.3M79.74,449.8L78.19,448.3M79.74,449.8L77.28,451.5M79.74,449.8L82.74,446.3M85.93,447.7L82.74,446.3M85.93,447.7L87.3,448.3M85.93,447.7L85.02,450.5M87.3,448.3L91.4,447.3" stroke="#9a7ab0" stroke-width="0.5" fill="none"/><circle cx="66.8" cy="448.3" r="1.1" fill="#c6a2d6" stroke="#9a70b0" stroke-width="0.35"/><circle cx="73.63" cy="445.3" r="1.1" fill="#c6a2d6" stroke="#9a70b0" stroke-width="0.35"/><circle cx="78.19" cy="448.3" r="1.1" fill="#c6a2d6" stroke="#9a70b0" stroke-width="0.35"/><circle cx="82.74" cy="446.3" r="1.1" fill="#c6a2d6" stroke="#9a70b0" stroke-width="0.35"/><circle cx="87.3" cy="448.3" r="1.1" fill="#c6a2d6" stroke="#9a70b0" stroke-width="0.35"/><circle cx="91.4" cy="447.3" r="1.1" fill="#c6a2d6" stroke="#9a70b0" stroke-width="0.35"/><circle cx="69.53" cy="450.8" r="1.1" fill="#c6a2d6" stroke="#9a70b0" stroke-width="0.35"/><circle cx="77.28" cy="451.5" r="1.1" fill="#c6a2d6" stroke="#9a70b0" stroke-width="0.35"/><circle cx="85.02" cy="450.5" r="1.1" fill="#c6a2d6" stroke="#9a70b0" stroke-width="0.35"/><polygon points="68.93,449.2 72.33,449.2 70.83,447.1" fill="#3f8f2f"/><polygon points="75.12,447.6 78.52,447.6 77.02,445.5" fill="#3f8f2f"/><polygon points="78.04,450.7 81.44,450.7 79.94,448.6" fill="#3f8f2f"/><polygon points="84.23,448.6 87.63,448.6 86.13,446.5" fill="#3f8f2f"/><path d="M76.67,461.3L75.5,459.5M75.5,459.5L71.34,459.5M71.34,459.5L68.36,461.3M68.36,461.3L69.54,463.1M69.54,463.1L73.69,463.1M73.69,463.1L76.67,461.3M85.08,461.3L83.91,459.5M83.91,459.5L79.75,459.5M79.75,459.5L76.77,461.3M76.77,461.3L77.95,463.1M77.95,463.1L82.11,463.1M82.11,463.1L85.08,461.3M68.36,461.3L64.59,461.6M85.08,461.3L88.95,461M88.95,461L90.4,458.5M88.95,461L90.88,463.1M75.42,459.2L77.35,456.7M74.45,463.4L76.38,464.9M82.86,459.2L85.37,457.1M70.49,459.2L71.45,457" stroke="#a8382c" stroke-width="0.6" fill="none" stroke-opacity="0.85"/><circle cx="76.67" cy="461.3" r="1.05" fill="#a8382c"/><circle cx="75.5" cy="459.5" r="1.05" fill="#a8382c"/><circle cx="71.34" cy="459.5" r="1.05" fill="#a8382c"/><circle cx="68.36" cy="461.3" r="1.05" fill="#a8382c"/><circle cx="69.54" cy="463.1" r="1.05" fill="#a8382c"/><circle cx="73.69" cy="463.1" r="1.05" fill="#a8382c"/><circle cx="85.08" cy="461.3" r="1.05" fill="#a8382c"/><circle cx="83.91" cy="459.5" r="1.05" fill="#a8382c"/><circle cx="79.75" cy="459.5" r="1.05" fill="#a8382c"/><circle cx="76.77" cy="461.3" r="1.05" fill="#a8382c"/><circle cx="77.95" cy="463.1" r="1.05" fill="#a8382c"/><circle cx="82.11" cy="463.1" r="1.05" fill="#a8382c"/><circle cx="64.59" cy="461.6" r="1.05" fill="#a8382c"/><circle cx="88.95" cy="461" r="1.05" fill="#a8382c"/><circle cx="90.4" cy="458.5" r="1.05" fill="#a8382c"/><circle cx="90.88" cy="463.1" r="1.05" fill="#a8382c"/><circle cx="77.35" cy="456.7" r="1.05" fill="#a8382c"/><circle cx="76.38" cy="464.9" r="1.05" fill="#a8382c"/><circle cx="85.37" cy="457.1" r="1.05" fill="#a8382c"/><circle cx="71.45" cy="457" r="1.05" fill="#a8382c"/><path d="M71.56,473L70.35,471.2M70.35,471.2L66.13,471.2M66.13,471.2L63.12,473M63.12,473L64.33,474.8M64.33,474.8L68.55,474.8M68.55,474.8L71.56,473M80.1,473L78.89,471.2M78.89,471.2L74.67,471.2M74.67,471.2L71.66,473M71.66,473L72.87,474.8M72.87,474.8L77.09,474.8M77.09,474.8L80.1,473M63.12,473L59.29,473.3M80.1,473L84.03,472.7M84.03,472.7L85.5,470.2M84.03,472.7L85.99,474.8M70.29,470.9L72.25,468.4M69.31,475.1L71.27,476.6M77.84,470.9L80.4,468.8M65.28,470.9L66.26,468.7" stroke="#a5733a" stroke-width="0.6" fill="none" stroke-opacity="0.85"/><circle cx="71.56" cy="473" r="1.05" fill="#a5733a"/><circle cx="70.35" cy="471.2" r="1.05" fill="#a5733a"/><circle cx="66.13" cy="471.2" r="1.05" fill="#a5733a"/><circle cx="63.12" cy="473" r="1.05" fill="#a5733a"/><circle cx="64.33" cy="474.8" r="1.05" fill="#a5733a"/><circle cx="68.55" cy="474.8" r="1.05" fill="#a5733a"/><circle cx="80.1" cy="473" r="1.05" fill="#a5733a"/><circle cx="78.89" cy="471.2" r="1.05" fill="#a5733a"/><circle cx="74.67" cy="471.2" r="1.05" fill="#a5733a"/><circle cx="71.66" cy="473" r="1.05" fill="#a5733a"/><circle cx="72.87" cy="474.8" r="1.05" fill="#a5733a"/><circle cx="77.09" cy="474.8" r="1.05" fill="#a5733a"/><circle cx="59.29" cy="473.3" r="1.05" fill="#a5733a"/><circle cx="84.03" cy="472.7" r="1.05" fill="#a5733a"/><circle cx="85.5" cy="470.2" r="1.05" fill="#a5733a"/><circle cx="85.99" cy="474.8" r="1.05" fill="#a5733a"/><circle cx="72.25" cy="468.4" r="1.05" fill="#a5733a"/><circle cx="71.27" cy="476.6" r="1.05" fill="#a5733a"/><circle cx="80.4" cy="468.8" r="1.05" fill="#a5733a"/><circle cx="66.26" cy="468.7" r="1.05" fill="#a5733a"/><path d="M73.3,484L72.05,482.2M72.05,482.2L67.75,482.2M67.75,482.2L64.7,484M64.7,484L65.95,485.8M65.95,485.8L70.25,485.8M70.25,485.8L73.3,484M82,484L80.75,482.2M80.75,482.2L76.45,482.2M76.45,482.2L73.4,484M73.4,484L74.65,485.8M74.65,485.8L78.95,485.8M78.95,485.8L82,484M64.7,484L60.8,484.3M82,484L86,483.7M86,483.7L87.5,481.2M86,483.7L88,485.8M72,481.9L74,479.4M71,486.1L73,487.6M79.7,481.9L82.3,479.8M66.9,481.9L67.9,479.7" stroke="#585d66" stroke-width="0.6" fill="none" stroke-opacity="0.85"/><circle cx="73.3" cy="484" r="1.05" fill="#585d66"/><circle cx="72.05" cy="482.2" r="1.05" fill="#585d66"/><circle cx="67.75" cy="482.2" r="1.05" fill="#585d66"/><circle cx="64.7" cy="484" r="1.05" fill="#585d66"/><circle cx="65.95" cy="485.8" r="1.05" fill="#585d66"/><circle cx="70.25" cy="485.8" r="1.05" fill="#585d66"/><circle cx="82" cy="484" r="1.05" fill="#585d66"/><circle cx="80.75" cy="482.2" r="1.05" fill="#585d66"/><circle cx="76.45" cy="482.2" r="1.05" fill="#585d66"/><circle cx="73.4" cy="484" r="1.05" fill="#585d66"/><circle cx="74.65" cy="485.8" r="1.05" fill="#585d66"/><circle cx="78.95" cy="485.8" r="1.05" fill="#585d66"/><circle cx="60.8" cy="484.3" r="1.05" fill="#585d66"/><circle cx="86" cy="483.7" r="1.05" fill="#585d66"/><circle cx="87.5" cy="481.2" r="1.05" fill="#585d66"/><circle cx="88" cy="485.8" r="1.05" fill="#585d66"/><circle cx="74" cy="479.4" r="1.05" fill="#585d66"/><circle cx="73" cy="487.6" r="1.05" fill="#585d66"/><circle cx="82.3" cy="479.8" r="1.05" fill="#585d66"/><circle cx="67.9" cy="479.7" r="1.05" fill="#585d66"/>
<polygon points="108.1,398.4 114.6,394.4 140.9,394.4 140.9,414.2 134.4,418.2 108.1,418.2" fill="#e29ca2" fill-opacity="0.82"/><polygon points="108.1,398.4 114.6,394.4 140.9,394.4 134.4,398.4" fill="#ffffff" fill-opacity="0.18"/><polygon points="134.4,398.4 140.9,394.4 140.9,414.2 134.4,418.2" fill="#000000" fill-opacity="0.04"/><polygon points="105.2,422.3 111.7,418.8 138,418.8 138,426.2 131.5,429.7 105.2,429.7" fill="#f5e5bd" fill-opacity="0.82"/><polygon points="105.2,422.3 111.7,418.8 138,418.8 131.5,422.3" fill="#ffffff" fill-opacity="0.18"/><polygon points="131.5,422.3 138,418.8 138,426.2 131.5,429.7" fill="#000000" fill-opacity="0.04"/><polygon points="108.1,435.5 114.6,432 140.9,432 140.9,440.6 134.4,444.1 108.1,444.1" fill="#a9cbe9" fill-opacity="0.82"/><polygon points="108.1,435.5 114.6,432 140.9,432 134.4,435.5" fill="#ffffff" fill-opacity="0.18"/><polygon points="134.4,435.5 140.9,432 140.9,440.6 134.4,444.1" fill="#000000" fill-opacity="0.04"/><line x1="116.1" y1="401.9" x2="116.1" y2="439.5" stroke="#5a4a4a" stroke-width="0.45" stroke-opacity="0.8"/><line x1="121.6" y1="401.9" x2="121.6" y2="439.5" stroke="#5a4a4a" stroke-width="0.45" stroke-opacity="0.8"/><path d="M111.6,400.9L115.92,400.9M115.92,400.9L119.32,397.9M115.92,400.9L114.69,403.4M122.93,399.3L119.32,397.9M122.93,399.3L124.47,400.9M126.22,402.4L124.47,400.9M126.22,402.4L123.44,404.1M126.22,402.4L129.62,398.9M133.22,400.3L129.62,398.9M133.22,400.3L134.77,400.9M133.22,400.3L132.19,403.1M134.77,400.9L139.4,399.9" stroke="#9a7ab0" stroke-width="0.5" fill="none"/><circle cx="111.6" cy="400.9" r="1.1" fill="#c6a2d6" stroke="#9a70b0" stroke-width="0.35"/><circle cx="119.32" cy="397.9" r="1.1" fill="#c6a2d6" stroke="#9a70b0" stroke-width="0.35"/><circle cx="124.47" cy="400.9" r="1.1" fill="#c6a2d6" stroke="#9a70b0" stroke-width="0.35"/><circle cx="129.62" cy="398.9" r="1.1" fill="#c6a2d6" stroke="#9a70b0" stroke-width="0.35"/><circle cx="134.77" cy="400.9" r="1.1" fill="#c6a2d6" stroke="#9a70b0" stroke-width="0.35"/><circle cx="139.4" cy="399.9" r="1.1" fill="#c6a2d6" stroke="#9a70b0" stroke-width="0.35"/><circle cx="114.69" cy="403.4" r="1.1" fill="#c6a2d6" stroke="#9a70b0" stroke-width="0.35"/><circle cx="123.44" cy="404.1" r="1.1" fill="#c6a2d6" stroke="#9a70b0" stroke-width="0.35"/><circle cx="132.19" cy="403.1" r="1.1" fill="#c6a2d6" stroke="#9a70b0" stroke-width="0.35"/><polygon points="114.22,401.8 117.62,401.8 116.12,399.7" fill="#3f8f2f"/><polygon points="121.23,400.2 124.63,400.2 123.13,398.1" fill="#3f8f2f"/><polygon points="124.52,403.3 127.92,403.3 126.42,401.2" fill="#3f8f2f"/><polygon points="131.52,401.2 134.92,401.2 133.42,399.1" fill="#3f8f2f"/><path d="M122.99,414.2L121.56,412.4M121.56,412.4L116.89,412.4M116.89,412.4L113.66,414.2M113.66,414.2L115.09,416M115.09,416L119.76,416M119.76,416L122.99,414.2M132.43,414.2L131,412.4M131,412.4L126.33,412.4M126.33,412.4L123.1,414.2M123.1,414.2L124.53,416M124.53,416L129.2,416M129.2,416L132.43,414.2M113.66,414.2L109.43,414.5M132.43,414.2L136.77,413.9M136.77,413.9L138.4,411.4M136.77,413.9L138.94,416M121.58,412.1L123.75,409.6M120.49,416.3L122.66,417.8M129.94,412.1L132.76,410M116.05,412.1L117.13,409.9" stroke="#a8382c" stroke-width="0.6" fill="none" stroke-opacity="0.85"/><circle cx="122.99" cy="414.2" r="1.05" fill="#a8382c"/><circle cx="121.56" cy="412.4" r="1.05" fill="#a8382c"/><circle cx="116.89" cy="412.4" r="1.05" fill="#a8382c"/><circle cx="113.66" cy="414.2" r="1.05" fill="#a8382c"/><circle cx="115.09" cy="416" r="1.05" fill="#a8382c"/><circle cx="119.76" cy="416" r="1.05" fill="#a8382c"/><circle cx="132.43" cy="414.2" r="1.05" fill="#a8382c"/><circle cx="131" cy="412.4" r="1.05" fill="#a8382c"/><circle cx="126.33" cy="412.4" r="1.05" fill="#a8382c"/><circle cx="123.1" cy="414.2" r="1.05" fill="#a8382c"/><circle cx="124.53" cy="416" r="1.05" fill="#a8382c"/><circle cx="129.2" cy="416" r="1.05" fill="#a8382c"/><circle cx="109.43" cy="414.5" r="1.05" fill="#a8382c"/><circle cx="136.77" cy="413.9" r="1.05" fill="#a8382c"/><circle cx="138.4" cy="411.4" r="1.05" fill="#a8382c"/><circle cx="138.94" cy="416" r="1.05" fill="#a8382c"/><circle cx="123.75" cy="409.6" r="1.05" fill="#a8382c"/><circle cx="122.66" cy="417.8" r="1.05" fill="#a8382c"/><circle cx="132.76" cy="410" r="1.05" fill="#a8382c"/><circle cx="117.13" cy="409.9" r="1.05" fill="#a8382c"/><path d="M120.35,425.7L118.96,423.9M118.96,423.9L114.37,423.9M114.37,423.9L111.18,425.7M111.18,425.7L112.57,427.5M112.57,427.5L117.16,427.5M117.16,427.5L120.35,425.7M129.63,425.7L128.24,423.9M128.24,423.9L123.65,423.9M123.65,423.9L120.46,425.7M120.46,425.7L121.85,427.5M121.85,427.5L126.44,427.5M126.44,427.5L129.63,425.7M111.18,425.7L107.02,426M129.63,425.7L133.9,425.4M133.9,425.4L135.5,422.9M133.9,425.4L136.03,427.5M118.97,423.6L121.1,421.1M117.9,427.8L120.03,429.3M127.18,423.6L129.95,421.5M113.53,423.6L114.59,421.4" stroke="#a5733a" stroke-width="0.6" fill="none" stroke-opacity="0.85"/><circle cx="120.35" cy="425.7" r="1.05" fill="#a5733a"/><circle cx="118.96" cy="423.9" r="1.05" fill="#a5733a"/><circle cx="114.37" cy="423.9" r="1.05" fill="#a5733a"/><circle cx="111.18" cy="425.7" r="1.05" fill="#a5733a"/><circle cx="112.57" cy="427.5" r="1.05" fill="#a5733a"/><circle cx="117.16" cy="427.5" r="1.05" fill="#a5733a"/><circle cx="129.63" cy="425.7" r="1.05" fill="#a5733a"/><circle cx="128.24" cy="423.9" r="1.05" fill="#a5733a"/><circle cx="123.65" cy="423.9" r="1.05" fill="#a5733a"/><circle cx="120.46" cy="425.7" r="1.05" fill="#a5733a"/><circle cx="121.85" cy="427.5" r="1.05" fill="#a5733a"/><circle cx="126.44" cy="427.5" r="1.05" fill="#a5733a"/><circle cx="107.02" cy="426" r="1.05" fill="#a5733a"/><circle cx="133.9" cy="425.4" r="1.05" fill="#a5733a"/><circle cx="135.5" cy="422.9" r="1.05" fill="#a5733a"/><circle cx="136.03" cy="427.5" r="1.05" fill="#a5733a"/><circle cx="121.1" cy="421.1" r="1.05" fill="#a5733a"/><circle cx="120.03" cy="429.3" r="1.05" fill="#a5733a"/><circle cx="129.95" cy="421.5" r="1.05" fill="#a5733a"/><circle cx="114.59" cy="421.4" r="1.05" fill="#a5733a"/><path d="M123.25,439.5L121.86,437.7M121.86,437.7L117.27,437.7M117.27,437.7L114.08,439.5M114.08,439.5L115.47,441.3M115.47,441.3L120.06,441.3M120.06,441.3L123.25,439.5M132.53,439.5L131.14,437.7M131.14,437.7L126.55,437.7M126.55,437.7L123.36,439.5M123.36,439.5L124.75,441.3M124.75,441.3L129.34,441.3M129.34,441.3L132.53,439.5M114.08,439.5L109.92,439.8M132.53,439.5L136.8,439.2M136.8,439.2L138.4,436.7M136.8,439.2L138.93,441.3M121.87,437.4L124,434.9M120.8,441.6L122.93,443.1M130.08,437.4L132.85,435.3M116.43,437.4L117.49,435.2" stroke="#585d66" stroke-width="0.6" fill="none" stroke-opacity="0.85"/><circle cx="123.25" cy="439.5" r="1.05" fill="#585d66"/><circle cx="121.86" cy="437.7" r="1.05" fill="#585d66"/><circle cx="117.27" cy="437.7" r="1.05" fill="#585d66"/><circle cx="114.08" cy="439.5" r="1.05" fill="#585d66"/><circle cx="115.47" cy="441.3" r="1.05" fill="#585d66"/><circle cx="120.06" cy="441.3" r="1.05" fill="#585d66"/><circle cx="132.53" cy="439.5" r="1.05" fill="#585d66"/><circle cx="131.14" cy="437.7" r="1.05" fill="#585d66"/><circle cx="126.55" cy="437.7" r="1.05" fill="#585d66"/><circle cx="123.36" cy="439.5" r="1.05" fill="#585d66"/><circle cx="124.75" cy="441.3" r="1.05" fill="#585d66"/><circle cx="129.34" cy="441.3" r="1.05" fill="#585d66"/><circle cx="109.92" cy="439.8" r="1.05" fill="#585d66"/><circle cx="136.8" cy="439.2" r="1.05" fill="#585d66"/><circle cx="138.4" cy="436.7" r="1.05" fill="#585d66"/><circle cx="138.93" cy="441.3" r="1.05" fill="#585d66"/><circle cx="124" cy="434.9" r="1.05" fill="#585d66"/><circle cx="122.93" cy="443.1" r="1.05" fill="#585d66"/><circle cx="132.85" cy="435.3" r="1.05" fill="#585d66"/><circle cx="117.49" cy="435.2" r="1.05" fill="#585d66"/>
<polygon points="157,444.8 163.5,440.8 187.7,440.8 187.7,460.8 181.2,464.8 157,464.8" fill="#e29ca2" fill-opacity="0.82"/><polygon points="157,444.8 163.5,440.8 187.7,440.8 181.2,444.8" fill="#ffffff" fill-opacity="0.18"/><polygon points="181.2,444.8 187.7,440.8 187.7,460.8 181.2,464.8" fill="#000000" fill-opacity="0.04"/><polygon points="153.2,468.3 159.7,464.8 184.2,464.8 184.2,473.4 177.7,476.9 153.2,476.9" fill="#f5e5bd" fill-opacity="0.82"/><polygon points="153.2,468.3 159.7,464.8 184.2,464.8 177.7,468.3" fill="#ffffff" fill-opacity="0.18"/><polygon points="177.7,468.3 184.2,464.8 184.2,473.4 177.7,476.9" fill="#000000" fill-opacity="0.04"/><polygon points="152,480.9 158.5,477.4 182.5,477.4 182.5,487.2 176,490.7 152,490.7" fill="#a9cbe9" fill-opacity="0.82"/><polygon points="152,480.9 158.5,477.4 182.5,477.4 176,480.9" fill="#ffffff" fill-opacity="0.18"/><polygon points="176,480.9 182.5,477.4 182.5,487.2 176,490.7" fill="#000000" fill-opacity="0.04"/><line x1="165" y1="448.5" x2="165" y2="484.3" stroke="#5a4a4a" stroke-width="0.45" stroke-opacity="0.8"/><line x1="170.5" y1="448.5" x2="170.5" y2="484.3" stroke="#5a4a4a" stroke-width="0.45" stroke-opacity="0.8"/><path d="M160.5,447.5L164.5,447.5M164.5,447.5L167.64,444.5M164.5,447.5L163.36,450M170.97,445.9L167.64,444.5M170.97,445.9L172.4,447.5M174.02,449L172.4,447.5M174.02,449L171.45,450.7M174.02,449L177.16,445.5M180.49,446.9L177.16,445.5M180.49,446.9L181.92,447.5M180.49,446.9L179.54,449.7M181.92,447.5L186.2,446.5" stroke="#9a7ab0" stroke-width="0.5" fill="none"/><circle cx="160.5" cy="447.5" r="1.1" fill="#c6a2d6" stroke="#9a70b0" stroke-width="0.35"/><circle cx="167.64" cy="444.5" r="1.1" fill="#c6a2d6" stroke="#9a70b0" stroke-width="0.35"/><circle cx="172.4" cy="447.5" r="1.1" fill="#c6a2d6" stroke="#9a70b0" stroke-width="0.35"/><circle cx="177.16" cy="445.5" r="1.1" fill="#c6a2d6" stroke="#9a70b0" stroke-width="0.35"/><circle cx="181.92" cy="447.5" r="1.1" fill="#c6a2d6" stroke="#9a70b0" stroke-width="0.35"/><circle cx="186.2" cy="446.5" r="1.1" fill="#c6a2d6" stroke="#9a70b0" stroke-width="0.35"/><circle cx="163.36" cy="450" r="1.1" fill="#c6a2d6" stroke="#9a70b0" stroke-width="0.35"/><circle cx="171.45" cy="450.7" r="1.1" fill="#c6a2d6" stroke="#9a70b0" stroke-width="0.35"/><circle cx="179.54" cy="449.7" r="1.1" fill="#c6a2d6" stroke="#9a70b0" stroke-width="0.35"/><polygon points="162.8,448.4 166.2,448.4 164.7,446.3" fill="#3f8f2f"/><polygon points="169.27,446.8 172.67,446.8 171.17,444.7" fill="#3f8f2f"/><polygon points="172.32,449.9 175.72,449.9 174.22,447.8" fill="#3f8f2f"/><polygon points="178.79,447.8 182.19,447.8 180.69,445.7" fill="#3f8f2f"/><path d="M170.89,460.2L169.63,458.4M169.63,458.4L165.3,458.4M165.3,458.4L162.23,460.2M162.23,460.2L163.5,462M163.5,462L167.83,462M167.83,462L170.89,460.2M179.66,460.2L178.39,458.4M178.39,458.4L174.06,458.4M174.06,458.4L171,460.2M171,460.2L172.26,462M172.26,462L176.59,462M176.59,462L179.66,460.2M162.23,460.2L158.3,460.5M179.66,460.2L183.69,459.9M183.69,459.9L185.2,457.4M183.69,459.9L185.7,462M169.59,458.1L171.6,455.6M168.58,462.3L170.59,463.8M177.34,458.1L179.96,456M164.45,458.1L165.45,455.9" stroke="#a8382c" stroke-width="0.6" fill="none" stroke-opacity="0.85"/><circle cx="170.89" cy="460.2" r="1.05" fill="#a8382c"/><circle cx="169.63" cy="458.4" r="1.05" fill="#a8382c"/><circle cx="165.3" cy="458.4" r="1.05" fill="#a8382c"/><circle cx="162.23" cy="460.2" r="1.05" fill="#a8382c"/><circle cx="163.5" cy="462" r="1.05" fill="#a8382c"/><circle cx="167.83" cy="462" r="1.05" fill="#a8382c"/><circle cx="179.66" cy="460.2" r="1.05" fill="#a8382c"/><circle cx="178.39" cy="458.4" r="1.05" fill="#a8382c"/><circle cx="174.06" cy="458.4" r="1.05" fill="#a8382c"/><circle cx="171" cy="460.2" r="1.05" fill="#a8382c"/><circle cx="172.26" cy="462" r="1.05" fill="#a8382c"/><circle cx="176.59" cy="462" r="1.05" fill="#a8382c"/><circle cx="158.3" cy="460.5" r="1.05" fill="#a8382c"/><circle cx="183.69" cy="459.9" r="1.05" fill="#a8382c"/><circle cx="185.2" cy="457.4" r="1.05" fill="#a8382c"/><circle cx="185.7" cy="462" r="1.05" fill="#a8382c"/><circle cx="171.6" cy="455.6" r="1.05" fill="#a8382c"/><circle cx="170.59" cy="463.8" r="1.05" fill="#a8382c"/><circle cx="179.96" cy="456" r="1.05" fill="#a8382c"/><circle cx="165.45" cy="455.9" r="1.05" fill="#a8382c"/><path d="M167.5,470.5L166.25,468.7M166.25,468.7L161.95,468.7M161.95,468.7L158.9,470.5M158.9,470.5L160.15,472.3M160.15,472.3L164.45,472.3M164.45,472.3L167.5,470.5M176.2,470.5L174.95,468.7M174.95,468.7L170.65,468.7M170.65,468.7L167.6,470.5M167.6,470.5L168.85,472.3M168.85,472.3L173.15,472.3M173.15,472.3L176.2,470.5M158.9,470.5L155,470.8M176.2,470.5L180.2,470.2M180.2,470.2L181.7,467.7M180.2,470.2L182.2,472.3M166.2,468.4L168.2,465.9M165.2,472.6L167.2,474.1M173.9,468.4L176.5,466.3M161.1,468.4L162.1,466.2" stroke="#a5733a" stroke-width="0.6" fill="none" stroke-opacity="0.85"/><circle cx="167.5" cy="470.5" r="1.05" fill="#a5733a"/><circle cx="166.25" cy="468.7" r="1.05" fill="#a5733a"/><circle cx="161.95" cy="468.7" r="1.05" fill="#a5733a"/><circle cx="158.9" cy="470.5" r="1.05" fill="#a5733a"/><circle cx="160.15" cy="472.3" r="1.05" fill="#a5733a"/><circle cx="164.45" cy="472.3" r="1.05" fill="#a5733a"/><circle cx="176.2" cy="470.5" r="1.05" fill="#a5733a"/><circle cx="174.95" cy="468.7" r="1.05" fill="#a5733a"/><circle cx="170.65" cy="468.7" r="1.05" fill="#a5733a"/><circle cx="167.6" cy="470.5" r="1.05" fill="#a5733a"/><circle cx="168.85" cy="472.3" r="1.05" fill="#a5733a"/><circle cx="173.15" cy="472.3" r="1.05" fill="#a5733a"/><circle cx="155" cy="470.8" r="1.05" fill="#a5733a"/><circle cx="180.2" cy="470.2" r="1.05" fill="#a5733a"/><circle cx="181.7" cy="467.7" r="1.05" fill="#a5733a"/><circle cx="182.2" cy="472.3" r="1.05" fill="#a5733a"/><circle cx="168.2" cy="465.9" r="1.05" fill="#a5733a"/><circle cx="167.2" cy="474.1" r="1.05" fill="#a5733a"/><circle cx="176.5" cy="466.3" r="1.05" fill="#a5733a"/><circle cx="162.1" cy="466.2" r="1.05" fill="#a5733a"/><path d="M166.06,484.3L164.85,482.5M164.85,482.5L160.63,482.5M160.63,482.5L157.62,484.3M157.62,484.3L158.83,486.1M158.83,486.1L163.05,486.1M163.05,486.1L166.06,484.3M174.6,484.3L173.39,482.5M173.39,482.5L169.17,482.5M169.17,482.5L166.16,484.3M166.16,484.3L167.37,486.1M167.37,486.1L171.59,486.1M171.59,486.1L174.6,484.3M157.62,484.3L153.79,484.6M174.6,484.3L178.53,484M178.53,484L180,481.5M178.53,484L180.49,486.1M164.79,482.2L166.75,479.7M163.81,486.4L165.77,487.9M172.34,482.2L174.9,480.1M159.78,482.2L160.76,480" stroke="#585d66" stroke-width="0.6" fill="none" stroke-opacity="0.85"/><circle cx="166.06" cy="484.3" r="1.05" fill="#585d66"/><circle cx="164.85" cy="482.5" r="1.05" fill="#585d66"/><circle cx="160.63" cy="482.5" r="1.05" fill="#585d66"/><circle cx="157.62" cy="484.3" r="1.05" fill="#585d66"/><circle cx="158.83" cy="486.1" r="1.05" fill="#585d66"/><circle cx="163.05" cy="486.1" r="1.05" fill="#585d66"/><circle cx="174.6" cy="484.3" r="1.05" fill="#585d66"/><circle cx="173.39" cy="482.5" r="1.05" fill="#585d66"/><circle cx="169.17" cy="482.5" r="1.05" fill="#585d66"/><circle cx="166.16" cy="484.3" r="1.05" fill="#585d66"/><circle cx="167.37" cy="486.1" r="1.05" fill="#585d66"/><circle cx="171.59" cy="486.1" r="1.05" fill="#585d66"/><circle cx="153.79" cy="484.6" r="1.05" fill="#585d66"/><circle cx="178.53" cy="484" r="1.05" fill="#585d66"/><circle cx="180" cy="481.5" r="1.05" fill="#585d66"/><circle cx="180.49" cy="486.1" r="1.05" fill="#585d66"/><circle cx="166.75" cy="479.7" r="1.05" fill="#585d66"/><circle cx="165.77" cy="487.9" r="1.05" fill="#585d66"/><circle cx="174.9" cy="480.1" r="1.05" fill="#585d66"/><circle cx="160.76" cy="480" r="1.05" fill="#585d66"/>
<line x1="39.6" y1="507.8" x2="39.6" y2="503.9" stroke="#333333" stroke-width="0.95" />
<line x1="67.95" y1="507.8" x2="67.95" y2="503.9" stroke="#333333" stroke-width="0.95" />
<line x1="96.3" y1="507.8" x2="96.3" y2="503.9" stroke="#333333" stroke-width="0.95" />
<line x1="124.65" y1="507.8" x2="124.65" y2="503.9" stroke="#333333" stroke-width="0.95" />
<line x1="153" y1="507.8" x2="153" y2="503.9" stroke="#333333" stroke-width="0.95" />
<line x1="181.35" y1="507.8" x2="181.35" y2="503.9" stroke="#333333" stroke-width="0.95" />
<line x1="209.7" y1="507.8" x2="209.7" y2="503.9" stroke="#333333" stroke-width="0.95" />
<line x1="31.5" y1="496.2" x2="35.2" y2="496.2" stroke="#333333" stroke-width="0.95" />
<text x="26.3" y="499.9" font-size="10.1" text-anchor="end" fill="#1a1a1a" stroke="#1a1a1a" >0</text>
<line x1="31.5" y1="444.5" x2="35.2" y2="444.5" stroke="#333333" stroke-width="0.95" />
<text x="26.3" y="448.2" font-size="10.1" text-anchor="end" fill="#1a1a1a" stroke="#1a1a1a" >2</text>
<line x1="31.5" y1="392.8" x2="35.2" y2="392.8" stroke="#333333" stroke-width="0.95" />
<text x="26.3" y="396.5" font-size="10.1" text-anchor="end" fill="#1a1a1a" stroke="#1a1a1a" >4</text>
<line x1="31.5" y1="392.5" x2="31.5" y2="507.8" stroke="#333333" stroke-width="1.0" /><line x1="31.5" y1="507.8" x2="218.4" y2="507.8" stroke="#333333" stroke-width="1.0" /><line x1="218.4" y1="392.5" x2="218.4" y2="507.8" stroke="#333333" stroke-width="1.0" /><line x1="31.5" y1="392.5" x2="218.4" y2="392.5" stroke="#333333" stroke-width="1.0" />
<path d="M39.6,495.7 C40.58,494.88 43.33,493.92 45.5,490.8 C47.67,487.68 49.97,484.37 52.6,477 C55.23,469.63 58.68,455.18 61.3,446.6 C63.92,438.02 66.25,431.05 68.3,425.5 C70.35,419.95 71.85,416.5 73.6,413.3 C75.35,410.1 77.05,407.97 78.8,406.3 C80.55,404.63 82.05,403.3 84.1,403.3 C86.15,403.3 89.05,403.97 91.1,406.3 C93.15,408.63 94.35,412.92 96.4,417.3 C98.45,421.68 101.07,427.13 103.4,432.6 C105.73,438.07 108.25,445.32 110.4,450.1 C112.55,454.88 113.83,458.4 116.3,461.3 C118.77,464.2 122.05,467.5 125.2,467.5 C128.35,467.5 131.95,465.95 135.2,461.3 C138.45,456.65 141.67,447.15 144.7,439.6 C147.73,432.05 150.92,421.65 153.4,416 C155.88,410.35 157.43,408.08 159.6,405.7 C161.77,403.32 163.92,401.7 166.4,401.7 C168.88,401.7 172.02,402.63 174.5,405.7 C176.98,408.77 178.82,414 181.3,420.1 C183.78,426.2 186.7,435.43 189.4,442.3 C192.1,449.17 195.02,456.33 197.5,461.3 C199.98,466.27 202.27,469.48 204.3,472.1 C206.33,474.72 208.8,476.18 209.7,477" fill="none" stroke="#111" stroke-width="1.05"/>
<circle cx="39.6" cy="495.7" r="2.5" fill="#b01018" stroke="#3a3a3a" stroke-width="0.5"/>
<circle cx="68.3" cy="425.5" r="2.5" fill="#8a8a8a" stroke="#3a3a3a" stroke-width="0.5"/>
<circle cx="96.4" cy="417.3" r="2.5" fill="#8a8a8a" stroke="#3a3a3a" stroke-width="0.5"/>
<circle cx="125.2" cy="467.5" r="2.5" fill="#b01018" stroke="#3a3a3a" stroke-width="0.5"/>
<circle cx="153.4" cy="416" r="2.5" fill="#8a8a8a" stroke="#3a3a3a" stroke-width="0.5"/>
<circle cx="181.3" cy="420.1" r="2.5" fill="#8a8a8a" stroke="#3a3a3a" stroke-width="0.5"/>
<circle cx="209.7" cy="477" r="2.5" fill="#b01018" stroke="#3a3a3a" stroke-width="0.5"/>
<text x="46.4" y="499.3" font-size="8.8" fill="#aa3a30" stroke="#aa3a30" style="stroke-width:0.12px" >ABCA</text>
<text x="113.5" y="455" font-size="8.8" fill="#aa3a30" stroke="#aa3a30" style="stroke-width:0.12px" >ABAB</text>
<text x="189.4" y="490.2" font-size="8.8" fill="#aa3a30" stroke="#aa3a30" style="stroke-width:0.12px" >ABAC</text>
<text x="39.6" y="520.4" font-size="10.1" text-anchor="middle" fill="#1a1a1a" stroke="#1a1a1a" >Initial</text>
<text x="209.5" y="520.4" font-size="10.1" text-anchor="middle" fill="#1a1a1a" stroke="#1a1a1a" >Final</text><text transform="translate(11.2,448.7) rotate(-90)" font-size="9.5" text-anchor="middle" fill="#1a1a1a" stroke="#1a1a1a"><tspan font-style="italic">ΔE</tspan> (meV u.c.<tspan font-size="7" dy="-3.5">−1</tspan><tspan dy="3.5">)</tspan></text>
<line x1="258.7" y1="507.8" x2="258.7" y2="503.9" stroke="#333333" stroke-width="0.95" />
<line x1="270.08" y1="507.8" x2="270.08" y2="503.9" stroke="#333333" stroke-width="0.95" />
<line x1="281.46" y1="507.8" x2="281.46" y2="503.9" stroke="#333333" stroke-width="0.95" />
<line x1="292.84" y1="507.8" x2="292.84" y2="503.9" stroke="#333333" stroke-width="0.95" />
<line x1="304.22" y1="507.8" x2="304.22" y2="503.9" stroke="#333333" stroke-width="0.95" />
<line x1="315.6" y1="507.8" x2="315.6" y2="503.9" stroke="#333333" stroke-width="0.95" />
<line x1="326.98" y1="507.8" x2="326.98" y2="503.9" stroke="#333333" stroke-width="0.95" />
<line x1="255.2" y1="392.2" x2="258.9" y2="392.2" stroke="#333333" stroke-width="0.95" />
<text x="250" y="395.9" font-size="10.1" text-anchor="end" fill="#1a1a1a" stroke="#1a1a1a" >1.7</text>
<line x1="255.2" y1="450.4" x2="258.9" y2="450.4" stroke="#333333" stroke-width="0.95" />
<text x="250" y="454.1" font-size="10.1" text-anchor="end" fill="#1a1a1a" stroke="#1a1a1a" >1.4</text>
<line x1="255.2" y1="507.8" x2="258.9" y2="507.8" stroke="#333333" stroke-width="0.95" />
<text x="250" y="511.5" font-size="10.1" text-anchor="end" fill="#1a1a1a" stroke="#1a1a1a" >1.1</text>
<line x1="255.2" y1="392.5" x2="255.2" y2="507.8" stroke="#333333" stroke-width="1.0" /><line x1="255.2" y1="507.8" x2="331" y2="507.8" stroke="#333333" stroke-width="1.0" /><line x1="331" y1="392.5" x2="331" y2="507.8" stroke="#333333" stroke-width="1.0" /><line x1="255.2" y1="392.5" x2="331" y2="392.5" stroke="#333333" stroke-width="1.0" />
<path d="M258.7,402.2 C259.67,403.1 262.6,405.33 264.5,407.6 C266.4,409.87 268.18,412.48 270.1,415.8 C272.02,419.12 274.05,422.85 276,427.5 C277.95,432.15 279.88,438.37 281.8,443.7 C283.72,449.03 285.62,454.4 287.5,459.5 C289.38,464.6 291.27,469.8 293.1,474.3 C294.93,478.8 296.6,483.48 298.5,486.5 C300.4,489.52 302.58,491.57 304.5,492.4 C306.42,493.23 308.15,492.27 310,491.5 C311.85,490.73 313.72,489.1 315.6,487.8 C317.48,486.5 319.4,485.05 321.3,483.7 C323.2,482.35 326.05,480.37 327,479.7" fill="none" stroke="#111" stroke-width="1.05"/>
<circle cx="258.7" cy="402.2" r="2.5" fill="#b01018" stroke="#3a3a3a" stroke-width="0.5"/>
<circle cx="270.1" cy="415.8" r="2.5" fill="#8a8a8a" stroke="#3a3a3a" stroke-width="0.5"/>
<circle cx="281.8" cy="443.7" r="2.5" fill="#8a8a8a" stroke="#3a3a3a" stroke-width="0.5"/>
<circle cx="293.1" cy="474.3" r="2.5" fill="#b01018" stroke="#3a3a3a" stroke-width="0.5"/>
<circle cx="304.5" cy="492.4" r="2.5" fill="#8a8a8a" stroke="#3a3a3a" stroke-width="0.5"/>
<circle cx="315.6" cy="487.8" r="2.5" fill="#8a8a8a" stroke="#3a3a3a" stroke-width="0.5"/>
<circle cx="327" cy="479.7" r="2.5" fill="#b01018" stroke="#3a3a3a" stroke-width="0.5"/>
<text x="263.3" y="402.7" font-size="8.8" fill="#aa3a30" stroke="#aa3a30" style="stroke-width:0.12px" >ABCA</text>
<text x="265.5" y="475.3" font-size="8.8" fill="#aa3a30" stroke="#aa3a30" style="stroke-width:0.12px" >ABAB</text>
<text x="306.1" y="475.3" font-size="8.8" fill="#aa3a30" stroke="#aa3a30" style="stroke-width:0.12px" >ABAC</text>
<text x="258.7" y="520.4" font-size="10.1" text-anchor="middle" fill="#1a1a1a" stroke="#1a1a1a" >Initial</text>
<text x="327" y="520.4" font-size="10.1" text-anchor="middle" fill="#1a1a1a" stroke="#1a1a1a" >Final</text><text transform="translate(232.3,451) rotate(-90)" font-size="10" text-anchor="middle" fill="#1a1a1a" stroke="#1a1a1a"><tspan font-style="italic">P</tspan><tspan font-size="7" dy="1.6">2D</tspan><tspan dy="-1.6"> (pC m</tspan><tspan font-size="7" dy="-3.5">−1</tspan><tspan dy="3.5">)</tspan></text>
<polygon points="416.8,443.4 423.3,439.4 443,439.4 443,470.3 436.5,474.3 416.8,474.3" fill="#e29ca2" fill-opacity="0.82"/><polygon points="416.8,443.4 423.3,439.4 443,439.4 436.5,443.4" fill="#ffffff" fill-opacity="0.18"/><polygon points="436.5,443.4 443,439.4 443,470.3 436.5,474.3" fill="#000000" fill-opacity="0.04"/><polygon points="411.2,477.8 417.7,474.3 439.3,474.3 439.3,481.4 432.8,484.9 411.2,484.9" fill="#f5e5bd" fill-opacity="0.82"/><polygon points="411.2,477.8 417.7,474.3 439.3,474.3 432.8,477.8" fill="#ffffff" fill-opacity="0.18"/><polygon points="432.8,477.8 439.3,474.3 439.3,481.4 432.8,484.9" fill="#000000" fill-opacity="0.04"/><polygon points="413.1,489 419.6,485.5 441.2,485.5 441.2,492.6 434.7,496.1 413.1,496.1" fill="#a9cbe9" fill-opacity="0.82"/><polygon points="413.1,489 419.6,485.5 441.2,485.5 434.7,489" fill="#ffffff" fill-opacity="0.18"/><polygon points="434.7,489 441.2,485.5 441.2,492.6 434.7,496.1" fill="#000000" fill-opacity="0.04"/><line x1="424.8" y1="446.6" x2="424.8" y2="490.5" stroke="#5a4a4a" stroke-width="0.45" stroke-opacity="0.8"/><line x1="430.3" y1="446.6" x2="430.3" y2="490.5" stroke="#5a4a4a" stroke-width="0.45" stroke-opacity="0.8"/><path d="M420.3,445.6L423.6,445.6M423.6,445.6L426.19,442.6M423.6,445.6L422.66,448.1M428.94,444L426.19,442.6M428.94,444L430.11,445.6M431.45,447.1L430.11,445.6M431.45,447.1L429.33,448.8M431.45,447.1L434.04,443.6M436.79,445L434.04,443.6M436.79,445L437.97,445.6M436.79,445L436,447.8M437.97,445.6L441.5,444.6" stroke="#9a7ab0" stroke-width="0.5" fill="none"/><circle cx="420.3" cy="445.6" r="1.1" fill="#c6a2d6" stroke="#9a70b0" stroke-width="0.35"/><circle cx="426.19" cy="442.6" r="1.1" fill="#c6a2d6" stroke="#9a70b0" stroke-width="0.35"/><circle cx="430.11" cy="445.6" r="1.1" fill="#c6a2d6" stroke="#9a70b0" stroke-width="0.35"/><circle cx="434.04" cy="443.6" r="1.1" fill="#c6a2d6" stroke="#9a70b0" stroke-width="0.35"/><circle cx="437.97" cy="445.6" r="1.1" fill="#c6a2d6" stroke="#9a70b0" stroke-width="0.35"/><circle cx="441.5" cy="444.6" r="1.1" fill="#c6a2d6" stroke="#9a70b0" stroke-width="0.35"/><circle cx="422.66" cy="448.1" r="1.1" fill="#c6a2d6" stroke="#9a70b0" stroke-width="0.35"/><circle cx="429.33" cy="448.8" r="1.1" fill="#c6a2d6" stroke="#9a70b0" stroke-width="0.35"/><circle cx="436" cy="447.8" r="1.1" fill="#c6a2d6" stroke="#9a70b0" stroke-width="0.35"/><polygon points="421.9,446.5 425.3,446.5 423.8,444.4" fill="#3f8f2f"/><polygon points="427.24,444.9 430.64,444.9 429.14,442.8" fill="#3f8f2f"/><polygon points="429.75,448 433.15,448 431.65,445.9" fill="#3f8f2f"/><polygon points="435.09,445.9 438.49,445.9 436.99,443.8" fill="#3f8f2f"/><path d="M428.56,457.4L427.65,455.6M427.65,455.6L424.04,455.6M424.04,455.6L421.33,457.4M421.33,457.4L422.24,459.2M422.24,459.2L425.85,459.2M425.85,459.2L428.56,457.4M435.88,457.4L434.97,455.6M434.97,455.6L431.35,455.6M431.35,455.6L428.65,457.4M428.65,457.4L429.55,459.2M429.55,459.2L433.17,459.2M433.17,459.2L435.88,457.4M421.33,457.4L418.05,457.7M435.88,457.4L439.24,457.1M439.24,457.1L440.5,454.6M439.24,457.1L440.92,459.2M427.47,455.3L429.15,452.8M426.63,459.5L428.31,461M433.94,455.3L436.13,453.2M423.18,455.3L424.02,453.1" stroke="#a8382c" stroke-width="0.6" fill="none" stroke-opacity="0.85"/><circle cx="428.56" cy="457.4" r="1.05" fill="#a8382c"/><circle cx="427.65" cy="455.6" r="1.05" fill="#a8382c"/><circle cx="424.04" cy="455.6" r="1.05" fill="#a8382c"/><circle cx="421.33" cy="457.4" r="1.05" fill="#a8382c"/><circle cx="422.24" cy="459.2" r="1.05" fill="#a8382c"/><circle cx="425.85" cy="459.2" r="1.05" fill="#a8382c"/><circle cx="435.88" cy="457.4" r="1.05" fill="#a8382c"/><circle cx="434.97" cy="455.6" r="1.05" fill="#a8382c"/><circle cx="431.35" cy="455.6" r="1.05" fill="#a8382c"/><circle cx="428.65" cy="457.4" r="1.05" fill="#a8382c"/><circle cx="429.55" cy="459.2" r="1.05" fill="#a8382c"/><circle cx="433.17" cy="459.2" r="1.05" fill="#a8382c"/><circle cx="418.05" cy="457.7" r="1.05" fill="#a8382c"/><circle cx="439.24" cy="457.1" r="1.05" fill="#a8382c"/><circle cx="440.5" cy="454.6" r="1.05" fill="#a8382c"/><circle cx="440.92" cy="459.2" r="1.05" fill="#a8382c"/><circle cx="429.15" cy="452.8" r="1.05" fill="#a8382c"/><circle cx="428.31" cy="461" r="1.05" fill="#a8382c"/><circle cx="436.13" cy="453.2" r="1.05" fill="#a8382c"/><circle cx="424.02" cy="453.1" r="1.05" fill="#a8382c"/><path d="M428.56,468.7L427.65,466.9M427.65,466.9L424.04,466.9M424.04,466.9L421.33,468.7M421.33,468.7L422.24,470.5M422.24,470.5L425.85,470.5M425.85,470.5L428.56,468.7M435.88,468.7L434.97,466.9M434.97,466.9L431.35,466.9M431.35,466.9L428.65,468.7M428.65,468.7L429.55,470.5M429.55,470.5L433.17,470.5M433.17,470.5L435.88,468.7M421.33,468.7L418.05,469M435.88,468.7L439.24,468.4M439.24,468.4L440.5,465.9M439.24,468.4L440.92,470.5M427.47,466.6L429.15,464.1M426.63,470.8L428.31,472.3M433.94,466.6L436.13,464.5M423.18,466.6L424.02,464.4" stroke="#a8382c" stroke-width="0.6" fill="none" stroke-opacity="0.85"/><circle cx="428.56" cy="468.7" r="1.05" fill="#a8382c"/><circle cx="427.65" cy="466.9" r="1.05" fill="#a8382c"/><circle cx="424.04" cy="466.9" r="1.05" fill="#a8382c"/><circle cx="421.33" cy="468.7" r="1.05" fill="#a8382c"/><circle cx="422.24" cy="470.5" r="1.05" fill="#a8382c"/><circle cx="425.85" cy="470.5" r="1.05" fill="#a8382c"/><circle cx="435.88" cy="468.7" r="1.05" fill="#a8382c"/><circle cx="434.97" cy="466.9" r="1.05" fill="#a8382c"/><circle cx="431.35" cy="466.9" r="1.05" fill="#a8382c"/><circle cx="428.65" cy="468.7" r="1.05" fill="#a8382c"/><circle cx="429.55" cy="470.5" r="1.05" fill="#a8382c"/><circle cx="433.17" cy="470.5" r="1.05" fill="#a8382c"/><circle cx="418.05" cy="469" r="1.05" fill="#a8382c"/><circle cx="439.24" cy="468.4" r="1.05" fill="#a8382c"/><circle cx="440.5" cy="465.9" r="1.05" fill="#a8382c"/><circle cx="440.92" cy="470.5" r="1.05" fill="#a8382c"/><circle cx="429.15" cy="464.1" r="1.05" fill="#a8382c"/><circle cx="428.31" cy="472.3" r="1.05" fill="#a8382c"/><circle cx="436.13" cy="464.5" r="1.05" fill="#a8382c"/><circle cx="424.02" cy="464.4" r="1.05" fill="#a8382c"/><path d="M424.13,481.1L423.11,479.3M423.11,479.3L419.27,479.3M419.27,479.3L416.45,481.1M416.45,481.1L417.47,482.9M417.47,482.9L421.31,482.9M421.31,482.9L424.13,481.1M431.89,481.1L430.87,479.3M430.87,479.3L427.03,479.3M427.03,479.3L424.21,481.1M424.21,481.1L425.23,482.9M425.23,482.9L429.07,482.9M429.07,482.9L431.89,481.1M416.45,481.1L412.97,481.4M431.89,481.1L435.46,480.8M435.46,480.8L436.8,478.3M435.46,480.8L437.25,482.9M422.96,479L424.75,476.5M422.07,483.2L423.86,484.7M429.84,479L432.16,476.9M418.41,479L419.31,476.8" stroke="#a5733a" stroke-width="0.6" fill="none" stroke-opacity="0.85"/><circle cx="424.13" cy="481.1" r="1.05" fill="#a5733a"/><circle cx="423.11" cy="479.3" r="1.05" fill="#a5733a"/><circle cx="419.27" cy="479.3" r="1.05" fill="#a5733a"/><circle cx="416.45" cy="481.1" r="1.05" fill="#a5733a"/><circle cx="417.47" cy="482.9" r="1.05" fill="#a5733a"/><circle cx="421.31" cy="482.9" r="1.05" fill="#a5733a"/><circle cx="431.89" cy="481.1" r="1.05" fill="#a5733a"/><circle cx="430.87" cy="479.3" r="1.05" fill="#a5733a"/><circle cx="427.03" cy="479.3" r="1.05" fill="#a5733a"/><circle cx="424.21" cy="481.1" r="1.05" fill="#a5733a"/><circle cx="425.23" cy="482.9" r="1.05" fill="#a5733a"/><circle cx="429.07" cy="482.9" r="1.05" fill="#a5733a"/><circle cx="412.97" cy="481.4" r="1.05" fill="#a5733a"/><circle cx="435.46" cy="480.8" r="1.05" fill="#a5733a"/><circle cx="436.8" cy="478.3" r="1.05" fill="#a5733a"/><circle cx="437.25" cy="482.9" r="1.05" fill="#a5733a"/><circle cx="424.75" cy="476.5" r="1.05" fill="#a5733a"/><circle cx="423.86" cy="484.7" r="1.05" fill="#a5733a"/><circle cx="432.16" cy="476.9" r="1.05" fill="#a5733a"/><circle cx="419.31" cy="476.8" r="1.05" fill="#a5733a"/><path d="M426.03,490.5L425.01,488.7M425.01,488.7L421.17,488.7M421.17,488.7L418.35,490.5M418.35,490.5L419.37,492.3M419.37,492.3L423.21,492.3M423.21,492.3L426.03,490.5M433.79,490.5L432.77,488.7M432.77,488.7L428.93,488.7M428.93,488.7L426.11,490.5M426.11,490.5L427.13,492.3M427.13,492.3L430.97,492.3M430.97,492.3L433.79,490.5M418.35,490.5L414.87,490.8M433.79,490.5L437.36,490.2M437.36,490.2L438.7,487.7M437.36,490.2L439.15,492.3M424.86,488.4L426.65,485.9M423.97,492.6L425.76,494.1M431.74,488.4L434.06,486.3M420.31,488.4L421.21,486.2" stroke="#585d66" stroke-width="0.6" fill="none" stroke-opacity="0.85"/><circle cx="426.03" cy="490.5" r="1.05" fill="#585d66"/><circle cx="425.01" cy="488.7" r="1.05" fill="#585d66"/><circle cx="421.17" cy="488.7" r="1.05" fill="#585d66"/><circle cx="418.35" cy="490.5" r="1.05" fill="#585d66"/><circle cx="419.37" cy="492.3" r="1.05" fill="#585d66"/><circle cx="423.21" cy="492.3" r="1.05" fill="#585d66"/><circle cx="433.79" cy="490.5" r="1.05" fill="#585d66"/><circle cx="432.77" cy="488.7" r="1.05" fill="#585d66"/><circle cx="428.93" cy="488.7" r="1.05" fill="#585d66"/><circle cx="426.11" cy="490.5" r="1.05" fill="#585d66"/><circle cx="427.13" cy="492.3" r="1.05" fill="#585d66"/><circle cx="430.97" cy="492.3" r="1.05" fill="#585d66"/><circle cx="414.87" cy="490.8" r="1.05" fill="#585d66"/><circle cx="437.36" cy="490.2" r="1.05" fill="#585d66"/><circle cx="438.7" cy="487.7" r="1.05" fill="#585d66"/><circle cx="439.15" cy="492.3" r="1.05" fill="#585d66"/><circle cx="426.65" cy="485.9" r="1.05" fill="#585d66"/><circle cx="425.76" cy="494.1" r="1.05" fill="#585d66"/><circle cx="434.06" cy="486.3" r="1.05" fill="#585d66"/><circle cx="421.21" cy="486.2" r="1.05" fill="#585d66"/>
<polygon points="459.4,398.7 465.9,394.7 488.5,394.7 488.5,426.3 482,430.3 459.4,430.3" fill="#e29ca2" fill-opacity="0.82"/><polygon points="459.4,398.7 465.9,394.7 488.5,394.7 482,398.7" fill="#ffffff" fill-opacity="0.18"/><polygon points="482,398.7 488.5,394.7 488.5,426.3 482,430.3" fill="#000000" fill-opacity="0.04"/><polygon points="454.7,433.1 461.2,429.6 484.9,429.6 484.9,438.2 478.4,441.7 454.7,441.7" fill="#f5e5bd" fill-opacity="0.82"/><polygon points="454.7,433.1 461.2,429.6 484.9,429.6 478.4,433.1" fill="#ffffff" fill-opacity="0.18"/><polygon points="478.4,433.1 484.9,429.6 484.9,438.2 478.4,441.7" fill="#000000" fill-opacity="0.04"/><polygon points="458,445.9 464.5,442.4 488.3,442.4 488.3,449 481.8,452.5 458,452.5" fill="#a9cbe9" fill-opacity="0.82"/><polygon points="458,445.9 464.5,442.4 488.3,442.4 481.8,445.9" fill="#ffffff" fill-opacity="0.18"/><polygon points="481.8,445.9 488.3,442.4 488.3,449 481.8,452.5" fill="#000000" fill-opacity="0.04"/><line x1="467.4" y1="400.4" x2="467.4" y2="449.1" stroke="#5a4a4a" stroke-width="0.45" stroke-opacity="0.8"/><line x1="472.9" y1="400.4" x2="472.9" y2="449.1" stroke="#5a4a4a" stroke-width="0.45" stroke-opacity="0.8"/><path d="M462.9,399.4L466.65,399.4M466.65,399.4L469.59,396.4M466.65,399.4L465.58,401.9M472.72,397.8L469.59,396.4M472.72,397.8L474.06,399.4M475.57,400.9L474.06,399.4M475.57,400.9L473.16,402.6M475.57,400.9L478.52,397.4M481.64,398.8L478.52,397.4M481.64,398.8L482.98,399.4M481.64,398.8L480.75,401.6M482.98,399.4L487,398.4" stroke="#9a7ab0" stroke-width="0.5" fill="none"/><circle cx="462.9" cy="399.4" r="1.1" fill="#c6a2d6" stroke="#9a70b0" stroke-width="0.35"/><circle cx="469.59" cy="396.4" r="1.1" fill="#c6a2d6" stroke="#9a70b0" stroke-width="0.35"/><circle cx="474.06" cy="399.4" r="1.1" fill="#c6a2d6" stroke="#9a70b0" stroke-width="0.35"/><circle cx="478.52" cy="397.4" r="1.1" fill="#c6a2d6" stroke="#9a70b0" stroke-width="0.35"/><circle cx="482.98" cy="399.4" r="1.1" fill="#c6a2d6" stroke="#9a70b0" stroke-width="0.35"/><circle cx="487" cy="398.4" r="1.1" fill="#c6a2d6" stroke="#9a70b0" stroke-width="0.35"/><circle cx="465.58" cy="401.9" r="1.1" fill="#c6a2d6" stroke="#9a70b0" stroke-width="0.35"/><circle cx="473.16" cy="402.6" r="1.1" fill="#c6a2d6" stroke="#9a70b0" stroke-width="0.35"/><circle cx="480.75" cy="401.6" r="1.1" fill="#c6a2d6" stroke="#9a70b0" stroke-width="0.35"/><polygon points="464.95,400.3 468.35,400.3 466.85,398.2" fill="#3f8f2f"/><polygon points="471.02,398.7 474.42,398.7 472.92,396.6" fill="#3f8f2f"/><polygon points="473.87,401.8 477.27,401.8 475.77,399.7" fill="#3f8f2f"/><polygon points="479.94,399.7 483.34,399.7 481.84,397.6" fill="#3f8f2f"/><path d="M472.54,412.2L471.4,410.4M471.4,410.4L467.32,410.4M467.32,410.4L464.38,412.2M464.38,412.2L465.52,414M465.52,414L469.6,414M469.6,414L472.54,412.2M480.79,412.2L479.65,410.4M479.65,410.4L475.57,410.4M475.57,410.4L472.63,412.2M472.63,412.2L473.77,414M473.77,414L477.85,414M477.85,414L480.79,412.2M464.38,412.2L460.68,412.5M480.79,412.2L484.58,411.9M484.58,411.9L486,409.4M484.58,411.9L486.47,414M471.3,410.1L473.2,407.6M470.36,414.3L472.25,415.8M478.6,410.1L481.07,408M466.47,410.1L467.42,407.9" stroke="#a8382c" stroke-width="0.6" fill="none" stroke-opacity="0.85"/><circle cx="472.54" cy="412.2" r="1.05" fill="#a8382c"/><circle cx="471.4" cy="410.4" r="1.05" fill="#a8382c"/><circle cx="467.32" cy="410.4" r="1.05" fill="#a8382c"/><circle cx="464.38" cy="412.2" r="1.05" fill="#a8382c"/><circle cx="465.52" cy="414" r="1.05" fill="#a8382c"/><circle cx="469.6" cy="414" r="1.05" fill="#a8382c"/><circle cx="480.79" cy="412.2" r="1.05" fill="#a8382c"/><circle cx="479.65" cy="410.4" r="1.05" fill="#a8382c"/><circle cx="475.57" cy="410.4" r="1.05" fill="#a8382c"/><circle cx="472.63" cy="412.2" r="1.05" fill="#a8382c"/><circle cx="473.77" cy="414" r="1.05" fill="#a8382c"/><circle cx="477.85" cy="414" r="1.05" fill="#a8382c"/><circle cx="460.68" cy="412.5" r="1.05" fill="#a8382c"/><circle cx="484.58" cy="411.9" r="1.05" fill="#a8382c"/><circle cx="486" cy="409.4" r="1.05" fill="#a8382c"/><circle cx="486.47" cy="414" r="1.05" fill="#a8382c"/><circle cx="473.2" cy="407.6" r="1.05" fill="#a8382c"/><circle cx="472.25" cy="415.8" r="1.05" fill="#a8382c"/><circle cx="481.07" cy="408" r="1.05" fill="#a8382c"/><circle cx="467.42" cy="407.9" r="1.05" fill="#a8382c"/><path d="M472.54,425.2L471.4,423.4M471.4,423.4L467.32,423.4M467.32,423.4L464.38,425.2M464.38,425.2L465.52,427M465.52,427L469.6,427M469.6,427L472.54,425.2M480.79,425.2L479.65,423.4M479.65,423.4L475.57,423.4M475.57,423.4L472.63,425.2M472.63,425.2L473.77,427M473.77,427L477.85,427M477.85,427L480.79,425.2M464.38,425.2L460.68,425.5M480.79,425.2L484.58,424.9M484.58,424.9L486,422.4M484.58,424.9L486.47,427M471.3,423.1L473.2,420.6M470.36,427.3L472.25,428.8M478.6,423.1L481.07,421M466.47,423.1L467.42,420.9" stroke="#a8382c" stroke-width="0.6" fill="none" stroke-opacity="0.85"/><circle cx="472.54" cy="425.2" r="1.05" fill="#a8382c"/><circle cx="471.4" cy="423.4" r="1.05" fill="#a8382c"/><circle cx="467.32" cy="423.4" r="1.05" fill="#a8382c"/><circle cx="464.38" cy="425.2" r="1.05" fill="#a8382c"/><circle cx="465.52" cy="427" r="1.05" fill="#a8382c"/><circle cx="469.6" cy="427" r="1.05" fill="#a8382c"/><circle cx="480.79" cy="425.2" r="1.05" fill="#a8382c"/><circle cx="479.65" cy="423.4" r="1.05" fill="#a8382c"/><circle cx="475.57" cy="423.4" r="1.05" fill="#a8382c"/><circle cx="472.63" cy="425.2" r="1.05" fill="#a8382c"/><circle cx="473.77" cy="427" r="1.05" fill="#a8382c"/><circle cx="477.85" cy="427" r="1.05" fill="#a8382c"/><circle cx="460.68" cy="425.5" r="1.05" fill="#a8382c"/><circle cx="484.58" cy="424.9" r="1.05" fill="#a8382c"/><circle cx="486" cy="422.4" r="1.05" fill="#a8382c"/><circle cx="486.47" cy="427" r="1.05" fill="#a8382c"/><circle cx="473.2" cy="420.6" r="1.05" fill="#a8382c"/><circle cx="472.25" cy="428.8" r="1.05" fill="#a8382c"/><circle cx="481.07" cy="421" r="1.05" fill="#a8382c"/><circle cx="467.42" cy="420.9" r="1.05" fill="#a8382c"/><path d="M468.62,436.3L467.43,434.5M467.43,434.5L463.26,434.5M463.26,434.5L460.28,436.3M460.28,436.3L461.46,438.1M461.46,438.1L465.63,438.1M465.63,438.1L468.62,436.3M477.06,436.3L475.88,434.5M475.88,434.5L471.7,434.5M471.7,434.5L468.72,436.3M468.72,436.3L469.9,438.1M469.9,438.1L474.08,438.1M474.08,438.1L477.06,436.3M460.28,436.3L456.49,436.6M477.06,436.3L480.94,436M480.94,436L482.4,433.5M480.94,436L482.89,438.1M467.36,434.2L469.3,431.7M466.39,438.4L468.33,439.9M474.83,434.2L477.35,432.1M462.41,434.2L463.38,432" stroke="#a5733a" stroke-width="0.6" fill="none" stroke-opacity="0.85"/><circle cx="468.62" cy="436.3" r="1.05" fill="#a5733a"/><circle cx="467.43" cy="434.5" r="1.05" fill="#a5733a"/><circle cx="463.26" cy="434.5" r="1.05" fill="#a5733a"/><circle cx="460.28" cy="436.3" r="1.05" fill="#a5733a"/><circle cx="461.46" cy="438.1" r="1.05" fill="#a5733a"/><circle cx="465.63" cy="438.1" r="1.05" fill="#a5733a"/><circle cx="477.06" cy="436.3" r="1.05" fill="#a5733a"/><circle cx="475.88" cy="434.5" r="1.05" fill="#a5733a"/><circle cx="471.7" cy="434.5" r="1.05" fill="#a5733a"/><circle cx="468.72" cy="436.3" r="1.05" fill="#a5733a"/><circle cx="469.9" cy="438.1" r="1.05" fill="#a5733a"/><circle cx="474.08" cy="438.1" r="1.05" fill="#a5733a"/><circle cx="456.49" cy="436.6" r="1.05" fill="#a5733a"/><circle cx="480.94" cy="436" r="1.05" fill="#a5733a"/><circle cx="482.4" cy="433.5" r="1.05" fill="#a5733a"/><circle cx="482.89" cy="438.1" r="1.05" fill="#a5733a"/><circle cx="469.3" cy="431.7" r="1.05" fill="#a5733a"/><circle cx="468.33" cy="439.9" r="1.05" fill="#a5733a"/><circle cx="477.35" cy="432.1" r="1.05" fill="#a5733a"/><circle cx="463.38" cy="432" r="1.05" fill="#a5733a"/><path d="M471.97,449.1L470.77,447.3M470.77,447.3L466.59,447.3M466.59,447.3L463.59,449.1M463.59,449.1L464.79,450.9M464.79,450.9L468.97,450.9M468.97,450.9L471.97,449.1M480.44,449.1L479.25,447.3M479.25,447.3L475.06,447.3M475.06,447.3L472.07,449.1M472.07,449.1L473.26,450.9M473.26,450.9L477.45,450.9M477.45,450.9L480.44,449.1M463.59,449.1L459.79,449.4M480.44,449.1L484.34,448.8M484.34,448.8L485.8,446.3M484.34,448.8L486.29,450.9M470.7,447L472.65,444.5M469.73,451.2L471.68,452.7M478.2,447L480.73,444.9M465.73,447L466.71,444.8" stroke="#585d66" stroke-width="0.6" fill="none" stroke-opacity="0.85"/><circle cx="471.97" cy="449.1" r="1.05" fill="#585d66"/><circle cx="470.77" cy="447.3" r="1.05" fill="#585d66"/><circle cx="466.59" cy="447.3" r="1.05" fill="#585d66"/><circle cx="463.59" cy="449.1" r="1.05" fill="#585d66"/><circle cx="464.79" cy="450.9" r="1.05" fill="#585d66"/><circle cx="468.97" cy="450.9" r="1.05" fill="#585d66"/><circle cx="480.44" cy="449.1" r="1.05" fill="#585d66"/><circle cx="479.25" cy="447.3" r="1.05" fill="#585d66"/><circle cx="475.06" cy="447.3" r="1.05" fill="#585d66"/><circle cx="472.07" cy="449.1" r="1.05" fill="#585d66"/><circle cx="473.26" cy="450.9" r="1.05" fill="#585d66"/><circle cx="477.45" cy="450.9" r="1.05" fill="#585d66"/><circle cx="459.79" cy="449.4" r="1.05" fill="#585d66"/><circle cx="484.34" cy="448.8" r="1.05" fill="#585d66"/><circle cx="485.8" cy="446.3" r="1.05" fill="#585d66"/><circle cx="486.29" cy="450.9" r="1.05" fill="#585d66"/><circle cx="472.65" cy="444.5" r="1.05" fill="#585d66"/><circle cx="471.68" cy="452.7" r="1.05" fill="#585d66"/><circle cx="480.73" cy="444.9" r="1.05" fill="#585d66"/><circle cx="466.71" cy="444.8" r="1.05" fill="#585d66"/>
<polygon points="499.9,443.1 506.4,439.1 528,439.1 528,468.7 521.5,472.7 499.9,472.7" fill="#e29ca2" fill-opacity="0.82"/><polygon points="499.9,443.1 506.4,439.1 528,439.1 521.5,443.1" fill="#ffffff" fill-opacity="0.18"/><polygon points="521.5,443.1 528,439.1 528,468.7 521.5,472.7" fill="#000000" fill-opacity="0.04"/><polygon points="495.1,476.2 501.6,472.7 523.6,472.7 523.6,480.6 517.1,484.1 495.1,484.1" fill="#f5e5bd" fill-opacity="0.82"/><polygon points="495.1,476.2 501.6,472.7 523.6,472.7 517.1,476.2" fill="#ffffff" fill-opacity="0.18"/><polygon points="517.1,476.2 523.6,472.7 523.6,480.6 517.1,484.1" fill="#000000" fill-opacity="0.04"/><polygon points="494.4,488.2 500.9,484.7 523.2,484.7 523.2,492.6 516.7,496.1 494.4,496.1" fill="#a9cbe9" fill-opacity="0.82"/><polygon points="494.4,488.2 500.9,484.7 523.2,484.7 516.7,488.2" fill="#ffffff" fill-opacity="0.18"/><polygon points="516.7,488.2 523.2,484.7 523.2,492.6 516.7,496.1" fill="#000000" fill-opacity="0.04"/><line x1="507.9" y1="444.5" x2="507.9" y2="491.7" stroke="#5a4a4a" stroke-width="0.45" stroke-opacity="0.8"/><line x1="513.4" y1="444.5" x2="513.4" y2="491.7" stroke="#5a4a4a" stroke-width="0.45" stroke-opacity="0.8"/><path d="M503.4,443.5L506.99,443.5M506.99,443.5L509.82,440.5M506.99,443.5L505.97,446M512.81,441.9L509.82,440.5M512.81,441.9L514.09,443.5M515.55,445L514.09,443.5M515.55,445L513.24,446.7M515.55,445L518.37,441.5M521.37,442.9L518.37,441.5M521.37,442.9L522.65,443.5M521.37,442.9L520.51,445.7M522.65,443.5L526.5,442.5" stroke="#9a7ab0" stroke-width="0.5" fill="none"/><circle cx="503.4" cy="443.5" r="1.1" fill="#c6a2d6" stroke="#9a70b0" stroke-width="0.35"/><circle cx="509.82" cy="440.5" r="1.1" fill="#c6a2d6" stroke="#9a70b0" stroke-width="0.35"/><circle cx="514.09" cy="443.5" r="1.1" fill="#c6a2d6" stroke="#9a70b0" stroke-width="0.35"/><circle cx="518.37" cy="441.5" r="1.1" fill="#c6a2d6" stroke="#9a70b0" stroke-width="0.35"/><circle cx="522.65" cy="443.5" r="1.1" fill="#c6a2d6" stroke="#9a70b0" stroke-width="0.35"/><circle cx="526.5" cy="442.5" r="1.1" fill="#c6a2d6" stroke="#9a70b0" stroke-width="0.35"/><circle cx="505.97" cy="446" r="1.1" fill="#c6a2d6" stroke="#9a70b0" stroke-width="0.35"/><circle cx="513.24" cy="446.7" r="1.1" fill="#c6a2d6" stroke="#9a70b0" stroke-width="0.35"/><circle cx="520.51" cy="445.7" r="1.1" fill="#c6a2d6" stroke="#9a70b0" stroke-width="0.35"/><polygon points="505.29,444.4 508.69,444.4 507.19,442.3" fill="#3f8f2f"/><polygon points="511.11,442.8 514.51,442.8 513.01,440.7" fill="#3f8f2f"/><polygon points="513.85,445.9 517.25,445.9 515.75,443.8" fill="#3f8f2f"/><polygon points="519.67,443.8 523.07,443.8 521.57,441.7" fill="#3f8f2f"/><path d="M512.56,455.5L511.5,453.7M511.5,453.7L507.59,453.7M507.59,453.7L504.73,455.5M504.73,455.5L505.79,457.3M505.79,457.3L509.7,457.3M509.7,457.3L512.56,455.5M520.49,455.5L519.43,453.7M519.43,453.7L515.51,453.7M515.51,453.7L512.65,455.5M512.65,455.5L513.71,457.3M513.71,457.3L517.63,457.3M517.63,457.3L520.49,455.5M504.73,455.5L501.17,455.8M520.49,455.5L524.13,455.2M524.13,455.2L525.5,452.7M524.13,455.2L525.96,457.3M511.38,453.4L513.2,450.9M510.47,457.6L512.29,459.1M518.39,453.4L520.76,451.3M506.73,453.4L507.64,451.2" stroke="#a8382c" stroke-width="0.6" fill="none" stroke-opacity="0.85"/><circle cx="512.56" cy="455.5" r="1.05" fill="#a8382c"/><circle cx="511.5" cy="453.7" r="1.05" fill="#a8382c"/><circle cx="507.59" cy="453.7" r="1.05" fill="#a8382c"/><circle cx="504.73" cy="455.5" r="1.05" fill="#a8382c"/><circle cx="505.79" cy="457.3" r="1.05" fill="#a8382c"/><circle cx="509.7" cy="457.3" r="1.05" fill="#a8382c"/><circle cx="520.49" cy="455.5" r="1.05" fill="#a8382c"/><circle cx="519.43" cy="453.7" r="1.05" fill="#a8382c"/><circle cx="515.51" cy="453.7" r="1.05" fill="#a8382c"/><circle cx="512.65" cy="455.5" r="1.05" fill="#a8382c"/><circle cx="513.71" cy="457.3" r="1.05" fill="#a8382c"/><circle cx="517.63" cy="457.3" r="1.05" fill="#a8382c"/><circle cx="501.17" cy="455.8" r="1.05" fill="#a8382c"/><circle cx="524.13" cy="455.2" r="1.05" fill="#a8382c"/><circle cx="525.5" cy="452.7" r="1.05" fill="#a8382c"/><circle cx="525.96" cy="457.3" r="1.05" fill="#a8382c"/><circle cx="513.2" cy="450.9" r="1.05" fill="#a8382c"/><circle cx="512.29" cy="459.1" r="1.05" fill="#a8382c"/><circle cx="520.76" cy="451.3" r="1.05" fill="#a8382c"/><circle cx="507.64" cy="451.2" r="1.05" fill="#a8382c"/><path d="M512.56,467.6L511.5,465.8M511.5,465.8L507.59,465.8M507.59,465.8L504.73,467.6M504.73,467.6L505.79,469.4M505.79,469.4L509.7,469.4M509.7,469.4L512.56,467.6M520.49,467.6L519.43,465.8M519.43,465.8L515.51,465.8M515.51,465.8L512.65,467.6M512.65,467.6L513.71,469.4M513.71,469.4L517.63,469.4M517.63,469.4L520.49,467.6M504.73,467.6L501.17,467.9M520.49,467.6L524.13,467.3M524.13,467.3L525.5,464.8M524.13,467.3L525.96,469.4M511.38,465.5L513.2,463M510.47,469.7L512.29,471.2M518.39,465.5L520.76,463.4M506.73,465.5L507.64,463.3" stroke="#a8382c" stroke-width="0.6" fill="none" stroke-opacity="0.85"/><circle cx="512.56" cy="467.6" r="1.05" fill="#a8382c"/><circle cx="511.5" cy="465.8" r="1.05" fill="#a8382c"/><circle cx="507.59" cy="465.8" r="1.05" fill="#a8382c"/><circle cx="504.73" cy="467.6" r="1.05" fill="#a8382c"/><circle cx="505.79" cy="469.4" r="1.05" fill="#a8382c"/><circle cx="509.7" cy="469.4" r="1.05" fill="#a8382c"/><circle cx="520.49" cy="467.6" r="1.05" fill="#a8382c"/><circle cx="519.43" cy="465.8" r="1.05" fill="#a8382c"/><circle cx="515.51" cy="465.8" r="1.05" fill="#a8382c"/><circle cx="512.65" cy="467.6" r="1.05" fill="#a8382c"/><circle cx="513.71" cy="469.4" r="1.05" fill="#a8382c"/><circle cx="517.63" cy="469.4" r="1.05" fill="#a8382c"/><circle cx="501.17" cy="467.9" r="1.05" fill="#a8382c"/><circle cx="524.13" cy="467.3" r="1.05" fill="#a8382c"/><circle cx="525.5" cy="464.8" r="1.05" fill="#a8382c"/><circle cx="525.96" cy="469.4" r="1.05" fill="#a8382c"/><circle cx="513.2" cy="463" r="1.05" fill="#a8382c"/><circle cx="512.29" cy="471.2" r="1.05" fill="#a8382c"/><circle cx="520.76" cy="463.4" r="1.05" fill="#a8382c"/><circle cx="507.64" cy="463.3" r="1.05" fill="#a8382c"/><path d="M508.21,479L507.16,477.2M507.16,477.2L503.26,477.2M503.26,477.2L500.41,479M500.41,479L501.46,480.8M501.46,480.8L505.36,480.8M505.36,480.8L508.21,479M516.11,479L515.06,477.2M515.06,477.2L511.16,477.2M511.16,477.2L508.31,479M508.31,479L509.36,480.8M509.36,480.8L513.26,480.8M513.26,480.8L516.11,479M500.41,479L496.87,479.3M516.11,479L519.74,478.7M519.74,478.7L521.1,476.2M519.74,478.7L521.55,480.8M507.04,476.9L508.85,474.4M506.13,481.1L507.94,482.6M514.02,476.9L516.38,474.8M502.41,476.9L503.31,474.7" stroke="#a5733a" stroke-width="0.6" fill="none" stroke-opacity="0.85"/><circle cx="508.21" cy="479" r="1.05" fill="#a5733a"/><circle cx="507.16" cy="477.2" r="1.05" fill="#a5733a"/><circle cx="503.26" cy="477.2" r="1.05" fill="#a5733a"/><circle cx="500.41" cy="479" r="1.05" fill="#a5733a"/><circle cx="501.46" cy="480.8" r="1.05" fill="#a5733a"/><circle cx="505.36" cy="480.8" r="1.05" fill="#a5733a"/><circle cx="516.11" cy="479" r="1.05" fill="#a5733a"/><circle cx="515.06" cy="477.2" r="1.05" fill="#a5733a"/><circle cx="511.16" cy="477.2" r="1.05" fill="#a5733a"/><circle cx="508.31" cy="479" r="1.05" fill="#a5733a"/><circle cx="509.36" cy="480.8" r="1.05" fill="#a5733a"/><circle cx="513.26" cy="480.8" r="1.05" fill="#a5733a"/><circle cx="496.87" cy="479.3" r="1.05" fill="#a5733a"/><circle cx="519.74" cy="478.7" r="1.05" fill="#a5733a"/><circle cx="521.1" cy="476.2" r="1.05" fill="#a5733a"/><circle cx="521.55" cy="480.8" r="1.05" fill="#a5733a"/><circle cx="508.85" cy="474.4" r="1.05" fill="#a5733a"/><circle cx="507.94" cy="482.6" r="1.05" fill="#a5733a"/><circle cx="516.38" cy="474.8" r="1.05" fill="#a5733a"/><circle cx="503.31" cy="474.7" r="1.05" fill="#a5733a"/><path d="M507.66,491.7L506.58,489.9M506.58,489.9L502.63,489.9M502.63,489.9L499.76,491.7M499.76,491.7L500.83,493.5M500.83,493.5L504.78,493.5M504.78,493.5L507.66,491.7M515.65,491.7L514.57,489.9M514.57,489.9L510.62,489.9M510.62,489.9L507.75,491.7M507.75,491.7L508.82,493.5M508.82,493.5L512.77,493.5M512.77,493.5L515.65,491.7M499.76,491.7L496.18,492M515.65,491.7L519.32,491.4M519.32,491.4L520.7,488.9M519.32,491.4L521.16,493.5M506.46,489.6L508.3,487.1M505.54,493.8L507.38,495.3M513.54,489.6L515.92,487.5M501.78,489.6L502.7,487.4" stroke="#585d66" stroke-width="0.6" fill="none" stroke-opacity="0.85"/><circle cx="507.66" cy="491.7" r="1.05" fill="#585d66"/><circle cx="506.58" cy="489.9" r="1.05" fill="#585d66"/><circle cx="502.63" cy="489.9" r="1.05" fill="#585d66"/><circle cx="499.76" cy="491.7" r="1.05" fill="#585d66"/><circle cx="500.83" cy="493.5" r="1.05" fill="#585d66"/><circle cx="504.78" cy="493.5" r="1.05" fill="#585d66"/><circle cx="515.65" cy="491.7" r="1.05" fill="#585d66"/><circle cx="514.57" cy="489.9" r="1.05" fill="#585d66"/><circle cx="510.62" cy="489.9" r="1.05" fill="#585d66"/><circle cx="507.75" cy="491.7" r="1.05" fill="#585d66"/><circle cx="508.82" cy="493.5" r="1.05" fill="#585d66"/><circle cx="512.77" cy="493.5" r="1.05" fill="#585d66"/><circle cx="496.18" cy="492" r="1.05" fill="#585d66"/><circle cx="519.32" cy="491.4" r="1.05" fill="#585d66"/><circle cx="520.7" cy="488.9" r="1.05" fill="#585d66"/><circle cx="521.16" cy="493.5" r="1.05" fill="#585d66"/><circle cx="508.3" cy="487.1" r="1.05" fill="#585d66"/><circle cx="507.38" cy="495.3" r="1.05" fill="#585d66"/><circle cx="515.92" cy="487.5" r="1.05" fill="#585d66"/><circle cx="502.7" cy="487.4" r="1.05" fill="#585d66"/>
<line x1="387.4" y1="507.8" x2="387.4" y2="503.9" stroke="#333333" stroke-width="0.95" />
<line x1="415.8" y1="507.8" x2="415.8" y2="503.9" stroke="#333333" stroke-width="0.95" />
<line x1="444.2" y1="507.8" x2="444.2" y2="503.9" stroke="#333333" stroke-width="0.95" />
<line x1="472.6" y1="507.8" x2="472.6" y2="503.9" stroke="#333333" stroke-width="0.95" />
<line x1="501" y1="507.8" x2="501" y2="503.9" stroke="#333333" stroke-width="0.95" />
<line x1="529.4" y1="507.8" x2="529.4" y2="503.9" stroke="#333333" stroke-width="0.95" />
<line x1="557.8" y1="507.8" x2="557.8" y2="503.9" stroke="#333333" stroke-width="0.95" />
<line x1="379.3" y1="495.9" x2="383" y2="495.9" stroke="#333333" stroke-width="0.95" />
<text x="374.1" y="499.6" font-size="10.1" text-anchor="end" fill="#1a1a1a" stroke="#1a1a1a" >0</text>
<line x1="379.3" y1="444.1" x2="383" y2="444.1" stroke="#333333" stroke-width="0.95" />
<text x="374.1" y="447.8" font-size="10.1" text-anchor="end" fill="#1a1a1a" stroke="#1a1a1a" >2</text>
<line x1="379.3" y1="392.3" x2="383" y2="392.3" stroke="#333333" stroke-width="0.95" />
<text x="374.1" y="396" font-size="10.1" text-anchor="end" fill="#1a1a1a" stroke="#1a1a1a" >4</text>
<line x1="379.3" y1="392.5" x2="379.3" y2="507.8" stroke="#333333" stroke-width="1.0" /><line x1="379.3" y1="507.8" x2="566.5" y2="507.8" stroke="#333333" stroke-width="1.0" /><line x1="566.5" y1="392.5" x2="566.5" y2="507.8" stroke="#333333" stroke-width="1.0" /><line x1="379.3" y1="392.5" x2="566.5" y2="392.5" stroke="#333333" stroke-width="1.0" />
<path d="M387.4,495.9 C388.53,495.08 391.72,494.52 394.2,491 C396.68,487.48 399.82,480.67 402.3,474.8 C404.78,468.93 406.85,461.98 409.1,455.8 C411.35,449.62 413.55,442.88 415.8,437.7 C418.05,432.52 419.98,427.63 422.6,424.7 C425.22,421.77 428.78,420.33 431.5,420.1 C434.22,419.87 436.78,421.02 438.9,423.3 C441.02,425.58 442.22,428.83 444.2,433.8 C446.18,438.77 448.33,446.72 450.8,453.1 C453.27,459.48 456.52,466.9 459,472.1 C461.48,477.3 463.45,481.37 465.7,484.3 C467.95,487.23 470.02,489.7 472.5,489.7 C474.98,489.7 477.88,488.13 480.6,484.3 C483.32,480.47 486.32,472.8 488.8,466.7 C491.28,460.6 493.48,452.45 495.5,447.7 C497.52,442.95 498.87,441.58 500.9,438.2 C502.93,434.82 505.22,429.88 507.7,427.4 C510.18,424.92 513.32,423.3 515.8,423.3 C518.28,423.3 520.33,424.32 522.6,427.4 C524.87,430.48 526.92,435.25 529.4,441.8 C531.88,448.35 534.8,459.17 537.5,466.7 C540.2,474.23 543.35,482.03 545.6,487 C547.85,491.97 548.97,494.12 551,496.5 C553.03,498.88 556.67,500.5 557.8,501.3" fill="none" stroke="#111" stroke-width="1.05"/>
<circle cx="387.4" cy="495.9" r="2.5" fill="#b01018" stroke="#3a3a3a" stroke-width="0.5"/>
<circle cx="415.8" cy="437.7" r="2.5" fill="#8a8a8a" stroke="#3a3a3a" stroke-width="0.5"/>
<circle cx="444.2" cy="433.8" r="2.5" fill="#8a8a8a" stroke="#3a3a3a" stroke-width="0.5"/>
<circle cx="472.5" cy="489.7" r="2.5" fill="#b01018" stroke="#3a3a3a" stroke-width="0.5"/>
<circle cx="500.9" cy="438.2" r="2.5" fill="#8a8a8a" stroke="#3a3a3a" stroke-width="0.5"/>
<circle cx="529.4" cy="441.8" r="2.5" fill="#8a8a8a" stroke="#3a3a3a" stroke-width="0.5"/>
<circle cx="557.8" cy="501.3" r="2.5" fill="#b01018" stroke="#3a3a3a" stroke-width="0.5"/>
<text x="391.5" y="503" font-size="8.8" fill="#aa3a30" stroke="#aa3a30" style="stroke-width:0.12px" >ABBCA</text>
<text x="459" y="464.5" font-size="8.8" fill="#aa3a30" stroke="#aa3a30" style="stroke-width:0.12px" >ABBAB</text>
<text x="519.9" y="502.4" font-size="8.8" fill="#aa3a30" stroke="#aa3a30" style="stroke-width:0.12px" >ABBAC</text>
<text x="387.4" y="520.4" font-size="10.1" text-anchor="middle" fill="#1a1a1a" stroke="#1a1a1a" >Initial</text>
<text x="557.5" y="520.4" font-size="10.1" text-anchor="middle" fill="#1a1a1a" stroke="#1a1a1a" >Final</text><text transform="translate(359.5,448.7) rotate(-90)" font-size="9.5" text-anchor="middle" fill="#1a1a1a" stroke="#1a1a1a"><tspan font-style="italic">ΔE</tspan> (meV u.c.<tspan font-size="7" dy="-3.5">−1</tspan><tspan dy="3.5">)</tspan></text>
<line x1="606.4" y1="507.8" x2="606.4" y2="503.9" stroke="#333333" stroke-width="0.95" />
<line x1="617.78" y1="507.8" x2="617.78" y2="503.9" stroke="#333333" stroke-width="0.95" />
<line x1="629.16" y1="507.8" x2="629.16" y2="503.9" stroke="#333333" stroke-width="0.95" />
<line x1="640.54" y1="507.8" x2="640.54" y2="503.9" stroke="#333333" stroke-width="0.95" />
<line x1="651.92" y1="507.8" x2="651.92" y2="503.9" stroke="#333333" stroke-width="0.95" />
<line x1="663.3" y1="507.8" x2="663.3" y2="503.9" stroke="#333333" stroke-width="0.95" />
<line x1="674.68" y1="507.8" x2="674.68" y2="503.9" stroke="#333333" stroke-width="0.95" />
<line x1="603.7" y1="392.2" x2="607.4" y2="392.2" stroke="#333333" stroke-width="0.95" />
<text x="598.5" y="395.9" font-size="10.1" text-anchor="end" fill="#1a1a1a" stroke="#1a1a1a" >1.2</text>
<line x1="603.7" y1="431.3" x2="607.4" y2="431.3" stroke="#333333" stroke-width="0.95" />
<text x="598.5" y="435" font-size="10.1" text-anchor="end" fill="#1a1a1a" stroke="#1a1a1a" >1.1</text>
<line x1="603.7" y1="470" x2="607.4" y2="470" stroke="#333333" stroke-width="0.95" />
<text x="598.5" y="473.7" font-size="10.1" text-anchor="end" fill="#1a1a1a" stroke="#1a1a1a" >1.0</text>
<line x1="603.7" y1="507.8" x2="607.4" y2="507.8" stroke="#333333" stroke-width="0.95" />
<text x="598.5" y="511.5" font-size="10.1" text-anchor="end" fill="#1a1a1a" stroke="#1a1a1a" >0.9</text>
<line x1="603.7" y1="392.5" x2="603.7" y2="507.8" stroke="#333333" stroke-width="1.0" /><line x1="603.7" y1="507.8" x2="677.4" y2="507.8" stroke="#333333" stroke-width="1.0" /><line x1="677.4" y1="392.5" x2="677.4" y2="507.8" stroke="#333333" stroke-width="1.0" /><line x1="603.7" y1="392.5" x2="677.4" y2="392.5" stroke="#333333" stroke-width="1.0" />
<path d="M606.4,472.9 C607.17,476.08 609.1,487.08 611,492 C612.9,496.92 615.72,502.07 617.8,502.4 C619.88,502.73 621.6,498.28 623.5,494 C625.4,489.72 627.32,481.03 629.2,476.7 C631.08,472.37 632.95,470.43 634.8,468 C636.65,465.57 638.43,464.68 640.3,462.1 C642.17,459.52 644.1,456.12 646,452.5 C647.9,448.88 649.78,445.82 651.7,440.4 C653.62,434.98 655.57,425.55 657.5,420 C659.43,414.45 661.72,408.43 663.3,407.1 C664.88,405.77 665.8,408.52 667,412 C668.2,415.48 669.22,420.7 670.5,428 C671.78,435.3 674,451.17 674.7,455.8" fill="none" stroke="#111" stroke-width="1.05"/>
<circle cx="606.4" cy="472.9" r="2.5" fill="#b01018" stroke="#3a3a3a" stroke-width="0.5"/>
<circle cx="617.8" cy="502.4" r="2.5" fill="#8a8a8a" stroke="#3a3a3a" stroke-width="0.5"/>
<circle cx="629.2" cy="476.7" r="2.5" fill="#8a8a8a" stroke="#3a3a3a" stroke-width="0.5"/>
<circle cx="640.3" cy="462.1" r="2.5" fill="#b01018" stroke="#3a3a3a" stroke-width="0.5"/>
<circle cx="651.7" cy="440.4" r="2.5" fill="#8a8a8a" stroke="#3a3a3a" stroke-width="0.5"/>
<circle cx="663.3" cy="407.1" r="2.5" fill="#8a8a8a" stroke="#3a3a3a" stroke-width="0.5"/>
<circle cx="674.7" cy="455.8" r="2.5" fill="#b01018" stroke="#3a3a3a" stroke-width="0.5"/>
<text x="606.8" y="468" font-size="8.8" fill="#aa3a30" stroke="#aa3a30" style="stroke-width:0.12px" transform="rotate(-45 606.8 468)">ABBCA</text>
<text x="643" y="475.5" font-size="8.8" fill="#aa3a30" stroke="#aa3a30" style="stroke-width:0.12px" transform="rotate(-45 643 475.5)">ABBAB</text>
<text x="657.5" y="482" font-size="8.8" fill="#aa3a30" stroke="#aa3a30" style="stroke-width:0.12px" transform="rotate(-45 657.5 482)">ABBAC</text>
<text x="606.4" y="520.4" font-size="10.1" text-anchor="middle" fill="#1a1a1a" stroke="#1a1a1a" >Initial</text>
<text x="674.7" y="520.4" font-size="10.1" text-anchor="middle" fill="#1a1a1a" stroke="#1a1a1a" >Final</text><text transform="translate(581.5,450.5) rotate(-90)" font-size="10" text-anchor="middle" fill="#1a1a1a" stroke="#1a1a1a"><tspan font-style="italic">P</tspan><tspan font-size="7" dy="1.6">2D</tspan><tspan dy="-1.6"> (pC m</tspan><tspan font-size="7" dy="-3.5">−1</tspan><tspan dy="3.5">)</tspan></text>
<text x="0.3" y="8.9" font-size="13.5" font-weight="bold" fill="#000" stroke="#000">a</text>
<text x="208.2" y="10.7" font-size="13.5" font-weight="bold" fill="#000" stroke="#000">b</text>
<text x="494.7" y="8.8" font-size="13.5" font-weight="bold" fill="#000" stroke="#000">c</text>
<text x="-0.3" y="209.6" font-size="13.5" font-weight="bold" fill="#000" stroke="#000">d</text>
<text x="207.5" y="207.2" font-size="13.5" font-weight="bold" fill="#000" stroke="#000">e</text>
<text x="494.6" y="209.8" font-size="13.5" font-weight="bold" fill="#000" stroke="#000">f</text>
<text x="0.0" y="396.3" font-size="13.5" font-weight="bold" fill="#000" stroke="#000">g</text>
<text x="224.5" y="400.6" font-size="13.5" font-weight="bold" fill="#000" stroke="#000">h</text>
<text x="353.3" y="400.6" font-size="13.5" font-weight="bold" fill="#000" stroke="#000">i</text>
<text x="573.6" y="400.6" font-size="13.5" font-weight="bold" fill="#000" stroke="#000">j</text>
</svg></body></html>
